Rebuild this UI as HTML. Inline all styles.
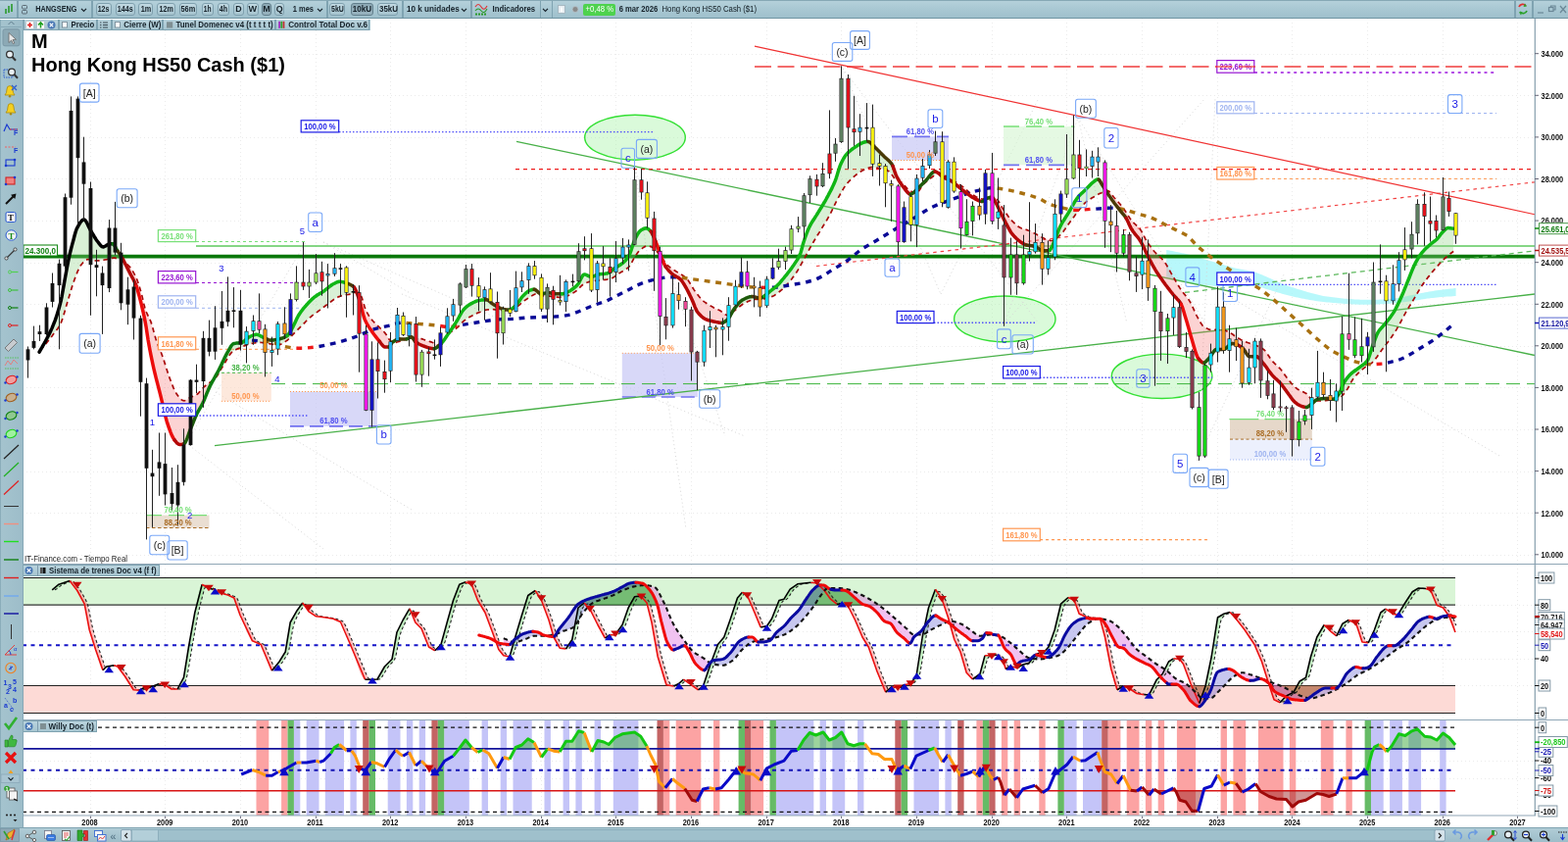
<!DOCTYPE html>
<html lang="es"><head><meta charset="utf-8"><title>HANGSENG - Hong Kong HS50 Cash ($1)</title>
<style>
html,body{margin:0;padding:0;background:#fff;}
body{width:1600px;height:859px;position:relative;overflow:hidden;font-family:"Liberation Sans",Arial,sans-serif;}

.tb{position:absolute;left:0;top:0;width:1600px;height:18px;background:linear-gradient(#6f94a2 0,#b4d0da 1.5px,#a9c8d3 9px,#9fc0cc 18px);border-bottom:1px solid #6f94a2;box-sizing:content-box;font-size:9.6px;font-weight:bold;color:#16222a;white-space:nowrap;}
.tb span,.tb2 span,.pt span{position:absolute;display:block;box-sizing:border-box;}
.btn{top:2.5px;height:13px;line-height:12.5px;border:1px solid #7fa0ae;border-radius:3px;background:linear-gradient(#c0d8e1,#a6c4cf);text-align:center;}
.btn.on{background:linear-gradient(#8ba7b3,#98b3bf);border-color:#627f8c;}
.lbl{top:3px;height:14px;line-height:14px;}
.sep{top:1px;width:1.5px;height:16.5px;background:#7fa3b1;}
.tb2{position:absolute;left:24px;top:20px;width:354px;height:11px;background:#a6c5d0;font-size:9.3px;font-weight:bold;color:#16222a;white-space:nowrap;}
.tab{top:0;height:11px;line-height:10.5px;border:1px solid #7fa3b1;border-top:none;background:linear-gradient(#b9d3dd,#a6c5d0);}
.left{position:absolute;left:0;top:20px;width:22.5px;height:825px;background:linear-gradient(90deg,#7fa3b1 0,#a4c3ce 1.5px,#9dbdc9 100%);border-right:1px solid #86a8b6;}
.bot{position:absolute;left:0;top:844px;width:1600px;height:15px;background:linear-gradient(#b0ccd6,#9dbdc9);border-top:1px solid #7fa3b1;box-sizing:border-box;}
.pt{position:absolute;left:23.5px;height:12px;background:linear-gradient(#b9d3dd,#a6c5d0);border:1px solid #7fa3b1;border-left:none;font-size:9.3px;font-weight:bold;color:#16222a;white-space:nowrap;box-sizing:border-box;}
.ov{position:absolute;left:0;top:0;pointer-events:none;}

</style></head><body>
<svg id="chart" width="1600" height="859" viewBox="0 0 1600 859" style="position:absolute;left:0;top:0" font-family="Liberation Sans, Arial, sans-serif">
<rect x="0" y="0" width="1600" height="859" fill="#ffffff"/>
<defs>
<clipPath id="cpMain"><rect x="23.5" y="19.5" width="1543" height="555.5"/></clipPath>
<clipPath id="cpI1"><rect x="23.5" y="576" width="1545" height="158"/></clipPath>
<clipPath id="cpI2"><rect x="23.5" y="735" width="1545" height="97"/></clipPath>
</defs>
<path d="M92.5 19V832 M168.5 19V832 M245.5 19V832 M322.5 19V832 M398.5 19V832 M475.5 19V832 M552.5 19V832 M628.5 19V832 M705.5 19V832 M782.5 19V832 M858.5 19V832 M935.5 19V832 M1012.5 19V832 M1088.5 19V832 M1165.5 19V832 M1242.5 19V832 M1318.5 19V832 M1395.5 19V832 M1472.5 19V832 M1548.5 19V832 M23 566.5H1566 M23 523.5H1566 M23 481.5H1566 M23 438.5H1566 M23 395.5H1566 M23 353.5H1566 M23 310.5H1566 M23 268.5H1566 M23 225.5H1566 M23 182.5H1566 M23 140.5H1566 M23 97.5H1566 M23 55.5H1566" stroke="#ebebeb" stroke-width="1" stroke-dasharray="1 3" fill="none" clip-path="url(#cpMain)"/>
<path d="M92.5 576V832 M168.5 576V832 M245.5 576V832 M322.5 576V832 M398.5 576V832 M475.5 576V832 M552.5 576V832 M628.5 576V832 M705.5 576V832 M782.5 576V832 M858.5 576V832 M935.5 576V832 M1012.5 576V832 M1088.5 576V832 M1165.5 576V832 M1242.5 576V832 M1318.5 576V832 M1395.5 576V832 M1472.5 576V832 M1548.5 576V832 M23 644.5H1566 M23 672.5H1566 M23 776.5H1566 M23 794.5H1566 M1486 617.5H1566 M1486 699.5H1566" stroke="#ebebeb" stroke-width="1" stroke-dasharray="1 3" fill="none"/>
<g clip-path="url(#cpMain)">
<path d="M1190.2 254.9 L1192.2 255.3 L1194.2 255.7 L1196.2 256.1 L1198.2 256.5 L1200.2 256.9 L1202.2 257.3 L1204.2 257.8 L1206.2 258.2 L1208.2 258.6 L1210.2 259.1 L1212.2 259.6 L1214.2 260.1 L1216.2 260.7 L1218.2 261.2 L1220.2 261.8 L1222.2 262.4 L1224.2 263.0 L1226.2 263.6 L1228.2 264.2 L1230.2 264.8 L1232.2 265.4 L1234.2 266.0 L1236.2 266.6 L1238.2 267.1 L1240.2 267.7 L1242.2 268.3 L1244.2 268.9 L1246.2 269.5 L1248.2 270.1 L1250.2 270.7 L1252.2 271.3 L1254.2 271.8 L1256.2 272.4 L1258.2 272.9 L1260.2 273.4 L1262.2 273.9 L1264.2 274.3 L1266.2 274.7 L1268.2 275.1 L1270.2 275.4 L1272.2 275.8 L1274.2 276.2 L1276.2 276.6 L1278.2 277.0 L1280.2 277.6 L1282.2 278.2 L1284.2 278.9 L1286.2 279.7 L1288.2 280.5 L1290.2 281.4 L1292.2 282.3 L1294.2 283.2 L1296.2 284.1 L1298.2 285.0 L1300.2 285.9 L1302.2 286.9 L1304.2 287.8 L1306.2 288.7 L1308.2 289.5 L1310.2 290.2 L1312.2 291.0 L1314.2 291.7 L1316.2 292.3 L1318.2 293.0 L1320.2 293.6 L1322.2 294.3 L1324.2 294.9 L1326.2 295.5 L1328.2 296.1 L1330.2 296.7 L1332.2 297.3 L1334.2 297.9 L1336.2 298.4 L1338.2 299.0 L1340.2 299.5 L1342.2 300.1 L1344.2 300.6 L1346.2 301.1 L1348.2 301.5 L1350.2 301.9 L1352.2 302.2 L1354.2 302.5 L1356.2 302.8 L1358.2 303.1 L1360.2 303.3 L1362.2 303.6 L1364.2 303.8 L1366.2 304.0 L1368.2 304.3 L1370.2 304.5 L1372.2 304.7 L1374.2 304.8 L1376.2 305.0 L1378.2 305.1 L1380.2 305.3 L1382.2 305.4 L1384.2 305.5 L1386.2 305.6 L1388.2 305.7 L1390.2 305.7 L1392.2 305.7 L1394.2 305.7 L1396.2 305.7 L1398.2 305.7 L1400.2 305.7 L1402.2 305.7 L1404.2 305.7 L1406.2 305.7 L1408.2 305.6 L1410.2 305.5 L1412.2 305.4 L1414.2 305.2 L1416.2 305.1 L1418.2 304.9 L1420.2 304.7 L1422.2 304.5 L1424.2 304.2 L1426.2 303.9 L1428.2 303.5 L1430.2 303.2 L1432.2 302.8 L1434.2 302.5 L1436.2 302.1 L1438.2 301.6 L1440.2 301.2 L1442.2 300.8 L1444.2 300.4 L1446.2 300.0 L1448.2 299.6 L1450.2 299.1 L1452.2 298.7 L1454.2 298.3 L1456.2 298.0 L1458.2 297.6 L1460.2 297.3 L1462.2 296.9 L1464.2 296.6 L1466.2 296.3 L1468.2 296.0 L1470.2 295.7 L1472.2 295.4 L1474.2 295.2 L1476.2 295.0 L1478.2 294.8 L1480.2 294.6 L1482.2 294.4 L1484.2 294.1 L1485.6 294.0 L1485.6 302.0 L1484.2 302.1 L1482.2 302.2 L1480.2 302.4 L1478.2 302.5 L1476.2 302.6 L1474.2 302.8 L1472.2 302.9 L1470.2 303.1 L1468.2 303.3 L1466.2 303.5 L1464.2 303.7 L1462.2 303.9 L1460.2 304.1 L1458.2 304.4 L1456.2 304.6 L1454.2 304.9 L1452.2 305.3 L1450.2 305.6 L1448.2 305.9 L1446.2 306.2 L1444.2 306.5 L1442.2 306.8 L1440.2 307.1 L1438.2 307.4 L1436.2 307.7 L1434.2 308.0 L1432.2 308.3 L1430.2 308.5 L1428.2 308.8 L1426.2 309.0 L1424.2 309.2 L1422.2 309.4 L1420.2 309.6 L1418.2 309.8 L1416.2 309.9 L1414.2 310.0 L1412.2 310.1 L1410.2 310.2 L1408.2 310.3 L1406.2 310.4 L1404.2 310.5 L1402.2 310.5 L1400.2 310.6 L1398.2 310.7 L1396.2 310.7 L1394.2 310.8 L1392.2 310.8 L1390.2 310.8 L1388.2 310.8 L1386.2 310.7 L1384.2 310.6 L1382.2 310.5 L1380.2 310.4 L1378.2 310.3 L1376.2 310.2 L1374.2 310.1 L1372.2 309.9 L1370.2 309.8 L1368.2 309.6 L1366.2 309.4 L1364.2 309.2 L1362.2 309.1 L1360.2 308.9 L1358.2 308.7 L1356.2 308.6 L1354.2 308.4 L1352.2 308.2 L1350.2 308.0 L1348.2 307.7 L1346.2 307.5 L1344.2 307.2 L1342.2 306.9 L1340.2 306.6 L1338.2 306.2 L1336.2 305.9 L1334.2 305.6 L1332.2 305.2 L1330.2 304.8 L1328.2 304.4 L1326.2 304.0 L1324.2 303.6 L1322.2 303.2 L1320.2 302.8 L1318.2 302.3 L1316.2 301.8 L1314.2 301.3 L1312.2 300.8 L1310.2 300.2 L1308.2 299.7 L1306.2 299.1 L1304.2 298.5 L1302.2 297.9 L1300.2 297.3 L1298.2 296.7 L1296.2 296.1 L1294.2 295.5 L1292.2 294.9 L1290.2 294.3 L1288.2 293.6 L1286.2 293.0 L1284.2 292.5 L1282.2 292.2 L1280.2 292.0 L1278.2 292.0 L1276.2 292.0 L1274.2 292.0 L1272.2 292.0 L1270.2 292.0 L1268.2 292.0 L1266.2 292.0 L1264.2 292.0 L1262.2 292.0 L1260.2 292.0 L1258.2 292.0 L1256.2 292.0 L1254.2 292.0 L1252.2 292.0 L1250.2 292.0 L1248.2 292.0 L1246.2 292.0 L1244.2 292.0 L1242.2 292.0 L1240.2 291.9 L1238.2 291.8 L1236.2 291.6 L1234.2 291.5 L1232.2 291.3 L1230.2 291.1 L1228.2 290.8 L1226.2 290.6 L1224.2 290.3 L1222.2 290.0 L1220.2 289.7 L1218.2 289.5 L1216.2 289.2 L1214.2 288.9 L1212.2 288.5 L1210.2 288.2 L1208.2 287.7 L1206.2 287.2 L1204.2 286.7 L1202.2 286.2 L1200.2 285.7 L1198.2 285.1 L1196.2 284.6 L1194.2 284.0 L1192.2 283.5 L1190.2 283.0Z" fill="#a6f6fa" fill-opacity="0.8"/>
<ellipse cx="648" cy="140.2" rx="51.3" ry="23" fill="#a8f2a8" fill-opacity="0.42" stroke="#34e034" stroke-width="1.4"/>
<ellipse cx="1025.3" cy="325.4" rx="51.7" ry="23.4" fill="#a8f2a8" fill-opacity="0.42" stroke="#34e034" stroke-width="1.4"/>
<ellipse cx="1185.6" cy="383.8" rx="51.3" ry="22.7" fill="#a8f2a8" fill-opacity="0.42" stroke="#34e034" stroke-width="1.4"/>
<path d="M190.0 452.0L330.0 560.0" stroke="#d6d6d6" stroke-width="1" fill="none" stroke-dasharray="1 3"/>
<path d="M190.0 452.0L312.0 247.0" stroke="#d6d6d6" stroke-width="1" fill="none" stroke-dasharray="1 3"/>
<path d="M220.0 400.0L420.0 520.0" stroke="#d6d6d6" stroke-width="1" fill="none" stroke-dasharray="1 3"/>
<path d="M330.0 247.0L520.0 330.0" stroke="#d6d6d6" stroke-width="1" fill="none" stroke-dasharray="1 3"/>
<path d="M330.0 247.0L420.0 300.0" stroke="#d6d6d6" stroke-width="1" fill="none" stroke-dasharray="1 3"/>
<path d="M410.0 300.0L760.0 445.0" stroke="#d6d6d6" stroke-width="1" fill="none" stroke-dasharray="1 3"/>
<path d="M648.0 172.0L700.0 540.0" stroke="#d6d6d6" stroke-width="1" fill="none" stroke-dasharray="1 3"/>
<path d="M648.0 172.0L740.0 445.0" stroke="#d6d6d6" stroke-width="1" fill="none" stroke-dasharray="1 3"/>
<path d="M860.0 70.0L1060.0 330.0" stroke="#d6d6d6" stroke-width="1" fill="none" stroke-dasharray="1 3"/>
<path d="M860.0 70.0L960.0 300.0" stroke="#d6d6d6" stroke-width="1" fill="none" stroke-dasharray="1 3"/>
<path d="M1025.0 330.0L1100.0 120.0" stroke="#d6d6d6" stroke-width="1" fill="none" stroke-dasharray="1 3"/>
<path d="M1025.0 330.0L1230.0 100.0" stroke="#d6d6d6" stroke-width="1" fill="none" stroke-dasharray="1 3"/>
<path d="M1100.0 120.0L1230.0 330.0" stroke="#d6d6d6" stroke-width="1" fill="none" stroke-dasharray="1 3"/>
<path d="M1222.0 470.0L1310.0 280.0" stroke="#d6d6d6" stroke-width="1" fill="none" stroke-dasharray="1 3"/>
<path d="M1222.0 470.0L1240.0 100.0" stroke="#d6d6d6" stroke-width="1" fill="none" stroke-dasharray="1 3"/>
<path d="M1250.0 300.0L1530.0 465.0" stroke="#d6d6d6" stroke-width="1" fill="none" stroke-dasharray="1 3"/>
<path d="M1100.0 120.0L1150.0 330.0" stroke="#d6d6d6" stroke-width="1" fill="none" stroke-dasharray="1 3"/>
<path d="M960.0 300.0L1060.0 100.0" stroke="#d6d6d6" stroke-width="1" fill="none" stroke-dasharray="1 3"/>
<rect x="226" y="380.3" width="50.8" height="29" fill="#fbd9c4" fill-opacity="0.6"/>
<rect x="296" y="399.5" width="89" height="35.3" fill="#c8c8f5" fill-opacity="0.7"/>
<rect x="149" y="525.6" width="64.500" height="12.9" fill="#dcc8b4" fill-opacity="0.6"/>
<rect x="634.8" y="360.3" width="77.2" height="44.7" fill="#c8c8f5" fill-opacity="0.7"/>
<rect x="910" y="139.3" width="58" height="24.2" fill="#c8c8f5" fill-opacity="0.7"/>
<rect x="1024" y="129" width="72.3" height="39.3" fill="#d4f5d0" fill-opacity="0.6"/>
<rect x="1255" y="427.7" width="83.8" height="20.4" fill="#dcc8b4" fill-opacity="0.7"/>
<rect x="1255" y="448.1" width="83.8" height="20.9" fill="#e4eafc" fill-opacity="0.7"/>
<path d="M226.0 380.3L276.8 380.3" stroke="#46b446" stroke-width="1" fill="none" stroke-dasharray="3 2.5"/>
<path d="M226.0 409.3L276.8 409.3" stroke="#ff9650" stroke-width="1" fill="none" stroke-dasharray="1 2"/>
<path d="M296.0 399.5L385.0 399.5" stroke="#ff9650" stroke-width="1" fill="none" stroke-dasharray="1 2"/>
<path d="M296.0 434.8L385.0 434.8" stroke="#7272f0" stroke-width="1.7" fill="none" stroke-dasharray="14 6"/>
<path d="M149.0 525.6L213.0 525.6" stroke="#78e078" stroke-width="1.3" fill="none" stroke-dasharray="16 7"/>
<path d="M149.0 538.5L213.5 538.5" stroke="#aa6e28" stroke-width="1.1" fill="none" stroke-dasharray="3.500 2.500"/>
<path d="M634.8 360.3L712.0 360.3" stroke="#ff9650" stroke-width="1" fill="none" stroke-dasharray="1 2"/>
<path d="M634.8 405.0L712.0 405.0" stroke="#7272f0" stroke-width="1.7" fill="none" stroke-dasharray="14 6"/>
<path d="M910.0 139.3L968.0 139.3" stroke="#7272f0" stroke-width="1.7" fill="none" stroke-dasharray="16 7"/>
<path d="M910.0 163.5L968.0 163.5" stroke="#ff9650" stroke-width="1" fill="none" stroke-dasharray="1 2"/>
<path d="M1024.0 129.0L1096.3 129.0" stroke="#78e078" stroke-width="1.5" fill="none" stroke-dasharray="16 7"/>
<path d="M1024.0 168.3L1096.3 168.3" stroke="#7272f0" stroke-width="1.7" fill="none" stroke-dasharray="16 7"/>
<path d="M1254.4 427.7L1338.0 427.7" stroke="#78e078" stroke-width="1.3" fill="none" stroke-dasharray="30 6"/>
<path d="M1255.0 448.1L1338.8 448.1" stroke="#aa6e28" stroke-width="1" fill="none" stroke-dasharray="3 2.5"/>
<path d="M1255.0 469.0L1338.8 469.0" stroke="#9fb4f0" stroke-width="1" fill="none" stroke-dasharray="1 2"/>
<path d="M23.0 261.6L1566.0 261.6" stroke="#0a780a" stroke-width="3.6" fill="none"/>
<path d="M200.0 251.0L1566.0 251.0" stroke="#5cc85c" stroke-width="1.3" fill="none"/>
<path d="M200.0 246.5L312.0 246.5" stroke="#78e078" stroke-width="1" fill="none" stroke-dasharray="3 3"/>
<path d="M200.0 288.5L309.4 288.5" stroke="#9614d2" stroke-width="1" fill="none" stroke-dasharray="3 3"/>
<path d="M200.0 314.3L312.0 314.3" stroke="#9fb4f0" stroke-width="1" fill="none" stroke-dasharray="3 3"/>
<path d="M200.0 356.3L302.0 356.3" stroke="#ff9650" stroke-width="1" fill="none" stroke-dasharray="3 3"/>
<path d="M200.0 424.0L313.4 424.0" stroke="#5050f8" stroke-width="1.4" fill="none" stroke-dasharray="1.500 2"/>
<path d="M346.0 134.6L667.6 134.6" stroke="#5050f8" stroke-width="1.4" fill="none" stroke-dasharray="1.500 2"/>
<path d="M953.0 329.3L1057.5 329.3" stroke="#5050f8" stroke-width="1.4" fill="none" stroke-dasharray="1.500 2"/>
<path d="M1061.0 385.2L1237.0 385.2" stroke="#5050f8" stroke-width="1.4" fill="none" stroke-dasharray="1.500 2"/>
<path d="M1280.0 290.4L1528.0 290.4" stroke="#5050f8" stroke-width="1.4" fill="none" stroke-dasharray="1.500 2"/>
<path d="M1061.0 550.7L1235.0 550.7" stroke="#ff9650" stroke-width="1.2" fill="none" stroke-dasharray="3 3"/>
<path d="M1280.0 74.0L1527.0 74.0" stroke="#b44ee6" stroke-width="2" fill="none" stroke-dasharray="3 3.700"/>
<path d="M1280.0 115.5L1527.0 115.5" stroke="#9fb4f0" stroke-width="1" fill="none" stroke-dasharray="3 3"/>
<path d="M1280.0 182.4L1527.0 182.4" stroke="#ff9650" stroke-width="1" fill="none" stroke-dasharray="3 3"/>
<path d="M277.0 391.6L1566.0 391.6" stroke="#3cb43c" stroke-width="1" fill="none" stroke-dasharray="14 7"/>
<path d="M527.0 144.4L1566.0 362.5" stroke="#48b048" stroke-width="1.3" fill="none"/>
<path d="M219.0 454.7L1566.0 300.0" stroke="#48b048" stroke-width="1.3" fill="none"/>
<path d="M1209.0 298.4L1566.0 255.9" stroke="#5cb85c" stroke-width="1.3" fill="none" stroke-dasharray="5 4"/>
<path d="M526.0 172.6L1566.0 172.6" stroke="#ee1c1c" stroke-width="1.25" fill="none" stroke-dasharray="4 4"/>
<path d="M833.0 271.5L1566.0 185.8" stroke="#f24444" stroke-width="1.2" fill="none" stroke-dasharray="3.5 4"/>
<path d="M770.0 68.0L1566.0 68.0" stroke="#f03c3c" stroke-width="1.5" fill="none" stroke-dasharray="17 6.5"/>
<path d="M770.0 47.1L1566.0 218.7" stroke="#f03232" stroke-width="1.1" fill="none"/>
<path d="M41.0 357.5 L42.0 355.8 L43.0 354.0 L44.0 352.3 L45.0 350.5 L46.0 348.7 L47.0 346.9 L48.0 345.0 L49.0 343.1 L50.0 341.1 L51.0 339.1 L52.0 337.0 L53.0 334.8 L54.0 332.5 L55.0 330.0 L56.0 327.4 L57.0 324.6 L58.0 321.6 L59.0 318.4 L60.0 315.0 L61.0 311.4 L62.0 307.5 L63.0 302.8 L64.0 297.4 L65.0 291.6 L66.0 286.1 L67.0 280.6 L68.0 275.1 L69.0 269.7 L70.0 264.6 L71.0 260.1 L72.0 255.9 L73.0 252.0 L74.0 248.2 L75.0 244.5 L76.0 240.7 L77.0 237.1 L78.0 234.1 L79.0 232.0 L80.0 230.2 L81.0 228.5 L82.0 226.9 L83.0 225.6 L84.0 224.7 L85.0 224.1 L86.0 224.1 L87.0 224.8 L88.0 226.2 L89.0 228.1 L90.0 230.1 L91.0 232.3 L92.0 234.2 L93.0 235.9 L94.0 237.6 L95.0 239.3 L96.0 241.0 L97.0 242.7 L98.0 244.2 L99.0 245.6 L100.0 246.9 L101.0 248.2 L102.0 249.6 L103.0 250.7 L104.0 251.6 L105.0 252.0 L106.0 251.8 L107.0 251.4 L108.0 250.7 L109.0 250.0 L110.0 249.5 L111.0 249.2 L112.0 249.0 L113.0 248.8 L114.0 248.7 L115.0 248.7 L116.0 249.3 L117.0 250.8 L118.0 252.7 L119.0 254.5 L120.0 256.0 L121.0 257.4 L122.0 258.9 L123.0 260.4 L124.0 262.0 L125.0 263.7 L126.0 265.5 L127.0 267.5 L127.0 267.4 L126.0 266.7 L125.0 266.1 L124.0 265.7 L123.0 265.2 L122.0 264.7 L121.0 264.3 L120.0 263.9 L119.0 263.6 L118.0 263.4 L117.0 263.2 L116.0 263.2 L115.0 263.3 L114.0 263.5 L113.0 263.7 L112.0 264.0 L111.0 264.3 L110.0 264.5 L109.0 264.7 L108.0 264.8 L107.0 265.0 L106.0 265.2 L105.0 265.3 L104.0 265.5 L103.0 265.6 L102.0 265.8 L101.0 265.9 L100.0 265.9 L99.0 266.0 L98.0 266.0 L97.0 265.9 L96.0 265.8 L95.0 265.5 L94.0 265.3 L93.0 265.1 L92.0 264.8 L91.0 264.7 L90.0 264.6 L89.0 264.7 L88.0 265.1 L87.0 265.8 L86.0 266.7 L85.0 267.7 L84.0 268.8 L83.0 270.0 L82.0 271.3 L81.0 273.0 L80.0 275.1 L79.0 277.4 L78.0 280.0 L77.0 282.6 L76.0 285.2 L75.0 288.0 L74.0 291.0 L73.0 294.2 L72.0 297.6 L71.0 300.9 L70.0 304.3 L69.0 307.6 L68.0 310.9 L67.0 314.4 L66.0 317.9 L65.0 321.3 L64.0 324.6 L63.0 327.4 L62.0 329.8 L61.0 331.7 L60.0 333.4 L59.0 335.0 L58.0 336.4 L57.0 337.8 L56.0 339.1 L55.0 340.3 L54.0 341.6 L53.0 343.0 L52.0 344.3 L51.0 345.5 L50.0 346.8 L49.0 348.0 L48.0 349.3 L47.0 350.5 L46.0 351.7 L45.0 352.9 L44.0 354.1 L43.0 355.3 L42.0 356.5 L41.0 357.7Z" fill="rgba(140,210,130,0.33)" stroke="none"/>
<path d="M127.0 267.5 L128.0 269.5 L129.0 271.5 L130.0 273.6 L131.0 275.6 L132.0 277.6 L133.0 279.5 L134.0 281.3 L135.0 283.1 L136.0 285.0 L137.0 287.1 L138.0 289.3 L139.0 291.8 L140.0 294.7 L141.0 298.1 L142.0 301.7 L143.0 305.6 L144.0 309.5 L145.0 313.6 L146.0 317.8 L147.0 322.4 L148.0 327.4 L149.0 333.0 L150.0 339.6 L151.0 346.2 L152.0 351.9 L153.0 357.2 L154.0 362.3 L155.0 367.2 L156.0 371.8 L157.0 376.3 L158.0 380.6 L159.0 384.7 L160.0 388.7 L161.0 392.5 L162.0 396.4 L163.0 400.2 L164.0 404.2 L165.0 408.4 L166.0 412.7 L167.0 417.1 L168.0 421.4 L169.0 425.4 L170.0 429.1 L171.0 432.3 L172.0 435.3 L173.0 438.1 L174.0 440.8 L175.0 443.3 L176.0 445.5 L177.0 447.3 L178.0 448.8 L179.0 450.1 L180.0 451.3 L181.0 452.3 L182.0 453.0 L183.0 453.4 L184.0 453.5 L185.0 453.4 L186.0 453.2 L187.0 452.9 L188.0 452.4 L189.0 451.3 L190.0 449.4 L191.0 447.0 L192.0 444.3 L193.0 441.5 L194.0 438.8 L195.0 436.4 L196.0 433.9 L197.0 431.3 L198.0 428.7 L199.0 426.3 L200.0 424.0 L201.0 422.0 L202.0 420.1 L203.0 418.3 L204.0 416.6 L205.0 414.8 L206.0 413.0 L207.0 411.0 L208.0 408.8 L209.0 406.4 L210.0 404.0 L211.0 401.5 L212.0 399.0 L213.0 396.7 L214.0 394.5 L215.0 392.5 L216.0 390.6 L217.0 388.7 L218.0 386.9 L218.0 387.4 L217.0 388.2 L216.0 388.9 L215.0 389.6 L214.0 390.3 L213.0 390.9 L212.0 391.6 L211.0 392.3 L210.0 393.1 L209.0 394.0 L208.0 394.9 L207.0 396.0 L206.0 397.1 L205.0 398.3 L204.0 399.4 L203.0 400.5 L202.0 401.5 L201.0 402.3 L200.0 403.0 L199.0 403.5 L198.0 403.9 L197.0 404.3 L196.0 404.6 L195.0 405.0 L194.0 405.5 L193.0 406.1 L192.0 406.8 L191.0 407.5 L190.0 408.1 L189.0 408.5 L188.0 408.8 L187.0 408.7 L186.0 408.3 L185.0 407.6 L184.0 406.6 L183.0 405.5 L182.0 404.2 L181.0 402.9 L180.0 401.6 L179.0 399.8 L178.0 397.8 L177.0 395.6 L176.0 393.1 L175.0 390.6 L174.0 388.0 L173.0 385.4 L172.0 382.6 L171.0 379.6 L170.0 376.5 L169.0 373.3 L168.0 370.1 L167.0 366.9 L166.0 364.0 L165.0 361.2 L164.0 358.7 L163.0 356.3 L162.0 353.9 L161.0 351.5 L160.0 348.9 L159.0 345.8 L158.0 342.3 L157.0 338.6 L156.0 334.9 L155.0 331.4 L154.0 328.4 L153.0 326.0 L152.0 323.9 L151.0 322.0 L150.0 320.0 L149.0 317.6 L148.0 314.7 L147.0 310.8 L146.0 306.4 L145.0 302.1 L144.0 298.5 L143.0 295.1 L142.0 291.7 L141.0 288.6 L140.0 285.8 L139.0 283.3 L138.0 281.3 L137.0 279.4 L136.0 277.6 L135.0 275.9 L134.0 274.5 L133.0 273.1 L132.0 271.9 L131.0 270.9 L130.0 269.9 L129.0 269.0 L128.0 268.1 L127.0 267.4Z" fill="rgba(245,120,120,0.33)" stroke="none"/>
<path d="M218.0 386.9 L219.0 385.2 L220.0 383.4 L221.0 381.6 L222.0 379.8 L223.0 378.0 L224.0 376.0 L225.0 374.0 L226.0 371.9 L227.0 369.8 L228.0 367.6 L229.0 365.5 L230.0 363.5 L231.0 361.5 L232.0 359.7 L233.0 358.0 L234.0 356.3 L235.0 354.5 L236.0 352.9 L237.0 351.6 L238.0 350.8 L239.0 350.5 L240.0 350.3 L241.0 350.1 L242.0 350.0 L243.0 349.9 L244.0 349.8 L245.0 349.7 L246.0 349.5 L247.0 349.3 L248.0 348.8 L249.0 348.1 L250.0 347.3 L251.0 346.4 L252.0 345.5 L253.0 344.7 L254.0 344.0 L255.0 343.5 L256.0 343.0 L257.0 342.6 L258.0 342.1 L259.0 341.8 L260.0 341.5 L261.0 341.3 L262.0 341.3 L263.0 341.5 L264.0 341.8 L265.0 342.3 L266.0 342.8 L267.0 343.4 L268.0 343.9 L269.0 344.5 L270.0 344.9 L271.0 345.3 L272.0 345.7 L273.0 346.2 L274.0 346.5 L275.0 346.8 L276.0 347.0 L277.0 347.1 L278.0 347.1 L279.0 347.0 L280.0 346.9 L281.0 346.7 L282.0 346.5 L283.0 346.3 L284.0 346.1 L285.0 345.9 L286.0 345.7 L287.0 345.4 L288.0 345.0 L289.0 344.6 L290.0 344.2 L291.0 343.7 L292.0 343.1 L293.0 342.5 L294.0 341.6 L295.0 340.2 L296.0 338.6 L297.0 336.9 L298.0 335.2 L299.0 333.3 L300.0 331.2 L301.0 329.1 L302.0 326.9 L303.0 324.8 L304.0 322.9 L305.0 321.2 L306.0 319.7 L307.0 318.2 L308.0 316.9 L309.0 315.6 L310.0 314.3 L311.0 313.1 L312.0 312.0 L313.0 310.8 L314.0 309.7 L315.0 308.6 L316.0 307.6 L317.0 306.6 L318.0 305.6 L319.0 304.7 L320.0 303.8 L321.0 303.0 L322.0 302.2 L323.0 301.5 L324.0 300.9 L325.0 300.3 L326.0 299.7 L327.0 299.1 L328.0 298.5 L329.0 297.9 L330.0 297.3 L331.0 296.6 L332.0 295.8 L333.0 295.0 L334.0 294.2 L335.0 293.3 L336.0 292.5 L337.0 291.7 L338.0 291.0 L339.0 290.4 L340.0 289.8 L341.0 289.3 L342.0 288.8 L343.0 288.3 L344.0 287.9 L345.0 287.5 L346.0 287.4 L347.0 287.3 L348.0 287.4 L349.0 287.5 L350.0 287.8 L351.0 288.1 L352.0 288.4 L353.0 288.7 L354.0 289.0 L355.0 289.3 L356.0 289.7 L357.0 290.1 L358.0 290.6 L359.0 291.2 L360.0 291.9 L361.0 292.7 L362.0 294.1 L363.0 296.0 L364.0 298.4 L364.0 298.3 L363.0 298.2 L362.0 298.4 L361.0 298.8 L360.0 299.3 L359.0 299.8 L358.0 300.1 L357.0 300.2 L356.0 300.4 L355.0 300.5 L354.0 300.6 L353.0 300.7 L352.0 300.9 L351.0 301.1 L350.0 301.3 L349.0 301.6 L348.0 301.9 L347.0 302.2 L346.0 302.6 L345.0 303.0 L344.0 303.5 L343.0 304.0 L342.0 304.6 L341.0 305.3 L340.0 306.0 L339.0 306.8 L338.0 307.5 L337.0 308.3 L336.0 309.1 L335.0 309.8 L334.0 310.5 L333.0 311.3 L332.0 312.0 L331.0 312.8 L330.0 313.5 L329.0 314.3 L328.0 315.1 L327.0 315.8 L326.0 316.6 L325.0 317.3 L324.0 318.1 L323.0 318.8 L322.0 319.5 L321.0 320.2 L320.0 320.9 L319.0 321.7 L318.0 322.5 L317.0 323.3 L316.0 324.1 L315.0 325.1 L314.0 326.0 L313.0 327.0 L312.0 328.0 L311.0 329.1 L310.0 330.1 L309.0 331.2 L308.0 332.2 L307.0 333.2 L306.0 334.2 L305.0 335.2 L304.0 336.2 L303.0 337.2 L302.0 338.2 L301.0 339.2 L300.0 340.2 L299.0 341.2 L298.0 342.3 L297.0 343.5 L296.0 344.5 L295.0 345.5 L294.0 346.4 L293.0 347.2 L292.0 347.9 L291.0 348.6 L290.0 349.2 L289.0 349.9 L288.0 350.5 L287.0 351.0 L286.0 351.4 L285.0 351.7 L284.0 351.8 L283.0 351.8 L282.0 351.7 L281.0 351.6 L280.0 351.5 L279.0 351.3 L278.0 351.2 L277.0 351.0 L276.0 350.8 L275.0 350.7 L274.0 350.5 L273.0 350.4 L272.0 350.2 L271.0 350.0 L270.0 349.9 L269.0 349.7 L268.0 349.6 L267.0 349.5 L266.0 349.4 L265.0 349.4 L264.0 349.4 L263.0 349.5 L262.0 349.6 L261.0 349.7 L260.0 349.9 L259.0 350.0 L258.0 350.2 L257.0 350.4 L256.0 350.6 L255.0 350.8 L254.0 351.1 L253.0 351.4 L252.0 351.8 L251.0 352.2 L250.0 352.6 L249.0 353.0 L248.0 353.5 L247.0 353.9 L246.0 354.4 L245.0 354.8 L244.0 355.2 L243.0 355.6 L242.0 356.0 L241.0 356.5 L240.0 357.0 L239.0 357.6 L238.0 358.2 L237.0 358.9 L236.0 359.9 L235.0 361.1 L234.0 362.5 L233.0 364.1 L232.0 365.8 L231.0 367.5 L230.0 369.2 L229.0 370.9 L228.0 372.5 L227.0 374.2 L226.0 375.9 L225.0 377.7 L224.0 379.5 L223.0 381.3 L222.0 382.9 L221.0 384.3 L220.0 385.5 L219.0 386.5 L218.0 387.4Z" fill="rgba(140,210,130,0.33)" stroke="none"/>
<path d="M364.0 298.4 L365.0 301.1 L366.0 303.8 L367.0 306.7 L368.0 310.3 L369.0 314.3 L370.0 318.4 L371.0 322.2 L372.0 325.3 L373.0 327.6 L374.0 329.6 L375.0 331.4 L376.0 333.0 L377.0 334.5 L378.0 335.9 L379.0 337.4 L380.0 338.8 L381.0 340.3 L382.0 341.7 L383.0 343.0 L384.0 344.3 L385.0 345.6 L386.0 346.7 L387.0 348.0 L388.0 349.3 L389.0 350.6 L390.0 351.9 L391.0 353.0 L392.0 353.7 L393.0 354.1 L394.0 354.1 L395.0 354.1 L396.0 354.1 L397.0 354.0 L398.0 352.8 L399.0 351.1 L400.0 349.6 L401.0 348.8 L401.0 349.0 L400.0 348.5 L399.0 347.9 L398.0 347.2 L397.0 346.2 L396.0 344.6 L395.0 342.9 L394.0 341.2 L393.0 339.9 L392.0 338.7 L391.0 337.7 L390.0 336.7 L389.0 335.7 L388.0 334.8 L387.0 333.8 L386.0 332.8 L385.0 331.8 L384.0 330.9 L383.0 330.0 L382.0 329.0 L381.0 328.0 L380.0 326.9 L379.0 325.7 L378.0 324.4 L377.0 323.0 L376.0 321.4 L375.0 319.7 L374.0 317.8 L373.0 315.7 L372.0 312.7 L371.0 309.3 L370.0 305.9 L369.0 303.0 L368.0 301.0 L367.0 300.0 L366.0 299.3 L365.0 298.7 L364.0 298.3Z" fill="rgba(245,120,120,0.33)" stroke="none"/>
<path d="M401.0 348.8 L402.0 348.1 L403.0 347.4 L404.0 346.9 L405.0 346.4 L406.0 346.1 L407.0 345.9 L408.0 345.9 L409.0 345.9 L410.0 345.9 L411.0 345.9 L412.0 345.9 L413.0 345.9 L414.0 345.9 L415.0 345.8 L415.0 345.6 L414.0 346.0 L413.0 346.4 L412.0 346.8 L411.0 347.1 L410.0 347.5 L409.0 347.7 L408.0 348.1 L407.0 348.4 L406.0 348.8 L405.0 349.0 L404.0 349.3 L403.0 349.4 L402.0 349.3 L401.0 349.0Z" fill="rgba(140,210,130,0.33)" stroke="none"/>
<path d="M415.0 345.8 L416.0 345.5 L417.0 345.0 L418.0 344.5 L418.0 344.7 L417.0 344.9 L416.0 345.2 L415.0 345.6Z" fill="rgba(245,120,120,0.33)" stroke="none"/>
<path d="M418.0 344.5 L419.0 344.2 L420.0 344.0 L421.0 344.6 L421.0 344.5 L420.0 344.5 L419.0 344.6 L418.0 344.7Z" fill="rgba(140,210,130,0.33)" stroke="none"/>
<path d="M421.0 344.6 L422.0 346.0 L423.0 347.6 L424.0 348.7 L425.0 349.4 L426.0 350.0 L427.0 350.6 L428.0 351.2 L429.0 351.7 L430.0 352.1 L431.0 352.5 L432.0 352.9 L433.0 353.3 L434.0 353.6 L435.0 354.0 L436.0 354.3 L437.0 354.6 L438.0 354.9 L439.0 355.2 L440.0 355.4 L441.0 355.6 L442.0 355.7 L443.0 355.7 L444.0 355.4 L445.0 354.9 L446.0 354.2 L447.0 353.4 L448.0 352.5 L449.0 351.6 L450.0 350.7 L451.0 349.7 L452.0 348.4 L452.0 348.6 L451.0 349.5 L450.0 350.3 L449.0 351.1 L448.0 351.7 L447.0 352.1 L446.0 352.2 L445.0 351.8 L444.0 350.9 L443.0 350.1 L442.0 349.6 L441.0 349.3 L440.0 348.9 L439.0 348.6 L438.0 348.3 L437.0 348.0 L436.0 347.7 L435.0 347.4 L434.0 347.0 L433.0 346.6 L432.0 346.3 L431.0 345.9 L430.0 345.6 L429.0 345.4 L428.0 345.2 L427.0 345.1 L426.0 344.9 L425.0 344.8 L424.0 344.7 L423.0 344.6 L422.0 344.6 L421.0 344.5Z" fill="rgba(245,120,120,0.33)" stroke="none"/>
<path d="M452.0 348.4 L453.0 347.1 L454.0 345.6 L455.0 344.1 L456.0 342.7 L457.0 341.2 L458.0 339.8 L459.0 338.3 L460.0 336.9 L461.0 335.4 L462.0 333.9 L463.0 332.3 L464.0 330.8 L465.0 329.2 L466.0 327.6 L467.0 325.9 L468.0 324.1 L469.0 322.3 L470.0 320.5 L471.0 318.8 L472.0 317.2 L473.0 316.0 L474.0 314.9 L475.0 313.9 L476.0 313.0 L477.0 312.2 L478.0 311.4 L479.0 310.8 L480.0 310.2 L481.0 309.6 L482.0 309.1 L483.0 308.6 L484.0 308.1 L485.0 307.7 L486.0 307.3 L487.0 306.9 L488.0 306.7 L489.0 306.4 L490.0 306.3 L491.0 306.1 L492.0 306.0 L493.0 305.9 L494.0 305.8 L495.0 305.7 L496.0 305.7 L497.0 305.9 L498.0 306.3 L499.0 307.0 L500.0 307.8 L501.0 308.7 L502.0 309.5 L503.0 310.2 L504.0 310.8 L505.0 311.4 L506.0 312.0 L507.0 312.6 L508.0 313.2 L509.0 313.7 L510.0 314.2 L511.0 314.6 L512.0 314.9 L513.0 315.1 L514.0 315.4 L515.0 315.6 L516.0 315.8 L517.0 315.9 L518.0 316.0 L519.0 316.1 L520.0 316.0 L521.0 315.7 L522.0 315.2 L523.0 314.5 L524.0 313.7 L525.0 312.8 L526.0 311.9 L527.0 310.9 L528.0 309.7 L529.0 308.3 L530.0 306.8 L531.0 305.3 L532.0 303.9 L533.0 302.6 L534.0 301.6 L535.0 300.6 L536.0 299.6 L537.0 298.7 L538.0 297.8 L539.0 297.1 L540.0 296.6 L541.0 296.2 L542.0 295.8 L543.0 295.5 L544.0 295.3 L545.0 295.2 L546.0 295.5 L547.0 296.1 L548.0 297.0 L549.0 298.0 L550.0 298.9 L551.0 299.5 L552.0 299.8 L553.0 299.7 L554.0 299.6 L555.0 299.4 L556.0 299.1 L557.0 298.9 L558.0 298.8 L559.0 298.7 L560.0 298.7 L561.0 298.8 L562.0 299.0 L563.0 299.1 L564.0 299.3 L565.0 299.5 L566.0 299.6 L567.0 299.7 L568.0 299.8 L569.0 299.8 L570.0 299.8 L571.0 299.8 L572.0 299.8 L573.0 299.8 L574.0 299.7 L575.0 299.5 L576.0 299.2 L577.0 298.9 L578.0 298.4 L579.0 298.0 L580.0 297.5 L581.0 297.0 L582.0 296.4 L583.0 295.8 L584.0 295.1 L585.0 294.4 L586.0 293.5 L587.0 292.7 L588.0 291.8 L589.0 290.8 L590.0 289.6 L591.0 287.9 L592.0 286.0 L593.0 284.0 L594.0 282.2 L595.0 280.8 L596.0 280.1 L597.0 280.1 L598.0 280.4 L599.0 280.8 L600.0 281.3 L601.0 281.8 L602.0 282.2 L603.0 282.4 L604.0 282.3 L605.0 282.1 L606.0 281.7 L607.0 281.2 L608.0 280.8 L609.0 280.3 L610.0 280.0 L611.0 279.9 L612.0 279.7 L613.0 279.6 L614.0 279.5 L615.0 279.5 L616.0 279.4 L617.0 279.3 L618.0 279.2 L619.0 279.0 L620.0 278.8 L621.0 278.3 L622.0 277.8 L623.0 277.1 L624.0 276.3 L625.0 275.4 L626.0 274.6 L627.0 273.9 L628.0 273.2 L629.0 272.5 L630.0 271.9 L631.0 271.3 L632.0 270.7 L633.0 270.1 L634.0 269.4 L635.0 268.7 L636.0 267.9 L637.0 267.0 L638.0 265.9 L639.0 264.8 L640.0 263.5 L641.0 262.0 L642.0 260.4 L643.0 258.2 L644.0 255.4 L645.0 252.3 L646.0 249.1 L647.0 246.3 L648.0 244.0 L649.0 242.0 L650.0 240.1 L651.0 238.3 L652.0 236.8 L653.0 235.7 L654.0 234.9 L655.0 234.3 L656.0 233.8 L657.0 233.3 L658.0 233.0 L659.0 232.8 L660.0 232.9 L661.0 233.3 L662.0 234.0 L663.0 234.9 L664.0 235.9 L665.0 237.4 L666.0 239.4 L667.0 241.6 L668.0 243.9 L669.0 246.3 L670.0 248.9 L671.0 251.7 L672.0 254.4 L673.0 257.1 L674.0 259.8 L675.0 262.6 L676.0 265.3 L676.0 263.9 L675.0 262.7 L674.0 261.4 L673.0 260.1 L672.0 258.7 L671.0 257.4 L670.0 256.1 L669.0 255.0 L668.0 254.0 L667.0 253.2 L666.0 252.6 L665.0 252.1 L664.0 251.6 L663.0 251.2 L662.0 250.9 L661.0 250.8 L660.0 250.9 L659.0 251.2 L658.0 251.6 L657.0 252.2 L656.0 252.9 L655.0 253.6 L654.0 254.4 L653.0 255.2 L652.0 256.2 L651.0 257.4 L650.0 258.7 L649.0 260.2 L648.0 261.6 L647.0 263.2 L646.0 265.1 L645.0 267.1 L644.0 269.0 L643.0 270.7 L642.0 272.0 L641.0 272.9 L640.0 273.7 L639.0 274.4 L638.0 275.1 L637.0 275.7 L636.0 276.3 L635.0 276.9 L634.0 277.5 L633.0 278.1 L632.0 278.8 L631.0 279.5 L630.0 280.2 L629.0 280.9 L628.0 281.6 L627.0 282.3 L626.0 282.9 L625.0 283.5 L624.0 284.0 L623.0 284.4 L622.0 284.7 L621.0 284.9 L620.0 285.0 L619.0 285.2 L618.0 285.3 L617.0 285.4 L616.0 285.5 L615.0 285.6 L614.0 285.7 L613.0 285.9 L612.0 286.0 L611.0 286.1 L610.0 286.2 L609.0 286.3 L608.0 286.4 L607.0 286.5 L606.0 286.6 L605.0 286.7 L604.0 286.9 L603.0 287.1 L602.0 287.3 L601.0 287.5 L600.0 287.9 L599.0 288.2 L598.0 288.6 L597.0 289.1 L596.0 289.6 L595.0 290.2 L594.0 291.0 L593.0 291.9 L592.0 292.9 L591.0 294.0 L590.0 295.0 L589.0 295.9 L588.0 296.8 L587.0 297.5 L586.0 298.1 L585.0 298.8 L584.0 299.4 L583.0 299.9 L582.0 300.5 L581.0 301.0 L580.0 301.4 L579.0 301.8 L578.0 302.1 L577.0 302.3 L576.0 302.6 L575.0 302.8 L574.0 303.0 L573.0 303.1 L572.0 303.2 L571.0 303.3 L570.0 303.3 L569.0 303.2 L568.0 303.1 L567.0 303.0 L566.0 302.9 L565.0 302.7 L564.0 302.5 L563.0 302.4 L562.0 302.3 L561.0 302.2 L560.0 302.1 L559.0 302.0 L558.0 302.0 L557.0 301.9 L556.0 301.9 L555.0 301.8 L554.0 301.6 L553.0 301.4 L552.0 301.1 L551.0 300.7 L550.0 300.3 L549.0 300.0 L548.0 299.8 L547.0 299.8 L546.0 300.0 L545.0 300.4 L544.0 301.0 L543.0 301.6 L542.0 302.3 L541.0 302.9 L540.0 303.5 L539.0 304.1 L538.0 304.8 L537.0 305.4 L536.0 306.1 L535.0 306.8 L534.0 307.6 L533.0 308.3 L532.0 309.1 L531.0 310.1 L530.0 311.0 L529.0 311.9 L528.0 312.7 L527.0 313.4 L526.0 314.0 L525.0 314.6 L524.0 315.1 L523.0 315.6 L522.0 316.1 L521.0 316.4 L520.0 316.6 L519.0 316.6 L518.0 316.6 L517.0 316.6 L516.0 316.6 L515.0 316.6 L514.0 316.6 L513.0 316.6 L512.0 316.6 L511.0 316.6 L510.0 316.6 L509.0 316.5 L508.0 316.4 L507.0 316.2 L506.0 316.0 L505.0 315.9 L504.0 315.7 L503.0 315.7 L502.0 315.7 L501.0 315.7 L500.0 315.8 L499.0 315.9 L498.0 315.9 L497.0 316.0 L496.0 316.1 L495.0 316.3 L494.0 316.6 L493.0 316.9 L492.0 317.3 L491.0 317.7 L490.0 318.2 L489.0 318.6 L488.0 319.0 L487.0 319.4 L486.0 319.9 L485.0 320.4 L484.0 320.9 L483.0 321.4 L482.0 321.9 L481.0 322.4 L480.0 323.0 L479.0 323.6 L478.0 324.2 L477.0 324.8 L476.0 325.5 L475.0 326.2 L474.0 326.9 L473.0 327.7 L472.0 328.6 L471.0 329.6 L470.0 330.7 L469.0 331.8 L468.0 332.8 L467.0 333.8 L466.0 334.7 L465.0 335.5 L464.0 336.1 L463.0 336.7 L462.0 337.3 L461.0 337.9 L460.0 338.5 L459.0 339.3 L458.0 340.3 L457.0 341.7 L456.0 343.2 L455.0 344.7 L454.0 346.2 L453.0 347.6 L452.0 348.6Z" fill="rgba(140,210,130,0.33)" stroke="none"/>
<path d="M676.0 265.3 L677.0 267.8 L678.0 269.9 L679.0 271.5 L680.0 273.0 L681.0 274.4 L682.0 275.6 L683.0 276.7 L684.0 277.7 L685.0 278.7 L686.0 279.5 L687.0 280.3 L688.0 280.9 L689.0 281.5 L690.0 282.1 L691.0 282.7 L692.0 283.3 L693.0 284.0 L694.0 284.7 L695.0 285.7 L696.0 287.0 L697.0 288.5 L698.0 290.1 L699.0 291.8 L700.0 293.6 L701.0 295.3 L702.0 297.2 L703.0 299.2 L704.0 301.3 L705.0 303.4 L706.0 305.5 L707.0 307.8 L708.0 310.3 L709.0 312.8 L710.0 315.2 L711.0 317.2 L712.0 318.7 L713.0 319.9 L714.0 321.0 L715.0 322.0 L716.0 322.9 L717.0 323.7 L718.0 324.5 L719.0 325.1 L720.0 325.6 L721.0 326.1 L722.0 326.4 L723.0 326.7 L724.0 327.0 L725.0 327.3 L726.0 327.5 L727.0 327.7 L728.0 327.9 L729.0 328.1 L730.0 328.3 L731.0 328.6 L732.0 328.8 L733.0 329.0 L734.0 329.2 L735.0 329.3 L736.0 329.4 L737.0 329.4 L738.0 329.1 L739.0 328.6 L740.0 327.9 L741.0 327.1 L742.0 326.3 L743.0 325.3 L744.0 323.9 L745.0 322.3 L746.0 320.5 L747.0 318.7 L747.0 319.2 L746.0 320.0 L745.0 320.7 L744.0 321.2 L743.0 321.5 L742.0 321.5 L741.0 321.2 L740.0 320.7 L739.0 320.0 L738.0 319.3 L737.0 318.5 L736.0 317.8 L735.0 317.1 L734.0 316.6 L733.0 316.1 L732.0 315.6 L731.0 315.2 L730.0 314.7 L729.0 314.2 L728.0 313.7 L727.0 313.1 L726.0 312.6 L725.0 312.0 L724.0 311.4 L723.0 310.8 L722.0 310.2 L721.0 309.5 L720.0 308.8 L719.0 308.1 L718.0 307.3 L717.0 306.4 L716.0 305.4 L715.0 304.3 L714.0 303.2 L713.0 302.0 L712.0 300.7 L711.0 299.4 L710.0 298.1 L709.0 296.8 L708.0 295.4 L707.0 293.8 L706.0 292.2 L705.0 290.5 L704.0 288.8 L703.0 287.2 L702.0 285.8 L701.0 284.5 L700.0 283.5 L699.0 282.7 L698.0 281.9 L697.0 281.2 L696.0 280.6 L695.0 280.0 L694.0 279.4 L693.0 278.9 L692.0 278.2 L691.0 277.6 L690.0 276.9 L689.0 276.3 L688.0 275.7 L687.0 275.1 L686.0 274.4 L685.0 273.7 L684.0 273.0 L683.0 272.2 L682.0 271.3 L681.0 270.2 L680.0 269.0 L679.0 267.7 L678.0 266.5 L677.0 265.2 L676.0 263.9Z" fill="rgba(245,120,120,0.33)" stroke="none"/>
<path d="M747.0 318.7 L748.0 316.9 L749.0 315.3 L750.0 313.9 L751.0 312.7 L752.0 311.5 L753.0 310.3 L754.0 309.2 L755.0 308.1 L756.0 307.2 L757.0 306.4 L758.0 305.7 L759.0 305.2 L760.0 304.7 L761.0 304.2 L762.0 303.8 L763.0 303.4 L764.0 303.1 L765.0 302.9 L766.0 302.7 L767.0 302.6 L768.0 302.6 L769.0 302.8 L770.0 303.0 L771.0 303.2 L772.0 303.5 L773.0 303.7 L774.0 303.9 L775.0 304.1 L776.0 304.1 L777.0 303.8 L778.0 303.3 L779.0 302.7 L780.0 302.0 L781.0 301.3 L782.0 300.5 L783.0 299.6 L784.0 298.7 L785.0 297.9 L786.0 297.1 L787.0 296.3 L788.0 295.5 L789.0 294.7 L790.0 293.9 L791.0 293.1 L792.0 292.2 L793.0 291.3 L794.0 290.3 L795.0 289.3 L796.0 288.2 L797.0 287.0 L798.0 285.8 L799.0 284.6 L800.0 283.4 L801.0 282.2 L802.0 280.9 L803.0 279.7 L804.0 278.4 L805.0 277.1 L806.0 275.8 L807.0 274.5 L808.0 273.1 L809.0 271.7 L810.0 270.3 L811.0 268.8 L812.0 267.3 L813.0 265.8 L814.0 264.1 L815.0 262.3 L816.0 260.3 L817.0 257.9 L818.0 254.4 L819.0 250.5 L820.0 247.0 L821.0 244.0 L822.0 241.1 L823.0 238.4 L824.0 235.8 L825.0 233.4 L826.0 231.3 L827.0 229.4 L828.0 227.6 L829.0 225.9 L830.0 224.4 L831.0 222.8 L832.0 221.3 L833.0 219.8 L834.0 218.2 L835.0 216.5 L836.0 214.9 L837.0 213.3 L838.0 211.6 L839.0 210.0 L840.0 208.3 L841.0 206.7 L842.0 204.9 L843.0 203.1 L844.0 201.3 L845.0 199.5 L846.0 197.6 L847.0 195.7 L848.0 193.8 L849.0 191.8 L850.0 189.7 L851.0 187.4 L852.0 185.1 L853.0 182.4 L854.0 179.2 L855.0 175.9 L856.0 172.6 L857.0 169.7 L858.0 167.3 L859.0 165.2 L860.0 163.2 L861.0 161.4 L862.0 159.8 L863.0 158.4 L864.0 157.2 L865.0 156.1 L866.0 155.1 L867.0 154.2 L868.0 153.4 L869.0 152.6 L870.0 151.9 L871.0 151.2 L872.0 150.5 L873.0 149.8 L874.0 149.1 L875.0 148.5 L876.0 147.8 L877.0 147.2 L878.0 146.6 L879.0 146.1 L880.0 145.7 L881.0 145.3 L882.0 145.0 L883.0 144.8 L884.0 144.5 L885.0 144.4 L886.0 144.5 L887.0 144.8 L888.0 145.5 L889.0 146.4 L890.0 147.4 L891.0 148.4 L892.0 149.4 L893.0 150.4 L894.0 151.3 L895.0 152.3 L896.0 153.3 L897.0 154.3 L898.0 155.4 L899.0 156.4 L900.0 157.5 L901.0 158.5 L902.0 159.5 L903.0 160.4 L904.0 161.3 L905.0 162.1 L906.0 163.0 L907.0 163.9 L908.0 165.0 L909.0 166.1 L910.0 167.4 L911.0 169.3 L912.0 172.0 L913.0 175.1 L914.0 177.9 L915.0 180.1 L916.0 182.0 L917.0 183.8 L918.0 185.4 L918.0 185.1 L917.0 184.6 L916.0 184.1 L915.0 183.5 L914.0 182.9 L913.0 182.1 L912.0 181.0 L911.0 179.6 L910.0 178.1 L909.0 176.7 L908.0 175.5 L907.0 174.8 L906.0 174.3 L905.0 173.9 L904.0 173.5 L903.0 173.2 L902.0 172.9 L901.0 172.6 L900.0 172.3 L899.0 172.1 L898.0 171.9 L897.0 171.6 L896.0 171.4 L895.0 171.2 L894.0 171.0 L893.0 170.9 L892.0 170.7 L891.0 170.6 L890.0 170.6 L889.0 170.6 L888.0 170.8 L887.0 171.0 L886.0 171.4 L885.0 171.7 L884.0 172.2 L883.0 172.6 L882.0 173.1 L881.0 173.5 L880.0 174.0 L879.0 174.6 L878.0 175.2 L877.0 175.8 L876.0 176.5 L875.0 177.3 L874.0 178.0 L873.0 178.8 L872.0 179.6 L871.0 180.5 L870.0 181.3 L869.0 182.3 L868.0 183.3 L867.0 184.3 L866.0 185.4 L865.0 186.5 L864.0 187.7 L863.0 189.0 L862.0 190.4 L861.0 191.9 L860.0 193.6 L859.0 195.3 L858.0 197.0 L857.0 198.8 L856.0 200.6 L855.0 202.4 L854.0 204.3 L853.0 206.3 L852.0 208.3 L851.0 210.4 L850.0 212.5 L849.0 214.6 L848.0 216.6 L847.0 218.6 L846.0 220.5 L845.0 222.2 L844.0 224.0 L843.0 225.6 L842.0 227.3 L841.0 228.9 L840.0 230.5 L839.0 232.1 L838.0 233.8 L837.0 235.4 L836.0 237.1 L835.0 238.7 L834.0 240.3 L833.0 242.0 L832.0 243.6 L831.0 245.3 L830.0 247.0 L829.0 248.7 L828.0 250.4 L827.0 252.2 L826.0 254.0 L825.0 255.8 L824.0 257.7 L823.0 259.5 L822.0 261.3 L821.0 263.2 L820.0 265.0 L819.0 266.8 L818.0 268.7 L817.0 270.6 L816.0 272.5 L815.0 274.3 L814.0 275.9 L813.0 277.5 L812.0 279.0 L811.0 280.4 L810.0 281.8 L809.0 283.1 L808.0 284.5 L807.0 285.7 L806.0 286.9 L805.0 288.1 L804.0 289.2 L803.0 290.3 L802.0 291.4 L801.0 292.5 L800.0 293.5 L799.0 294.4 L798.0 295.4 L797.0 296.2 L796.0 297.0 L795.0 297.8 L794.0 298.6 L793.0 299.4 L792.0 300.1 L791.0 300.8 L790.0 301.4 L789.0 301.9 L788.0 302.4 L787.0 302.8 L786.0 303.1 L785.0 303.5 L784.0 303.8 L783.0 304.1 L782.0 304.3 L781.0 304.6 L780.0 304.7 L779.0 304.9 L778.0 305.0 L777.0 305.1 L776.0 305.1 L775.0 305.2 L774.0 305.2 L773.0 305.3 L772.0 305.3 L771.0 305.4 L770.0 305.5 L769.0 305.6 L768.0 305.9 L767.0 306.1 L766.0 306.5 L765.0 306.8 L764.0 307.2 L763.0 307.6 L762.0 308.1 L761.0 308.5 L760.0 309.1 L759.0 309.7 L758.0 310.3 L757.0 311.0 L756.0 311.8 L755.0 312.5 L754.0 313.3 L753.0 314.0 L752.0 314.7 L751.0 315.6 L750.0 316.5 L749.0 317.4 L748.0 318.3 L747.0 319.2Z" fill="rgba(140,210,130,0.33)" stroke="none"/>
<path d="M918.0 185.4 L919.0 187.0 L920.0 188.5 L921.0 189.8 L922.0 191.1 L923.0 192.4 L924.0 193.8 L925.0 195.1 L926.0 196.3 L927.0 197.2 L928.0 197.9 L929.0 198.2 L930.0 198.0 L931.0 197.5 L932.0 196.8 L933.0 195.9 L933.0 196.5 L932.0 196.1 L931.0 195.7 L930.0 195.2 L929.0 194.6 L928.0 194.1 L927.0 193.4 L926.0 192.6 L925.0 191.5 L924.0 190.4 L923.0 189.2 L922.0 188.1 L921.0 187.1 L920.0 186.3 L919.0 185.7 L918.0 185.1Z" fill="rgba(245,120,120,0.33)" stroke="none"/>
<path d="M933.0 195.9 L934.0 194.8 L935.0 193.8 L936.0 192.8 L937.0 191.9 L938.0 190.9 L939.0 189.9 L940.0 188.9 L941.0 187.9 L942.0 186.9 L943.0 185.8 L944.0 184.8 L945.0 183.8 L946.0 182.7 L947.0 181.5 L948.0 180.2 L949.0 178.9 L950.0 177.7 L951.0 176.6 L952.0 175.7 L953.0 175.2 L954.0 175.0 L955.0 175.2 L956.0 175.6 L957.0 176.3 L958.0 177.1 L958.0 176.4 L957.0 176.6 L956.0 177.1 L955.0 177.7 L954.0 178.4 L953.0 179.2 L952.0 180.0 L951.0 180.8 L950.0 181.5 L949.0 182.3 L948.0 183.0 L947.0 183.8 L946.0 184.6 L945.0 185.5 L944.0 186.4 L943.0 187.3 L942.0 188.3 L941.0 189.6 L940.0 191.1 L939.0 192.7 L938.0 194.2 L937.0 195.6 L936.0 196.5 L935.0 196.8 L934.0 196.7 L933.0 196.5Z" fill="rgba(140,210,130,0.33)" stroke="none"/>
<path d="M958.0 177.1 L959.0 177.9 L960.0 178.8 L961.0 179.7 L962.0 180.4 L963.0 181.0 L964.0 181.5 L965.0 182.0 L966.0 182.5 L967.0 182.9 L968.0 183.4 L969.0 183.8 L970.0 184.4 L971.0 184.9 L972.0 185.6 L973.0 186.3 L974.0 187.1 L975.0 187.9 L976.0 188.8 L977.0 189.7 L978.0 190.5 L979.0 191.3 L980.0 192.1 L981.0 193.0 L982.0 193.8 L983.0 194.6 L984.0 195.4 L985.0 196.1 L986.0 196.9 L987.0 197.6 L988.0 198.3 L989.0 199.1 L990.0 199.8 L991.0 200.5 L992.0 201.1 L993.0 201.7 L994.0 202.3 L995.0 202.8 L996.0 203.3 L997.0 203.9 L998.0 204.4 L999.0 204.8 L1000.0 205.2 L1001.0 205.4 L1002.0 205.5 L1003.0 205.1 L1004.0 204.3 L1005.0 203.4 L1005.0 203.7 L1004.0 203.5 L1003.0 203.2 L1002.0 203.0 L1001.0 202.8 L1000.0 202.5 L999.0 202.2 L998.0 201.8 L997.0 201.3 L996.0 200.8 L995.0 200.2 L994.0 199.6 L993.0 199.0 L992.0 198.4 L991.0 197.7 L990.0 197.0 L989.0 196.2 L988.0 195.3 L987.0 194.4 L986.0 193.5 L985.0 192.6 L984.0 191.8 L983.0 191.0 L982.0 190.3 L981.0 189.6 L980.0 188.9 L979.0 188.2 L978.0 187.5 L977.0 186.8 L976.0 186.2 L975.0 185.6 L974.0 184.9 L973.0 184.3 L972.0 183.6 L971.0 183.0 L970.0 182.3 L969.0 181.7 L968.0 181.1 L967.0 180.5 L966.0 180.0 L965.0 179.4 L964.0 178.8 L963.0 178.2 L962.0 177.6 L961.0 177.1 L960.0 176.7 L959.0 176.5 L958.0 176.4Z" fill="rgba(245,120,120,0.33)" stroke="none"/>
<path d="M1005.0 203.4 L1006.0 202.7 L1007.0 202.4 L1008.0 202.0 L1009.0 201.7 L1010.0 201.4 L1011.0 201.3 L1012.0 201.2 L1013.0 201.8 L1014.0 203.2 L1014.0 201.7 L1013.0 202.2 L1012.0 202.9 L1011.0 203.5 L1010.0 204.0 L1009.0 204.1 L1008.0 204.1 L1007.0 204.0 L1006.0 203.8 L1005.0 203.7Z" fill="rgba(140,210,130,0.33)" stroke="none"/>
<path d="M1014.0 203.2 L1015.0 204.8 L1016.0 206.5 L1017.0 208.4 L1018.0 210.5 L1019.0 212.6 L1020.0 214.8 L1021.0 216.8 L1022.0 218.8 L1023.0 220.9 L1024.0 222.9 L1025.0 224.9 L1026.0 226.9 L1027.0 228.7 L1028.0 230.6 L1029.0 232.5 L1030.0 234.3 L1031.0 236.0 L1032.0 237.5 L1033.0 238.8 L1034.0 240.0 L1035.0 241.2 L1036.0 242.2 L1037.0 243.2 L1038.0 244.1 L1039.0 245.0 L1040.0 245.7 L1041.0 246.5 L1042.0 247.2 L1043.0 247.9 L1044.0 248.6 L1045.0 249.1 L1046.0 249.6 L1047.0 249.9 L1048.0 250.1 L1049.0 250.3 L1050.0 250.4 L1051.0 250.6 L1052.0 250.7 L1053.0 250.8 L1054.0 251.0 L1055.0 251.1 L1056.0 251.4 L1057.0 251.8 L1058.0 252.4 L1059.0 253.0 L1060.0 253.7 L1061.0 254.4 L1062.0 255.0 L1063.0 255.4 L1064.0 255.7 L1065.0 255.7 L1066.0 255.7 L1067.0 255.7 L1068.0 255.7 L1069.0 255.7 L1070.0 255.7 L1071.0 255.4 L1072.0 254.3 L1073.0 252.5 L1074.0 250.3 L1075.0 248.0 L1076.0 245.7 L1077.0 243.5 L1077.0 244.0 L1076.0 244.6 L1075.0 245.1 L1074.0 245.4 L1073.0 245.5 L1072.0 245.4 L1071.0 245.2 L1070.0 245.0 L1069.0 244.6 L1068.0 244.3 L1067.0 244.0 L1066.0 243.6 L1065.0 243.1 L1064.0 242.6 L1063.0 242.1 L1062.0 241.5 L1061.0 240.9 L1060.0 240.4 L1059.0 239.9 L1058.0 239.3 L1057.0 238.8 L1056.0 238.3 L1055.0 237.8 L1054.0 237.2 L1053.0 236.7 L1052.0 236.2 L1051.0 235.8 L1050.0 235.3 L1049.0 235.0 L1048.0 234.6 L1047.0 234.3 L1046.0 234.1 L1045.0 233.8 L1044.0 233.5 L1043.0 233.1 L1042.0 232.8 L1041.0 232.3 L1040.0 231.7 L1039.0 231.1 L1038.0 230.3 L1037.0 229.5 L1036.0 228.6 L1035.0 227.6 L1034.0 226.6 L1033.0 225.6 L1032.0 224.6 L1031.0 223.4 L1030.0 222.2 L1029.0 220.9 L1028.0 219.5 L1027.0 218.1 L1026.0 216.7 L1025.0 215.3 L1024.0 213.9 L1023.0 212.5 L1022.0 210.8 L1021.0 209.0 L1020.0 207.2 L1019.0 205.4 L1018.0 203.9 L1017.0 202.6 L1016.0 201.8 L1015.0 201.5 L1014.0 201.7Z" fill="rgba(245,120,120,0.33)" stroke="none"/>
<path d="M1077.0 243.5 L1078.0 240.9 L1079.0 238.2 L1080.0 235.5 L1081.0 233.0 L1082.0 230.8 L1083.0 228.9 L1084.0 227.1 L1085.0 225.4 L1086.0 223.8 L1087.0 222.2 L1088.0 220.7 L1089.0 219.1 L1090.0 217.5 L1091.0 215.9 L1092.0 214.2 L1093.0 212.4 L1094.0 210.6 L1095.0 208.8 L1096.0 207.1 L1097.0 205.4 L1098.0 203.8 L1099.0 202.4 L1100.0 201.2 L1101.0 200.0 L1102.0 198.9 L1103.0 197.9 L1104.0 197.0 L1105.0 196.0 L1106.0 195.1 L1107.0 194.2 L1108.0 193.2 L1109.0 192.2 L1110.0 191.1 L1111.0 190.1 L1112.0 189.0 L1113.0 188.0 L1114.0 187.1 L1115.0 186.2 L1116.0 185.4 L1117.0 184.6 L1118.0 183.9 L1119.0 183.3 L1120.0 182.9 L1121.0 183.1 L1122.0 184.1 L1123.0 185.6 L1124.0 187.4 L1125.0 189.2 L1126.0 190.8 L1127.0 192.3 L1128.0 193.8 L1129.0 195.3 L1129.0 194.7 L1128.0 195.0 L1127.0 195.4 L1126.0 195.8 L1125.0 196.2 L1124.0 196.7 L1123.0 197.1 L1122.0 197.6 L1121.0 198.1 L1120.0 198.7 L1119.0 199.2 L1118.0 199.8 L1117.0 200.3 L1116.0 200.9 L1115.0 201.5 L1114.0 202.1 L1113.0 202.7 L1112.0 203.3 L1111.0 204.0 L1110.0 204.7 L1109.0 205.5 L1108.0 206.3 L1107.0 207.2 L1106.0 208.2 L1105.0 209.4 L1104.0 210.5 L1103.0 211.8 L1102.0 213.1 L1101.0 214.4 L1100.0 215.6 L1099.0 216.9 L1098.0 218.2 L1097.0 219.5 L1096.0 220.9 L1095.0 222.2 L1094.0 223.6 L1093.0 225.0 L1092.0 226.3 L1091.0 227.7 L1090.0 229.1 L1089.0 230.5 L1088.0 231.9 L1087.0 233.4 L1086.0 234.8 L1085.0 236.2 L1084.0 237.5 L1083.0 238.6 L1082.0 239.6 L1081.0 240.5 L1080.0 241.4 L1079.0 242.3 L1078.0 243.2 L1077.0 244.0Z" fill="rgba(140,210,130,0.33)" stroke="none"/>
<path d="M1129.0 195.3 L1130.0 196.9 L1131.0 198.4 L1132.0 199.9 L1133.0 201.4 L1134.0 202.9 L1135.0 204.3 L1136.0 205.7 L1137.0 207.0 L1138.0 208.4 L1139.0 209.7 L1140.0 211.0 L1141.0 212.3 L1142.0 213.6 L1143.0 214.9 L1144.0 216.1 L1145.0 217.3 L1146.0 218.4 L1147.0 219.6 L1148.0 220.9 L1149.0 222.4 L1150.0 224.2 L1151.0 226.2 L1152.0 228.4 L1153.0 230.6 L1154.0 232.7 L1155.0 234.4 L1156.0 235.8 L1157.0 237.2 L1158.0 238.4 L1159.0 239.6 L1160.0 240.9 L1161.0 242.1 L1162.0 243.4 L1163.0 244.9 L1164.0 246.5 L1165.0 248.3 L1166.0 250.2 L1167.0 252.2 L1168.0 254.3 L1169.0 256.5 L1170.0 258.6 L1171.0 260.6 L1172.0 262.6 L1173.0 264.5 L1174.0 266.4 L1175.0 268.3 L1176.0 270.2 L1177.0 272.0 L1178.0 273.7 L1179.0 275.4 L1180.0 277.0 L1181.0 278.6 L1182.0 280.1 L1183.0 281.6 L1184.0 283.0 L1185.0 284.5 L1186.0 285.9 L1187.0 287.3 L1188.0 288.7 L1189.0 290.1 L1190.0 291.4 L1191.0 292.7 L1192.0 294.0 L1193.0 295.3 L1194.0 296.6 L1195.0 297.9 L1196.0 299.1 L1197.0 300.4 L1198.0 301.6 L1199.0 302.7 L1200.0 303.7 L1201.0 304.8 L1202.0 305.8 L1203.0 307.0 L1204.0 308.4 L1205.0 310.0 L1206.0 312.2 L1207.0 314.9 L1208.0 318.1 L1209.0 321.5 L1210.0 325.0 L1211.0 328.3 L1212.0 331.7 L1213.0 335.2 L1214.0 338.8 L1215.0 342.3 L1216.0 345.7 L1217.0 349.0 L1218.0 352.5 L1219.0 356.0 L1220.0 359.4 L1221.0 362.3 L1222.0 364.4 L1223.0 365.9 L1224.0 367.1 L1225.0 368.3 L1226.0 369.2 L1227.0 369.8 L1228.0 370.1 L1229.0 369.9 L1230.0 369.3 L1231.0 368.4 L1232.0 367.3 L1233.0 366.2 L1234.0 365.1 L1235.0 363.9 L1236.0 362.4 L1237.0 360.9 L1238.0 359.3 L1239.0 358.0 L1240.0 357.0 L1241.0 356.5 L1242.0 356.4 L1243.0 356.4 L1244.0 356.4 L1245.0 356.4 L1246.0 356.4 L1247.0 356.4 L1248.0 356.4 L1249.0 356.4 L1250.0 356.0 L1251.0 355.3 L1252.0 354.4 L1253.0 353.4 L1254.0 352.5 L1255.0 351.6 L1256.0 351.0 L1257.0 350.6 L1258.0 350.6 L1259.0 350.8 L1260.0 351.0 L1261.0 351.3 L1262.0 351.6 L1263.0 352.0 L1264.0 352.4 L1265.0 353.0 L1266.0 353.7 L1267.0 354.6 L1268.0 355.5 L1269.0 356.4 L1270.0 357.6 L1271.0 359.2 L1272.0 360.9 L1273.0 362.4 L1274.0 363.4 L1275.0 363.7 L1276.0 363.7 L1277.0 363.7 L1278.0 363.7 L1279.0 363.7 L1280.0 363.7 L1281.0 363.7 L1282.0 363.7 L1283.0 364.0 L1284.0 364.6 L1285.0 365.6 L1286.0 366.8 L1287.0 368.1 L1288.0 369.4 L1289.0 370.6 L1290.0 371.8 L1291.0 373.1 L1292.0 374.4 L1293.0 375.8 L1294.0 377.2 L1295.0 378.6 L1296.0 380.0 L1297.0 381.3 L1298.0 382.5 L1299.0 383.6 L1300.0 384.6 L1301.0 385.6 L1302.0 386.5 L1303.0 387.5 L1304.0 388.4 L1305.0 389.4 L1306.0 390.4 L1307.0 391.5 L1308.0 392.7 L1309.0 394.0 L1310.0 395.4 L1311.0 396.8 L1312.0 398.2 L1313.0 399.6 L1314.0 401.0 L1315.0 402.3 L1316.0 403.7 L1317.0 405.1 L1318.0 406.5 L1319.0 407.8 L1320.0 409.0 L1321.0 410.0 L1322.0 410.8 L1323.0 411.6 L1324.0 412.3 L1325.0 412.9 L1326.0 413.5 L1327.0 414.0 L1328.0 414.4 L1329.0 414.7 L1330.0 415.0 L1331.0 415.3 L1332.0 415.4 L1333.0 415.5 L1334.0 415.3 L1335.0 414.8 L1336.0 414.0 L1337.0 413.2 L1338.0 412.3 L1339.0 411.6 L1340.0 410.7 L1341.0 409.8 L1342.0 408.8 L1342.0 408.9 L1341.0 408.8 L1340.0 408.8 L1339.0 408.3 L1338.0 407.4 L1337.0 406.2 L1336.0 404.8 L1335.0 403.5 L1334.0 402.4 L1333.0 401.5 L1332.0 400.9 L1331.0 400.4 L1330.0 399.9 L1329.0 399.5 L1328.0 399.1 L1327.0 398.7 L1326.0 398.2 L1325.0 397.6 L1324.0 397.0 L1323.0 396.2 L1322.0 395.4 L1321.0 394.4 L1320.0 393.4 L1319.0 392.4 L1318.0 391.3 L1317.0 390.1 L1316.0 389.0 L1315.0 387.8 L1314.0 386.6 L1313.0 385.2 L1312.0 383.8 L1311.0 382.4 L1310.0 381.0 L1309.0 379.6 L1308.0 378.3 L1307.0 377.0 L1306.0 375.9 L1305.0 374.9 L1304.0 373.9 L1303.0 373.0 L1302.0 372.0 L1301.0 371.1 L1300.0 370.1 L1299.0 369.1 L1298.0 368.0 L1297.0 366.7 L1296.0 365.3 L1295.0 363.8 L1294.0 362.3 L1293.0 360.7 L1292.0 359.3 L1291.0 358.0 L1290.0 357.0 L1289.0 356.2 L1288.0 355.5 L1287.0 354.9 L1286.0 354.4 L1285.0 353.9 L1284.0 353.4 L1283.0 353.0 L1282.0 352.6 L1281.0 352.2 L1280.0 351.8 L1279.0 351.4 L1278.0 351.1 L1277.0 350.8 L1276.0 350.5 L1275.0 350.2 L1274.0 349.8 L1273.0 349.5 L1272.0 349.1 L1271.0 348.7 L1270.0 348.3 L1269.0 347.9 L1268.0 347.4 L1267.0 346.9 L1266.0 346.4 L1265.0 345.8 L1264.0 345.3 L1263.0 344.7 L1262.0 344.1 L1261.0 343.4 L1260.0 342.7 L1259.0 342.0 L1258.0 341.2 L1257.0 340.5 L1256.0 339.9 L1255.0 339.3 L1254.0 338.8 L1253.0 338.3 L1252.0 337.9 L1251.0 337.4 L1250.0 337.0 L1249.0 336.6 L1248.0 336.3 L1247.0 336.1 L1246.0 336.0 L1245.0 336.0 L1244.0 336.1 L1243.0 336.1 L1242.0 336.2 L1241.0 336.3 L1240.0 336.4 L1239.0 336.5 L1238.0 336.6 L1237.0 336.6 L1236.0 336.5 L1235.0 336.4 L1234.0 336.1 L1233.0 335.7 L1232.0 335.3 L1231.0 334.8 L1230.0 334.2 L1229.0 333.6 L1228.0 333.0 L1227.0 332.0 L1226.0 330.6 L1225.0 329.0 L1224.0 327.3 L1223.0 325.5 L1222.0 323.7 L1221.0 321.8 L1220.0 319.7 L1219.0 317.6 L1218.0 315.4 L1217.0 313.2 L1216.0 311.1 L1215.0 309.2 L1214.0 307.4 L1213.0 305.8 L1212.0 304.4 L1211.0 303.1 L1210.0 301.8 L1209.0 300.6 L1208.0 299.4 L1207.0 298.2 L1206.0 296.9 L1205.0 295.4 L1204.0 293.9 L1203.0 292.3 L1202.0 290.7 L1201.0 289.0 L1200.0 287.3 L1199.0 285.5 L1198.0 283.8 L1197.0 282.1 L1196.0 280.4 L1195.0 278.6 L1194.0 276.8 L1193.0 275.0 L1192.0 273.2 L1191.0 271.5 L1190.0 269.8 L1189.0 268.3 L1188.0 266.8 L1187.0 265.6 L1186.0 264.5 L1185.0 263.5 L1184.0 262.5 L1183.0 261.6 L1182.0 260.8 L1181.0 259.9 L1180.0 258.9 L1179.0 257.8 L1178.0 256.7 L1177.0 255.5 L1176.0 254.2 L1175.0 253.0 L1174.0 251.6 L1173.0 250.2 L1172.0 248.8 L1171.0 247.3 L1170.0 245.8 L1169.0 244.1 L1168.0 242.2 L1167.0 240.2 L1166.0 238.3 L1165.0 236.4 L1164.0 234.7 L1163.0 233.4 L1162.0 232.2 L1161.0 231.2 L1160.0 230.3 L1159.0 229.4 L1158.0 228.5 L1157.0 227.5 L1156.0 226.6 L1155.0 225.5 L1154.0 224.2 L1153.0 222.8 L1152.0 221.3 L1151.0 219.8 L1150.0 218.1 L1149.0 216.5 L1148.0 215.0 L1147.0 213.5 L1146.0 212.1 L1145.0 210.8 L1144.0 209.6 L1143.0 208.4 L1142.0 207.2 L1141.0 206.1 L1140.0 205.0 L1139.0 203.9 L1138.0 202.8 L1137.0 201.7 L1136.0 200.5 L1135.0 199.1 L1134.0 197.8 L1133.0 196.6 L1132.0 195.5 L1131.0 194.9 L1130.0 194.6 L1129.0 194.7Z" fill="rgba(245,120,120,0.33)" stroke="none"/>
<path d="M1342.0 408.8 L1343.0 408.0 L1344.0 407.5 L1345.0 407.2 L1346.0 407.1 L1347.0 406.9 L1348.0 406.8 L1349.0 406.7 L1350.0 406.6 L1351.0 406.6 L1352.0 406.5 L1353.0 406.5 L1354.0 406.5 L1355.0 406.6 L1356.0 406.7 L1357.0 406.9 L1358.0 407.1 L1359.0 407.2 L1360.0 407.3 L1361.0 407.2 L1362.0 406.8 L1363.0 406.0 L1364.0 404.9 L1365.0 403.6 L1366.0 402.2 L1367.0 400.6 L1368.0 398.3 L1369.0 395.6 L1370.0 393.0 L1371.0 391.0 L1372.0 389.4 L1373.0 387.9 L1374.0 386.5 L1375.0 385.2 L1376.0 384.0 L1377.0 382.9 L1378.0 381.9 L1379.0 380.9 L1380.0 380.1 L1381.0 379.3 L1382.0 378.6 L1383.0 377.9 L1384.0 377.2 L1385.0 376.5 L1386.0 375.7 L1387.0 374.9 L1388.0 374.2 L1389.0 373.5 L1390.0 372.8 L1391.0 372.1 L1392.0 371.3 L1393.0 370.4 L1394.0 369.4 L1395.0 368.2 L1396.0 366.5 L1397.0 364.0 L1398.0 361.0 L1399.0 357.8 L1400.0 354.7 L1401.0 351.9 L1402.0 349.2 L1403.0 346.4 L1404.0 343.8 L1405.0 341.4 L1406.0 339.3 L1407.0 337.7 L1408.0 336.4 L1409.0 335.2 L1410.0 334.1 L1411.0 333.0 L1412.0 331.9 L1413.0 330.8 L1414.0 329.5 L1415.0 328.3 L1416.0 327.0 L1417.0 325.8 L1418.0 324.5 L1419.0 323.2 L1420.0 321.8 L1421.0 320.3 L1422.0 318.7 L1423.0 317.0 L1424.0 315.2 L1425.0 313.3 L1426.0 311.3 L1427.0 309.2 L1428.0 307.1 L1429.0 304.9 L1430.0 302.7 L1431.0 300.5 L1432.0 298.1 L1433.0 295.7 L1434.0 293.2 L1435.0 290.7 L1436.0 288.2 L1437.0 285.7 L1438.0 283.2 L1439.0 280.7 L1440.0 278.1 L1441.0 275.6 L1442.0 273.2 L1443.0 270.9 L1444.0 268.9 L1445.0 267.0 L1446.0 265.3 L1447.0 263.6 L1448.0 262.0 L1449.0 260.5 L1450.0 259.1 L1451.0 257.8 L1452.0 256.6 L1453.0 255.5 L1454.0 254.4 L1455.0 253.4 L1456.0 252.5 L1457.0 251.6 L1458.0 250.6 L1459.0 249.8 L1460.0 248.9 L1461.0 248.1 L1462.0 247.3 L1463.0 246.6 L1464.0 245.9 L1465.0 245.1 L1466.0 244.2 L1467.0 243.2 L1468.0 241.9 L1469.0 240.6 L1470.0 239.2 L1471.0 237.9 L1472.0 236.8 L1473.0 235.8 L1474.0 234.8 L1475.0 233.8 L1476.0 233.1 L1477.0 232.7 L1478.0 232.6 L1479.0 232.7 L1480.0 232.8 L1481.0 232.9 L1482.0 233.1 L1483.0 233.2 L1483.0 256.5 L1482.0 257.3 L1481.0 258.0 L1480.0 258.8 L1479.0 259.6 L1478.0 260.4 L1477.0 261.2 L1476.0 262.1 L1475.0 263.0 L1474.0 263.9 L1473.0 264.9 L1472.0 265.9 L1471.0 266.9 L1470.0 268.0 L1469.0 269.0 L1468.0 270.1 L1467.0 271.2 L1466.0 272.3 L1465.0 273.4 L1464.0 274.6 L1463.0 275.7 L1462.0 276.9 L1461.0 278.1 L1460.0 279.4 L1459.0 280.6 L1458.0 281.9 L1457.0 283.1 L1456.0 284.4 L1455.0 285.7 L1454.0 287.1 L1453.0 288.4 L1452.0 289.8 L1451.0 291.3 L1450.0 292.8 L1449.0 294.4 L1448.0 296.1 L1447.0 297.8 L1446.0 299.5 L1445.0 301.2 L1444.0 302.9 L1443.0 304.6 L1442.0 306.3 L1441.0 307.9 L1440.0 309.6 L1439.0 311.2 L1438.0 312.8 L1437.0 314.5 L1436.0 316.1 L1435.0 317.8 L1434.0 319.6 L1433.0 321.4 L1432.0 323.2 L1431.0 325.2 L1430.0 327.1 L1429.0 329.0 L1428.0 330.9 L1427.0 332.7 L1426.0 334.4 L1425.0 336.1 L1424.0 337.7 L1423.0 339.2 L1422.0 340.7 L1421.0 342.2 L1420.0 343.7 L1419.0 345.1 L1418.0 346.5 L1417.0 347.9 L1416.0 349.3 L1415.0 350.6 L1414.0 351.9 L1413.0 353.2 L1412.0 354.5 L1411.0 355.8 L1410.0 357.1 L1409.0 358.4 L1408.0 359.8 L1407.0 361.3 L1406.0 362.7 L1405.0 364.2 L1404.0 365.6 L1403.0 367.0 L1402.0 368.2 L1401.0 369.2 L1400.0 370.1 L1399.0 370.8 L1398.0 371.5 L1397.0 372.1 L1396.0 372.7 L1395.0 373.3 L1394.0 373.9 L1393.0 374.6 L1392.0 375.3 L1391.0 376.2 L1390.0 377.0 L1389.0 377.9 L1388.0 378.8 L1387.0 379.7 L1386.0 380.7 L1385.0 381.7 L1384.0 382.7 L1383.0 383.9 L1382.0 385.0 L1381.0 386.3 L1380.0 387.7 L1379.0 389.4 L1378.0 391.2 L1377.0 393.1 L1376.0 395.0 L1375.0 396.7 L1374.0 398.2 L1373.0 399.5 L1372.0 400.8 L1371.0 402.1 L1370.0 403.3 L1369.0 404.5 L1368.0 405.5 L1367.0 406.4 L1366.0 407.0 L1365.0 407.3 L1364.0 407.5 L1363.0 407.6 L1362.0 407.7 L1361.0 407.8 L1360.0 407.9 L1359.0 408.0 L1358.0 408.1 L1357.0 408.1 L1356.0 408.2 L1355.0 408.3 L1354.0 408.5 L1353.0 408.6 L1352.0 408.7 L1351.0 408.8 L1350.0 408.9 L1349.0 409.0 L1348.0 409.0 L1347.0 409.0 L1346.0 409.0 L1345.0 409.0 L1344.0 408.9 L1343.0 408.9 L1342.0 408.9Z" fill="rgba(140,210,130,0.33)" stroke="none"/>
<path d="M41.0 357.7 L42.0 356.5 L43.0 355.3 L44.0 354.1 L45.0 352.9 L46.0 351.7 L47.0 350.5 L48.0 349.3 L49.0 348.0 L50.0 346.8 L51.0 345.5 L52.0 344.3 L53.0 343.0 L54.0 341.6 L55.0 340.3 L56.0 339.1 L57.0 337.8 L58.0 336.4 L59.0 335.0 L60.0 333.4 L61.0 331.7 L62.0 329.8 L63.0 327.4 L64.0 324.6 L65.0 321.3 L66.0 317.9 L67.0 314.4 L68.0 310.9 L69.0 307.6 L70.0 304.3 L71.0 300.9 L72.0 297.6 L73.0 294.2 L74.0 291.0 L75.0 288.0 L76.0 285.2 L77.0 282.6 L78.0 280.0 L79.0 277.4 L80.0 275.1 L81.0 273.0 L82.0 271.3 L83.0 270.0 L84.0 268.8 L85.0 267.7 L86.0 266.7 L87.0 265.8 L88.0 265.1 L89.0 264.7 L90.0 264.6 L91.0 264.7 L92.0 264.8 L93.0 265.1 L94.0 265.3 L95.0 265.5 L96.0 265.8 L97.0 265.9 L98.0 266.0 L99.0 266.0 L100.0 265.9 L101.0 265.9 L102.0 265.8 L103.0 265.6 L104.0 265.5 L105.0 265.3 L106.0 265.2 L107.0 265.0 L108.0 264.8 L109.0 264.7 L110.0 264.5 L111.0 264.3 L112.0 264.0 L113.0 263.7 L114.0 263.5 L115.0 263.3 L116.0 263.2 L117.0 263.2 L118.0 263.4 L119.0 263.6 L120.0 263.9 L121.0 264.3 L122.0 264.7 L123.0 265.2 L124.0 265.7 L125.0 266.1 L126.0 266.7 L127.0 267.4 L128.0 268.1 L129.0 269.0 L130.0 269.9 L131.0 270.9 L132.0 271.9 L133.0 273.1 L134.0 274.5 L135.0 275.9 L136.0 277.6 L137.0 279.4 L138.0 281.3 L139.0 283.3 L140.0 285.8 L141.0 288.6 L142.0 291.7 L143.0 295.1 L144.0 298.5 L145.0 302.1 L146.0 306.4 L147.0 310.8 L148.0 314.7 L149.0 317.6 L150.0 320.0 L151.0 322.0 L152.0 323.9 L153.0 326.0 L154.0 328.4 L155.0 331.4 L156.0 334.9 L157.0 338.6 L158.0 342.3 L159.0 345.8 L160.0 348.9 L161.0 351.5 L162.0 353.9 L163.0 356.3 L164.0 358.7 L165.0 361.2 L166.0 364.0 L167.0 366.9 L168.0 370.1 L169.0 373.3 L170.0 376.5 L171.0 379.6 L172.0 382.6 L173.0 385.4 L174.0 388.0 L175.0 390.6 L176.0 393.1 L177.0 395.6 L178.0 397.8 L179.0 399.8 L180.0 401.6 L181.0 402.9 L182.0 404.2 L183.0 405.5 L184.0 406.6 L185.0 407.6 L186.0 408.3 L187.0 408.7 L188.0 408.8 L189.0 408.5 L190.0 408.1 L191.0 407.5 L192.0 406.8 L193.0 406.1 L194.0 405.5 L195.0 405.0 L196.0 404.6 L197.0 404.3 L198.0 403.9 L199.0 403.5 L200.0 403.0 L201.0 402.3 L202.0 401.5 L203.0 400.5 L204.0 399.4 L205.0 398.3 L206.0 397.1 L207.0 396.0 L208.0 394.9 L209.0 394.0 L210.0 393.1 L211.0 392.3 L212.0 391.6 L213.0 390.9 L214.0 390.3 L215.0 389.6 L216.0 388.9 L217.0 388.2 L218.0 387.4 L219.0 386.5 L220.0 385.5 L221.0 384.3 L222.0 382.9 L223.0 381.3 L224.0 379.5 L225.0 377.7 L226.0 375.9 L227.0 374.2 L228.0 372.5 L229.0 370.9 L230.0 369.2 L231.0 367.5 L232.0 365.8 L233.0 364.1 L234.0 362.5 L235.0 361.1 L236.0 359.9 L237.0 358.9 L238.0 358.2 L239.0 357.6 L240.0 357.0 L241.0 356.5 L242.0 356.0 L243.0 355.6 L244.0 355.2 L245.0 354.8 L246.0 354.4 L247.0 353.9 L248.0 353.5 L249.0 353.0 L250.0 352.6 L251.0 352.2 L252.0 351.8 L253.0 351.4 L254.0 351.1 L255.0 350.8 L256.0 350.6 L257.0 350.4 L258.0 350.2 L259.0 350.0 L260.0 349.9 L261.0 349.7 L262.0 349.6 L263.0 349.5 L264.0 349.4 L265.0 349.4 L266.0 349.4 L267.0 349.5 L268.0 349.6 L269.0 349.7 L270.0 349.9 L271.0 350.0 L272.0 350.2 L273.0 350.4 L274.0 350.5 L275.0 350.7 L276.0 350.8 L277.0 351.0 L278.0 351.2 L279.0 351.3 L280.0 351.5 L281.0 351.6 L282.0 351.7 L283.0 351.8 L284.0 351.8 L285.0 351.7 L286.0 351.4 L287.0 351.0 L288.0 350.5 L289.0 349.9 L290.0 349.2 L291.0 348.6 L292.0 347.9 L293.0 347.2 L294.0 346.4 L295.0 345.5 L296.0 344.5 L297.0 343.5 L298.0 342.3 L299.0 341.2 L300.0 340.2 L301.0 339.2 L302.0 338.2 L303.0 337.2 L304.0 336.2 L305.0 335.2 L306.0 334.2 L307.0 333.2 L308.0 332.2 L309.0 331.2 L310.0 330.1 L311.0 329.1 L312.0 328.0 L313.0 327.0 L314.0 326.0 L315.0 325.1 L316.0 324.1 L317.0 323.3 L318.0 322.5 L319.0 321.7 L320.0 320.9 L321.0 320.2 L322.0 319.5 L323.0 318.8 L324.0 318.1 L325.0 317.3 L326.0 316.6 L327.0 315.8 L328.0 315.1 L329.0 314.3 L330.0 313.5 L331.0 312.8 L332.0 312.0 L333.0 311.3 L334.0 310.5 L335.0 309.8 L336.0 309.1 L337.0 308.3 L338.0 307.5 L339.0 306.8 L340.0 306.0 L341.0 305.3 L342.0 304.6 L343.0 304.0 L344.0 303.5 L345.0 303.0 L346.0 302.6 L347.0 302.2 L348.0 301.9 L349.0 301.6 L350.0 301.3 L351.0 301.1 L352.0 300.9 L353.0 300.7 L354.0 300.6 L355.0 300.5 L356.0 300.4 L357.0 300.2 L358.0 300.1 L359.0 299.8 L360.0 299.3 L361.0 298.8 L362.0 298.4 L363.0 298.2 L364.0 298.3 L365.0 298.7 L366.0 299.3 L367.0 300.0 L368.0 301.0 L369.0 303.0 L370.0 305.9 L371.0 309.3 L372.0 312.7 L373.0 315.7 L374.0 317.8 L375.0 319.7 L376.0 321.4 L377.0 323.0 L378.0 324.4 L379.0 325.7 L380.0 326.9 L381.0 328.0 L382.0 329.0 L383.0 330.0 L384.0 330.9 L385.0 331.8 L386.0 332.8 L387.0 333.8 L388.0 334.8 L389.0 335.7 L390.0 336.7 L391.0 337.7 L392.0 338.7 L393.0 339.9 L394.0 341.2 L395.0 342.9 L396.0 344.6 L397.0 346.2 L398.0 347.2 L399.0 347.9 L400.0 348.5 L401.0 349.0 L402.0 349.3 L403.0 349.4 L404.0 349.3 L405.0 349.0 L406.0 348.8 L407.0 348.4 L408.0 348.1 L409.0 347.7 L410.0 347.5 L411.0 347.1 L412.0 346.8 L413.0 346.4 L414.0 346.0 L415.0 345.6 L416.0 345.2 L417.0 344.9 L418.0 344.7 L419.0 344.6 L420.0 344.5 L421.0 344.5 L422.0 344.6 L423.0 344.6 L424.0 344.7 L425.0 344.8 L426.0 344.9 L427.0 345.1 L428.0 345.2 L429.0 345.4 L430.0 345.6 L431.0 345.9 L432.0 346.3 L433.0 346.6 L434.0 347.0 L435.0 347.4 L436.0 347.7 L437.0 348.0 L438.0 348.3 L439.0 348.6 L440.0 348.9 L441.0 349.3 L442.0 349.6 L443.0 350.1 L444.0 350.9 L445.0 351.8 L446.0 352.2 L447.0 352.1 L448.0 351.7 L449.0 351.1 L450.0 350.3 L451.0 349.5 L452.0 348.6 L453.0 347.6 L454.0 346.2 L455.0 344.7 L456.0 343.2 L457.0 341.7 L458.0 340.3 L459.0 339.3 L460.0 338.5 L461.0 337.9 L462.0 337.3 L463.0 336.7 L464.0 336.1 L465.0 335.5 L466.0 334.7 L467.0 333.8 L468.0 332.8 L469.0 331.8 L470.0 330.7 L471.0 329.6 L472.0 328.6 L473.0 327.7 L474.0 326.9 L475.0 326.2 L476.0 325.5 L477.0 324.8 L478.0 324.2 L479.0 323.6 L480.0 323.0 L481.0 322.4 L482.0 321.9 L483.0 321.4 L484.0 320.9 L485.0 320.4 L486.0 319.9 L487.0 319.4 L488.0 319.0 L489.0 318.6 L490.0 318.2 L491.0 317.7 L492.0 317.3 L493.0 316.9 L494.0 316.6 L495.0 316.3 L496.0 316.1 L497.0 316.0 L498.0 315.9 L499.0 315.9 L500.0 315.8 L501.0 315.7 L502.0 315.7 L503.0 315.7 L504.0 315.7 L505.0 315.9 L506.0 316.0 L507.0 316.2 L508.0 316.4 L509.0 316.5 L510.0 316.6 L511.0 316.6 L512.0 316.6 L513.0 316.6 L514.0 316.6 L515.0 316.6 L516.0 316.6 L517.0 316.6 L518.0 316.6 L519.0 316.6 L520.0 316.6 L521.0 316.4 L522.0 316.1 L523.0 315.6 L524.0 315.1 L525.0 314.6 L526.0 314.0 L527.0 313.4 L528.0 312.7 L529.0 311.9 L530.0 311.0 L531.0 310.1 L532.0 309.1 L533.0 308.3 L534.0 307.6 L535.0 306.8 L536.0 306.1 L537.0 305.4 L538.0 304.8 L539.0 304.1 L540.0 303.5 L541.0 302.9 L542.0 302.3 L543.0 301.6 L544.0 301.0 L545.0 300.4 L546.0 300.0 L547.0 299.8 L548.0 299.8 L549.0 300.0 L550.0 300.3 L551.0 300.7 L552.0 301.1 L553.0 301.4 L554.0 301.6 L555.0 301.8 L556.0 301.9 L557.0 301.9 L558.0 302.0 L559.0 302.0 L560.0 302.1 L561.0 302.2 L562.0 302.3 L563.0 302.4 L564.0 302.5 L565.0 302.7 L566.0 302.9 L567.0 303.0 L568.0 303.1 L569.0 303.2 L570.0 303.3 L571.0 303.3 L572.0 303.2 L573.0 303.1 L574.0 303.0 L575.0 302.8 L576.0 302.6 L577.0 302.3 L578.0 302.1 L579.0 301.8 L580.0 301.4 L581.0 301.0 L582.0 300.5 L583.0 299.9 L584.0 299.4 L585.0 298.8 L586.0 298.1 L587.0 297.5 L588.0 296.8 L589.0 295.9 L590.0 295.0 L591.0 294.0 L592.0 292.9 L593.0 291.9 L594.0 291.0 L595.0 290.2 L596.0 289.6 L597.0 289.1 L598.0 288.6 L599.0 288.2 L600.0 287.9 L601.0 287.5 L602.0 287.3 L603.0 287.1 L604.0 286.9 L605.0 286.7 L606.0 286.6 L607.0 286.5 L608.0 286.4 L609.0 286.3 L610.0 286.2 L611.0 286.1 L612.0 286.0 L613.0 285.9 L614.0 285.7 L615.0 285.6 L616.0 285.5 L617.0 285.4 L618.0 285.3 L619.0 285.2 L620.0 285.0 L621.0 284.9 L622.0 284.7 L623.0 284.4 L624.0 284.0 L625.0 283.5 L626.0 282.9 L627.0 282.3 L628.0 281.6 L629.0 280.9 L630.0 280.2 L631.0 279.5 L632.0 278.8 L633.0 278.1 L634.0 277.5 L635.0 276.9 L636.0 276.3 L637.0 275.7 L638.0 275.1 L639.0 274.4 L640.0 273.7 L641.0 272.9 L642.0 272.0 L643.0 270.7 L644.0 269.0 L645.0 267.1 L646.0 265.1 L647.0 263.2 L648.0 261.6 L649.0 260.2 L650.0 258.7 L651.0 257.4 L652.0 256.2 L653.0 255.2 L654.0 254.4 L655.0 253.6 L656.0 252.9 L657.0 252.2 L658.0 251.6 L659.0 251.2 L660.0 250.9 L661.0 250.8 L662.0 250.9 L663.0 251.2 L664.0 251.6 L665.0 252.1 L666.0 252.6 L667.0 253.2 L668.0 254.0 L669.0 255.0 L670.0 256.1 L671.0 257.4 L672.0 258.7 L673.0 260.1 L674.0 261.4 L675.0 262.7 L676.0 263.9 L677.0 265.2 L678.0 266.5 L679.0 267.7 L680.0 269.0 L681.0 270.2 L682.0 271.3 L683.0 272.2 L684.0 273.0 L685.0 273.7 L686.0 274.4 L687.0 275.1 L688.0 275.7 L689.0 276.3 L690.0 276.9 L691.0 277.6 L692.0 278.2 L693.0 278.9 L694.0 279.4 L695.0 280.0 L696.0 280.6 L697.0 281.2 L698.0 281.9 L699.0 282.7 L700.0 283.5 L701.0 284.5 L702.0 285.8 L703.0 287.2 L704.0 288.8 L705.0 290.5 L706.0 292.2 L707.0 293.8 L708.0 295.4 L709.0 296.8 L710.0 298.1 L711.0 299.4 L712.0 300.7 L713.0 302.0 L714.0 303.2 L715.0 304.3 L716.0 305.4 L717.0 306.4 L718.0 307.3 L719.0 308.1 L720.0 308.8 L721.0 309.5 L722.0 310.2 L723.0 310.8 L724.0 311.4 L725.0 312.0 L726.0 312.6 L727.0 313.1 L728.0 313.7 L729.0 314.2 L730.0 314.7 L731.0 315.2 L732.0 315.6 L733.0 316.1 L734.0 316.6 L735.0 317.1 L736.0 317.8 L737.0 318.5 L738.0 319.3 L739.0 320.0 L740.0 320.7 L741.0 321.2 L742.0 321.5 L743.0 321.5 L744.0 321.2 L745.0 320.7 L746.0 320.0 L747.0 319.2 L748.0 318.3 L749.0 317.4 L750.0 316.5 L751.0 315.6 L752.0 314.7 L753.0 314.0 L754.0 313.3 L755.0 312.5 L756.0 311.8 L757.0 311.0 L758.0 310.3 L759.0 309.7 L760.0 309.1 L761.0 308.5 L762.0 308.1 L763.0 307.6 L764.0 307.2 L765.0 306.8 L766.0 306.5 L767.0 306.1 L768.0 305.9 L769.0 305.6 L770.0 305.5 L771.0 305.4 L772.0 305.3 L773.0 305.3 L774.0 305.2 L775.0 305.2 L776.0 305.1 L777.0 305.1 L778.0 305.0 L779.0 304.9 L780.0 304.7 L781.0 304.6 L782.0 304.3 L783.0 304.1 L784.0 303.8 L785.0 303.5 L786.0 303.1 L787.0 302.8 L788.0 302.4 L789.0 301.9 L790.0 301.4 L791.0 300.8 L792.0 300.1 L793.0 299.4 L794.0 298.6 L795.0 297.8 L796.0 297.0 L797.0 296.2 L798.0 295.4 L799.0 294.4 L800.0 293.5 L801.0 292.5 L802.0 291.4 L803.0 290.3 L804.0 289.2 L805.0 288.1 L806.0 286.9 L807.0 285.7 L808.0 284.5 L809.0 283.1 L810.0 281.8 L811.0 280.4 L812.0 279.0 L813.0 277.5 L814.0 275.9 L815.0 274.3 L816.0 272.5 L817.0 270.6 L818.0 268.7 L819.0 266.8 L820.0 265.0 L821.0 263.2 L822.0 261.3 L823.0 259.5 L824.0 257.7 L825.0 255.8 L826.0 254.0 L827.0 252.2 L828.0 250.4 L829.0 248.7 L830.0 247.0 L831.0 245.3 L832.0 243.6 L833.0 242.0 L834.0 240.3 L835.0 238.7 L836.0 237.1 L837.0 235.4 L838.0 233.8 L839.0 232.1 L840.0 230.5 L841.0 228.9 L842.0 227.3 L843.0 225.6 L844.0 224.0 L845.0 222.2 L846.0 220.5 L847.0 218.6 L848.0 216.6 L849.0 214.6 L850.0 212.5 L851.0 210.4 L852.0 208.3 L853.0 206.3 L854.0 204.3 L855.0 202.4 L856.0 200.6 L857.0 198.8 L858.0 197.0 L859.0 195.3 L860.0 193.6 L861.0 191.9 L862.0 190.4 L863.0 189.0 L864.0 187.7 L865.0 186.5 L866.0 185.4 L867.0 184.3 L868.0 183.3 L869.0 182.3 L870.0 181.3 L871.0 180.5 L872.0 179.6 L873.0 178.8 L874.0 178.0 L875.0 177.3 L876.0 176.5 L877.0 175.8 L878.0 175.2 L879.0 174.6 L880.0 174.0 L881.0 173.5 L882.0 173.1 L883.0 172.6 L884.0 172.2 L885.0 171.7 L886.0 171.4 L887.0 171.0 L888.0 170.8 L889.0 170.6 L890.0 170.6 L891.0 170.6 L892.0 170.7 L893.0 170.9 L894.0 171.0 L895.0 171.2 L896.0 171.4 L897.0 171.6 L898.0 171.9 L899.0 172.1 L900.0 172.3 L901.0 172.6 L902.0 172.9 L903.0 173.2 L904.0 173.5 L905.0 173.9 L906.0 174.3 L907.0 174.8 L908.0 175.5 L909.0 176.7 L910.0 178.1 L911.0 179.6 L912.0 181.0 L913.0 182.1 L914.0 182.9 L915.0 183.5 L916.0 184.1 L917.0 184.6 L918.0 185.1 L919.0 185.7 L920.0 186.3 L921.0 187.1 L922.0 188.1 L923.0 189.2 L924.0 190.4 L925.0 191.5 L926.0 192.6 L927.0 193.4 L928.0 194.1 L929.0 194.6 L930.0 195.2 L931.0 195.7 L932.0 196.1 L933.0 196.5 L934.0 196.7 L935.0 196.8 L936.0 196.5 L937.0 195.6 L938.0 194.2 L939.0 192.7 L940.0 191.1 L941.0 189.6 L942.0 188.3 L943.0 187.3 L944.0 186.4 L945.0 185.5 L946.0 184.6 L947.0 183.8 L948.0 183.0 L949.0 182.3 L950.0 181.5 L951.0 180.8 L952.0 180.0 L953.0 179.2 L954.0 178.4 L955.0 177.7 L956.0 177.1 L957.0 176.6 L958.0 176.4 L959.0 176.5 L960.0 176.7 L961.0 177.1 L962.0 177.6 L963.0 178.2 L964.0 178.8 L965.0 179.4 L966.0 180.0 L967.0 180.5 L968.0 181.1 L969.0 181.7 L970.0 182.3 L971.0 183.0 L972.0 183.6 L973.0 184.3 L974.0 184.9 L975.0 185.6 L976.0 186.2 L977.0 186.8 L978.0 187.5 L979.0 188.2 L980.0 188.9 L981.0 189.6 L982.0 190.3 L983.0 191.0 L984.0 191.8 L985.0 192.6 L986.0 193.5 L987.0 194.4 L988.0 195.3 L989.0 196.2 L990.0 197.0 L991.0 197.7 L992.0 198.4 L993.0 199.0 L994.0 199.6 L995.0 200.2 L996.0 200.8 L997.0 201.3 L998.0 201.8 L999.0 202.2 L1000.0 202.5 L1001.0 202.8 L1002.0 203.0 L1003.0 203.2 L1004.0 203.5 L1005.0 203.7 L1006.0 203.8 L1007.0 204.0 L1008.0 204.1 L1009.0 204.1 L1010.0 204.0 L1011.0 203.5 L1012.0 202.9 L1013.0 202.2 L1014.0 201.7 L1015.0 201.5 L1016.0 201.8 L1017.0 202.6 L1018.0 203.9 L1019.0 205.4 L1020.0 207.2 L1021.0 209.0 L1022.0 210.8 L1023.0 212.5 L1024.0 213.9 L1025.0 215.3 L1026.0 216.7 L1027.0 218.1 L1028.0 219.5 L1029.0 220.9 L1030.0 222.2 L1031.0 223.4 L1032.0 224.6 L1033.0 225.6 L1034.0 226.6 L1035.0 227.6 L1036.0 228.6 L1037.0 229.5 L1038.0 230.3 L1039.0 231.1 L1040.0 231.7 L1041.0 232.3 L1042.0 232.8 L1043.0 233.1 L1044.0 233.5 L1045.0 233.8 L1046.0 234.1 L1047.0 234.3 L1048.0 234.6 L1049.0 235.0 L1050.0 235.3 L1051.0 235.8 L1052.0 236.2 L1053.0 236.7 L1054.0 237.2 L1055.0 237.8 L1056.0 238.3 L1057.0 238.8 L1058.0 239.3 L1059.0 239.9 L1060.0 240.4 L1061.0 240.9 L1062.0 241.5 L1063.0 242.1 L1064.0 242.6 L1065.0 243.1 L1066.0 243.6 L1067.0 244.0 L1068.0 244.3 L1069.0 244.6 L1070.0 245.0 L1071.0 245.2 L1072.0 245.4 L1073.0 245.5 L1074.0 245.4 L1075.0 245.1 L1076.0 244.6 L1077.0 244.0 L1078.0 243.2 L1079.0 242.3 L1080.0 241.4 L1081.0 240.5 L1082.0 239.6 L1083.0 238.6 L1084.0 237.5 L1085.0 236.2 L1086.0 234.8 L1087.0 233.4 L1088.0 231.9 L1089.0 230.5 L1090.0 229.1 L1091.0 227.7 L1092.0 226.3 L1093.0 225.0 L1094.0 223.6 L1095.0 222.2 L1096.0 220.9 L1097.0 219.5 L1098.0 218.2 L1099.0 216.9 L1100.0 215.6 L1101.0 214.4 L1102.0 213.1 L1103.0 211.8 L1104.0 210.5 L1105.0 209.4 L1106.0 208.2 L1107.0 207.2 L1108.0 206.3 L1109.0 205.5 L1110.0 204.7 L1111.0 204.0 L1112.0 203.3 L1113.0 202.7 L1114.0 202.1 L1115.0 201.5 L1116.0 200.9 L1117.0 200.3 L1118.0 199.8 L1119.0 199.2 L1120.0 198.7 L1121.0 198.1 L1122.0 197.6 L1123.0 197.1 L1124.0 196.7 L1125.0 196.2 L1126.0 195.8 L1127.0 195.4 L1128.0 195.0 L1129.0 194.7 L1130.0 194.6 L1131.0 194.9 L1132.0 195.5 L1133.0 196.6 L1134.0 197.8 L1135.0 199.1 L1136.0 200.5 L1137.0 201.7 L1138.0 202.8 L1139.0 203.9 L1140.0 205.0 L1141.0 206.1 L1142.0 207.2 L1143.0 208.4 L1144.0 209.6 L1145.0 210.8 L1146.0 212.1 L1147.0 213.5 L1148.0 215.0 L1149.0 216.5 L1150.0 218.1 L1151.0 219.8 L1152.0 221.3 L1153.0 222.8 L1154.0 224.2 L1155.0 225.5 L1156.0 226.6 L1157.0 227.5 L1158.0 228.5 L1159.0 229.4 L1160.0 230.3 L1161.0 231.2 L1162.0 232.2 L1163.0 233.4 L1164.0 234.7 L1165.0 236.4 L1166.0 238.3 L1167.0 240.2 L1168.0 242.2 L1169.0 244.1 L1170.0 245.8 L1171.0 247.3 L1172.0 248.8 L1173.0 250.2 L1174.0 251.6 L1175.0 253.0 L1176.0 254.2 L1177.0 255.5 L1178.0 256.7 L1179.0 257.8 L1180.0 258.9 L1181.0 259.9 L1182.0 260.8 L1183.0 261.6 L1184.0 262.5 L1185.0 263.5 L1186.0 264.5 L1187.0 265.6 L1188.0 266.8 L1189.0 268.3 L1190.0 269.8 L1191.0 271.5 L1192.0 273.2 L1193.0 275.0 L1194.0 276.8 L1195.0 278.6 L1196.0 280.4 L1197.0 282.1 L1198.0 283.8 L1199.0 285.5 L1200.0 287.3 L1201.0 289.0 L1202.0 290.7 L1203.0 292.3 L1204.0 293.9 L1205.0 295.4 L1206.0 296.9 L1207.0 298.2 L1208.0 299.4 L1209.0 300.6 L1210.0 301.8 L1211.0 303.1 L1212.0 304.4 L1213.0 305.8 L1214.0 307.4 L1215.0 309.2 L1216.0 311.1 L1217.0 313.2 L1218.0 315.4 L1219.0 317.6 L1220.0 319.7 L1221.0 321.8 L1222.0 323.7 L1223.0 325.5 L1224.0 327.3 L1225.0 329.0 L1226.0 330.6 L1227.0 332.0 L1228.0 333.0 L1229.0 333.6 L1230.0 334.2 L1231.0 334.8 L1232.0 335.3 L1233.0 335.7 L1234.0 336.1 L1235.0 336.4 L1236.0 336.5 L1237.0 336.6 L1238.0 336.6 L1239.0 336.5 L1240.0 336.4 L1241.0 336.3 L1242.0 336.2 L1243.0 336.1 L1244.0 336.1 L1245.0 336.0 L1246.0 336.0 L1247.0 336.1 L1248.0 336.3 L1249.0 336.6 L1250.0 337.0 L1251.0 337.4 L1252.0 337.9 L1253.0 338.3 L1254.0 338.8 L1255.0 339.3 L1256.0 339.9 L1257.0 340.5 L1258.0 341.2 L1259.0 342.0 L1260.0 342.7 L1261.0 343.4 L1262.0 344.1 L1263.0 344.7 L1264.0 345.3 L1265.0 345.8 L1266.0 346.4 L1267.0 346.9 L1268.0 347.4 L1269.0 347.9 L1270.0 348.3 L1271.0 348.7 L1272.0 349.1 L1273.0 349.5 L1274.0 349.8 L1275.0 350.2 L1276.0 350.5 L1277.0 350.8 L1278.0 351.1 L1279.0 351.4 L1280.0 351.8 L1281.0 352.2 L1282.0 352.6 L1283.0 353.0 L1284.0 353.4 L1285.0 353.9 L1286.0 354.4 L1287.0 354.9 L1288.0 355.5 L1289.0 356.2 L1290.0 357.0 L1291.0 358.0 L1292.0 359.3 L1293.0 360.7 L1294.0 362.3 L1295.0 363.8 L1296.0 365.3 L1297.0 366.7 L1298.0 368.0 L1299.0 369.1 L1300.0 370.1 L1301.0 371.1 L1302.0 372.0 L1303.0 373.0 L1304.0 373.9 L1305.0 374.9 L1306.0 375.9 L1307.0 377.0 L1308.0 378.3 L1309.0 379.6 L1310.0 381.0 L1311.0 382.4 L1312.0 383.8 L1313.0 385.2 L1314.0 386.6 L1315.0 387.8 L1316.0 389.0 L1317.0 390.1 L1318.0 391.3 L1319.0 392.4 L1320.0 393.4 L1321.0 394.4 L1322.0 395.4 L1323.0 396.2 L1324.0 397.0 L1325.0 397.6 L1326.0 398.2 L1327.0 398.7 L1328.0 399.1 L1329.0 399.5 L1330.0 399.9 L1331.0 400.4 L1332.0 400.9 L1333.0 401.5 L1334.0 402.4 L1335.0 403.5 L1336.0 404.8 L1337.0 406.2 L1338.0 407.4 L1339.0 408.3 L1340.0 408.8 L1341.0 408.8 L1342.0 408.9 L1343.0 408.9 L1344.0 408.9 L1345.0 409.0 L1346.0 409.0 L1347.0 409.0 L1348.0 409.0 L1349.0 409.0 L1350.0 408.9 L1351.0 408.8 L1352.0 408.7 L1353.0 408.6 L1354.0 408.5 L1355.0 408.3 L1356.0 408.2 L1357.0 408.1 L1358.0 408.1 L1359.0 408.0 L1360.0 407.9 L1361.0 407.8 L1362.0 407.7 L1363.0 407.6 L1364.0 407.5 L1365.0 407.3 L1366.0 407.0 L1367.0 406.4 L1368.0 405.5 L1369.0 404.5 L1370.0 403.3 L1371.0 402.1 L1372.0 400.8 L1373.0 399.5 L1374.0 398.2 L1375.0 396.7 L1376.0 395.0 L1377.0 393.1 L1378.0 391.2 L1379.0 389.4 L1380.0 387.7 L1381.0 386.3 L1382.0 385.0 L1383.0 383.9 L1384.0 382.7 L1385.0 381.7 L1386.0 380.7 L1387.0 379.7 L1388.0 378.8 L1389.0 377.9 L1390.0 377.0 L1391.0 376.2 L1392.0 375.3 L1393.0 374.6 L1394.0 373.9 L1395.0 373.3 L1396.0 372.7 L1397.0 372.1 L1398.0 371.5 L1399.0 370.8 L1400.0 370.1 L1401.0 369.2 L1402.0 368.2 L1403.0 367.0 L1404.0 365.6 L1405.0 364.2 L1406.0 362.7 L1407.0 361.3 L1408.0 359.8 L1409.0 358.4 L1410.0 357.1 L1411.0 355.8 L1412.0 354.5 L1413.0 353.2 L1414.0 351.9 L1415.0 350.6 L1416.0 349.3 L1417.0 347.9 L1418.0 346.5 L1419.0 345.1 L1420.0 343.7 L1421.0 342.2 L1422.0 340.7 L1423.0 339.2 L1424.0 337.7 L1425.0 336.1 L1426.0 334.4 L1427.0 332.7 L1428.0 330.9 L1429.0 329.0 L1430.0 327.1 L1431.0 325.2 L1432.0 323.2 L1433.0 321.4 L1434.0 319.6 L1435.0 317.8 L1436.0 316.1 L1437.0 314.5 L1438.0 312.8 L1439.0 311.2 L1440.0 309.6 L1441.0 307.9 L1442.0 306.3 L1443.0 304.6 L1444.0 302.9 L1445.0 301.2 L1446.0 299.5 L1447.0 297.8 L1448.0 296.1 L1449.0 294.4 L1450.0 292.8 L1451.0 291.3 L1452.0 289.8 L1453.0 288.4 L1454.0 287.1 L1455.0 285.7 L1456.0 284.4 L1457.0 283.1 L1458.0 281.9 L1459.0 280.6 L1460.0 279.4 L1461.0 278.1 L1462.0 276.9 L1463.0 275.7 L1464.0 274.6 L1465.0 273.4 L1466.0 272.3 L1467.0 271.2 L1468.0 270.1 L1469.0 269.0 L1470.0 268.0 L1471.0 266.9 L1472.0 265.9 L1473.0 264.9 L1474.0 263.9 L1475.0 263.0 L1476.0 262.1 L1477.0 261.2 L1478.0 260.4 L1479.0 259.6 L1480.0 258.8 L1481.0 258.0 L1482.0 257.3 L1483.0 256.5 L1483.1 256.4" stroke="#a80808" stroke-width="1.7" fill="none" stroke-dasharray="5 3.8"/>
<path d="M257.0 347.1L262.8 347.6" stroke="#0a0a96" stroke-width="3.4"/>
<path d="M268.6 347.6L274.3 348.6" stroke="#a87010" stroke-width="3.4"/>
<path d="M279.9 350.0L285.4 351.7" stroke="#a87010" stroke-width="3.4"/>
<path d="M290.9 353.6L296.6 354.7" stroke="#a87010" stroke-width="3.4"/>
<path d="M302.4 355.3L308.2 355.2" stroke="#f01818" stroke-width="3.4"/>
<path d="M314.0 354.9L319.7 354.3" stroke="#f01818" stroke-width="3.4"/>
<path d="M325.5 353.5L331.2 352.4" stroke="#0a0a96" stroke-width="3.4"/>
<path d="M336.9 351.2L342.5 349.9" stroke="#0a0a96" stroke-width="3.4"/>
<path d="M348.1 348.4L353.7 346.7" stroke="#0a0a96" stroke-width="3.4"/>
<path d="M359.2 344.9L364.6 343.0" stroke="#0a0a96" stroke-width="3.4"/>
<path d="M369.9 340.6L375.2 338.2" stroke="#0a0a96" stroke-width="3.4"/>
<path d="M380.6 336.2L386.2 334.7" stroke="#0a0a96" stroke-width="3.4"/>
<path d="M391.9 333.4L397.6 332.1" stroke="#0a0a96" stroke-width="3.4"/>
<path d="M403.1 330.4L408.7 329.1" stroke="#0a0a96" stroke-width="3.4"/>
<path d="M414.5 329.4L420.3 330.0" stroke="#a87010" stroke-width="3.4"/>
<path d="M426.1 330.4L431.8 330.8" stroke="#a87010" stroke-width="3.4"/>
<path d="M437.6 331.3L443.4 331.8" stroke="#a87010" stroke-width="3.4"/>
<path d="M449.2 332.5L454.9 333.5" stroke="#f01818" stroke-width="3.4"/>
<path d="M460.7 333.3L466.4 332.3" stroke="#f01818" stroke-width="3.4"/>
<path d="M472.1 331.4L477.8 330.4" stroke="#0a0a96" stroke-width="3.4"/>
<path d="M483.5 329.5L489.3 328.5" stroke="#0a0a96" stroke-width="3.4"/>
<path d="M495.0 327.6L500.7 326.7" stroke="#0a0a96" stroke-width="3.4"/>
<path d="M506.5 326.0L512.3 325.7" stroke="#0a0a96" stroke-width="3.4"/>
<path d="M518.1 325.6L523.9 325.4" stroke="#0a0a96" stroke-width="3.4"/>
<path d="M529.6 324.8L535.4 324.3" stroke="#0a0a96" stroke-width="3.4"/>
<path d="M541.2 324.0L547.0 323.7" stroke="#0a0a96" stroke-width="3.4"/>
<path d="M552.8 323.5L558.6 323.3" stroke="#0a0a96" stroke-width="3.4"/>
<path d="M564.4 323.1L570.2 322.7" stroke="#0a0a96" stroke-width="3.4"/>
<path d="M576.0 322.2L581.6 321.1" stroke="#0a0a96" stroke-width="3.4"/>
<path d="M587.1 319.1L592.5 317.0" stroke="#0a0a96" stroke-width="3.4"/>
<path d="M597.8 314.7L603.2 312.5" stroke="#0a0a96" stroke-width="3.4"/>
<path d="M608.6 310.5L614.1 308.7" stroke="#0a0a96" stroke-width="3.4"/>
<path d="M619.6 306.8L624.7 304.0" stroke="#0a0a96" stroke-width="3.4"/>
<path d="M629.9 301.4L635.1 298.8" stroke="#0a0a96" stroke-width="3.4"/>
<path d="M640.3 296.2L645.4 293.5" stroke="#0a0a96" stroke-width="3.4"/>
<path d="M650.5 290.8L655.9 288.7" stroke="#0a0a96" stroke-width="3.4"/>
<path d="M661.4 286.8L667.0 285.4" stroke="#0a0a96" stroke-width="3.4"/>
<path d="M672.7 284.1L678.4 283.1" stroke="#0a0a96" stroke-width="3.4"/>
<path d="M684.2 282.8L690.0 282.8" stroke="#0a0a96" stroke-width="3.4"/>
<path d="M695.8 283.3L701.5 284.0" stroke="#a87010" stroke-width="3.4"/>
<path d="M707.2 284.9L713.0 285.6" stroke="#a87010" stroke-width="3.4"/>
<path d="M718.7 286.4L724.5 287.2" stroke="#a87010" stroke-width="3.4"/>
<path d="M730.2 288.0L736.0 288.8" stroke="#a87010" stroke-width="3.4"/>
<path d="M741.7 289.6L747.5 290.4" stroke="#a87010" stroke-width="3.4"/>
<path d="M753.2 291.2L759.0 292.0" stroke="#a87010" stroke-width="3.4"/>
<path d="M764.7 292.8L770.5 293.1" stroke="#a87010" stroke-width="3.4"/>
<path d="M776.3 293.3L782.1 293.3" stroke="#f01818" stroke-width="3.4"/>
<path d="M787.9 293.3L793.7 293.1" stroke="#0a0a96" stroke-width="3.4"/>
<path d="M799.4 292.0L805.1 291.0" stroke="#0a0a96" stroke-width="3.4"/>
<path d="M810.8 290.0L816.5 289.1" stroke="#0a0a96" stroke-width="3.4"/>
<path d="M822.2 288.0L827.8 286.5" stroke="#0a0a96" stroke-width="3.4"/>
<path d="M833.3 284.6L838.5 282.1" stroke="#0a0a96" stroke-width="3.4"/>
<path d="M843.5 279.1L848.3 275.9" stroke="#0a0a96" stroke-width="3.4"/>
<path d="M853.3 272.9L858.3 270.0" stroke="#0a0a96" stroke-width="3.4"/>
<path d="M863.2 266.9L867.8 263.4" stroke="#0a0a96" stroke-width="3.4"/>
<path d="M872.3 259.7L876.8 256.0" stroke="#0a0a96" stroke-width="3.4"/>
<path d="M881.6 252.8L886.6 249.9" stroke="#0a0a96" stroke-width="3.4"/>
<path d="M891.6 247.0L896.6 244.0" stroke="#0a0a96" stroke-width="3.4"/>
<path d="M901.6 241.0L906.5 238.0" stroke="#0a0a96" stroke-width="3.4"/>
<path d="M911.5 235.0L916.5 232.0" stroke="#0a0a96" stroke-width="3.4"/>
<path d="M921.5 229.1L926.4 226.1" stroke="#0a0a96" stroke-width="3.4"/>
<path d="M931.4 223.1L936.4 220.1" stroke="#0a0a96" stroke-width="3.4"/>
<path d="M941.3 217.0L946.2 213.9" stroke="#0a0a96" stroke-width="3.4"/>
<path d="M951.3 211.2L956.6 208.9" stroke="#0a0a96" stroke-width="3.4"/>
<path d="M962.0 206.8L967.5 204.8" stroke="#0a0a96" stroke-width="3.4"/>
<path d="M972.9 202.8L978.3 200.8" stroke="#0a0a96" stroke-width="3.4"/>
<path d="M983.7 198.6L989.2 196.7" stroke="#0a0a96" stroke-width="3.4"/>
<path d="M994.8 195.2L1000.5 193.9" stroke="#0a0a96" stroke-width="3.4"/>
<path d="M1006.1 192.4L1011.8 191.5" stroke="#0a0a96" stroke-width="3.4"/>
<path d="M1017.6 192.0L1023.3 192.9" stroke="#a87010" stroke-width="3.4"/>
<path d="M1029.0 193.9L1034.7 195.1" stroke="#a87010" stroke-width="3.4"/>
<path d="M1040.3 196.5L1045.9 198.0" stroke="#a87010" stroke-width="3.4"/>
<path d="M1051.5 199.5L1057.0 201.3" stroke="#a87010" stroke-width="3.4"/>
<path d="M1062.4 203.6L1067.4 206.4" stroke="#a87010" stroke-width="3.4"/>
<path d="M1072.6 208.9L1078.2 210.6" stroke="#a87010" stroke-width="3.4"/>
<path d="M1083.8 211.9L1089.5 213.3" stroke="#a87010" stroke-width="3.4"/>
<path d="M1095.2 214.3L1101.0 214.4" stroke="#f01818" stroke-width="3.4"/>
<path d="M1106.7 213.9L1112.5 213.4" stroke="#f01818" stroke-width="3.4"/>
<path d="M1118.3 213.1L1124.1 212.7" stroke="#0a0a96" stroke-width="3.4"/>
<path d="M1129.9 212.2L1135.7 212.1" stroke="#0a0a96" stroke-width="3.4"/>
<path d="M1141.4 212.7L1147.2 213.7" stroke="#a87010" stroke-width="3.4"/>
<path d="M1152.7 215.3L1158.2 217.2" stroke="#a87010" stroke-width="3.4"/>
<path d="M1163.8 218.8L1169.4 220.4" stroke="#a87010" stroke-width="3.4"/>
<path d="M1174.9 222.1L1180.2 224.5" stroke="#a87010" stroke-width="3.4"/>
<path d="M1185.3 227.2L1190.4 229.9" stroke="#a87010" stroke-width="3.4"/>
<path d="M1195.6 232.5L1200.8 235.1" stroke="#a87010" stroke-width="3.4"/>
<path d="M1206.0 237.6L1211.2 240.3" stroke="#a87010" stroke-width="3.4"/>
<path d="M1215.4 244.2L1219.3 248.5" stroke="#a87010" stroke-width="3.4"/>
<path d="M1223.5 252.6L1227.9 256.3" stroke="#a87010" stroke-width="3.4"/>
<path d="M1232.4 259.9L1237.1 263.4" stroke="#a87010" stroke-width="3.4"/>
<path d="M1241.8 266.7L1246.7 269.9" stroke="#a87010" stroke-width="3.4"/>
<path d="M1251.6 273.0L1256.4 276.2" stroke="#a87010" stroke-width="3.4"/>
<path d="M1261.2 279.5L1266.0 282.8" stroke="#a87010" stroke-width="3.4"/>
<path d="M1270.9 285.9L1275.8 288.9" stroke="#a87010" stroke-width="3.4"/>
<path d="M1280.8 291.8L1285.8 294.9" stroke="#a87010" stroke-width="3.4"/>
<path d="M1290.5 298.3L1295.0 301.9" stroke="#a87010" stroke-width="3.4"/>
<path d="M1299.5 305.6L1303.9 309.4" stroke="#a87010" stroke-width="3.4"/>
<path d="M1308.2 313.3L1312.4 317.2" stroke="#a87010" stroke-width="3.4"/>
<path d="M1316.7 321.1L1321.0 325.0" stroke="#a87010" stroke-width="3.4"/>
<path d="M1325.4 328.8L1329.7 332.7" stroke="#a87010" stroke-width="3.4"/>
<path d="M1334.0 336.6L1338.2 340.6" stroke="#a87010" stroke-width="3.4"/>
<path d="M1342.6 344.4L1346.9 348.2" stroke="#a87010" stroke-width="3.4"/>
<path d="M1351.3 352.0L1355.9 355.6" stroke="#a87010" stroke-width="3.4"/>
<path d="M1360.7 358.8L1365.9 361.5" stroke="#a87010" stroke-width="3.4"/>
<path d="M1371.1 363.9L1376.4 366.4" stroke="#a87010" stroke-width="3.4"/>
<path d="M1381.7 368.6L1387.3 370.2" stroke="#a87010" stroke-width="3.4"/>
<path d="M1393.0 371.3L1398.8 371.7" stroke="#a87010" stroke-width="3.4"/>
<path d="M1404.6 371.5L1410.4 371.1" stroke="#f01818" stroke-width="3.4"/>
<path d="M1416.0 370.1L1421.7 368.7" stroke="#0a0a96" stroke-width="3.4"/>
<path d="M1427.2 367.2L1432.6 365.0" stroke="#0a0a96" stroke-width="3.4"/>
<path d="M1437.7 362.3L1442.7 359.4" stroke="#0a0a96" stroke-width="3.4"/>
<path d="M1447.6 356.2L1452.5 353.2" stroke="#0a0a96" stroke-width="3.4"/>
<path d="M1457.5 350.2L1462.4 347.1" stroke="#0a0a96" stroke-width="3.4"/>
<path d="M1467.1 343.7L1471.7 340.1" stroke="#0a0a96" stroke-width="3.4"/>
<path d="M1476.2 336.5L1480.6 332.7" stroke="#0a0a96" stroke-width="3.4"/>
<path d="M40.1 359.1 L41.1 357.3 L42.1 355.6 L43.1 353.9 L44.1 352.1 L45.1 350.4 L46.1 348.6 L47.1 346.7 L48.1 344.8 L49.1 342.9 L50.1 340.9 L51.1 338.9 L52.1 336.8 L53.1 334.6 L54.1 332.2 L55.1 329.7 L56.1 327.1 L57.1 324.3 L58.1 321.3 L59.1 318.1 L60.1 314.7 L61.1 311.0 L62.1 307.1 L63.1 302.3 L64.1 296.8 L65.1 291.1 L66.1 285.5 L67.1 280.0 L68.1 274.5 L69.1 269.1 L70.1 264.1 L71.1 259.7 L72.1 255.5 L73.1 251.6 L74.1 247.9 L75.1 244.2 L76.1 240.3 L77.1 236.7 L78.1 233.8 L79.1 231.8 L80.1 230.0 L81.1 228.3 L82.1 226.8 L83.1 225.5 L84.1 224.6 L85.1 224.1 L86.1 224.1 L87.1 224.9 L88.1 226.4 L89.1 228.3 L90.1 230.4 L91.1 232.5 L92.1 234.4 L93.1 236.1 L94.1 237.8 L95.1 239.5 L96.1 241.2 L97.1 242.8 L98.1 244.4 L99.1 245.8 L100.1 247.0 L101.1 248.4 L102.1 249.7 L103.1 250.8 L104.1 251.6 L105.1 252.0 L106.1 251.8 L107.1 251.3 L108.1 250.7 L109.1 250.0 L110.1 249.4 L111.1 249.1 L112.1 249.0 L113.1 248.8 L114.1 248.7 L115.1 248.7" stroke="#000000" stroke-width="3.5" fill="none" stroke-linejoin="round" stroke-linecap="round"/>
<path d="M115.1 248.7 L116.1 249.4 L117.1 251.0 L118.1 252.9 L119.1 254.6 L120.1 256.1" stroke="#0c7c10" stroke-width="3.5" fill="none" stroke-linejoin="round" stroke-linecap="round"/>
<path d="M120.1 256.1 L121.1 257.6 L122.1 259.1 L123.1 260.6 L124.1 262.2 L125.1 263.9" stroke="#4a3a08" stroke-width="3.5" fill="none" stroke-linejoin="round" stroke-linecap="round"/>
<path d="M125.1 263.9 L126.1 265.7 L127.1 267.7 L128.1 269.7 L129.1 271.7 L130.1 273.8 L131.1 275.8 L132.1 277.8 L133.1 279.7 L134.1 281.5 L135.1 283.3 L136.1 285.2 L137.1 287.3 L138.1 289.5 L139.1 292.1" stroke="#b40808" stroke-width="3.5" fill="none" stroke-linejoin="round" stroke-linecap="round"/>
<path d="M139.1 292.1 L140.1 295.0 L141.1 298.4 L142.1 302.1 L143.1 305.9 L144.1 309.9 L145.1 314.0 L146.1 318.3 L147.1 322.9 L148.1 327.9 L149.1 333.5 L150.1 340.3 L151.1 346.8 L152.1 352.4 L153.1 357.7 L154.1 362.8 L155.1 367.6 L156.1 372.3 L157.1 376.8 L158.1 381.0 L159.1 385.1 L160.1 389.0 L161.1 392.9 L162.1 396.7 L163.1 400.6 L164.1 404.6 L165.1 408.8 L166.1 413.2 L167.1 417.5 L168.1 421.8 L169.1 425.8 L170.1 429.5 L171.1 432.6 L172.1 435.6 L173.1 438.4 L174.1 441.1 L175.1 443.5 L176.1 445.7 L177.1 447.5 L178.1 448.9" stroke="#ec0c0c" stroke-width="3.5" fill="none" stroke-linejoin="round" stroke-linecap="round"/>
<path d="M178.1 448.9 L179.1 450.2 L180.1 451.4 L181.1 452.4 L182.1 453.1 L183.1 453.5 L184.1 453.5 L185.1 453.4 L186.1 453.2 L187.1 452.9 L188.1 452.4" stroke="#b40808" stroke-width="3.5" fill="none" stroke-linejoin="round" stroke-linecap="round"/>
<path d="M188.1 452.4 L189.1 451.1 L190.1 449.2 L191.1 446.7 L192.1 444.0 L193.1 441.2 L194.1 438.5 L195.1 436.1 L196.1 433.6 L197.1 431.0 L198.1 428.5 L199.1 426.0 L200.1 423.8" stroke="#1e5a0a" stroke-width="3.5" fill="none" stroke-linejoin="round" stroke-linecap="round"/>
<path d="M200.1 423.8 L201.1 421.8 L202.1 419.9 L203.1 418.2 L204.1 416.4 L205.1 414.7 L206.1 412.8 L207.1 410.8 L208.1 408.6 L209.1 406.2 L210.1 403.7 L211.1 401.2 L212.1 398.8 L213.1 396.5 L214.1 394.3 L215.1 392.3 L216.1 390.4 L217.1 388.5 L218.1 386.8 L219.1 385.0 L220.1 383.2 L221.1 381.5 L222.1 379.7 L223.1 377.8 L224.1 375.8 L225.1 373.8 L226.1 371.7 L227.1 369.5 L228.1 367.4 L229.1 365.3 L230.1 363.3 L231.1 361.4 L232.1 359.5 L233.1 357.9 L234.1 356.1 L235.1 354.3 L236.1 352.7 L237.1 351.5 L238.1 350.7 L239.1 350.4 L240.1 350.3 L241.1 350.1 L242.1 350.0 L243.1 349.9 L244.1 349.8 L245.1 349.7 L246.1 349.5 L247.1 349.2" stroke="#0c7c10" stroke-width="3.5" fill="none" stroke-linejoin="round" stroke-linecap="round"/>
<path d="M247.1 349.2 L248.1 348.7 L249.1 348.0 L250.1 347.2 L251.1 346.3 L252.1 345.4 L253.1 344.6 L254.1 343.9 L255.1 343.4 L256.1 343.0 L257.1 342.5 L258.1 342.1 L259.1 341.7 L260.1 341.5 L261.1 341.3 L262.1 341.3 L263.1 341.5 L264.1 341.9 L265.1 342.3 L266.1 342.9 L267.1 343.4 L268.1 344.0 L269.1 344.5 L270.1 344.9" stroke="#10b616" stroke-width="3.5" fill="none" stroke-linejoin="round" stroke-linecap="round"/>
<path d="M270.1 344.9 L271.1 345.3 L272.1 345.8 L273.1 346.2 L274.1 346.6 L275.1 346.9 L276.1 347.1 L277.1 347.1" stroke="#4a3a08" stroke-width="3.5" fill="none" stroke-linejoin="round" stroke-linecap="round"/>
<path d="M277.1 347.1 L278.1 347.1 L279.1 347.0 L280.1 346.8 L281.1 346.7 L282.1 346.5 L283.1 346.3 L284.1 346.1 L285.1 345.9 L286.1 345.6 L287.1 345.3 L288.1 345.0 L289.1 344.6 L290.1 344.1 L291.1 343.6 L292.1 343.0 L293.1 342.4" stroke="#1e5a0a" stroke-width="3.5" fill="none" stroke-linejoin="round" stroke-linecap="round"/>
<path d="M293.1 342.4 L294.1 341.5 L295.1 340.1 L296.1 338.5 L297.1 336.7 L298.1 335.0 L299.1 333.1 L300.1 331.0 L301.1 328.9 L302.1 326.7 L303.1 324.6 L304.1 322.7 L305.1 321.0 L306.1 319.5 L307.1 318.1 L308.1 316.7 L309.1 315.4 L310.1 314.2 L311.1 313.0 L312.1 311.9 L313.1 310.7 L314.1 309.6 L315.1 308.5 L316.1 307.5 L317.1 306.5 L318.1 305.5 L319.1 304.6 L320.1 303.7 L321.1 302.9 L322.1 302.2 L323.1 301.5 L324.1 300.8 L325.1 300.2 L326.1 299.6 L327.1 299.1 L328.1 298.5 L329.1 297.9 L330.1 297.2 L331.1 296.5 L332.1 295.7 L333.1 294.9 L334.1 294.1 L335.1 293.3 L336.1 292.4 L337.1 291.7 L338.1 291.0 L339.1 290.3 L340.1 289.8 L341.1 289.3 L342.1 288.7 L343.1 288.2 L344.1 287.8 L345.1 287.5 L346.1 287.3 L347.1 287.3 L348.1 287.4 L349.1 287.6 L350.1 287.8 L351.1 288.1 L352.1 288.4 L353.1 288.7 L354.1 289.0" stroke="#10b616" stroke-width="3.5" fill="none" stroke-linejoin="round" stroke-linecap="round"/>
<path d="M354.1 289.0 L355.1 289.4 L356.1 289.7 L357.1 290.2 L358.1 290.7 L359.1 291.2 L360.1 291.9 L361.1 292.8" stroke="#4a3a08" stroke-width="3.5" fill="none" stroke-linejoin="round" stroke-linecap="round"/>
<path d="M361.1 292.8 L362.1 294.2 L363.1 296.2 L364.1 298.7 L365.1 301.3 L366.1 304.1 L367.1 307.0" stroke="#b40808" stroke-width="3.5" fill="none" stroke-linejoin="round" stroke-linecap="round"/>
<path d="M367.1 307.0 L368.1 310.7 L369.1 314.7 L370.1 318.8 L371.1 322.6 L372.1 325.6 L373.1 327.8 L374.1 329.8 L375.1 331.5 L376.1 333.1 L377.1 334.6 L378.1 336.1 L379.1 337.5 L380.1 339.0 L381.1 340.4 L382.1 341.8 L383.1 343.1 L384.1 344.4 L385.1 345.7 L386.1 346.9 L387.1 348.1" stroke="#ec0c0c" stroke-width="3.5" fill="none" stroke-linejoin="round" stroke-linecap="round"/>
<path d="M387.1 348.1 L388.1 349.4 L389.1 350.8 L390.1 352.0 L391.1 353.1 L392.1 353.8 L393.1 354.1 L394.1 354.1 L395.1 354.1 L396.1 354.1 L397.1 354.0" stroke="#b40808" stroke-width="3.5" fill="none" stroke-linejoin="round" stroke-linecap="round"/>
<path d="M397.1 354.0 L398.1 352.7 L399.1 350.9 L400.1 349.5 L401.1 348.7 L402.1 348.0 L403.1 347.4 L404.1 346.8 L405.1 346.3 L406.1 346.0 L407.1 345.9 L408.1 345.9" stroke="#1e5a0a" stroke-width="3.5" fill="none" stroke-linejoin="round" stroke-linecap="round"/>
<path d="M408.1 345.9 L409.1 345.9 L410.1 345.9 L411.1 345.9 L412.1 345.9 L413.1 345.9 L414.1 345.9 L415.1 345.8" stroke="#4a3a08" stroke-width="3.5" fill="none" stroke-linejoin="round" stroke-linecap="round"/>
<path d="M415.1 345.8 L416.1 345.4 L417.1 344.9 L418.1 344.5 L419.1 344.1 L420.1 344.0" stroke="#1e5a0a" stroke-width="3.5" fill="none" stroke-linejoin="round" stroke-linecap="round"/>
<path d="M420.1 344.0 L421.1 344.7 L422.1 346.2 L423.1 347.7 L424.1 348.8" stroke="#4a3a08" stroke-width="3.5" fill="none" stroke-linejoin="round" stroke-linecap="round"/>
<path d="M424.1 348.8 L425.1 349.4 L426.1 350.1 L427.1 350.7 L428.1 351.2 L429.1 351.7 L430.1 352.2 L431.1 352.6 L432.1 353.0 L433.1 353.3 L434.1 353.7 L435.1 354.0 L436.1 354.4 L437.1 354.7 L438.1 355.0 L439.1 355.2 L440.1 355.5 L441.1 355.6 L442.1 355.7 L443.1 355.7" stroke="#b40808" stroke-width="3.5" fill="none" stroke-linejoin="round" stroke-linecap="round"/>
<path d="M443.1 355.7 L444.1 355.4 L445.1 354.9 L446.1 354.2 L447.1 353.3 L448.1 352.5 L449.1 351.5 L450.1 350.6" stroke="#1e5a0a" stroke-width="3.5" fill="none" stroke-linejoin="round" stroke-linecap="round"/>
<path d="M450.1 350.6 L451.1 349.5 L452.1 348.3 L453.1 346.9 L454.1 345.5 L455.1 344.0 L456.1 342.5 L457.1 341.1 L458.1 339.7 L459.1 338.2 L460.1 336.7 L461.1 335.2 L462.1 333.7 L463.1 332.2 L464.1 330.6 L465.1 329.1 L466.1 327.5 L467.1 325.8 L468.1 324.0 L469.1 322.1 L470.1 320.3 L471.1 318.6 L472.1 317.1 L473.1 315.9 L474.1 314.8 L475.1 313.8 L476.1 312.9 L477.1 312.1 L478.1 311.4 L479.1 310.7 L480.1 310.1 L481.1 309.6 L482.1 309.1 L483.1 308.5 L484.1 308.1 L485.1 307.6 L486.1 307.2 L487.1 306.9 L488.1 306.6 L489.1 306.4 L490.1 306.3 L491.1 306.1 L492.1 306.0 L493.1 305.9 L494.1 305.8 L495.1 305.7 L496.1 305.7" stroke="#10b616" stroke-width="3.5" fill="none" stroke-linejoin="round" stroke-linecap="round"/>
<path d="M496.1 305.7 L497.1 305.9 L498.1 306.4 L499.1 307.1 L500.1 307.9 L501.1 308.8 L502.1 309.6 L503.1 310.3 L504.1 310.9 L505.1 311.5 L506.1 312.1 L507.1 312.7 L508.1 313.2 L509.1 313.7 L510.1 314.2 L511.1 314.6 L512.1 314.9 L513.1 315.2 L514.1 315.4 L515.1 315.6 L516.1 315.8 L517.1 315.9 L518.1 316.0 L519.1 316.1 L520.1 316.0" stroke="#4a3a08" stroke-width="3.5" fill="none" stroke-linejoin="round" stroke-linecap="round"/>
<path d="M520.1 316.0 L521.1 315.7 L522.1 315.1 L523.1 314.4 L524.1 313.6 L525.1 312.7 L526.1 311.8 L527.1 310.8 L528.1 309.6 L529.1 308.2 L530.1 306.7 L531.1 305.2 L532.1 303.8 L533.1 302.5 L534.1 301.5 L535.1 300.5 L536.1 299.5 L537.1 298.6 L538.1 297.8 L539.1 297.1 L540.1 296.5 L541.1 296.1 L542.1 295.8 L543.1 295.5 L544.1 295.3 L545.1 295.2" stroke="#10b616" stroke-width="3.5" fill="none" stroke-linejoin="round" stroke-linecap="round"/>
<path d="M545.1 295.2 L546.1 295.5 L547.1 296.2 L548.1 297.1 L549.1 298.1 L550.1 299.0 L551.1 299.6 L552.1 299.8" stroke="#4a3a08" stroke-width="3.5" fill="none" stroke-linejoin="round" stroke-linecap="round"/>
<path d="M552.1 299.8 L553.1 299.7 L554.1 299.6 L555.1 299.3 L556.1 299.1 L557.1 298.9 L558.1 298.7 L559.1 298.7" stroke="#1e5a0a" stroke-width="3.5" fill="none" stroke-linejoin="round" stroke-linecap="round"/>
<path d="M559.1 298.7 L560.1 298.7 L561.1 298.8 L562.1 299.0 L563.1 299.2 L564.1 299.3 L565.1 299.5 L566.1 299.6 L567.1 299.7 L568.1 299.8 L569.1 299.8 L570.1 299.8 L571.1 299.8 L572.1 299.8 L573.1 299.8" stroke="#4a3a08" stroke-width="3.5" fill="none" stroke-linejoin="round" stroke-linecap="round"/>
<path d="M573.1 299.8 L574.1 299.7 L575.1 299.5 L576.1 299.2 L577.1 298.8 L578.1 298.4 L579.1 297.9 L580.1 297.5 L581.1 297.0 L582.1 296.4 L583.1 295.7 L584.1 295.0 L585.1 294.3 L586.1 293.5 L587.1 292.6 L588.1 291.7 L589.1 290.7 L590.1 289.5 L591.1 287.8 L592.1 285.8 L593.1 283.8 L594.1 282.0 L595.1 280.6 L596.1 280.0 L597.1 280.1 L598.1 280.4 L599.1 280.8 L600.1 281.4 L601.1 281.8 L602.1 282.2 L603.1 282.4 L604.1 282.3 L605.1 282.1 L606.1 281.7 L607.1 281.2 L608.1 280.7 L609.1 280.3 L610.1 280.0 L611.1 279.9 L612.1 279.7 L613.1 279.6 L614.1 279.5 L615.1 279.5 L616.1 279.4 L617.1 279.3 L618.1 279.1 L619.1 279.0 L620.1 278.7 L621.1 278.3 L622.1 277.7 L623.1 277.0 L624.1 276.2 L625.1 275.4 L626.1 274.5 L627.1 273.8 L628.1 273.1 L629.1 272.5 L630.1 271.9 L631.1 271.3 L632.1 270.7 L633.1 270.0 L634.1 269.3 L635.1 268.6 L636.1 267.8 L637.1 266.9 L638.1 265.8 L639.1 264.7 L640.1 263.4 L641.1 261.9 L642.1 260.2 L643.1 258.0 L644.1 255.1 L645.1 252.0 L646.1 248.8 L647.1 246.0 L648.1 243.8 L649.1 241.8 L650.1 239.9 L651.1 238.2 L652.1 236.7 L653.1 235.6 L654.1 234.8 L655.1 234.3 L656.1 233.7 L657.1 233.3 L658.1 233.0 L659.1 232.8 L660.1 232.9 L661.1 233.3 L662.1 234.1 L663.1 235.0 L664.1 236.0" stroke="#10b616" stroke-width="3.5" fill="none" stroke-linejoin="round" stroke-linecap="round"/>
<path d="M664.1 236.0 L665.1 237.6 L666.1 239.6 L667.1 241.8 L668.1 244.2 L669.1 246.6" stroke="#b40808" stroke-width="3.5" fill="none" stroke-linejoin="round" stroke-linecap="round"/>
<path d="M669.1 246.6 L670.1 249.2 L671.1 252.0 L672.1 254.7 L673.1 257.3 L674.1 260.1 L675.1 262.9 L676.1 265.6 L677.1 268.0 L678.1 270.1 L679.1 271.7" stroke="#ec0c0c" stroke-width="3.5" fill="none" stroke-linejoin="round" stroke-linecap="round"/>
<path d="M679.1 271.7 L680.1 273.2 L681.1 274.5 L682.1 275.7 L683.1 276.8 L684.1 277.8 L685.1 278.8 L686.1 279.6 L687.1 280.4 L688.1 281.0 L689.1 281.6 L690.1 282.2 L691.1 282.7 L692.1 283.3 L693.1 284.0 L694.1 284.8 L695.1 285.8 L696.1 287.1 L697.1 288.6 L698.1 290.2 L699.1 292.0 L700.1 293.7 L701.1 295.5 L702.1 297.4 L703.1 299.4 L704.1 301.5 L705.1 303.6 L706.1 305.7 L707.1 308.0 L708.1 310.5 L709.1 313.1 L710.1 315.4 L711.1 317.4 L712.1 318.8 L713.1 320.0 L714.1 321.1 L715.1 322.1 L716.1 323.0 L717.1 323.8 L718.1 324.6 L719.1 325.2 L720.1 325.7 L721.1 326.1 L722.1 326.5 L723.1 326.8 L724.1 327.0 L725.1 327.3 L726.1 327.5 L727.1 327.8 L728.1 328.0 L729.1 328.2 L730.1 328.4 L731.1 328.6 L732.1 328.8 L733.1 329.0 L734.1 329.2 L735.1 329.3 L736.1 329.4 L737.1 329.4" stroke="#b40808" stroke-width="3.5" fill="none" stroke-linejoin="round" stroke-linecap="round"/>
<path d="M737.1 329.4 L738.1 329.1 L739.1 328.5 L740.1 327.8 L741.1 327.0 L742.1 326.2 L743.1 325.2 L744.1 323.8 L745.1 322.2 L746.1 320.3 L747.1 318.5 L748.1 316.7 L749.1 315.1 L750.1 313.8 L751.1 312.6 L752.1 311.3 L753.1 310.2 L754.1 309.0 L755.1 308.0 L756.1 307.1 L757.1 306.3 L758.1 305.7 L759.1 305.2 L760.1 304.7 L761.1 304.2 L762.1 303.8 L763.1 303.4 L764.1 303.1 L765.1 302.8 L766.1 302.7 L767.1 302.6 L768.1 302.6" stroke="#1e5a0a" stroke-width="3.5" fill="none" stroke-linejoin="round" stroke-linecap="round"/>
<path d="M768.1 302.6 L769.1 302.8 L770.1 303.0 L771.1 303.2 L772.1 303.5 L773.1 303.7 L774.1 303.9 L775.1 304.1 L776.1 304.1" stroke="#4a3a08" stroke-width="3.5" fill="none" stroke-linejoin="round" stroke-linecap="round"/>
<path d="M776.1 304.1 L777.1 303.8 L778.1 303.3 L779.1 302.6 L780.1 301.9" stroke="#1e5a0a" stroke-width="3.5" fill="none" stroke-linejoin="round" stroke-linecap="round"/>
<path d="M780.1 301.9 L781.1 301.2 L782.1 300.4 L783.1 299.5 L784.1 298.6 L785.1 297.8 L786.1 297.0 L787.1 296.2 L788.1 295.4 L789.1 294.6 L790.1 293.8 L791.1 293.0 L792.1 292.1 L793.1 291.2 L794.1 290.2 L795.1 289.2 L796.1 288.1 L797.1 286.9 L798.1 285.7 L799.1 284.5 L800.1 283.3 L801.1 282.0 L802.1 280.8 L803.1 279.6 L804.1 278.3 L805.1 277.0 L806.1 275.7 L807.1 274.4 L808.1 273.0 L809.1 271.6 L810.1 270.1 L811.1 268.6 L812.1 267.1 L813.1 265.6 L814.1 264.0 L815.1 262.2 L816.1 260.1 L817.1 257.6 L818.1 254.1 L819.1 250.1 L820.1 246.7 L821.1 243.7 L822.1 240.8 L823.1 238.1 L824.1 235.5 L825.1 233.2 L826.1 231.1 L827.1 229.2 L828.1 227.4 L829.1 225.8 L830.1 224.2 L831.1 222.7 L832.1 221.1 L833.1 219.6 L834.1 218.0 L835.1 216.4 L836.1 214.7 L837.1 213.1 L838.1 211.5 L839.1 209.8 L840.1 208.2 L841.1 206.5 L842.1 204.8 L843.1 203.0 L844.1 201.1 L845.1 199.3 L846.1 197.4 L847.1 195.5 L848.1 193.6 L849.1 191.6 L850.1 189.4 L851.1 187.2 L852.1 184.9 L853.1 182.1 L854.1 178.9 L855.1 175.6 L856.1 172.3 L857.1 169.4 L858.1 167.0 L859.1 165.0 L860.1 163.0 L861.1 161.2 L862.1 159.6 L863.1 158.2 L864.1 157.1 L865.1 156.0 L866.1 155.0 L867.1 154.1 L868.1 153.3 L869.1 152.5 L870.1 151.8 L871.1 151.1 L872.1 150.4 L873.1 149.7 L874.1 149.1 L875.1 148.4 L876.1 147.7 L877.1 147.1 L878.1 146.6 L879.1 146.1 L880.1 145.6 L881.1 145.3 L882.1 145.0 L883.1 144.7 L884.1 144.5 L885.1 144.4 L886.1 144.5" stroke="#10b616" stroke-width="3.5" fill="none" stroke-linejoin="round" stroke-linecap="round"/>
<path d="M886.1 144.5 L887.1 144.9 L888.1 145.6 L889.1 146.4 L890.1 147.5 L891.1 148.5 L892.1 149.5 L893.1 150.5 L894.1 151.4 L895.1 152.4 L896.1 153.4 L897.1 154.4 L898.1 155.5 L899.1 156.5 L900.1 157.6 L901.1 158.6 L902.1 159.6 L903.1 160.5 L904.1 161.4 L905.1 162.2 L906.1 163.1 L907.1 164.0 L908.1 165.1 L909.1 166.2 L910.1 167.6 L911.1 169.5" stroke="#4a3a08" stroke-width="3.5" fill="none" stroke-linejoin="round" stroke-linecap="round"/>
<path d="M911.1 169.5 L912.1 172.3 L913.1 175.4 L914.1 178.2 L915.1 180.3 L916.1 182.2 L917.1 183.9 L918.1 185.6 L919.1 187.2 L920.1 188.6 L921.1 190.0 L922.1 191.2 L923.1 192.6 L924.1 193.9 L925.1 195.2 L926.1 196.4 L927.1 197.3 L928.1 198.0 L929.1 198.2" stroke="#b40808" stroke-width="3.5" fill="none" stroke-linejoin="round" stroke-linecap="round"/>
<path d="M929.1 198.2 L930.1 198.0 L931.1 197.5 L932.1 196.7 L933.1 195.8 L934.1 194.7 L935.1 193.7 L936.1 192.7 L937.1 191.8 L938.1 190.8 L939.1 189.8 L940.1 188.8 L941.1 187.8 L942.1 186.8 L943.1 185.7 L944.1 184.7 L945.1 183.7 L946.1 182.6 L947.1 181.4 L948.1 180.1 L949.1 178.8 L950.1 177.5 L951.1 176.5 L952.1 175.7 L953.1 175.1 L954.1 175.0" stroke="#1e5a0a" stroke-width="3.5" fill="none" stroke-linejoin="round" stroke-linecap="round"/>
<path d="M954.1 175.0 L955.1 175.2 L956.1 175.7 L957.1 176.4 L958.1 177.2 L959.1 178.0 L960.1 178.9 L961.1 179.8 L962.1 180.5 L963.1 181.1 L964.1 181.6 L965.1 182.1 L966.1 182.5 L967.1 183.0 L968.1 183.4 L969.1 183.9 L970.1 184.4 L971.1 185.0 L972.1 185.6 L973.1 186.4 L974.1 187.2 L975.1 188.0 L976.1 188.9 L977.1 189.7 L978.1 190.6 L979.1 191.4 L980.1 192.2 L981.1 193.0 L982.1 193.8 L983.1 194.7 L984.1 195.4 L985.1 196.2 L986.1 196.9 L987.1 197.7 L988.1 198.4 L989.1 199.1 L990.1 199.8 L991.1 200.5 L992.1 201.2 L993.1 201.8 L994.1 202.3 L995.1 202.9 L996.1 203.4 L997.1 203.9 L998.1 204.4 L999.1 204.9 L1000.1 205.2 L1001.1 205.4 L1002.1 205.5" stroke="#b40808" stroke-width="3.5" fill="none" stroke-linejoin="round" stroke-linecap="round"/>
<path d="M1002.1 205.5 L1003.1 205.1 L1004.1 204.2 L1005.1 203.4 L1006.1 202.7 L1007.1 202.3 L1008.1 202.0 L1009.1 201.7 L1010.1 201.4 L1011.1 201.3 L1012.1 201.2" stroke="#1e5a0a" stroke-width="3.5" fill="none" stroke-linejoin="round" stroke-linecap="round"/>
<path d="M1012.1 201.2 L1013.1 201.8 L1014.1 203.3 L1015.1 205.0 L1016.1 206.7 L1017.1 208.6 L1018.1 210.7 L1019.1 212.8 L1020.1 215.0 L1021.1 217.0 L1022.1 219.0 L1023.1 221.1 L1024.1 223.1 L1025.1 225.1 L1026.1 227.1 L1027.1 228.9 L1028.1 230.8 L1029.1 232.7 L1030.1 234.5 L1031.1 236.2 L1032.1 237.7 L1033.1 239.0 L1034.1 240.1 L1035.1 241.3 L1036.1 242.3 L1037.1 243.3 L1038.1 244.2 L1039.1 245.0 L1040.1 245.8 L1041.1 246.6 L1042.1 247.3 L1043.1 248.0 L1044.1 248.6 L1045.1 249.2 L1046.1 249.6 L1047.1 249.9" stroke="#b40808" stroke-width="3.5" fill="none" stroke-linejoin="round" stroke-linecap="round"/>
<path d="M1047.1 249.9 L1048.1 250.1 L1049.1 250.3 L1050.1 250.5 L1051.1 250.6 L1052.1 250.7 L1053.1 250.8 L1054.1 251.0 L1055.1 251.2 L1056.1 251.4 L1057.1 251.8 L1058.1 252.4 L1059.1 253.1 L1060.1 253.8 L1061.1 254.4 L1062.1 255.0 L1063.1 255.4 L1064.1 255.7 L1065.1 255.7 L1066.1 255.7 L1067.1 255.7 L1068.1 255.7 L1069.1 255.7 L1070.1 255.7 L1071.1 255.4" stroke="#4a3a08" stroke-width="3.5" fill="none" stroke-linejoin="round" stroke-linecap="round"/>
<path d="M1071.1 255.4 L1072.1 254.2 L1073.1 252.3 L1074.1 250.1 L1075.1 247.7 L1076.1 245.5 L1077.1 243.2 L1078.1 240.6 L1079.1 237.9 L1080.1 235.2 L1081.1 232.7 L1082.1 230.6 L1083.1 228.7 L1084.1 226.9 L1085.1 225.3 L1086.1 223.7 L1087.1 222.1 L1088.1 220.5 L1089.1 219.0 L1090.1 217.4 L1091.1 215.7 L1092.1 214.0 L1093.1 212.2 L1094.1 210.4 L1095.1 208.6 L1096.1 206.9 L1097.1 205.2 L1098.1 203.7 L1099.1 202.3 L1100.1 201.0 L1101.1 199.9 L1102.1 198.8 L1103.1 197.8 L1104.1 196.9 L1105.1 196.0 L1106.1 195.0 L1107.1 194.1 L1108.1 193.1 L1109.1 192.1 L1110.1 191.0 L1111.1 190.0 L1112.1 188.9 L1113.1 187.9 L1114.1 187.0 L1115.1 186.1 L1116.1 185.4 L1117.1 184.5 L1118.1 183.8 L1119.1 183.2 L1120.1 182.9 L1121.1 183.1" stroke="#10b616" stroke-width="3.5" fill="none" stroke-linejoin="round" stroke-linecap="round"/>
<path d="M1121.1 183.1 L1122.1 184.2 L1123.1 185.8 L1124.1 187.6 L1125.1 189.4 L1126.1 190.9 L1127.1 192.4 L1128.1 193.9 L1129.1 195.5 L1130.1 197.0 L1131.1 198.6 L1132.1 200.1 L1133.1 201.6 L1134.1 203.0 L1135.1 204.4 L1136.1 205.8 L1137.1 207.2 L1138.1 208.5 L1139.1 209.8 L1140.1 211.1 L1141.1 212.4 L1142.1 213.7 L1143.1 215.0 L1144.1 216.2 L1145.1 217.4 L1146.1 218.5 L1147.1 219.7 L1148.1 221.0 L1149.1 222.5" stroke="#4a3a08" stroke-width="3.5" fill="none" stroke-linejoin="round" stroke-linecap="round"/>
<path d="M1149.1 222.5 L1150.1 224.3 L1151.1 226.4 L1152.1 228.7 L1153.1 230.9 L1154.1 232.9 L1155.1 234.5 L1156.1 236.0 L1157.1 237.3 L1158.1 238.6 L1159.1 239.8 L1160.1 241.0 L1161.1 242.2 L1162.1 243.6 L1163.1 245.0 L1164.1 246.7 L1165.1 248.5 L1166.1 250.4 L1167.1 252.4 L1168.1 254.5 L1169.1 256.7 L1170.1 258.8 L1171.1 260.8 L1172.1 262.8 L1173.1 264.7 L1174.1 266.6 L1175.1 268.5 L1176.1 270.4 L1177.1 272.2 L1178.1 273.9 L1179.1 275.6 L1180.1 277.2 L1181.1 278.7 L1182.1 280.2 L1183.1 281.7 L1184.1 283.2 L1185.1 284.6 L1186.1 286.0 L1187.1 287.4 L1188.1 288.8 L1189.1 290.2 L1190.1 291.5 L1191.1 292.8 L1192.1 294.2 L1193.1 295.4 L1194.1 296.7 L1195.1 298.0 L1196.1 299.2 L1197.1 300.5 L1198.1 301.7 L1199.1 302.8 L1200.1 303.8 L1201.1 304.9 L1202.1 305.9 L1203.1 307.1 L1204.1 308.5 L1205.1 310.2" stroke="#b40808" stroke-width="3.5" fill="none" stroke-linejoin="round" stroke-linecap="round"/>
<path d="M1205.1 310.2 L1206.1 312.4 L1207.1 315.2 L1208.1 318.5 L1209.1 321.9 L1210.1 325.3 L1211.1 328.6 L1212.1 332.0 L1213.1 335.5 L1214.1 339.1 L1215.1 342.7 L1216.1 346.1 L1217.1 349.4 L1218.1 352.9 L1219.1 356.4 L1220.1 359.7 L1221.1 362.5 L1222.1 364.7 L1223.1 366.0" stroke="#ec0c0c" stroke-width="3.5" fill="none" stroke-linejoin="round" stroke-linecap="round"/>
<path d="M1223.1 366.0 L1224.1 367.3 L1225.1 368.4 L1226.1 369.3 L1227.1 369.9 L1228.1 370.1 L1229.1 369.9" stroke="#b40808" stroke-width="3.5" fill="none" stroke-linejoin="round" stroke-linecap="round"/>
<path d="M1229.1 369.9 L1230.1 369.3 L1231.1 368.3 L1232.1 367.2 L1233.1 366.1 L1234.1 365.0 L1235.1 363.8 L1236.1 362.3 L1237.1 360.7 L1238.1 359.2 L1239.1 357.8 L1240.1 356.9 L1241.1 356.4 L1242.1 356.4" stroke="#1e5a0a" stroke-width="3.5" fill="none" stroke-linejoin="round" stroke-linecap="round"/>
<path d="M1242.1 356.4 L1243.1 356.4 L1244.1 356.4 L1245.1 356.4 L1246.1 356.4 L1247.1 356.4 L1248.1 356.4 L1249.1 356.3" stroke="#4a3a08" stroke-width="3.5" fill="none" stroke-linejoin="round" stroke-linecap="round"/>
<path d="M1249.1 356.3 L1250.1 355.9 L1251.1 355.2 L1252.1 354.3 L1253.1 353.4 L1254.1 352.4 L1255.1 351.5 L1256.1 350.9 L1257.1 350.6 L1258.1 350.6" stroke="#1e5a0a" stroke-width="3.5" fill="none" stroke-linejoin="round" stroke-linecap="round"/>
<path d="M1258.1 350.6 L1259.1 350.8 L1260.1 351.0 L1261.1 351.3 L1262.1 351.6 L1263.1 352.0" stroke="#4a3a08" stroke-width="3.5" fill="none" stroke-linejoin="round" stroke-linecap="round"/>
<path d="M1263.1 352.0 L1264.1 352.5 L1265.1 353.1 L1266.1 353.8 L1267.1 354.7 L1268.1 355.6 L1269.1 356.5" stroke="#b40808" stroke-width="3.5" fill="none" stroke-linejoin="round" stroke-linecap="round"/>
<path d="M1269.1 356.5 L1270.1 357.8 L1271.1 359.4 L1272.1 361.1 L1273.1 362.5 L1274.1 363.5 L1275.1 363.7 L1276.1 363.7 L1277.1 363.7 L1278.1 363.7 L1279.1 363.7 L1280.1 363.7 L1281.1 363.7 L1282.1 363.7" stroke="#4a3a08" stroke-width="3.5" fill="none" stroke-linejoin="round" stroke-linecap="round"/>
<path d="M1282.1 363.7 L1283.1 364.0 L1284.1 364.7 L1285.1 365.7 L1286.1 366.9 L1287.1 368.2 L1288.1 369.5 L1289.1 370.8 L1290.1 371.9 L1291.1 373.2 L1292.1 374.6 L1293.1 376.0 L1294.1 377.4 L1295.1 378.8 L1296.1 380.1 L1297.1 381.4 L1298.1 382.6 L1299.1 383.7 L1300.1 384.7 L1301.1 385.7 L1302.1 386.6 L1303.1 387.5 L1304.1 388.5 L1305.1 389.5 L1306.1 390.5 L1307.1 391.6 L1308.1 392.9 L1309.1 394.2 L1310.1 395.5 L1311.1 396.9 L1312.1 398.3 L1313.1 399.7 L1314.1 401.1 L1315.1 402.5 L1316.1 403.8 L1317.1 405.2 L1318.1 406.6 L1319.1 407.9 L1320.1 409.1 L1321.1 410.1 L1322.1 410.9 L1323.1 411.7 L1324.1 412.4 L1325.1 413.0 L1326.1 413.6 L1327.1 414.0 L1328.1 414.4 L1329.1 414.8 L1330.1 415.0 L1331.1 415.3 L1332.1 415.4 L1333.1 415.5" stroke="#b40808" stroke-width="3.5" fill="none" stroke-linejoin="round" stroke-linecap="round"/>
<path d="M1333.1 415.5 L1334.1 415.3 L1335.1 414.7 L1336.1 413.9 L1337.1 413.1 L1338.1 412.2 L1339.1 411.5 L1340.1 410.6 L1341.1 409.7 L1342.1 408.7 L1343.1 408.0 L1344.1 407.4 L1345.1 407.2 L1346.1 407.1 L1347.1 406.9 L1348.1 406.8 L1349.1 406.7 L1350.1 406.6 L1351.1 406.6 L1352.1 406.5 L1353.1 406.5 L1354.1 406.5" stroke="#1e5a0a" stroke-width="3.5" fill="none" stroke-linejoin="round" stroke-linecap="round"/>
<path d="M1354.1 406.5 L1355.1 406.6 L1356.1 406.8 L1357.1 406.9 L1358.1 407.1 L1359.1 407.2 L1360.1 407.3 L1361.1 407.2" stroke="#4a3a08" stroke-width="3.5" fill="none" stroke-linejoin="round" stroke-linecap="round"/>
<path d="M1361.1 407.2 L1362.1 406.8 L1363.1 405.9 L1364.1 404.8 L1365.1 403.5 L1366.1 402.1 L1367.1 400.5" stroke="#0c7c10" stroke-width="3.5" fill="none" stroke-linejoin="round" stroke-linecap="round"/>
<path d="M1367.1 400.5 L1368.1 398.1 L1369.1 395.3 L1370.1 392.7 L1371.1 390.8 L1372.1 389.2 L1373.1 387.7 L1374.1 386.4 L1375.1 385.1 L1376.1 383.9 L1377.1 382.8 L1378.1 381.8 L1379.1 380.9 L1380.1 380.0 L1381.1 379.2 L1382.1 378.5 L1383.1 377.8 L1384.1 377.1 L1385.1 376.4 L1386.1 375.6 L1387.1 374.9 L1388.1 374.1 L1389.1 373.4 L1390.1 372.7 L1391.1 372.0 L1392.1 371.2 L1393.1 370.3 L1394.1 369.3 L1395.1 368.1 L1396.1 366.3 L1397.1 363.7 L1398.1 360.7 L1399.1 357.5 L1400.1 354.4 L1401.1 351.6 L1402.1 348.9 L1403.1 346.1 L1404.1 343.5 L1405.1 341.1 L1406.1 339.1 L1407.1 337.6 L1408.1 336.2 L1409.1 335.1 L1410.1 334.0 L1411.1 332.9 L1412.1 331.8 L1413.1 330.6 L1414.1 329.4 L1415.1 328.2 L1416.1 326.9 L1417.1 325.7 L1418.1 324.4 L1419.1 323.0 L1420.1 321.6 L1421.1 320.1 L1422.1 318.6 L1423.1 316.8 L1424.1 315.0 L1425.1 313.1 L1426.1 311.1 L1427.1 309.0 L1428.1 306.9 L1429.1 304.7 L1430.1 302.5 L1431.1 300.2 L1432.1 297.9 L1433.1 295.4 L1434.1 292.9 L1435.1 290.4 L1436.1 287.9 L1437.1 285.5 L1438.1 283.0 L1439.1 280.4 L1440.1 277.9 L1441.1 275.4 L1442.1 273.0 L1443.1 270.7 L1444.1 268.7 L1445.1 266.9 L1446.1 265.1 L1447.1 263.4 L1448.1 261.8 L1449.1 260.3 L1450.1 258.9 L1451.1 257.7 L1452.1 256.5 L1453.1 255.4 L1454.1 254.3 L1455.1 253.3 L1456.1 252.4 L1457.1 251.5 L1458.1 250.6 L1459.1 249.7 L1460.1 248.8 L1461.1 248.0 L1462.1 247.3 L1463.1 246.5 L1464.1 245.8 L1465.1 245.0 L1466.1 244.1 L1467.1 243.0 L1468.1 241.8 L1469.1 240.4 L1470.1 239.0 L1471.1 237.8 L1472.1 236.7 L1473.1 235.7 L1474.1 234.7 L1475.1 233.7 L1476.1 233.0 L1477.1 232.6 L1478.1 232.6 L1479.1 232.7 L1480.1 232.8 L1481.1 232.9 L1482.1 233.1 L1483.1 233.2" stroke="#10b616" stroke-width="3.5" fill="none" stroke-linejoin="round" stroke-linecap="round"/>
<g shape-rendering="auto"><path d="M28.5 353.5V385.6" stroke="#222" stroke-width="1"/><rect x="26.6" y="356.3" width="3.8" height="11.2" fill="#111"/><path d="M34.5 332.6V356.3" stroke="#222" stroke-width="1"/><rect x="32.6" y="347.9" width="3.8" height="7.0" fill="#111"/><path d="M40.5 331.7V347.9" stroke="#222" stroke-width="1"/><rect x="38.6" y="338.2" width="3.8" height="2.8" fill="#111"/><path d="M47.5 309.3V342.3" stroke="#222" stroke-width="1"/><rect x="45.6" y="313.5" width="3.8" height="27.5" fill="#111"/><path d="M53.5 278.5V313.5" stroke="#222" stroke-width="1"/><rect x="51.6" y="288.9" width="3.8" height="19.0" fill="#111"/><path d="M60.5 264.6V356.3" stroke="#222" stroke-width="1"/><rect x="58.6" y="268.8" width="3.8" height="22.3" fill="#111"/><path d="M66.5 197.5V274.4" stroke="#222" stroke-width="1"/><rect x="64.6" y="201.2" width="3.8" height="70.4" fill="#111"/><path d="M72.5 98.4V208.7" stroke="#222" stroke-width="1"/><rect x="70.6" y="112.9" width="3.8" height="88.8" fill="#111"/><path d="M79.5 98.4V228.3" stroke="#222" stroke-width="1"/><rect x="77.6" y="100.6" width="3.8" height="60.6" fill="#111"/><path d="M85.5 139.7V224.1" stroke="#222" stroke-width="1"/><rect x="83.6" y="165.4" width="3.8" height="22.3" fill="#111"/><path d="M92.5 185.5V321.8" stroke="#222" stroke-width="1"/><rect x="90.6" y="192.0" width="3.8" height="78.2" fill="#111"/><path d="M98.5 254.8V302.3" stroke="#222" stroke-width="1"/><rect x="96.6" y="270.2" width="3.8" height="2.8" fill="#111"/><path d="M104.5 271.6V340.9" stroke="#222" stroke-width="1"/><rect x="102.6" y="278.5" width="3.8" height="12.6" fill="#111"/><path d="M111.5 224.1V298.1" stroke="#222" stroke-width="1"/><rect x="109.6" y="232.5" width="3.8" height="61.5" fill="#111"/><path d="M117.5 205.9V260.4" stroke="#222" stroke-width="1"/><rect x="115.6" y="232.5" width="3.8" height="25.1" fill="#111"/><path d="M123.5 247.8V316.3" stroke="#222" stroke-width="1"/><rect x="121.6" y="257.6" width="3.8" height="51.7" fill="#111"/><path d="M130.5 282.7V331.2" stroke="#222" stroke-width="1"/><rect x="128.6" y="295.3" width="3.8" height="15.4" fill="#111"/><path d="M136.5 285.5V346.5" stroke="#222" stroke-width="1"/><rect x="134.6" y="292.5" width="3.8" height="32.1" fill="#111"/><path d="M143.5 321.8V424.7" stroke="#222" stroke-width="1"/><rect x="141.6" y="324.6" width="3.8" height="65.2" fill="#111"/><path d="M149.5 385.6V550.4" stroke="#222" stroke-width="1"/><rect x="147.6" y="391.2" width="3.8" height="86.6" fill="#111"/><path d="M155.5 458.8V537.9" stroke="#222" stroke-width="1"/><rect x="153.6" y="482.6" width="3.8" height="3.6" fill="#111"/><path d="M162.5 441.5V505.8" stroke="#222" stroke-width="1"/><rect x="160.6" y="471.4" width="3.8" height="6.4" fill="#111"/><path d="M168.5 441.5V515.5" stroke="#222" stroke-width="1"/><rect x="166.6" y="473.1" width="3.8" height="31.3" fill="#111"/><path d="M175.5 477.0V521.1" stroke="#222" stroke-width="1"/><rect x="173.6" y="503.0" width="3.8" height="11.2" fill="#111"/><path d="M181.5 474.2V536.5" stroke="#222" stroke-width="1"/><rect x="179.6" y="491.8" width="3.8" height="23.7" fill="#111"/><path d="M187.5 437.3V495.4" stroke="#222" stroke-width="1"/><rect x="185.6" y="453.5" width="3.8" height="38.3" fill="#111"/><path d="M194.5 387.0V454.6" stroke="#222" stroke-width="1"/><rect x="192.6" y="387.6" width="3.8" height="66.5" fill="#111"/><path d="M200.5 371.7V401.0" stroke="#222" stroke-width="1"/><rect x="198.6" y="387.6" width="3.8" height="2.2" fill="#111"/><path d="M207.5 337.8V415.8" stroke="#222" stroke-width="1"/><rect x="205.6" y="344.8" width="3.8" height="44.2" fill="#111"/><path d="M213.5 326.6V363.4" stroke="#222" stroke-width="1"/><rect x="211.6" y="344.8" width="3.8" height="14.0" fill="#111"/><path d="M219.5 312.2V366.9" stroke="#222" stroke-width="1"/><rect x="217.6" y="334.3" width="3.8" height="24.4" fill="#111"/><path d="M226.5 297.0V351.8" stroke="#222" stroke-width="1"/><rect x="224.6" y="327.8" width="3.8" height="7.0" fill="#111"/><path d="M232.5 282.4V333.1" stroke="#222" stroke-width="1"/><rect x="230.6" y="316.8" width="3.8" height="11.6" fill="#111"/><path d="M238.5 293.1V334.3" stroke="#222" stroke-width="1"/><rect x="236.6" y="316.4" width="3.8" height="1.6" fill="#111"/><path d="M245.5 295.9V357.6" stroke="#222" stroke-width="1"/><rect x="243.6" y="316.8" width="3.8" height="34.9" fill="#111"/><path d="M251.5 333.1V370.4" stroke="#222" stroke-width="1"/><rect x="249.5" y="337.8" width="4" height="14.0" fill="#242424"/><rect x="250.1" y="338.5" width="2.8" height="12.6" fill="#12e2fc"/><path d="M258.5 321.5V351.8" stroke="#222" stroke-width="1"/><rect x="256.5" y="327.3" width="4" height="10.5" fill="#242424"/><rect x="257.1" y="328.0" width="2.8" height="9.1" fill="#12e2fc"/><path d="M264.5 299.4V340.1" stroke="#222" stroke-width="1"/><rect x="262.5" y="327.3" width="4" height="9.3" fill="#242424"/><rect x="263.1" y="328.0" width="2.8" height="7.9" fill="#f04a9a"/><path d="M270.5 330.8V384.4" stroke="#222" stroke-width="1"/><rect x="268.5" y="335.5" width="4" height="24.4" fill="#242424"/><rect x="269.1" y="336.2" width="2.8" height="23.0" fill="#f59a1b"/><path d="M277.5 343.6V373.9" stroke="#222" stroke-width="1"/><rect x="275.5" y="357.1" width="4" height="2.8" fill="#242424"/><rect x="276.1" y="357.8" width="2.8" height="1.4" fill="#12e2fc"/><path d="M283.5 328.0V362.2" stroke="#222" stroke-width="1"/><rect x="281.5" y="330.3" width="4" height="26.1" fill="#242424"/><rect x="282.1" y="331.0" width="2.8" height="24.7" fill="#12e2fc"/><path d="M290.5 313.3V345.9" stroke="#222" stroke-width="1"/><rect x="288.5" y="329.6" width="4" height="11.6" fill="#242424"/><rect x="289.1" y="330.3" width="2.8" height="10.2" fill="#f59a1b"/><path d="M296.5 299.4V342.4" stroke="#222" stroke-width="1"/><rect x="294.5" y="305.2" width="4" height="36.6" fill="#242424"/><rect x="295.1" y="305.9" width="2.8" height="35.2" fill="#1414c8"/><path d="M302.5 271.4V307.5" stroke="#222" stroke-width="1"/><rect x="300.5" y="287.7" width="4" height="18.2" fill="#242424"/><rect x="301.1" y="288.4" width="2.8" height="16.8" fill="#98dc58"/><path d="M309.5 247.0V295.9" stroke="#222" stroke-width="1"/><rect x="307.5" y="287.7" width="4" height="4.7" fill="#242424"/><rect x="308.1" y="288.4" width="2.8" height="3.3" fill="#e8121c"/><path d="M315.5 274.9V304.0" stroke="#222" stroke-width="1"/><rect x="313.5" y="287.7" width="4" height="4.7" fill="#242424"/><rect x="314.1" y="288.4" width="2.8" height="3.3" fill="#98dc58"/><path d="M322.5 259.1V290.1" stroke="#222" stroke-width="1"/><rect x="320.5" y="278.4" width="4" height="10.0" fill="#242424"/><rect x="321.1" y="279.1" width="2.8" height="8.6" fill="#98dc58"/><path d="M328.5 266.8V301.7" stroke="#222" stroke-width="1"/><rect x="326.5" y="277.3" width="4" height="10.0" fill="#242424"/><rect x="327.1" y="278.0" width="2.8" height="8.6" fill="#e8121c"/><path d="M334.5 269.1V314.5" stroke="#222" stroke-width="1"/><rect x="332.5" y="279.1" width="4" height="2.3" fill="#242424"/><rect x="333.1" y="279.8" width="2.8" height="0.9" fill="#24b6f6"/><path d="M341.5 258.2V281.9" stroke="#222" stroke-width="1"/><rect x="339.5" y="273.3" width="4" height="6.3" fill="#242424"/><rect x="340.1" y="274.0" width="2.8" height="4.9" fill="#24b6f6"/><path d="M347.5 269.1V302.9" stroke="#222" stroke-width="1"/><rect x="345.6" y="273.3" width="3.8" height="1.6" fill="#111"/><path d="M353.5 271.4V323.8" stroke="#222" stroke-width="1"/><rect x="351.5" y="272.6" width="4" height="26.1" fill="#242424"/><rect x="352.1" y="273.3" width="2.8" height="24.7" fill="#fbf410"/><path d="M360.5 290.1V321.5" stroke="#222" stroke-width="1"/><rect x="358.6" y="297.0" width="3.8" height="1.6" fill="#111"/><path d="M366.5 291.2V379.7" stroke="#222" stroke-width="1"/><rect x="364.5" y="298.2" width="4" height="42.4" fill="#242424"/><rect x="365.1" y="298.9" width="2.8" height="41.0" fill="#e8121c"/><path d="M373.5 332.0V419.3" stroke="#222" stroke-width="1"/><rect x="371.5" y="340.6" width="4" height="78.2" fill="#242424"/><rect x="372.1" y="341.3" width="2.8" height="76.8" fill="#f618ee"/><path d="M379.5 348.3V435.6" stroke="#222" stroke-width="1"/><rect x="377.5" y="366.4" width="4" height="52.4" fill="#242424"/><rect x="378.1" y="367.1" width="2.8" height="51.0" fill="#1414c8"/><path d="M385.5 349.4V406.5" stroke="#222" stroke-width="1"/><rect x="383.5" y="366.4" width="4" height="12.6" fill="#242424"/><rect x="384.1" y="367.1" width="2.8" height="11.2" fill="#e8121c"/><path d="M392.5 367.6V400.7" stroke="#222" stroke-width="1"/><rect x="390.5" y="379.0" width="4" height="8.1" fill="#242424"/><rect x="391.1" y="379.7" width="2.8" height="6.7" fill="#e8121c"/><path d="M398.5 339.0V390.2" stroke="#222" stroke-width="1"/><rect x="396.5" y="348.3" width="4" height="30.3" fill="#242424"/><rect x="397.1" y="349.0" width="2.8" height="28.9" fill="#24b6f6"/><path d="M405.5 314.0V348.3" stroke="#222" stroke-width="1"/><rect x="403.5" y="321.0" width="4" height="26.8" fill="#242424"/><rect x="404.1" y="321.7" width="2.8" height="25.4" fill="#24b6f6"/><path d="M411.5 318.5V342.9" stroke="#222" stroke-width="1"/><rect x="409.5" y="322.0" width="4" height="19.8" fill="#242424"/><rect x="410.1" y="322.7" width="2.8" height="18.4" fill="#fbf410"/><path d="M417.5 329.0V353.4" stroke="#222" stroke-width="1"/><rect x="415.5" y="330.1" width="4" height="12.8" fill="#242424"/><rect x="416.1" y="330.8" width="2.8" height="11.4" fill="#24b6f6"/><path d="M424.5 323.1V389.5" stroke="#222" stroke-width="1"/><rect x="422.5" y="330.1" width="4" height="52.4" fill="#242424"/><rect x="423.1" y="330.8" width="2.8" height="51.0" fill="#e8121c"/><path d="M430.5 356.9V394.8" stroke="#222" stroke-width="1"/><rect x="428.5" y="358.8" width="4" height="23.7" fill="#242424"/><rect x="429.1" y="359.5" width="2.8" height="22.3" fill="#98dc58"/><path d="M437.5 354.6V383.7" stroke="#222" stroke-width="1"/><rect x="435.5" y="358.5" width="4" height="2.6" fill="#242424"/><rect x="436.1" y="359.2" width="2.8" height="1.2" fill="#e8121c"/><path d="M443.5 346.4V366.7" stroke="#222" stroke-width="1"/><rect x="441.6" y="361.5" width="3.8" height="1.6" fill="#111"/><path d="M449.5 333.6V373.9" stroke="#222" stroke-width="1"/><rect x="447.5" y="339.4" width="4" height="22.8" fill="#242424"/><rect x="448.1" y="340.1" width="2.8" height="21.4" fill="#1414c8"/><path d="M456.5 314.3V340.6" stroke="#222" stroke-width="1"/><rect x="454.5" y="322.4" width="4" height="17.0" fill="#242424"/><rect x="455.1" y="323.1" width="2.8" height="15.6" fill="#24b6f6"/><path d="M462.5 305.0V327.8" stroke="#222" stroke-width="1"/><rect x="460.5" y="310.3" width="4" height="12.1" fill="#242424"/><rect x="461.1" y="311.0" width="2.8" height="10.7" fill="#24b6f6"/><path d="M469.5 288.2V319.6" stroke="#222" stroke-width="1"/><rect x="467.5" y="289.4" width="4" height="22.1" fill="#242424"/><rect x="468.1" y="290.1" width="2.8" height="20.7" fill="#5f8262"/><path d="M475.5 270.0V294.0" stroke="#222" stroke-width="1"/><rect x="473.5" y="274.2" width="4" height="19.1" fill="#242424"/><rect x="474.1" y="274.9" width="2.8" height="17.7" fill="#5f8262"/><path d="M481.5 269.1V302.6" stroke="#222" stroke-width="1"/><rect x="479.5" y="274.2" width="4" height="17.5" fill="#242424"/><rect x="480.1" y="274.9" width="2.8" height="16.1" fill="#e8121c"/><path d="M488.5 283.1V317.3" stroke="#222" stroke-width="1"/><rect x="486.5" y="291.2" width="4" height="12.1" fill="#242424"/><rect x="487.1" y="291.9" width="2.8" height="10.7" fill="#fbf410"/><path d="M494.5 292.4V326.6" stroke="#222" stroke-width="1"/><rect x="492.5" y="295.2" width="4" height="8.8" fill="#242424"/><rect x="493.1" y="295.9" width="2.8" height="7.4" fill="#24b6f6"/><path d="M500.5 278.2V309.2" stroke="#222" stroke-width="1"/><rect x="498.5" y="294.5" width="4" height="13.5" fill="#242424"/><rect x="499.1" y="295.2" width="2.8" height="12.1" fill="#fbf410"/><path d="M507.5 297.5V365.7" stroke="#222" stroke-width="1"/><rect x="505.5" y="308.0" width="4" height="32.1" fill="#242424"/><rect x="506.1" y="308.7" width="2.8" height="30.7" fill="#e8121c"/><path d="M513.5 312.7V351.5" stroke="#222" stroke-width="1"/><rect x="511.5" y="315.0" width="4" height="25.1" fill="#242424"/><rect x="512.1" y="315.7" width="2.8" height="23.7" fill="#98dc58"/><path d="M520.5 295.9V323.1" stroke="#222" stroke-width="1"/><rect x="518.5" y="315.0" width="4" height="4.7" fill="#242424"/><rect x="519.1" y="315.7" width="2.8" height="3.3" fill="#fbf410"/><path d="M526.5 276.6V318.5" stroke="#222" stroke-width="1"/><rect x="524.5" y="293.3" width="4" height="24.7" fill="#242424"/><rect x="525.1" y="294.0" width="2.8" height="23.3" fill="#24b6f6"/><path d="M532.5 277.3V298.0" stroke="#222" stroke-width="1"/><rect x="530.5" y="286.3" width="4" height="7.0" fill="#242424"/><rect x="531.1" y="287.0" width="2.8" height="5.6" fill="#24b6f6"/><path d="M539.5 268.4V299.8" stroke="#222" stroke-width="1"/><rect x="537.5" y="271.2" width="4" height="14.7" fill="#242424"/><rect x="538.1" y="271.9" width="2.8" height="13.3" fill="#24b6f6"/><path d="M545.5 266.1V284.7" stroke="#222" stroke-width="1"/><rect x="543.5" y="271.2" width="4" height="10.0" fill="#242424"/><rect x="544.1" y="271.9" width="2.8" height="8.6" fill="#fbf410"/><path d="M552.5 279.4V318.0" stroke="#222" stroke-width="1"/><rect x="550.5" y="282.9" width="4" height="32.6" fill="#242424"/><rect x="551.1" y="283.6" width="2.8" height="31.2" fill="#fbf410"/><path d="M558.5 289.4V329.0" stroke="#222" stroke-width="1"/><rect x="556.5" y="292.9" width="4" height="22.6" fill="#242424"/><rect x="557.1" y="293.6" width="2.8" height="21.2" fill="#5f8262"/><path d="M564.5 291.7V331.3" stroke="#222" stroke-width="1"/><rect x="562.5" y="295.9" width="4" height="9.8" fill="#242424"/><rect x="563.1" y="296.6" width="2.8" height="8.4" fill="#e8121c"/><path d="M571.5 280.8V311.5" stroke="#222" stroke-width="1"/><rect x="569.5" y="306.1" width="4" height="2.3" fill="#242424"/><rect x="570.1" y="306.8" width="2.8" height="0.9" fill="#fbf410"/><path d="M577.5 285.4V318.0" stroke="#222" stroke-width="1"/><rect x="575.5" y="287.0" width="4" height="21.0" fill="#242424"/><rect x="576.1" y="287.7" width="2.8" height="19.6" fill="#24b6f6"/><path d="M584.5 279.6V292.4" stroke="#222" stroke-width="1"/><rect x="582.6" y="286.6" width="3.8" height="1.6" fill="#111"/><path d="M590.5 248.2V288.2" stroke="#222" stroke-width="1"/><rect x="588.5" y="256.3" width="4" height="30.7" fill="#242424"/><rect x="589.1" y="257.0" width="2.8" height="29.3" fill="#5f8262"/><path d="M596.5 241.2V265.4" stroke="#222" stroke-width="1"/><rect x="594.5" y="253.3" width="4" height="2.8" fill="#242424"/><rect x="595.1" y="254.0" width="2.8" height="1.4" fill="#e8121c"/><path d="M603.5 238.1V298.0" stroke="#222" stroke-width="1"/><rect x="601.5" y="253.3" width="4" height="43.1" fill="#242424"/><rect x="602.1" y="254.0" width="2.8" height="41.7" fill="#fbf410"/><path d="M609.5 266.1V308.5" stroke="#222" stroke-width="1"/><rect x="607.5" y="268.4" width="4" height="27.5" fill="#242424"/><rect x="608.1" y="269.1" width="2.8" height="26.1" fill="#24b6f6"/><path d="M615.5 251.1V285.4" stroke="#222" stroke-width="1"/><rect x="613.5" y="268.6" width="4" height="3.5" fill="#242424"/><rect x="614.1" y="269.3" width="2.8" height="2.1" fill="#fbf410"/><path d="M622.5 263.3V302.6" stroke="#222" stroke-width="1"/><rect x="620.5" y="272.0" width="4" height="6.7" fill="#242424"/><rect x="621.1" y="272.7" width="2.8" height="5.3" fill="#e8121c"/><path d="M628.5 245.9V288.1" stroke="#222" stroke-width="1"/><rect x="626.5" y="263.3" width="4" height="14.6" fill="#242424"/><rect x="627.1" y="264.0" width="2.8" height="13.2" fill="#24b6f6"/><path d="M635.5 242.9V269.1" stroke="#222" stroke-width="1"/><rect x="633.5" y="251.7" width="4" height="11.6" fill="#242424"/><rect x="634.1" y="252.4" width="2.8" height="10.2" fill="#24b6f6"/><path d="M641.5 244.4V276.4" stroke="#222" stroke-width="1"/><rect x="639.5" y="249.6" width="4" height="2.9" fill="#242424"/><rect x="640.1" y="250.3" width="2.8" height="1.5" fill="#24b6f6"/><path d="M647.5 170.2V250.2" stroke="#222" stroke-width="1"/><rect x="645.5" y="183.3" width="4" height="66.4" fill="#242424"/><rect x="646.1" y="184.0" width="2.8" height="65.0" fill="#5f8262"/><path d="M654.5 172.2V203.7" stroke="#222" stroke-width="1"/><rect x="652.5" y="183.3" width="4" height="13.1" fill="#242424"/><rect x="653.1" y="184.0" width="2.8" height="11.7" fill="#e8121c"/><path d="M660.5 185.3V232.8" stroke="#222" stroke-width="1"/><rect x="658.5" y="196.4" width="4" height="26.2" fill="#242424"/><rect x="659.1" y="197.1" width="2.8" height="24.8" fill="#fbf410"/><path d="M667.5 215.9V296.8" stroke="#222" stroke-width="1"/><rect x="665.5" y="222.6" width="4" height="33.5" fill="#242424"/><rect x="666.1" y="223.3" width="2.8" height="32.1" fill="#e8121c"/><path d="M673.5 251.7V352.1" stroke="#222" stroke-width="1"/><rect x="671.5" y="256.0" width="4" height="66.9" fill="#242424"/><rect x="672.1" y="256.7" width="2.8" height="65.5" fill="#f618ee"/><path d="M679.5 304.1V346.3" stroke="#222" stroke-width="1"/><rect x="677.5" y="323.0" width="4" height="9.3" fill="#242424"/><rect x="678.1" y="323.7" width="2.8" height="7.9" fill="#8a3c4e"/><path d="M686.5 280.8V334.6" stroke="#222" stroke-width="1"/><rect x="684.5" y="299.1" width="4" height="33.2" fill="#242424"/><rect x="685.1" y="299.8" width="2.8" height="31.8" fill="#12e2fc"/><path d="M692.5 288.1V315.7" stroke="#222" stroke-width="1"/><rect x="690.5" y="300.3" width="4" height="6.7" fill="#242424"/><rect x="691.1" y="301.0" width="2.8" height="5.3" fill="#f59a1b"/><path d="M699.5 303.2V333.2" stroke="#222" stroke-width="1"/><rect x="697.5" y="307.0" width="4" height="8.7" fill="#242424"/><rect x="698.1" y="307.7" width="2.8" height="7.3" fill="#f04a9a"/><path d="M705.5 312.8V388.5" stroke="#222" stroke-width="1"/><rect x="703.5" y="315.7" width="4" height="43.7" fill="#242424"/><rect x="704.1" y="316.4" width="2.8" height="42.3" fill="#8a3c4e"/><path d="M711.5 357.9V398.1" stroke="#222" stroke-width="1"/><rect x="709.5" y="358.8" width="4" height="10.8" fill="#242424"/><rect x="710.1" y="359.5" width="2.8" height="9.4" fill="#8a3c4e"/><path d="M718.5 331.7V373.9" stroke="#222" stroke-width="1"/><rect x="716.5" y="336.9" width="4" height="32.6" fill="#242424"/><rect x="717.1" y="337.6" width="2.8" height="31.2" fill="#12e2fc"/><path d="M724.5 317.2V355.0" stroke="#222" stroke-width="1"/><rect x="722.5" y="333.2" width="4" height="3.8" fill="#242424"/><rect x="723.1" y="333.9" width="2.8" height="2.4" fill="#12e2fc"/><path d="M730.5 331.7V364.3" stroke="#222" stroke-width="1"/><rect x="728.5" y="333.7" width="4" height="2.6" fill="#242424"/><rect x="729.1" y="334.4" width="2.8" height="1.2" fill="#f59a1b"/><path d="M737.5 324.4V362.3" stroke="#222" stroke-width="1"/><rect x="735.5" y="333.2" width="4" height="3.2" fill="#242424"/><rect x="736.1" y="333.9" width="2.8" height="1.8" fill="#12e2fc"/><path d="M743.5 303.2V347.7" stroke="#222" stroke-width="1"/><rect x="741.5" y="311.3" width="4" height="22.4" fill="#242424"/><rect x="742.1" y="312.0" width="2.8" height="21.0" fill="#12e2fc"/><path d="M750.5 285.7V312.8" stroke="#222" stroke-width="1"/><rect x="748.5" y="291.8" width="4" height="19.5" fill="#242424"/><rect x="749.1" y="292.5" width="2.8" height="18.1" fill="#12e2fc"/><path d="M756.5 262.4V293.9" stroke="#222" stroke-width="1"/><rect x="754.5" y="277.3" width="4" height="15.1" fill="#242424"/><rect x="755.1" y="278.0" width="2.8" height="13.7" fill="#1414c8"/><path d="M762.5 266.2V295.3" stroke="#222" stroke-width="1"/><rect x="760.5" y="277.3" width="4" height="15.1" fill="#242424"/><rect x="761.1" y="278.0" width="2.8" height="13.7" fill="#f618ee"/><path d="M769.5 282.8V313.4" stroke="#222" stroke-width="1"/><rect x="767.5" y="291.8" width="4" height="2.0" fill="#242424"/><rect x="768.1" y="292.2" width="2.8" height="1.3" fill="#f59a1b"/><path d="M775.5 286.6V323.0" stroke="#222" stroke-width="1"/><rect x="773.5" y="293.3" width="4" height="20.1" fill="#242424"/><rect x="774.1" y="294.0" width="2.8" height="18.7" fill="#f59a1b"/><path d="M782.5 281.7V314.2" stroke="#222" stroke-width="1"/><rect x="780.5" y="284.6" width="4" height="27.6" fill="#242424"/><rect x="781.1" y="285.3" width="2.8" height="26.2" fill="#12e2fc"/><path d="M788.5 263.3V285.1" stroke="#222" stroke-width="1"/><rect x="786.5" y="272.9" width="4" height="11.6" fill="#242424"/><rect x="787.1" y="273.6" width="2.8" height="10.2" fill="#1414c8"/><path d="M794.5 253.7V275.0" stroke="#222" stroke-width="1"/><rect x="792.5" y="266.2" width="4" height="6.7" fill="#242424"/><rect x="793.1" y="266.9" width="2.8" height="5.3" fill="#98dc58"/><path d="M801.5 251.7V275.0" stroke="#222" stroke-width="1"/><rect x="799.5" y="255.2" width="4" height="11.6" fill="#242424"/><rect x="800.1" y="255.9" width="2.8" height="10.2" fill="#98dc58"/><path d="M807.5 229.8V259.0" stroke="#222" stroke-width="1"/><rect x="805.5" y="233.3" width="4" height="22.1" fill="#242424"/><rect x="806.1" y="234.0" width="2.8" height="20.7" fill="#98dc58"/><path d="M814.5 221.1V237.1" stroke="#222" stroke-width="1"/><rect x="812.5" y="230.7" width="4" height="2.9" fill="#242424"/><rect x="813.1" y="231.4" width="2.8" height="1.5" fill="#98dc58"/><path d="M820.5 197.0V244.4" stroke="#222" stroke-width="1"/><rect x="818.5" y="199.3" width="4" height="32.0" fill="#242424"/><rect x="819.1" y="200.0" width="2.8" height="30.6" fill="#5f8262"/><path d="M826.5 179.3V207.0" stroke="#222" stroke-width="1"/><rect x="824.5" y="182.2" width="4" height="16.9" fill="#242424"/><rect x="825.1" y="182.9" width="2.8" height="15.5" fill="#5f8262"/><path d="M833.5 177.9V199.7" stroke="#222" stroke-width="1"/><rect x="831.5" y="182.8" width="4" height="7.6" fill="#242424"/><rect x="832.1" y="183.5" width="2.8" height="6.2" fill="#e8121c"/><path d="M839.5 166.2V191.0" stroke="#222" stroke-width="1"/><rect x="837.5" y="177.0" width="4" height="13.1" fill="#242424"/><rect x="838.1" y="177.7" width="2.8" height="11.7" fill="#5f8262"/><path d="M846.5 112.4V182.2" stroke="#222" stroke-width="1"/><rect x="844.5" y="156.6" width="4" height="20.7" fill="#242424"/><rect x="845.1" y="157.3" width="2.8" height="19.3" fill="#e8121c"/><path d="M852.5 140.9V164.8" stroke="#222" stroke-width="1"/><rect x="850.5" y="146.7" width="4" height="9.9" fill="#242424"/><rect x="851.1" y="147.4" width="2.8" height="8.5" fill="#5f8262"/><path d="M858.5 67.3V145.9" stroke="#222" stroke-width="1"/><rect x="856.5" y="79.8" width="4" height="65.2" fill="#242424"/><rect x="857.1" y="80.5" width="2.8" height="63.8" fill="#5f8262"/><path d="M865.5 76.0V172.0" stroke="#222" stroke-width="1"/><rect x="863.5" y="79.8" width="4" height="50.6" fill="#242424"/><rect x="864.1" y="80.5" width="2.8" height="49.2" fill="#e8121c"/><path d="M871.5 97.8V148.8" stroke="#222" stroke-width="1"/><rect x="869.5" y="131.3" width="4" height="3.8" fill="#242424"/><rect x="870.1" y="132.0" width="2.8" height="2.4" fill="#e8121c"/><path d="M877.5 116.2V159.0" stroke="#222" stroke-width="1"/><rect x="875.5" y="129.8" width="4" height="4.9" fill="#242424"/><rect x="876.1" y="130.5" width="2.8" height="3.5" fill="#24b6f6"/><path d="M884.5 105.1V144.4" stroke="#222" stroke-width="1"/><rect x="882.6" y="129.8" width="3.8" height="1.6" fill="#111"/><path d="M890.5 106.6V179.9" stroke="#222" stroke-width="1"/><rect x="888.5" y="129.8" width="4" height="37.8" fill="#242424"/><rect x="889.1" y="130.5" width="2.8" height="36.4" fill="#fbf410"/><path d="M897.5 157.5V189.5" stroke="#222" stroke-width="1"/><rect x="895.5" y="166.2" width="4" height="3.5" fill="#242424"/><rect x="896.1" y="166.9" width="2.8" height="2.1" fill="#fbf410"/><path d="M903.5 167.1V211.3" stroke="#222" stroke-width="1"/><rect x="901.5" y="169.1" width="4" height="18.0" fill="#242424"/><rect x="902.1" y="169.8" width="2.8" height="16.6" fill="#fbf410"/><path d="M909.5 183.7V225.9" stroke="#222" stroke-width="1"/><rect x="907.5" y="187.2" width="4" height="2.3" fill="#242424"/><rect x="908.1" y="187.9" width="2.8" height="0.9" fill="#fbf410"/><path d="M916.5 188.1V260.8" stroke="#222" stroke-width="1"/><rect x="914.5" y="189.5" width="4" height="57.6" fill="#242424"/><rect x="915.1" y="190.2" width="2.8" height="56.2" fill="#f618ee"/><path d="M922.5 205.5V247.7" stroke="#222" stroke-width="1"/><rect x="920.5" y="211.3" width="4" height="35.8" fill="#242424"/><rect x="921.1" y="212.0" width="2.8" height="34.4" fill="#1414c8"/><path d="M929.5 198.2V246.3" stroke="#222" stroke-width="1"/><rect x="927.5" y="200.3" width="4" height="29.4" fill="#242424"/><rect x="928.1" y="201.0" width="2.8" height="28.0" fill="#fbf410"/><path d="M935.5 177.9V252.1" stroke="#222" stroke-width="1"/><rect x="933.5" y="181.7" width="4" height="48.0" fill="#242424"/><rect x="934.1" y="182.4" width="2.8" height="46.6" fill="#24b6f6"/><path d="M941.5 161.9V185.1" stroke="#222" stroke-width="1"/><rect x="939.5" y="169.1" width="4" height="12.5" fill="#242424"/><rect x="940.1" y="169.8" width="2.8" height="11.1" fill="#24b6f6"/><path d="M948.5 153.1V172.0" stroke="#222" stroke-width="1"/><rect x="946.5" y="157.5" width="4" height="11.6" fill="#242424"/><rect x="947.1" y="158.2" width="2.8" height="10.2" fill="#24b6f6"/><path d="M954.5 133.6V159.0" stroke="#222" stroke-width="1"/><rect x="952.5" y="144.4" width="4" height="12.2" fill="#242424"/><rect x="953.1" y="145.1" width="2.8" height="10.8" fill="#5f8262"/><path d="M961.5 134.2V211.3" stroke="#222" stroke-width="1"/><rect x="959.5" y="144.4" width="4" height="62.6" fill="#242424"/><rect x="960.1" y="145.1" width="2.8" height="61.2" fill="#fbf410"/><path d="M967.5 163.3V212.8" stroke="#222" stroke-width="1"/><rect x="965.5" y="164.8" width="4" height="47.1" fill="#242424"/><rect x="966.1" y="165.5" width="2.8" height="45.7" fill="#24b6f6"/><path d="M973.5 160.4V196.8" stroke="#222" stroke-width="1"/><rect x="971.5" y="164.8" width="4" height="30.6" fill="#242424"/><rect x="972.1" y="165.5" width="2.8" height="29.2" fill="#fbf410"/><path d="M980.5 188.1V253.5" stroke="#222" stroke-width="1"/><rect x="978.5" y="195.3" width="4" height="37.8" fill="#242424"/><rect x="979.1" y="196.0" width="2.8" height="36.4" fill="#f618ee"/><path d="M986.5 203.2V240.4" stroke="#222" stroke-width="1"/><rect x="984.5" y="225.9" width="4" height="14.0" fill="#242424"/><rect x="985.1" y="226.6" width="2.8" height="12.6" fill="#18dc18"/><path d="M992.5 205.5V240.4" stroke="#222" stroke-width="1"/><rect x="990.5" y="209.9" width="4" height="16.0" fill="#242424"/><rect x="991.1" y="210.6" width="2.8" height="14.6" fill="#18dc18"/><path d="M999.5 191.5V224.4" stroke="#222" stroke-width="1"/><rect x="997.5" y="209.9" width="4" height="9.6" fill="#242424"/><rect x="998.1" y="210.6" width="2.8" height="8.2" fill="#f59a1b"/><path d="M1005.5 172.9V228.8" stroke="#222" stroke-width="1"/><rect x="1003.5" y="176.4" width="4" height="42.2" fill="#242424"/><rect x="1004.1" y="177.1" width="2.8" height="40.8" fill="#1414c8"/><path d="M1012.5 156.0V228.8" stroke="#222" stroke-width="1"/><rect x="1010.5" y="176.4" width="4" height="49.5" fill="#242424"/><rect x="1011.1" y="177.1" width="2.8" height="48.1" fill="#f618ee"/><path d="M1018.5 181.5V233.9" stroke="#222" stroke-width="1"/><rect x="1016.5" y="215.8" width="4" height="7.0" fill="#242424"/><rect x="1017.1" y="216.5" width="2.8" height="5.6" fill="#12e2fc"/><path d="M1024.5 209.1V332.8" stroke="#222" stroke-width="1"/><rect x="1022.5" y="229.5" width="4" height="53.8" fill="#242424"/><rect x="1023.1" y="230.2" width="2.8" height="52.4" fill="#8a3c4e"/><path d="M1031.5 242.6V300.8" stroke="#222" stroke-width="1"/><rect x="1029.5" y="259.5" width="4" height="23.9" fill="#242424"/><rect x="1030.1" y="260.2" width="2.8" height="22.5" fill="#18dc18"/><path d="M1037.5 245.5V300.8" stroke="#222" stroke-width="1"/><rect x="1035.5" y="259.5" width="4" height="29.7" fill="#242424"/><rect x="1036.1" y="260.2" width="2.8" height="28.3" fill="#8a3c4e"/><path d="M1044.5 239.7V290.6" stroke="#222" stroke-width="1"/><rect x="1042.5" y="259.5" width="4" height="29.7" fill="#242424"/><rect x="1043.1" y="260.2" width="2.8" height="28.3" fill="#18dc18"/><path d="M1050.5 206.2V266.5" stroke="#222" stroke-width="1"/><rect x="1048.5" y="256.3" width="4" height="3.8" fill="#242424"/><rect x="1049.1" y="257.0" width="2.8" height="2.4" fill="#12e2fc"/><path d="M1056.5 228.1V258.6" stroke="#222" stroke-width="1"/><rect x="1054.5" y="247.0" width="4" height="10.2" fill="#242424"/><rect x="1055.1" y="247.7" width="2.8" height="8.8" fill="#12e2fc"/><path d="M1063.5 238.2V290.6" stroke="#222" stroke-width="1"/><rect x="1061.5" y="247.0" width="4" height="27.6" fill="#242424"/><rect x="1062.1" y="247.7" width="2.8" height="26.2" fill="#f59a1b"/><path d="M1069.5 245.5V280.4" stroke="#222" stroke-width="1"/><rect x="1067.5" y="262.4" width="4" height="12.2" fill="#242424"/><rect x="1068.1" y="263.1" width="2.8" height="10.8" fill="#12e2fc"/><path d="M1076.5 203.3V265.3" stroke="#222" stroke-width="1"/><rect x="1074.5" y="217.9" width="4" height="44.5" fill="#242424"/><rect x="1075.1" y="218.6" width="2.8" height="43.1" fill="#12e2fc"/><path d="M1082.5 194.6V226.6" stroke="#222" stroke-width="1"/><rect x="1080.5" y="197.5" width="4" height="21.0" fill="#242424"/><rect x="1081.1" y="198.2" width="2.8" height="19.6" fill="#1414c8"/><path d="M1088.5 137.0V201.9" stroke="#222" stroke-width="1"/><rect x="1086.5" y="182.4" width="4" height="16.0" fill="#242424"/><rect x="1087.1" y="183.1" width="2.8" height="14.6" fill="#98dc58"/><path d="M1095.5 117.5V182.9" stroke="#222" stroke-width="1"/><rect x="1093.5" y="157.6" width="4" height="24.7" fill="#242424"/><rect x="1094.1" y="158.3" width="2.8" height="23.3" fill="#98dc58"/><path d="M1101.5 142.8V191.7" stroke="#222" stroke-width="1"/><rect x="1099.5" y="157.6" width="4" height="14.3" fill="#242424"/><rect x="1100.1" y="158.3" width="2.8" height="12.9" fill="#e8121c"/><path d="M1108.5 152.4V180.0" stroke="#222" stroke-width="1"/><rect x="1106.5" y="169.8" width="4" height="2.0" fill="#242424"/><rect x="1107.1" y="170.2" width="2.8" height="1.3" fill="#98dc58"/><path d="M1114.5 153.8V181.5" stroke="#222" stroke-width="1"/><rect x="1112.5" y="159.7" width="4" height="10.2" fill="#242424"/><rect x="1113.1" y="160.4" width="2.8" height="8.8" fill="#24b6f6"/><path d="M1120.5 150.3V180.0" stroke="#222" stroke-width="1"/><rect x="1118.5" y="159.7" width="4" height="5.8" fill="#242424"/><rect x="1119.1" y="160.4" width="2.8" height="4.4" fill="#24b6f6"/><path d="M1127.5 163.4V252.8" stroke="#222" stroke-width="1"/><rect x="1125.5" y="165.5" width="4" height="60.2" fill="#242424"/><rect x="1126.1" y="166.2" width="2.8" height="58.8" fill="#f618ee"/><path d="M1133.5 209.1V257.2" stroke="#222" stroke-width="1"/><rect x="1131.5" y="225.7" width="4" height="4.4" fill="#242424"/><rect x="1132.1" y="226.4" width="2.8" height="3.0" fill="#f59a1b"/><path d="M1139.5 215.0V277.5" stroke="#222" stroke-width="1"/><rect x="1137.5" y="230.1" width="4" height="28.5" fill="#242424"/><rect x="1138.1" y="230.8" width="2.8" height="27.1" fill="#f04a9a"/><path d="M1146.5 233.9V261.5" stroke="#222" stroke-width="1"/><rect x="1144.5" y="239.1" width="4" height="19.5" fill="#242424"/><rect x="1145.1" y="239.8" width="2.8" height="18.1" fill="#18dc18"/><path d="M1152.5 236.8V286.3" stroke="#222" stroke-width="1"/><rect x="1150.5" y="239.1" width="4" height="38.4" fill="#242424"/><rect x="1151.1" y="239.8" width="2.8" height="37.0" fill="#8a3c4e"/><path d="M1159.5 261.5V297.9" stroke="#222" stroke-width="1"/><rect x="1157.5" y="278.4" width="4" height="3.5" fill="#242424"/><rect x="1158.1" y="279.1" width="2.8" height="2.1" fill="#8a3c4e"/><path d="M1165.5 241.7V295.0" stroke="#222" stroke-width="1"/><rect x="1163.5" y="265.9" width="4" height="14.6" fill="#242424"/><rect x="1164.1" y="266.6" width="2.8" height="13.2" fill="#12e2fc"/><path d="M1171.5 244.4V306.9" stroke="#222" stroke-width="1"/><rect x="1169.5" y="265.6" width="4" height="28.2" fill="#242424"/><rect x="1170.1" y="266.3" width="2.8" height="26.8" fill="#f59a1b"/><path d="M1178.5 290.9V393.7" stroke="#222" stroke-width="1"/><rect x="1176.5" y="293.8" width="4" height="24.2" fill="#242424"/><rect x="1177.1" y="294.5" width="2.8" height="22.8" fill="#18dc18"/><path d="M1184.5 296.8V368.1" stroke="#222" stroke-width="1"/><rect x="1182.5" y="318.0" width="4" height="20.1" fill="#242424"/><rect x="1183.1" y="318.7" width="2.8" height="18.7" fill="#8a3c4e"/><path d="M1191.5 320.0V371.0" stroke="#222" stroke-width="1"/><rect x="1189.5" y="324.4" width="4" height="13.7" fill="#242424"/><rect x="1190.1" y="325.1" width="2.8" height="12.3" fill="#18dc18"/><path d="M1197.5 301.1V341.9" stroke="#222" stroke-width="1"/><rect x="1195.5" y="313.3" width="4" height="11.1" fill="#242424"/><rect x="1196.1" y="314.0" width="2.8" height="9.7" fill="#12e2fc"/><path d="M1203.5 307.5V355.0" stroke="#222" stroke-width="1"/><rect x="1201.5" y="313.3" width="4" height="40.7" fill="#242424"/><rect x="1202.1" y="314.0" width="2.8" height="39.3" fill="#8a3c4e"/><path d="M1210.5 339.0V365.1" stroke="#222" stroke-width="1"/><rect x="1208.5" y="354.1" width="4" height="4.7" fill="#242424"/><rect x="1209.1" y="354.8" width="2.8" height="3.3" fill="#8a3c4e"/><path d="M1216.5 356.4V417.5" stroke="#222" stroke-width="1"/><rect x="1214.5" y="357.9" width="4" height="58.2" fill="#242424"/><rect x="1215.1" y="358.6" width="2.8" height="56.8" fill="#8a3c4e"/><path d="M1223.5 400.1V469.9" stroke="#222" stroke-width="1"/><rect x="1221.5" y="415.2" width="4" height="50.3" fill="#242424"/><rect x="1222.1" y="415.9" width="2.8" height="48.9" fill="#18dc18"/><path d="M1229.5 371.0V467.0" stroke="#222" stroke-width="1"/><rect x="1227.5" y="372.4" width="4" height="93.1" fill="#242424"/><rect x="1228.1" y="373.1" width="2.8" height="91.7" fill="#18dc18"/><path d="M1235.5 350.6V379.7" stroke="#222" stroke-width="1"/><rect x="1233.5" y="359.9" width="4" height="12.5" fill="#242424"/><rect x="1234.1" y="360.6" width="2.8" height="11.1" fill="#12e2fc"/><path d="M1242.5 292.4V369.5" stroke="#222" stroke-width="1"/><rect x="1240.5" y="312.8" width="4" height="46.6" fill="#242424"/><rect x="1241.1" y="313.5" width="2.8" height="45.2" fill="#12e2fc"/><path d="M1248.5 298.2V360.8" stroke="#222" stroke-width="1"/><rect x="1246.5" y="312.8" width="4" height="45.1" fill="#242424"/><rect x="1247.1" y="313.5" width="2.8" height="43.7" fill="#f59a1b"/><path d="M1254.5 331.7V379.7" stroke="#222" stroke-width="1"/><rect x="1252.5" y="345.4" width="4" height="12.5" fill="#242424"/><rect x="1253.1" y="346.1" width="2.8" height="11.1" fill="#12e2fc"/><path d="M1261.5 334.6V368.1" stroke="#222" stroke-width="1"/><rect x="1259.5" y="346.2" width="4" height="7.9" fill="#242424"/><rect x="1260.1" y="346.9" width="2.8" height="6.5" fill="#f59a1b"/><path d="M1267.5 347.7V395.7" stroke="#222" stroke-width="1"/><rect x="1265.5" y="353.5" width="4" height="37.8" fill="#242424"/><rect x="1266.1" y="354.2" width="2.8" height="36.4" fill="#f59a1b"/><path d="M1274.5 355.8V392.8" stroke="#222" stroke-width="1"/><rect x="1272.5" y="374.7" width="4" height="16.0" fill="#242424"/><rect x="1273.1" y="375.4" width="2.8" height="14.6" fill="#12e2fc"/><path d="M1280.5 344.8V391.3" stroke="#222" stroke-width="1"/><rect x="1278.5" y="347.7" width="4" height="27.6" fill="#242424"/><rect x="1279.1" y="348.4" width="2.8" height="26.2" fill="#12e2fc"/><path d="M1286.5 345.4V405.9" stroke="#222" stroke-width="1"/><rect x="1284.5" y="347.7" width="4" height="40.7" fill="#242424"/><rect x="1285.1" y="348.4" width="2.8" height="39.3" fill="#8a3c4e"/><path d="M1293.5 378.2V407.3" stroke="#222" stroke-width="1"/><rect x="1291.5" y="388.4" width="4" height="15.4" fill="#242424"/><rect x="1292.1" y="389.1" width="2.8" height="14.0" fill="#8a3c4e"/><path d="M1299.5 387.8V418.1" stroke="#222" stroke-width="1"/><rect x="1297.5" y="401.5" width="4" height="14.6" fill="#242424"/><rect x="1298.1" y="402.2" width="2.8" height="13.2" fill="#8a3c4e"/><path d="M1306.5 388.4V420.4" stroke="#222" stroke-width="1"/><rect x="1304.5" y="414.6" width="4" height="1.7" fill="#242424"/><rect x="1305.1" y="415.0" width="2.8" height="1.0" fill="#8a3c4e"/><path d="M1312.5 414.0V440.8" stroke="#222" stroke-width="1"/><rect x="1310.5" y="415.5" width="4" height="1.6" fill="#242424"/><rect x="1311.1" y="415.8" width="2.8" height="0.9" fill="#8a3c4e"/><path d="M1318.5 413.2V465.6" stroke="#222" stroke-width="1"/><rect x="1316.5" y="415.5" width="4" height="33.5" fill="#242424"/><rect x="1317.1" y="416.2" width="2.8" height="32.1" fill="#8a3c4e"/><path d="M1325.5 419.0V455.4" stroke="#222" stroke-width="1"/><rect x="1323.5" y="429.8" width="4" height="19.2" fill="#242424"/><rect x="1324.1" y="430.5" width="2.8" height="17.8" fill="#18dc18"/><path d="M1331.5 418.1V433.5" stroke="#222" stroke-width="1"/><rect x="1329.5" y="423.4" width="4" height="6.4" fill="#242424"/><rect x="1330.1" y="424.1" width="2.8" height="5.0" fill="#18dc18"/><path d="M1338.5 395.7V437.9" stroke="#222" stroke-width="1"/><rect x="1336.5" y="405.3" width="4" height="18.6" fill="#242424"/><rect x="1337.1" y="406.0" width="2.8" height="17.2" fill="#12e2fc"/><path d="M1344.5 357.9V407.3" stroke="#222" stroke-width="1"/><rect x="1342.5" y="389.9" width="4" height="15.4" fill="#242424"/><rect x="1343.1" y="390.6" width="2.8" height="14.0" fill="#12e2fc"/><path d="M1350.5 379.7V407.3" stroke="#222" stroke-width="1"/><rect x="1348.5" y="389.9" width="4" height="13.1" fill="#242424"/><rect x="1349.1" y="390.6" width="2.8" height="11.7" fill="#f59a1b"/><path d="M1357.5 387.0V419.0" stroke="#222" stroke-width="1"/><rect x="1355.5" y="403.0" width="4" height="5.8" fill="#242424"/><rect x="1356.1" y="403.7" width="2.8" height="4.4" fill="#f59a1b"/><path d="M1363.5 391.3V430.6" stroke="#222" stroke-width="1"/><rect x="1361.5" y="398.6" width="4" height="10.8" fill="#242424"/><rect x="1362.1" y="399.3" width="2.8" height="9.4" fill="#12e2fc"/><path d="M1369.5 322.9V419.0" stroke="#222" stroke-width="1"/><rect x="1367.5" y="340.4" width="4" height="59.1" fill="#242424"/><rect x="1368.1" y="341.1" width="2.8" height="57.7" fill="#18dc18"/><path d="M1376.5 278.7V356.9" stroke="#222" stroke-width="1"/><rect x="1374.5" y="340.2" width="4" height="6.4" fill="#242424"/><rect x="1375.1" y="340.9" width="2.8" height="5.0" fill="#f04a9a"/><path d="M1382.5 323.4V365.3" stroke="#222" stroke-width="1"/><rect x="1380.5" y="346.3" width="4" height="16.8" fill="#242424"/><rect x="1381.1" y="347.0" width="2.8" height="15.4" fill="#18dc18"/><path d="M1389.5 324.8V369.5" stroke="#222" stroke-width="1"/><rect x="1387.5" y="353.3" width="4" height="9.8" fill="#242424"/><rect x="1388.1" y="354.0" width="2.8" height="8.4" fill="#18dc18"/><path d="M1395.5 338.8V382.1" stroke="#222" stroke-width="1"/><rect x="1393.5" y="343.5" width="4" height="9.8" fill="#242424"/><rect x="1394.1" y="344.2" width="2.8" height="8.4" fill="#1414c8"/><path d="M1401.5 267.5V358.9" stroke="#222" stroke-width="1"/><rect x="1399.5" y="287.7" width="4" height="66.5" fill="#242424"/><rect x="1400.1" y="288.4" width="2.8" height="65.1" fill="#5f8262"/><path d="M1408.5 249.4V299.7" stroke="#222" stroke-width="1"/><rect x="1406.6" y="286.5" width="3.8" height="1.6" fill="#111"/><path d="M1414.5 280.7V379.3" stroke="#222" stroke-width="1"/><rect x="1412.5" y="286.5" width="4" height="20.7" fill="#242424"/><rect x="1413.1" y="287.2" width="2.8" height="19.3" fill="#fbf410"/><path d="M1421.5 270.3V310.8" stroke="#222" stroke-width="1"/><rect x="1419.5" y="289.3" width="4" height="17.9" fill="#242424"/><rect x="1420.1" y="290.0" width="2.8" height="16.5" fill="#24b6f6"/><path d="M1427.5 257.2V297.4" stroke="#222" stroke-width="1"/><rect x="1425.5" y="265.3" width="4" height="24.6" fill="#242424"/><rect x="1426.1" y="266.0" width="2.8" height="23.2" fill="#24b6f6"/><path d="M1433.5 232.1V275.9" stroke="#222" stroke-width="1"/><rect x="1431.5" y="254.4" width="4" height="10.9" fill="#242424"/><rect x="1432.1" y="255.1" width="2.8" height="9.5" fill="#fbf410"/><path d="M1440.5 226.2V263.4" stroke="#222" stroke-width="1"/><rect x="1438.5" y="238.8" width="4" height="15.6" fill="#242424"/><rect x="1439.1" y="239.5" width="2.8" height="14.2" fill="#5f8262"/><path d="M1446.5 203.3V249.4" stroke="#222" stroke-width="1"/><rect x="1444.5" y="208.0" width="4" height="30.2" fill="#242424"/><rect x="1445.1" y="208.7" width="2.8" height="28.8" fill="#5f8262"/><path d="M1453.5 196.3V250.8" stroke="#222" stroke-width="1"/><rect x="1451.5" y="208.0" width="4" height="12.8" fill="#242424"/><rect x="1452.1" y="208.7" width="2.8" height="11.4" fill="#e8121c"/><path d="M1459.5 200.5V246.6" stroke="#222" stroke-width="1"/><rect x="1457.5" y="225.1" width="4" height="3.4" fill="#242424"/><rect x="1458.1" y="225.8" width="2.8" height="2.0" fill="#e8121c"/><path d="M1465.5 219.5V242.4" stroke="#222" stroke-width="1"/><rect x="1463.5" y="225.1" width="4" height="10.3" fill="#242424"/><rect x="1464.1" y="225.8" width="2.8" height="8.9" fill="#e8121c"/><path d="M1472.5 180.9V235.4" stroke="#222" stroke-width="1"/><rect x="1470.5" y="200.5" width="4" height="34.4" fill="#242424"/><rect x="1471.1" y="201.2" width="2.8" height="33.0" fill="#5f8262"/><path d="M1478.5 195.5V220.9" stroke="#222" stroke-width="1"/><rect x="1476.5" y="201.9" width="4" height="14.0" fill="#242424"/><rect x="1477.1" y="202.6" width="2.8" height="12.6" fill="#e8121c"/><path d="M1485.5 217.3V248.8" stroke="#222" stroke-width="1"/><rect x="1483.5" y="217.3" width="4" height="23.2" fill="#242424"/><rect x="1484.1" y="218.0" width="2.8" height="21.8" fill="#fbf410"/></g>
<rect x="81.5" y="85.1" width="19.5" height="19.0" rx="2.2" fill="#fff" fill-opacity="0" stroke="#7aa8f8" stroke-width="1.1"/><text x="91.2" y="98.6" font-size="10.5" fill="#222" text-anchor="middle">[A]</text>
<rect x="119.2" y="192.7" width="20.9" height="19.0" rx="2.2" fill="#fff" fill-opacity="0" stroke="#7aa8f8" stroke-width="1.1"/><text x="129.7" y="206.2" font-size="10.5" fill="#222" text-anchor="middle">(b)</text>
<rect x="81.1" y="340.4" width="21.0" height="19.9" rx="2.2" fill="#fff" fill-opacity="0" stroke="#7aa8f8" stroke-width="1.1"/><text x="91.6" y="354.4" font-size="10.5" fill="#222" text-anchor="middle">(a)</text>
<rect x="152.8" y="546.2" width="19.9" height="19.6" rx="2.2" fill="#fff" fill-opacity="0" stroke="#7aa8f8" stroke-width="1.1"/><text x="162.8" y="560.0" font-size="10.5" fill="#222" text-anchor="middle">(c)</text>
<rect x="170.9" y="551.8" width="20.3" height="19.2" rx="2.2" fill="#fff" fill-opacity="0" stroke="#7aa8f8" stroke-width="1.1"/><text x="181.1" y="565.4" font-size="10.5" fill="#222" text-anchor="middle">[B]</text>
<rect x="314.7" y="217.0" width="14.0" height="19.5" rx="2.2" fill="#fff" fill-opacity="0" stroke="#7aa8f8" stroke-width="1.1"/><text x="321.7" y="230.8" font-size="11.5" fill="#1a1ae6" text-anchor="middle">a</text>
<rect x="384.4" y="433.7" width="14.6" height="19.3" rx="2.2" fill="#fff" fill-opacity="0" stroke="#7aa8f8" stroke-width="1.1"/><text x="391.7" y="447.4" font-size="11.5" fill="#1a1ae6" text-anchor="middle">b</text>
<rect x="634.0" y="151.3" width="13.5" height="19.9" rx="2.2" fill="#fff" fill-opacity="0" stroke="#7aa8f8" stroke-width="1.1"/><text x="640.8" y="165.2" font-size="11.5" fill="#1a1ae6" text-anchor="middle">c</text>
<rect x="649.4" y="142.4" width="21.0" height="19.0" rx="2.2" fill="#fff" fill-opacity="0" stroke="#7aa8f8" stroke-width="1.1"/><text x="659.9" y="155.9" font-size="10.5" fill="#222" text-anchor="middle">(a)</text>
<rect x="713.7" y="397.7" width="21.0" height="18.5" rx="2.2" fill="#fff" fill-opacity="0" stroke="#7aa8f8" stroke-width="1.1"/><text x="724.2" y="410.9" font-size="10.5" fill="#222" text-anchor="middle">(b)</text>
<rect x="849.3" y="43.5" width="20.5" height="18.9" rx="2.2" fill="#fff" fill-opacity="0" stroke="#7aa8f8" stroke-width="1.1"/><text x="859.5" y="57.0" font-size="10.5" fill="#222" text-anchor="middle">(c)</text>
<rect x="867.6" y="31.6" width="19.8" height="18.8" rx="2.2" fill="#fff" fill-opacity="0" stroke="#7aa8f8" stroke-width="1.1"/><text x="877.5" y="45.0" font-size="10.5" fill="#222" text-anchor="middle">[A]</text>
<rect x="947.0" y="111.7" width="14.8" height="18.8" rx="2.2" fill="#fff" fill-opacity="0" stroke="#7aa8f8" stroke-width="1.1"/><text x="954.4" y="125.1" font-size="11.5" fill="#1a1ae6" text-anchor="middle">b</text>
<rect x="903.0" y="264.0" width="14.8" height="18.3" rx="2.2" fill="#fff" fill-opacity="0" stroke="#7aa8f8" stroke-width="1.1"/><text x="910.4" y="277.1" font-size="11.5" fill="#1a1ae6" text-anchor="middle">a</text>
<rect x="1097.6" y="101.3" width="20.7" height="18.9" rx="2.2" fill="#fff" fill-opacity="0" stroke="#7aa8f8" stroke-width="1.1"/><text x="1107.9" y="114.8" font-size="10.5" fill="#222" text-anchor="middle">(b)</text>
<rect x="1126.8" y="130.5" width="14.2" height="20.5" rx="2.2" fill="#fff" fill-opacity="0" stroke="#7aa8f8" stroke-width="1.1"/><text x="1133.9" y="144.8" font-size="11.5" fill="#1a1ae6" text-anchor="middle">2</text>
<rect x="1093.8" y="191.8" width="15.1" height="19.8" rx="2.2" fill="#fff" fill-opacity="0" stroke="#7aa8f8" stroke-width="1.1"/><text x="1101.3" y="205.7" font-size="11.5" fill="#1a1ae6" text-anchor="middle">1</text>
<rect x="1017.6" y="335.9" width="13.7" height="19.9" rx="2.2" fill="#fff" fill-opacity="0" stroke="#7aa8f8" stroke-width="1.1"/><text x="1024.5" y="349.9" font-size="11.5" fill="#1a1ae6" text-anchor="middle">c</text>
<rect x="1033.0" y="341.8" width="21.3" height="19.2" rx="2.2" fill="#fff" fill-opacity="0" stroke="#7aa8f8" stroke-width="1.1"/><text x="1043.7" y="355.4" font-size="10.5" fill="#222" text-anchor="middle">(a)</text>
<rect x="1159.8" y="376.8" width="13.3" height="18.5" rx="2.2" fill="#fff" fill-opacity="0" stroke="#7aa8f8" stroke-width="1.1"/><text x="1166.4" y="390.1" font-size="11.5" fill="#1a1ae6" text-anchor="middle">3</text>
<rect x="1197.0" y="463.2" width="14.6" height="19.2" rx="2.2" fill="#fff" fill-opacity="0" stroke="#7aa8f8" stroke-width="1.1"/><text x="1204.3" y="476.8" font-size="11.5" fill="#1a1ae6" text-anchor="middle">5</text>
<rect x="1214.0" y="477.4" width="19.2" height="19.2" rx="2.2" fill="#fff" fill-opacity="0" stroke="#7aa8f8" stroke-width="1.1"/><text x="1223.6" y="491.0" font-size="10.5" fill="#222" text-anchor="middle">(c)</text>
<rect x="1233.2" y="479.1" width="19.9" height="19.2" rx="2.2" fill="#fff" fill-opacity="0" stroke="#7aa8f8" stroke-width="1.1"/><text x="1243.2" y="492.7" font-size="10.5" fill="#222" text-anchor="middle">[B]</text>
<rect x="1209.9" y="272.9" width="13.9" height="19.5" rx="2.2" fill="#fff" fill-opacity="0" stroke="#7aa8f8" stroke-width="1.1"/><text x="1216.8" y="286.6" font-size="11.5" fill="#1a1ae6" text-anchor="middle">4</text>
<rect x="1248.0" y="290.0" width="14.5" height="17.5" rx="2.2" fill="#fff" fill-opacity="0" stroke="#7aa8f8" stroke-width="1.1"/><text x="1255.2" y="302.8" font-size="11.5" fill="#1a1ae6" text-anchor="middle">1</text>
<rect x="1337.3" y="456.2" width="14.6" height="19.0" rx="2.2" fill="#fff" fill-opacity="0" stroke="#7aa8f8" stroke-width="1.1"/><text x="1344.6" y="469.7" font-size="11.5" fill="#1a1ae6" text-anchor="middle">2</text>
<rect x="1477.5" y="96.6" width="14.4" height="18.9" rx="2.2" fill="#fff" fill-opacity="0" stroke="#7aa8f8" stroke-width="1.1"/><text x="1484.7" y="110.0" font-size="11.5" fill="#1a1ae6" text-anchor="middle">3</text>
<text x="236.3" y="377.5" font-size="9" font-weight="bold" fill="#46b446" textLength="28.3" lengthAdjust="spacingAndGlyphs">38,20 %</text>
<text x="236.3" y="407.2" font-size="9" font-weight="bold" fill="#ff9650" textLength="28.3" lengthAdjust="spacingAndGlyphs">50,00 %</text>
<text x="326.3" y="396.0" font-size="9" font-weight="bold" fill="#ff9650" textLength="28.3" lengthAdjust="spacingAndGlyphs">50,00 %</text>
<text x="326.3" y="432.2" font-size="9" font-weight="bold" fill="#5252f0" textLength="28.3" lengthAdjust="spacingAndGlyphs">61,80 %</text>
<text x="167.4" y="522.5" font-size="9" font-weight="bold" fill="#78e078" textLength="28.3" lengthAdjust="spacingAndGlyphs">76,40 %</text>
<text x="167.4" y="535.8" font-size="9" font-weight="bold" fill="#aa6e28" textLength="28.3" lengthAdjust="spacingAndGlyphs">88,20 %</text>
<text x="659.5" y="358.0" font-size="9" font-weight="bold" fill="#ff9650" textLength="28.3" lengthAdjust="spacingAndGlyphs">50,00 %</text>
<text x="659.5" y="403.4" font-size="9" font-weight="bold" fill="#5252f0" textLength="28.3" lengthAdjust="spacingAndGlyphs">61,80 %</text>
<text x="924.8" y="136.9" font-size="9" font-weight="bold" fill="#5252f0" textLength="28.3" lengthAdjust="spacingAndGlyphs">61,80 %</text>
<text x="924.8" y="160.5" font-size="9" font-weight="bold" fill="#ff9650" textLength="28.3" lengthAdjust="spacingAndGlyphs">50,00 %</text>
<text x="1045.8" y="126.5" font-size="9" font-weight="bold" fill="#78e078" textLength="28.3" lengthAdjust="spacingAndGlyphs">76,40 %</text>
<text x="1045.8" y="166.2" font-size="9" font-weight="bold" fill="#5252f0" textLength="28.3" lengthAdjust="spacingAndGlyphs">61,80 %</text>
<text x="1281.8" y="425.1" font-size="9" font-weight="bold" fill="#78e078" textLength="28.3" lengthAdjust="spacingAndGlyphs">76,40 %</text>
<text x="1281.8" y="444.9" font-size="9" font-weight="bold" fill="#aa6e28" textLength="28.3" lengthAdjust="spacingAndGlyphs">88,20 %</text>
<text x="1279.8" y="466.4" font-size="9" font-weight="bold" fill="#9fb4f0" textLength="32.4" lengthAdjust="spacingAndGlyphs">100,00 %</text>
<rect x="307.2" y="122.8" width="38.5" height="12.1" fill="#fff" stroke="#1a1ae6" stroke-width="1.2"/><text x="310.2" y="132.0" font-size="9" font-weight="bold" fill="#1a1ae6" textLength="32.4" lengthAdjust="spacingAndGlyphs">100,00 %</text>
<rect x="161.4" y="234.6" width="38.3" height="12.0" fill="#fff" stroke="#78e078" stroke-width="1.2"/><text x="164.4" y="243.8" font-size="9" font-weight="bold" fill="#78e078" textLength="32.4" lengthAdjust="spacingAndGlyphs">261,80 %</text>
<rect x="161.4" y="276.6" width="38.3" height="12.3" fill="#fff" stroke="#9614d2" stroke-width="1.2"/><text x="164.4" y="285.9" font-size="9" font-weight="bold" fill="#9614d2" textLength="32.4" lengthAdjust="spacingAndGlyphs">223,60 %</text>
<rect x="161.4" y="301.8" width="38.3" height="12.4" fill="#fff" stroke="#9fb4f0" stroke-width="1.2"/><text x="164.4" y="311.2" font-size="9" font-weight="bold" fill="#9fb4f0" textLength="32.4" lengthAdjust="spacingAndGlyphs">200,00 %</text>
<rect x="161.4" y="343.8" width="38.3" height="13.0" fill="#fff" stroke="#ff9650" stroke-width="1.2"/><text x="164.4" y="353.5" font-size="9" font-weight="bold" fill="#ff9650" textLength="32.4" lengthAdjust="spacingAndGlyphs">161,80 %</text>
<rect x="161.4" y="411.8" width="38.3" height="12.5" fill="#fff" stroke="#1a1ae6" stroke-width="1.2"/><text x="164.4" y="421.2" font-size="9" font-weight="bold" fill="#1a1ae6" textLength="32.4" lengthAdjust="spacingAndGlyphs">100,00 %</text>
<rect x="915.3" y="317.4" width="37.7" height="12.2" fill="#fff" stroke="#1a1ae6" stroke-width="1.2"/><text x="917.9" y="326.7" font-size="9" font-weight="bold" fill="#1a1ae6" textLength="32.4" lengthAdjust="spacingAndGlyphs">100,00 %</text>
<rect x="1023.6" y="373.6" width="37.7" height="12.3" fill="#fff" stroke="#1a1ae6" stroke-width="1.2"/><text x="1026.2" y="382.9" font-size="9" font-weight="bold" fill="#1a1ae6" textLength="32.4" lengthAdjust="spacingAndGlyphs">100,00 %</text>
<rect x="1023.6" y="539.2" width="37.7" height="12.6" fill="#fff" stroke="#ff9650" stroke-width="1.2"/><text x="1026.2" y="548.7" font-size="9" font-weight="bold" fill="#ff9650" textLength="32.4" lengthAdjust="spacingAndGlyphs">161,80 %</text>
<rect x="1241.8" y="278.0" width="37.6" height="12.6" fill="#fff" stroke="#1a1ae6" stroke-width="1.2"/><text x="1244.4" y="287.5" font-size="9" font-weight="bold" fill="#1a1ae6" textLength="32.4" lengthAdjust="spacingAndGlyphs">100,00 %</text>
<rect x="1241.8" y="61.6" width="38.0" height="12.6" fill="#fff" stroke="#9614d2" stroke-width="1.2"/><text x="1244.6" y="71.1" font-size="9" font-weight="bold" fill="#9614d2" textLength="32.4" lengthAdjust="spacingAndGlyphs">223,60 %</text>
<rect x="1241.8" y="103.8" width="38.0" height="12.0" fill="#fff" stroke="#9fb4f0" stroke-width="1.2"/><text x="1244.6" y="113.0" font-size="9" font-weight="bold" fill="#9fb4f0" textLength="32.4" lengthAdjust="spacingAndGlyphs">200,00 %</text>
<rect x="1241.8" y="170.5" width="38.0" height="12.5" fill="#fff" stroke="#ff9650" stroke-width="1.2"/><text x="1244.6" y="179.9" font-size="9" font-weight="bold" fill="#ff9650" textLength="32.4" lengthAdjust="spacingAndGlyphs">161,80 %</text>
<path d="M1240.5 68.0L1257.5 68.0" stroke="#f03c3c" stroke-width="1.5" fill="none" stroke-opacity="0.85"/>
<path d="M1264.0 68.0L1281.0 68.0" stroke="#f03c3c" stroke-width="1.5" fill="none" stroke-opacity="0.85"/>
<path d="M1238.0 172.6L1285.0 172.6" stroke="#ee1c1c" stroke-width="1.25" fill="none" stroke-dasharray="4 4"/>
<text x="155.5" y="434.0" font-size="9.5" fill="#1a1ae6" text-anchor="middle">1</text>
<text x="193.6" y="529.0" font-size="9.5" fill="#1a1ae6" text-anchor="middle">2</text>
<text x="225.9" y="276.5" font-size="9.5" fill="#1a1ae6" text-anchor="middle">3</text>
<text x="283.0" y="389.5" font-size="9.5" fill="#1a1ae6" text-anchor="middle">4</text>
<text x="308.5" y="239.0" font-size="9.5" fill="#1a1ae6" text-anchor="middle">5</text>
<rect x="24" y="250" width="34.5" height="11" fill="#fff" stroke="#1a8a1a" stroke-width="1.1"/>
<text x="25.5" y="259.2" font-size="9" font-weight="bold" fill="#128212" textLength="31.5" lengthAdjust="spacingAndGlyphs">24.300,0</text>
<text x="32" y="48.5" font-size="20" font-weight="bold" fill="#000">M</text>
<text x="32" y="72.5" font-size="20" font-weight="bold" fill="#000">Hong Kong HS50 Cash ($1)</text>
<text x="25" y="573" font-size="9" fill="#222" textLength="105" lengthAdjust="spacingAndGlyphs">IT-Finance.com - Tiempo Real</text>
</g>
<g clip-path="url(#cpI1)">
<rect x="21" y="589.5" width="1464" height="27.7" fill="#d9f5d6"/>
<rect x="21" y="699.5" width="1464" height="28.0" fill="#fddad6"/>
<path d="M21 589.5H1485" stroke="#111" stroke-width="1"/>
<path d="M21 617.2H1485" stroke="#333" stroke-width="1.2"/>
<path d="M21 699.5H1485" stroke="#222" stroke-width="1"/>
<path d="M21 727.5H1485" stroke="#222" stroke-width="1"/>
<path d="M23 658.2H1485" stroke="#1414c8" stroke-width="2.1" stroke-dasharray="4 4.5"/>
<path d="M55.9 599.4 L56.9 598.5 L57.9 597.7 L58.9 596.9 L59.9 596.3 L60.9 595.8 L61.9 595.4 L62.9 594.9 L63.9 594.4 L64.8 594.0 L65.8 593.6 L66.8 593.3 L67.8 593.0 L68.8 592.8 L69.8 592.6 L70.8 592.5 L71.8 592.7 L72.8 593.3 L72.8 593.1 L71.8 593.5 L70.8 593.8 L69.8 594.1 L68.8 594.5 L67.8 594.8 L66.8 595.2 L65.8 595.5 L64.8 595.9 L63.9 596.3 L62.9 596.9 L61.9 597.6 L60.9 598.4 L59.9 599.2 L58.9 600.0 L57.9 600.7 L56.9 601.2 L55.9 601.8Z" fill="rgba(120,220,120,0.45)" stroke="none"/>
<path d="M72.8 593.3 L73.8 594.4 L74.8 595.8 L75.8 597.5 L76.8 599.3 L77.8 601.0 L78.8 602.6 L79.8 604.2 L80.8 605.7 L81.8 607.2 L82.8 608.9 L83.8 610.7 L84.8 612.8 L85.8 615.2 L86.8 618.5 L87.8 623.4 L88.8 629.2 L89.8 635.3 L90.8 640.6 L91.8 644.8 L92.8 648.3 L93.8 651.6 L94.8 654.7 L95.8 657.6 L96.8 660.6 L97.8 663.7 L98.8 667.1 L99.8 670.8 L100.8 674.5 L101.8 677.9 L102.8 680.7 L103.8 682.7 L104.8 683.6 L105.8 683.2 L106.8 682.0 L107.8 680.8 L107.8 681.4 L106.8 679.4 L105.8 676.2 L104.8 673.4 L103.8 670.5 L102.8 667.6 L101.8 664.7 L100.8 661.8 L99.8 658.7 L98.8 655.5 L97.8 652.3 L96.8 649.0 L95.8 645.5 L94.8 641.8 L93.8 637.7 L92.8 632.7 L91.8 627.5 L90.8 622.5 L89.8 618.2 L88.8 615.1 L87.8 612.7 L86.8 610.8 L85.8 609.1 L84.8 607.3 L83.8 605.5 L82.8 603.7 L81.8 602.1 L80.8 600.6 L79.8 599.3 L78.8 598.0 L77.8 596.7 L76.8 595.4 L75.8 594.3 L74.8 593.3 L73.8 592.8 L72.8 593.1Z" fill="rgba(250,130,130,0.5)" stroke="none"/>
<path d="M107.8 680.8 L108.8 680.0 L109.8 679.7 L110.8 679.5 L111.8 679.2 L112.8 679.1 L113.8 678.9 L114.8 678.8 L115.8 678.8 L116.8 678.8 L117.8 679.0 L118.8 679.4 L118.8 679.0 L117.8 679.1 L116.8 679.2 L115.8 679.4 L114.8 679.6 L113.8 679.8 L112.8 680.1 L111.8 680.5 L110.8 681.2 L109.8 681.7 L108.8 681.6 L107.8 681.4Z" fill="rgba(120,220,120,0.45)" stroke="none"/>
<path d="M118.8 679.4 L119.8 679.9 L120.8 680.6 L121.8 681.6 L122.8 682.9 L123.8 684.3 L124.8 685.9 L125.8 687.5 L126.8 689.0 L127.8 690.6 L128.8 692.3 L129.8 694.2 L130.8 696.2 L131.8 698.2 L132.8 700.1 L133.8 701.7 L134.8 702.9 L135.8 703.6 L136.8 703.8 L137.8 704.0 L138.8 704.1 L139.8 704.2 L140.8 704.2 L141.8 704.2 L142.8 704.1 L143.8 703.7 L143.8 704.0 L142.8 704.0 L141.8 703.8 L140.8 703.5 L139.8 703.1 L138.8 702.1 L137.8 700.7 L136.8 699.2 L135.8 697.6 L134.8 696.0 L133.8 694.5 L132.8 692.9 L131.8 691.4 L130.8 689.9 L129.8 688.4 L128.8 687.1 L127.8 685.8 L126.8 684.5 L125.8 683.2 L124.8 681.9 L123.8 680.8 L122.8 680.0 L121.8 679.5 L120.8 679.2 L119.8 679.0 L118.8 679.0Z" fill="rgba(250,130,130,0.5)" stroke="none"/>
<path d="M143.8 703.7 L144.8 702.9 L145.8 702.0 L146.8 701.5 L147.8 701.4 L148.8 701.7 L149.8 701.9 L149.8 701.9 L148.8 702.4 L147.8 703.1 L146.8 703.6 L145.8 704.0 L144.8 704.0 L143.8 704.0Z" fill="rgba(120,220,120,0.45)" stroke="none"/>
<path d="M149.8 701.9 L150.8 701.9 L151.8 701.7 L151.8 701.7 L150.8 701.8 L149.8 701.9Z" fill="rgba(250,130,130,0.5)" stroke="none"/>
<path d="M151.8 701.7 L152.8 701.4 L153.8 701.0 L154.8 700.6 L155.8 700.2 L156.8 699.7 L157.8 699.3 L158.8 698.7 L159.8 698.2 L160.8 697.8 L161.8 697.6 L162.8 697.5 L163.8 697.6 L164.8 697.7 L165.8 697.9 L165.8 697.8 L164.8 698.0 L163.8 698.4 L162.8 698.7 L161.8 699.2 L160.8 699.6 L159.8 699.9 L158.8 700.3 L157.8 700.6 L156.8 700.9 L155.8 701.2 L154.8 701.5 L153.8 701.7 L152.8 701.7 L151.8 701.7Z" fill="rgba(120,220,120,0.45)" stroke="none"/>
<path d="M165.8 697.9 L166.8 698.2 L167.8 698.5 L168.8 698.8 L169.8 699.4 L170.8 700.2 L171.8 701.1 L172.8 702.0 L173.8 702.6 L174.8 702.9 L175.8 703.0 L176.8 703.0 L177.8 703.0 L178.8 703.0 L179.8 703.0 L180.8 703.0 L181.8 702.7 L181.8 703.0 L180.8 702.9 L179.8 702.9 L178.8 702.7 L177.8 702.5 L176.8 701.9 L175.8 701.2 L174.8 700.5 L173.8 699.9 L172.8 699.3 L171.8 698.8 L170.8 698.5 L169.8 698.3 L168.8 698.1 L167.8 697.9 L166.8 697.8 L165.8 697.8Z" fill="rgba(250,130,130,0.5)" stroke="none"/>
<path d="M181.8 702.7 L182.8 701.9 L183.8 700.4 L184.8 698.3 L185.8 695.8 L186.8 693.1 L187.8 689.8 L188.8 684.9 L189.8 678.5 L190.8 671.3 L191.8 664.3 L192.8 657.9 L193.8 651.9 L194.8 646.0 L195.8 640.2 L196.8 634.6 L197.8 629.4 L198.8 624.5 L199.8 619.6 L200.8 614.5 L201.8 609.5 L202.8 604.9 L203.8 600.9 L204.8 598.1 L205.8 596.6 L206.8 596.4 L207.8 596.8 L208.8 597.5 L209.8 598.2 L210.8 599.0 L210.8 598.0 L209.8 598.3 L208.8 600.2 L207.8 603.6 L206.8 607.3 L205.8 611.3 L204.8 615.2 L203.8 619.2 L202.8 623.4 L201.8 627.8 L200.8 633.0 L199.8 638.6 L198.8 644.2 L197.8 649.8 L196.8 655.5 L195.8 661.3 L194.8 667.3 L193.8 673.3 L192.8 679.3 L191.8 684.9 L190.8 689.7 L189.8 693.4 L188.8 695.5 L187.8 697.1 L186.8 698.9 L185.8 700.6 L184.8 702.1 L183.8 703.0 L182.8 703.0 L181.8 703.0Z" fill="rgba(120,220,120,0.45)" stroke="none"/>
<path d="M210.8 599.0 L211.8 599.7 L212.8 600.1 L213.8 600.4 L214.8 600.6 L215.8 600.8 L216.8 601.1 L217.8 601.4 L218.8 601.8 L219.8 602.3 L220.8 602.9 L221.8 603.5 L222.8 604.0 L223.8 604.5 L224.8 604.9 L225.8 605.3 L226.8 605.5 L227.8 605.8 L228.8 606.0 L229.8 606.3 L230.8 606.5 L231.8 606.8 L232.8 607.1 L233.8 607.5 L234.8 607.8 L235.8 608.2 L236.8 608.7 L237.8 609.3 L238.8 610.2 L239.8 611.8 L240.8 614.3 L241.8 617.5 L242.8 620.9 L243.8 624.2 L244.8 627.1 L245.8 629.6 L246.8 632.1 L247.8 634.7 L248.8 637.3 L249.8 639.8 L250.8 642.3 L251.8 644.6 L252.8 646.8 L253.8 648.8 L254.8 650.6 L255.8 652.0 L256.9 653.2 L257.9 654.0 L258.9 654.5 L259.9 655.0 L260.9 655.3 L261.9 655.6 L262.9 655.9 L263.9 656.2 L264.9 656.7 L265.9 657.2 L266.9 658.2 L267.9 659.9 L268.9 662.3 L269.9 665.2 L270.9 668.4 L271.9 671.8 L272.9 675.1 L273.9 678.2 L274.9 680.8 L275.9 682.7 L276.9 683.9 L277.9 684.1 L278.9 683.7 L279.9 682.8 L280.9 681.5 L280.9 682.0 L279.9 681.5 L278.9 679.5 L277.9 676.7 L276.9 674.3 L275.9 672.0 L274.9 669.6 L273.9 667.2 L272.9 664.9 L271.9 662.6 L270.9 660.4 L269.9 658.5 L268.9 657.4 L267.9 656.7 L266.9 656.2 L265.9 655.8 L264.9 655.3 L263.9 654.9 L262.9 654.3 L261.9 653.7 L260.9 652.7 L259.9 651.3 L258.9 649.3 L257.9 647.1 L256.9 645.0 L255.8 642.9 L254.8 640.8 L253.8 638.7 L252.8 636.6 L251.8 634.5 L250.8 632.3 L249.8 630.2 L248.8 627.9 L247.8 625.6 L246.8 622.9 L245.8 620.1 L244.8 617.4 L243.8 614.8 L242.8 612.3 L241.8 610.4 L240.8 609.5 L239.8 608.8 L238.8 608.3 L237.8 607.9 L236.8 607.4 L235.8 607.0 L234.8 606.7 L233.8 606.4 L232.8 606.1 L231.8 605.9 L230.8 605.6 L229.8 605.3 L228.8 605.0 L227.8 604.6 L226.8 604.2 L225.8 603.7 L224.8 603.2 L223.8 602.7 L222.8 602.2 L221.8 601.7 L220.8 601.3 L219.8 600.9 L218.8 600.7 L217.8 600.4 L216.8 600.1 L215.8 599.8 L214.8 599.3 L213.8 598.8 L212.8 598.3 L211.8 597.9 L210.8 598.0Z" fill="rgba(250,130,130,0.5)" stroke="none"/>
<path d="M280.9 681.5 L281.9 680.0 L282.9 678.4 L283.9 676.7 L284.9 675.2 L285.9 673.9 L286.9 672.6 L287.9 671.3 L288.9 669.8 L289.9 668.0 L290.9 665.9 L291.9 662.4 L292.9 656.7 L293.9 649.4 L294.9 642.2 L295.9 636.8 L296.9 633.5 L297.9 631.2 L298.9 629.3 L299.9 627.7 L300.9 626.2 L301.9 624.7 L302.9 623.1 L303.9 621.4 L304.9 619.5 L305.9 617.8 L306.9 616.4 L307.9 615.4 L308.9 615.1 L309.9 615.7 L310.9 616.9 L311.9 618.6 L311.9 616.3 L310.9 617.1 L309.9 618.4 L308.9 619.8 L307.9 621.2 L306.9 622.7 L305.9 624.2 L304.9 625.9 L303.9 627.8 L302.9 629.6 L301.9 631.7 L300.9 633.9 L299.9 636.7 L298.9 641.0 L297.9 646.3 L296.9 652.0 L295.9 657.6 L294.9 662.7 L293.9 666.5 L292.9 668.3 L291.9 669.7 L290.9 671.2 L289.9 672.8 L288.9 674.3 L287.9 675.8 L286.9 677.0 L285.9 678.2 L284.9 679.4 L283.9 680.5 L282.9 681.6 L281.9 682.3 L280.9 682.0Z" fill="rgba(120,220,120,0.45)" stroke="none"/>
<path d="M311.9 618.6 L312.9 620.5 L313.9 622.2 L314.9 623.5 L315.9 624.5 L316.9 625.4 L317.9 626.2 L318.9 627.0 L319.9 627.6 L320.9 628.2 L321.9 628.6 L322.9 628.8 L323.9 629.0 L324.9 629.2 L325.9 629.3 L326.9 629.4 L327.9 629.5 L328.9 629.6 L329.9 629.7 L330.9 629.8 L331.9 629.9 L332.9 630.0 L333.9 630.2 L334.9 630.3 L335.9 630.5 L336.9 630.6 L337.9 630.8 L338.9 631.0 L339.9 631.2 L340.9 631.5 L341.9 631.8 L342.9 632.1 L343.9 632.5 L344.9 632.9 L345.9 633.4 L346.9 634.1 L347.9 634.9 L348.9 636.1 L349.9 637.8 L350.9 639.9 L351.9 642.3 L352.9 644.9 L353.9 647.7 L354.9 650.5 L355.9 653.3 L356.9 655.9 L357.9 658.4 L358.9 661.0 L359.9 663.8 L360.9 666.8 L361.9 669.9 L362.9 673.1 L363.9 676.2 L364.9 679.3 L365.9 682.2 L366.9 684.9 L367.9 687.4 L368.9 689.5 L369.9 691.1 L370.9 692.4 L371.9 693.0 L372.9 693.2 L373.9 693.2 L374.9 693.2 L375.9 693.2 L376.9 693.2 L377.9 693.2 L378.9 693.2 L379.9 693.2 L380.9 693.2 L381.9 693.2 L381.9 693.2 L380.9 693.2 L379.9 693.2 L378.9 693.1 L377.9 692.9 L376.9 692.6 L375.9 691.9 L374.9 690.3 L373.9 688.1 L372.9 685.8 L371.9 683.3 L370.9 680.9 L369.9 678.5 L368.9 676.2 L367.9 673.8 L366.9 671.4 L365.9 669.0 L364.9 666.6 L363.9 664.3 L362.9 661.9 L361.9 659.5 L360.9 657.1 L359.9 654.8 L358.9 652.5 L357.9 650.2 L356.9 647.9 L355.9 645.6 L354.9 643.4 L353.9 641.1 L352.9 638.9 L351.9 636.9 L350.9 635.2 L349.9 634.0 L348.9 633.5 L347.9 633.1 L346.9 632.7 L345.9 632.3 L344.9 631.9 L343.9 631.5 L342.9 631.2 L341.9 631.0 L340.9 630.8 L339.9 630.6 L338.9 630.5 L337.9 630.3 L336.9 630.1 L335.9 630.0 L334.9 629.9 L333.9 629.7 L332.9 629.6 L331.9 629.5 L330.9 629.3 L329.9 629.2 L328.9 629.1 L327.9 628.9 L326.9 628.7 L325.9 628.4 L324.9 627.9 L323.9 627.3 L322.9 626.6 L321.9 625.9 L320.9 625.2 L319.9 624.5 L318.9 623.7 L317.9 622.7 L316.9 621.5 L315.9 620.1 L314.9 618.8 L313.9 617.7 L312.9 616.8 L311.9 616.3Z" fill="rgba(250,130,130,0.5)" stroke="none"/>
<path d="M381.9 693.2 L382.9 693.2 L383.9 693.1 L384.9 693.0 L385.9 692.5 L386.9 691.3 L387.9 689.5 L388.9 687.4 L389.9 685.1 L390.9 682.9 L391.9 681.0 L392.9 679.6 L393.9 678.6 L394.9 677.7 L395.9 676.9 L396.9 676.2 L397.9 675.3 L398.9 674.1 L399.9 672.6 L400.9 669.4 L401.9 663.9 L402.9 657.1 L403.9 650.6 L404.9 645.8 L405.9 642.7 L406.9 640.4 L407.9 638.4 L408.9 636.7 L409.9 635.0 L410.9 633.2 L411.9 631.3 L412.9 629.1 L413.9 626.8 L414.9 624.6 L415.9 622.8 L416.9 621.4 L417.9 620.9 L418.9 621.6 L419.9 623.8 L419.9 623.7 L418.9 625.1 L417.9 627.2 L416.9 628.9 L415.9 630.7 L414.9 632.5 L413.9 634.4 L412.9 636.4 L411.9 638.5 L410.9 640.6 L409.9 643.0 L408.9 645.7 L407.9 649.0 L406.9 653.9 L405.9 659.3 L404.9 664.5 L403.9 669.0 L402.9 672.1 L401.9 674.2 L400.9 675.3 L399.9 676.2 L398.9 677.2 L397.9 678.3 L396.9 679.4 L395.9 680.6 L394.9 682.1 L393.9 683.7 L392.9 685.4 L391.9 687.2 L390.9 688.8 L389.9 690.4 L388.9 691.9 L387.9 692.8 L386.9 693.0 L385.9 693.1 L384.9 693.2 L383.9 693.2 L382.9 693.2 L381.9 693.2Z" fill="rgba(120,220,120,0.45)" stroke="none"/>
<path d="M419.9 623.8 L420.9 626.8 L421.9 630.1 L422.9 633.0 L423.9 635.0 L424.9 636.3 L425.9 637.3 L426.9 638.1 L427.9 638.9 L428.9 639.9 L429.9 641.1 L430.9 642.9 L431.9 645.3 L432.9 648.3 L433.9 651.4 L434.9 654.4 L435.9 657.0 L436.9 659.0 L437.9 660.3 L438.9 661.2 L439.9 662.1 L440.9 662.8 L441.9 663.3 L442.9 663.6 L443.9 663.7 L444.9 663.4 L445.9 662.8 L445.9 662.9 L444.9 662.4 L443.9 661.6 L442.9 660.9 L441.9 660.0 L440.9 658.7 L439.9 657.1 L438.9 654.8 L437.9 652.1 L436.9 649.6 L435.9 647.2 L434.9 644.8 L433.9 642.6 L432.9 641.0 L431.9 639.6 L430.9 638.5 L429.9 637.5 L428.9 636.4 L427.9 635.1 L426.9 633.5 L425.9 631.6 L424.9 629.2 L423.9 626.9 L422.9 624.5 L421.9 623.2 L420.9 623.3 L419.9 623.7Z" fill="rgba(250,130,130,0.5)" stroke="none"/>
<path d="M445.9 662.8 L446.9 661.8 L447.9 660.6 L448.9 659.2 L449.9 657.7 L450.9 655.6 L451.9 652.6 L452.9 648.9 L453.9 644.8 L454.9 640.6 L455.9 636.5 L456.9 632.8 L457.9 629.1 L458.9 625.3 L459.9 621.5 L460.9 617.9 L461.9 614.6 L462.9 611.4 L463.9 608.2 L464.9 605.0 L465.9 601.9 L466.9 599.3 L467.9 597.4 L468.9 596.2 L469.9 595.5 L470.9 595.0 L471.9 594.5 L472.9 594.1 L473.9 593.9 L474.9 593.8 L475.9 593.8 L476.9 594.0 L477.9 594.4 L477.9 594.1 L476.9 594.4 L475.9 594.9 L474.9 595.4 L473.9 596.0 L472.9 596.8 L471.9 597.9 L470.9 600.0 L469.9 602.6 L468.9 605.2 L467.9 607.9 L466.9 610.6 L465.9 613.5 L464.9 616.8 L463.9 620.3 L462.9 623.9 L461.9 627.5 L460.9 631.1 L459.9 634.7 L458.9 638.3 L457.9 641.9 L456.9 645.4 L455.9 648.9 L454.9 652.3 L453.9 655.3 L452.9 657.5 L451.9 659.1 L450.9 660.2 L449.9 661.0 L448.9 662.0 L447.9 662.6 L446.9 662.8 L445.9 662.9Z" fill="rgba(120,220,120,0.45)" stroke="none"/>
<path d="M477.9 594.4 L478.9 594.8 L479.9 595.4 L480.9 596.0 L481.9 597.0 L482.9 599.0 L483.9 601.7 L484.9 604.9 L485.9 608.1 L486.9 610.9 L487.9 613.2 L488.9 615.0 L489.9 616.6 L490.9 618.1 L491.9 619.6 L492.9 621.2 L493.9 622.8 L494.9 624.7 L495.9 626.9 L496.9 629.3 L497.9 631.9 L498.9 634.7 L499.9 637.5 L500.9 640.4 L501.9 643.2 L502.9 646.0 L503.9 649.0 L504.9 652.1 L505.9 655.2 L506.9 658.1 L507.9 660.6 L508.9 662.6 L509.9 664.4 L510.9 665.9 L511.9 667.2 L512.9 668.2 L513.9 668.8 L514.9 669.1 L515.9 669.4 L516.9 669.6 L517.9 669.8 L518.9 669.9 L519.9 669.9 L520.9 668.8 L520.9 669.5 L519.9 669.2 L518.9 668.9 L517.9 668.5 L516.9 667.8 L515.9 666.9 L514.9 665.7 L513.9 664.2 L512.9 662.7 L511.9 660.9 L510.9 658.5 L509.9 655.7 L508.9 653.0 L507.9 650.1 L506.9 647.4 L505.9 644.6 L504.9 641.9 L503.9 639.2 L502.9 636.6 L501.9 633.9 L500.9 631.3 L499.9 628.7 L498.9 626.3 L497.9 624.0 L496.9 622.2 L495.9 620.5 L494.9 618.9 L493.9 617.2 L492.9 615.4 L491.9 613.6 L490.9 611.7 L489.9 609.5 L488.9 607.0 L487.9 604.4 L486.9 601.8 L485.9 599.5 L484.9 597.3 L483.9 595.9 L482.9 595.4 L481.9 595.1 L480.9 594.7 L479.9 594.4 L478.9 594.2 L477.9 594.1Z" fill="rgba(250,130,130,0.5)" stroke="none"/>
<path d="M520.9 668.8 L521.9 665.9 L522.9 661.8 L523.9 657.2 L524.9 653.2 L525.9 649.6 L526.9 646.2 L527.9 642.9 L528.9 639.5 L529.9 636.2 L530.9 632.9 L531.9 629.6 L532.9 626.3 L533.9 622.6 L534.9 618.8 L535.9 615.0 L536.9 611.7 L537.9 609.1 L538.9 607.5 L539.9 606.3 L540.9 605.4 L541.9 604.5 L542.9 603.7 L543.9 603.2 L544.9 602.7 L545.9 602.5 L546.9 602.8 L547.9 603.6 L548.9 605.0 L548.9 603.7 L547.9 603.8 L546.9 604.4 L545.9 605.2 L544.9 606.0 L543.9 606.8 L542.9 608.0 L541.9 609.5 L540.9 612.1 L539.9 615.2 L538.9 618.4 L537.9 621.7 L536.9 624.9 L535.9 628.1 L534.9 631.4 L533.9 634.7 L532.9 638.1 L531.9 641.4 L530.9 644.7 L529.9 648.1 L528.9 651.4 L527.9 654.8 L526.9 658.2 L525.9 661.5 L524.9 664.9 L523.9 667.4 L522.9 668.9 L521.9 669.6 L520.9 669.5Z" fill="rgba(120,220,120,0.45)" stroke="none"/>
<path d="M548.9 605.0 L549.9 606.9 L550.9 609.0 L551.9 611.1 L552.9 613.2 L553.9 615.4 L554.9 617.9 L555.9 620.5 L556.9 623.2 L557.9 626.1 L558.9 629.0 L559.9 632.1 L560.9 635.4 L561.9 639.1 L562.9 643.0 L563.9 646.6 L564.9 649.5 L565.9 652.1 L566.9 654.4 L567.9 656.7 L568.9 658.6 L569.9 660.1 L570.9 661.0 L571.9 661.4 L572.9 661.6 L573.9 661.7 L574.9 661.9 L575.9 661.9 L576.9 662.0 L577.9 661.9 L578.9 661.3 L578.9 661.7 L577.9 661.5 L576.9 661.3 L575.9 661.0 L574.9 660.5 L573.9 659.6 L572.9 658.0 L571.9 655.9 L570.9 654.1 L569.9 652.1 L568.9 649.9 L567.9 647.5 L566.9 644.2 L565.9 640.7 L564.9 637.3 L563.9 634.0 L562.9 630.9 L561.9 628.1 L560.9 625.4 L559.9 622.7 L558.9 620.1 L557.9 617.5 L556.9 615.0 L555.9 612.7 L554.9 610.8 L553.9 609.1 L552.9 607.5 L551.9 606.1 L550.9 604.5 L549.9 603.6 L548.9 603.7Z" fill="rgba(250,130,130,0.5)" stroke="none"/>
<path d="M578.9 661.3 L579.9 660.2 L580.9 658.7 L581.9 656.7 L582.9 654.6 L583.9 652.0 L584.9 648.1 L585.9 642.3 L586.9 635.7 L587.9 629.2 L588.9 623.8 L589.9 620.6 L590.9 618.9 L591.9 617.7 L592.9 616.7 L593.9 615.9 L594.9 615.3 L595.9 615.1 L596.9 615.2 L597.9 615.8 L598.9 616.9 L598.9 616.2 L597.9 616.6 L596.9 617.4 L595.9 618.5 L594.9 619.7 L593.9 621.4 L592.9 624.5 L591.9 628.6 L590.9 633.5 L589.9 638.8 L588.9 643.8 L587.9 648.3 L586.9 651.9 L585.9 654.6 L584.9 656.3 L583.9 657.6 L582.9 659.1 L581.9 660.3 L580.9 661.3 L579.9 661.8 L578.9 661.7Z" fill="rgba(120,220,120,0.45)" stroke="none"/>
<path d="M598.9 616.9 L599.9 618.3 L600.9 619.9 L601.9 621.5 L602.9 623.1 L603.9 624.8 L604.9 626.7 L605.9 628.8 L606.9 630.9 L607.9 633.1 L608.9 635.2 L609.9 637.2 L610.9 639.3 L611.9 641.6 L612.9 644.0 L613.9 646.4 L614.9 648.4 L615.9 650.0 L616.9 651.0 L617.9 651.1 L618.9 650.5 L619.9 649.5 L620.9 648.5 L620.9 649.7 L619.9 649.1 L618.9 647.6 L617.9 645.4 L616.9 643.6 L615.9 641.8 L614.9 639.9 L613.9 638.0 L612.9 636.1 L611.9 634.2 L610.9 632.2 L609.9 630.2 L608.9 628.2 L607.9 626.3 L606.9 624.4 L605.9 622.6 L604.9 621.2 L603.9 619.9 L602.9 618.8 L601.9 617.7 L600.9 616.6 L599.9 616.0 L598.9 616.2Z" fill="rgba(250,130,130,0.5)" stroke="none"/>
<path d="M620.9 648.5 L621.9 647.8 L622.9 647.5 L623.9 647.6 L624.9 647.7 L625.9 647.9 L626.9 648.0 L626.9 647.8 L625.9 647.9 L624.9 648.4 L623.9 649.0 L622.9 649.6 L621.9 649.9 L620.9 649.7Z" fill="rgba(120,220,120,0.45)" stroke="none"/>
<path d="M626.9 648.0 L627.9 647.9 L628.9 647.4 L628.9 647.8 L627.9 647.8 L626.9 647.8Z" fill="rgba(250,130,130,0.5)" stroke="none"/>
<path d="M628.9 647.4 L629.9 646.4 L630.9 645.1 L631.9 643.5 L632.9 641.6 L633.9 639.7 L634.9 637.8 L635.9 635.6 L636.9 632.9 L637.9 629.9 L638.9 626.7 L639.9 623.7 L640.9 621.0 L641.9 618.6 L642.9 616.3 L643.9 614.0 L644.9 611.9 L645.9 610.3 L646.9 609.2 L647.9 608.7 L648.9 608.5 L649.9 608.3 L650.9 608.2 L651.9 608.1 L652.9 608.0 L653.9 608.0 L654.9 608.3 L654.9 608.3 L653.9 608.5 L652.9 608.8 L651.9 609.1 L650.9 609.8 L649.9 610.9 L648.9 612.5 L647.9 614.5 L646.9 616.3 L645.9 618.3 L644.9 620.3 L643.9 622.6 L642.9 625.3 L641.9 628.1 L640.9 630.9 L639.9 633.5 L638.9 636.1 L637.9 638.3 L636.9 639.8 L635.9 641.2 L634.9 642.6 L633.9 643.9 L632.9 645.3 L631.9 646.4 L630.9 647.4 L629.9 647.9 L628.9 647.8Z" fill="rgba(120,220,120,0.45)" stroke="none"/>
<path d="M654.9 608.3 L655.9 609.1 L656.9 610.1 L657.9 611.5 L658.9 613.1 L659.9 614.8 L660.9 617.2 L661.9 620.6 L662.9 624.8 L663.9 629.5 L664.9 634.3 L665.9 639.4 L666.9 645.1 L667.9 651.2 L668.9 657.3 L669.9 663.1 L670.9 668.1 L671.9 672.6 L672.9 676.9 L673.9 681.2 L674.9 685.4 L675.9 689.3 L676.9 692.8 L677.9 695.6 L678.9 697.5 L679.9 698.6 L680.9 699.0 L681.9 699.3 L682.9 699.5 L683.9 699.7 L684.9 699.8 L685.9 699.9 L686.9 700.0 L687.9 699.9 L688.9 699.7 L689.9 699.2 L689.9 699.8 L688.9 699.7 L687.9 699.4 L686.9 699.2 L685.9 698.9 L684.9 698.4 L683.9 697.6 L682.9 695.8 L681.9 693.3 L680.9 690.1 L679.9 686.7 L678.9 683.4 L677.9 680.0 L676.9 676.6 L675.9 673.1 L674.9 669.2 L673.9 664.9 L672.9 659.5 L671.9 653.7 L670.9 648.2 L669.9 642.8 L668.9 637.5 L667.9 632.6 L666.9 628.4 L665.9 624.6 L664.9 620.7 L663.9 617.4 L662.9 615.0 L661.9 613.2 L660.9 612.0 L659.9 611.0 L658.9 609.9 L657.9 609.1 L656.9 608.5 L655.9 608.2 L654.9 608.3Z" fill="rgba(250,130,130,0.5)" stroke="none"/>
<path d="M689.9 699.2 L690.9 698.6 L691.9 697.9 L692.9 697.2 L693.9 696.3 L694.9 695.2 L695.9 694.1 L696.9 693.5 L697.9 693.3 L698.9 693.6 L699.9 694.2 L699.9 694.2 L698.9 694.9 L697.9 695.9 L696.9 696.7 L695.9 697.4 L694.9 698.0 L693.9 698.5 L692.9 699.0 L691.9 699.4 L690.9 699.7 L689.9 699.8Z" fill="rgba(120,220,120,0.45)" stroke="none"/>
<path d="M699.9 694.2 L700.9 695.0 L701.9 695.9 L702.9 696.8 L703.9 697.6 L704.9 698.4 L705.9 699.3 L706.9 700.2 L707.9 701.1 L708.9 702.0 L709.9 702.7 L710.9 703.3 L711.9 703.6 L712.9 703.7 L713.9 703.4 L714.9 702.7 L714.9 702.8 L713.9 702.2 L712.9 701.5 L711.9 700.8 L710.9 700.1 L709.9 699.3 L708.9 698.6 L707.9 697.9 L706.9 697.2 L705.9 696.6 L704.9 695.9 L703.9 695.3 L702.9 694.6 L701.9 694.2 L700.9 694.2 L699.9 694.2Z" fill="rgba(250,130,130,0.5)" stroke="none"/>
<path d="M714.9 702.7 L715.9 701.8 L716.9 700.8 L717.9 699.4 L718.9 697.5 L719.9 694.8 L720.9 691.6 L721.9 688.1 L722.9 684.6 L723.9 681.1 L724.9 678.0 L725.9 675.0 L726.9 672.1 L727.9 669.1 L728.9 666.1 L729.9 663.4 L730.9 660.9 L731.9 658.7 L732.9 657.0 L733.9 655.6 L734.9 654.5 L735.9 653.5 L736.9 652.5 L737.9 651.3 L738.9 649.8 L739.9 647.7 L740.9 645.2 L741.9 642.3 L742.9 639.1 L743.9 636.0 L744.9 633.0 L745.9 629.9 L746.9 626.6 L747.9 623.2 L748.9 619.8 L749.9 616.6 L750.9 613.7 L751.9 611.3 L752.9 609.4 L753.9 607.8 L754.9 606.3 L755.9 605.2 L756.9 604.5 L757.9 604.3 L758.9 604.6 L759.9 605.2 L760.9 605.9 L760.9 605.4 L759.9 605.7 L758.9 606.6 L757.9 608.1 L756.9 609.5 L755.9 611.2 L754.9 613.7 L753.9 616.5 L752.9 619.5 L751.9 622.5 L750.9 625.5 L749.9 628.5 L748.9 631.4 L747.9 634.3 L746.9 637.2 L745.9 639.9 L744.9 642.7 L743.9 645.3 L742.9 647.9 L741.9 650.1 L740.9 651.6 L739.9 652.9 L738.9 654.2 L737.9 655.5 L736.9 656.9 L735.9 658.5 L734.9 660.7 L733.9 663.3 L732.9 665.9 L731.9 668.6 L730.9 671.3 L729.9 674.0 L728.9 676.7 L727.9 679.5 L726.9 682.5 L725.9 685.5 L724.9 688.4 L723.9 691.4 L722.9 694.3 L721.9 696.9 L720.9 699.2 L719.9 700.8 L718.9 701.6 L717.9 702.2 L716.9 702.8 L715.9 703.1 L714.9 702.8Z" fill="rgba(120,220,120,0.45)" stroke="none"/>
<path d="M760.9 605.9 L761.9 606.9 L762.9 608.0 L763.9 609.5 L764.9 611.6 L765.9 614.0 L766.9 616.6 L767.9 619.4 L768.9 622.1 L769.9 624.6 L770.9 627.3 L771.9 630.3 L772.9 633.5 L773.9 636.3 L774.9 638.5 L775.9 639.7 L776.9 640.0 L777.9 639.9 L778.9 639.7 L779.9 639.5 L780.9 639.3 L781.9 639.0 L781.9 639.3 L780.9 639.2 L779.9 638.8 L778.9 637.5 L777.9 635.4 L776.9 633.1 L775.9 630.6 L774.9 628.2 L773.9 625.8 L772.9 623.5 L771.9 621.1 L770.9 618.8 L769.9 616.5 L768.9 614.2 L767.9 612.0 L766.9 609.8 L765.9 608.1 L764.9 607.0 L763.9 606.2 L762.9 605.6 L761.9 605.3 L760.9 605.4Z" fill="rgba(250,130,130,0.5)" stroke="none"/>
<path d="M781.9 639.0 L782.9 638.5 L783.9 637.6 L784.9 636.2 L785.9 634.4 L786.9 632.5 L787.9 630.5 L788.9 628.0 L789.9 625.0 L790.9 621.8 L791.9 618.7 L792.9 616.0 L793.9 613.9 L794.9 612.7 L795.9 612.2 L796.9 612.0 L797.9 611.8 L798.9 611.6 L799.9 611.3 L800.9 610.5 L801.9 609.1 L802.9 607.2 L803.9 605.2 L804.9 603.3 L805.9 601.8 L806.9 600.6 L807.9 599.7 L808.9 598.7 L809.9 597.9 L810.9 597.1 L811.9 596.5 L812.9 596.0 L813.9 595.7 L814.9 595.5 L815.9 595.4 L816.9 595.2 L817.9 595.0 L818.9 594.9 L819.9 594.8 L820.9 594.6 L821.9 594.5 L822.9 594.5 L823.9 594.4 L824.9 594.3 L825.9 594.3 L826.9 594.3 L827.9 594.3 L828.9 594.3 L829.9 594.4 L830.9 594.5 L830.9 594.4 L829.9 594.4 L828.9 594.5 L827.9 594.6 L826.9 594.7 L825.9 594.8 L824.9 594.9 L823.9 595.0 L822.9 595.1 L821.9 595.3 L820.9 595.4 L819.9 595.5 L818.9 595.7 L817.9 595.9 L816.9 596.3 L815.9 596.8 L814.9 597.5 L813.9 598.3 L812.9 599.0 L811.9 599.8 L810.9 600.6 L809.9 601.6 L808.9 602.8 L807.9 604.3 L806.9 605.8 L805.9 607.4 L804.9 608.9 L803.9 610.2 L802.9 611.1 L801.9 611.8 L800.9 612.2 L799.9 612.6 L798.9 613.3 L797.9 614.5 L796.9 616.5 L795.9 619.2 L794.9 621.6 L793.9 624.1 L792.9 626.6 L791.9 628.9 L790.9 631.1 L789.9 633.0 L788.9 634.5 L787.9 635.8 L786.9 637.2 L785.9 638.3 L784.9 638.8 L783.9 639.1 L782.9 639.3 L781.9 639.3Z" fill="rgba(120,220,120,0.45)" stroke="none"/>
<path d="M830.9 594.5 L831.9 594.6 L832.9 594.8 L833.9 595.0 L834.9 595.5 L835.9 596.2 L836.9 597.2 L837.9 598.3 L838.9 599.5 L839.9 600.8 L840.9 602.0 L841.9 603.3 L842.9 604.7 L843.9 606.2 L844.9 607.7 L845.9 609.2 L846.9 610.5 L847.9 611.6 L848.9 612.7 L849.9 613.8 L850.9 614.7 L851.9 615.5 L852.9 616.0 L853.9 616.2 L854.9 616.2 L855.9 616.2 L856.9 616.2 L857.9 616.2 L858.9 616.2 L859.9 616.3 L860.9 616.3 L861.9 616.5 L862.9 616.7 L863.9 617.0 L864.9 617.5 L865.9 618.2 L866.9 619.6 L867.9 621.4 L868.9 623.7 L869.9 626.1 L870.9 628.6 L871.9 631.0 L872.9 633.3 L873.9 635.6 L874.9 638.0 L875.9 640.5 L876.9 643.0 L877.9 645.4 L878.9 647.6 L879.9 649.7 L880.9 651.5 L881.9 653.0 L882.9 654.5 L883.9 655.9 L884.9 657.5 L885.9 659.2 L886.9 661.3 L887.9 663.8 L888.9 666.5 L889.9 669.5 L890.9 672.6 L891.9 675.7 L892.9 678.8 L893.9 681.8 L894.9 684.6 L895.9 687.4 L896.9 690.5 L897.9 693.7 L898.9 696.9 L899.9 699.8 L900.9 702.4 L901.9 704.4 L902.9 705.7 L903.9 706.1 L904.9 705.7 L905.9 704.7 L906.9 703.4 L906.9 704.0 L905.9 702.8 L904.9 700.6 L903.9 697.9 L902.9 695.5 L901.9 693.1 L900.9 690.6 L899.9 688.2 L898.9 685.6 L897.9 683.0 L896.9 680.2 L895.9 677.4 L894.9 674.5 L893.9 671.7 L892.9 668.9 L891.9 666.1 L890.9 663.3 L889.9 660.8 L888.9 658.7 L887.9 656.9 L886.9 655.3 L885.9 653.7 L884.9 652.0 L883.9 650.2 L882.9 648.3 L881.9 646.1 L880.9 643.8 L879.9 641.4 L878.9 639.1 L877.9 636.8 L876.9 634.5 L875.9 632.3 L874.9 630.2 L873.9 628.2 L872.9 626.2 L871.9 624.2 L870.9 622.3 L869.9 620.5 L868.9 618.8 L867.9 617.6 L866.9 617.1 L865.9 616.9 L864.9 616.6 L863.9 616.4 L862.9 616.3 L861.9 616.2 L860.9 616.2 L859.9 616.2 L858.9 616.1 L857.9 616.0 L856.9 615.6 L855.9 615.1 L854.9 614.4 L853.9 613.5 L852.9 612.6 L851.9 611.8 L850.9 610.7 L849.9 609.6 L848.9 608.3 L847.9 606.8 L846.9 605.4 L845.9 604.1 L844.9 602.8 L843.9 601.6 L842.9 600.6 L841.9 599.6 L840.9 598.6 L839.9 597.6 L838.9 596.7 L837.9 595.9 L836.9 595.2 L835.9 594.8 L834.9 594.7 L833.9 594.6 L832.9 594.5 L831.9 594.4 L830.9 594.4Z" fill="rgba(250,130,130,0.5)" stroke="none"/>
<path d="M906.9 703.4 L907.9 702.1 L908.9 701.1 L909.9 700.6 L910.9 700.6 L911.9 700.8 L912.9 701.0 L913.9 701.3 L913.9 701.0 L912.9 701.3 L911.9 702.0 L910.9 702.8 L909.9 703.6 L908.9 704.3 L907.9 704.6 L906.9 704.0Z" fill="rgba(120,220,120,0.45)" stroke="none"/>
<path d="M913.9 701.3 L914.9 701.6 L915.9 701.7 L916.9 701.6 L917.9 701.3 L917.9 701.4 L916.9 701.2 L915.9 701.1 L914.9 701.0 L913.9 701.0Z" fill="rgba(250,130,130,0.5)" stroke="none"/>
<path d="M917.9 701.3 L918.9 700.8 L919.9 700.2 L920.9 699.5 L921.9 699.0 L922.9 698.7 L923.9 698.5 L924.9 698.3 L925.9 698.1 L926.9 698.0 L927.9 697.8 L928.9 697.4 L929.9 696.9 L930.9 696.1 L931.9 695.1 L932.9 693.7 L933.9 692.1 L934.9 690.2 L935.9 687.0 L936.9 681.6 L937.9 674.7 L938.9 667.0 L939.9 659.4 L940.9 652.5 L941.9 646.7 L942.9 641.3 L943.9 636.1 L944.9 631.1 L945.9 626.5 L946.9 622.4 L947.9 618.8 L948.9 615.1 L949.9 611.5 L950.9 608.1 L951.9 605.2 L952.9 603.0 L953.9 601.7 L954.9 601.4 L955.9 601.9 L956.9 603.0 L957.9 604.6 L957.9 603.3 L956.9 604.7 L955.9 607.1 L954.9 609.7 L953.9 612.6 L952.9 615.3 L951.9 618.4 L950.9 621.8 L949.9 625.6 L948.9 630.3 L947.9 635.3 L946.9 640.2 L945.9 645.1 L944.9 650.3 L943.9 655.8 L942.9 662.1 L941.9 668.5 L940.9 674.7 L939.9 680.5 L938.9 686.1 L937.9 690.1 L936.9 691.9 L935.9 693.2 L934.9 694.4 L933.9 695.4 L932.9 696.5 L931.9 697.3 L930.9 697.7 L929.9 698.0 L928.9 698.2 L927.9 698.4 L926.9 698.7 L925.9 698.9 L924.9 699.3 L923.9 699.8 L922.9 700.2 L921.9 700.7 L920.9 701.2 L919.9 701.4 L918.9 701.4 L917.9 701.4Z" fill="rgba(120,220,120,0.45)" stroke="none"/>
<path d="M957.9 604.6 L958.9 606.4 L959.9 608.4 L960.9 610.4 L961.9 612.6 L962.9 615.1 L963.9 618.0 L964.9 621.2 L965.9 624.5 L966.9 627.8 L967.9 631.2 L968.9 634.9 L969.9 638.7 L970.9 642.7 L971.9 646.4 L972.9 649.8 L973.9 652.7 L974.9 655.0 L975.9 657.0 L976.9 658.7 L977.9 660.5 L978.9 662.4 L979.9 664.7 L980.9 667.6 L981.9 671.2 L982.9 675.2 L983.9 679.1 L984.9 682.7 L985.9 685.3 L986.9 687.2 L987.9 688.8 L988.9 690.2 L989.9 691.4 L990.9 692.3 L991.9 692.8 L992.9 693.0 L993.9 692.7 L994.9 692.3 L995.9 691.7 L995.9 692.1 L994.9 691.6 L993.9 690.6 L992.9 689.5 L991.9 688.3 L990.9 686.9 L989.9 685.3 L988.9 682.8 L987.9 679.7 L986.9 676.5 L985.9 673.0 L984.9 669.7 L983.9 666.7 L982.9 664.0 L981.9 661.6 L980.9 659.6 L979.9 657.5 L978.9 655.4 L977.9 653.1 L976.9 650.4 L975.9 647.4 L974.9 643.9 L973.9 640.2 L972.9 636.7 L971.9 633.2 L970.9 629.8 L969.9 626.5 L968.9 623.5 L967.9 620.6 L966.9 617.6 L965.9 614.8 L964.9 612.2 L963.9 609.9 L962.9 608.4 L961.9 607.0 L960.9 605.6 L959.9 604.5 L958.9 603.7 L957.9 603.3Z" fill="rgba(250,130,130,0.5)" stroke="none"/>
<path d="M995.9 691.7 L996.9 690.9 L997.9 689.9 L998.9 688.8 L999.9 687.6 L1000.9 685.1 L1001.9 680.7 L1002.9 675.6 L1003.9 671.3 L1004.9 669.2 L1005.9 668.8 L1006.9 668.8 L1007.9 668.8 L1008.9 668.8 L1009.9 668.8 L1010.9 668.8 L1011.9 668.8 L1012.9 668.7 L1013.9 668.6 L1014.9 668.4 L1015.9 668.2 L1016.9 668.1 L1017.9 668.1 L1018.9 668.5 L1018.9 668.3 L1017.9 668.5 L1016.9 668.6 L1015.9 668.7 L1014.9 668.7 L1013.9 668.8 L1012.9 668.8 L1011.9 668.9 L1010.9 669.1 L1009.9 669.4 L1008.9 670.2 L1007.9 671.7 L1006.9 674.7 L1005.9 678.5 L1004.9 682.1 L1003.9 685.1 L1002.9 687.2 L1001.9 688.7 L1000.9 689.5 L999.9 690.1 L998.9 690.8 L997.9 691.4 L996.9 691.9 L995.9 692.1Z" fill="rgba(120,220,120,0.45)" stroke="none"/>
<path d="M1018.9 668.5 L1019.9 669.4 L1020.9 670.5 L1021.9 672.0 L1022.9 673.5 L1023.9 675.5 L1024.8 678.7 L1025.8 681.6 L1026.8 682.3 L1027.8 681.9 L1028.8 681.2 L1029.8 680.5 L1029.8 681.1 L1028.8 679.7 L1027.8 677.4 L1026.8 675.3 L1025.8 673.4 L1024.8 672.2 L1023.9 671.2 L1022.9 670.2 L1021.9 669.3 L1020.9 668.5 L1019.9 668.2 L1018.9 668.3Z" fill="rgba(250,130,130,0.5)" stroke="none"/>
<path d="M1029.8 680.5 L1030.8 680.1 L1031.8 680.1 L1032.8 680.2 L1033.8 680.5 L1033.8 680.4 L1032.8 680.8 L1031.8 681.1 L1030.8 681.1 L1029.8 681.1Z" fill="rgba(120,220,120,0.45)" stroke="none"/>
<path d="M1033.8 680.5 L1034.8 680.8 L1035.8 681.0 L1036.8 681.2 L1037.8 681.2 L1038.8 680.9 L1039.8 680.4 L1039.8 681.0 L1038.8 680.9 L1037.8 680.6 L1036.8 680.5 L1035.8 680.3 L1034.8 680.4 L1033.8 680.4Z" fill="rgba(250,130,130,0.5)" stroke="none"/>
<path d="M1039.8 680.4 L1040.8 679.7 L1041.8 679.1 L1042.8 678.4 L1043.8 678.0 L1044.8 677.7 L1045.8 677.4 L1046.8 677.2 L1047.8 677.0 L1048.8 676.7 L1049.8 676.3 L1050.8 675.5 L1051.8 674.4 L1052.8 672.9 L1053.8 671.4 L1054.8 670.2 L1055.8 669.2 L1056.8 668.2 L1057.8 667.3 L1058.8 666.6 L1059.8 666.3 L1060.8 666.3 L1061.8 666.5 L1062.8 666.7 L1063.8 666.7 L1063.8 666.6 L1062.8 666.9 L1061.8 667.5 L1060.8 668.2 L1059.8 669.1 L1058.8 669.9 L1057.8 670.9 L1056.8 672.0 L1055.8 673.3 L1054.8 674.4 L1053.8 675.5 L1052.8 676.2 L1051.8 676.7 L1050.8 677.0 L1049.8 677.3 L1048.8 677.6 L1047.8 677.9 L1046.8 678.3 L1045.8 678.7 L1044.8 679.2 L1043.8 679.7 L1042.8 680.2 L1041.8 680.6 L1040.8 680.9 L1039.8 681.0Z" fill="rgba(120,220,120,0.45)" stroke="none"/>
<path d="M1063.8 666.7 L1064.8 666.4 L1064.8 666.6 L1063.8 666.6Z" fill="rgba(250,130,130,0.5)" stroke="none"/>
<path d="M1064.8 666.4 L1065.8 665.7 L1066.8 664.6 L1067.8 663.3 L1068.8 661.8 L1069.8 660.2 L1070.8 658.4 L1071.8 656.1 L1072.8 653.4 L1073.8 650.4 L1074.8 647.2 L1075.8 643.8 L1076.8 640.1 L1077.8 635.6 L1078.8 630.6 L1079.8 625.6 L1080.8 621.1 L1081.8 617.8 L1082.8 615.8 L1083.8 614.3 L1084.8 613.1 L1085.8 611.9 L1086.8 611.0 L1087.8 610.2 L1088.8 609.7 L1089.8 609.5 L1090.8 609.6 L1091.8 609.8 L1092.8 610.2 L1093.8 610.8 L1093.8 610.2 L1092.8 610.5 L1091.8 611.0 L1090.8 611.9 L1089.8 612.9 L1088.8 613.9 L1087.8 615.0 L1086.8 616.4 L1085.8 618.2 L1084.8 621.4 L1083.8 625.3 L1082.8 629.4 L1081.8 633.6 L1080.8 637.7 L1079.8 641.5 L1078.8 644.8 L1077.8 647.8 L1076.8 650.7 L1075.8 653.3 L1074.8 656.0 L1073.8 658.4 L1072.8 660.3 L1071.8 661.8 L1070.8 662.9 L1069.8 663.9 L1068.8 664.9 L1067.8 665.7 L1066.8 666.3 L1065.8 666.6 L1064.8 666.6Z" fill="rgba(120,220,120,0.45)" stroke="none"/>
<path d="M1093.8 610.8 L1094.8 611.4 L1095.8 612.2 L1096.8 613.6 L1097.8 616.3 L1098.8 619.8 L1099.8 623.2 L1100.8 625.5 L1101.8 626.7 L1102.8 627.3 L1103.8 627.9 L1104.8 628.4 L1105.8 628.8 L1106.8 629.2 L1107.8 629.5 L1108.8 629.8 L1109.8 630.0 L1110.8 630.1 L1111.8 630.2 L1112.8 630.3 L1113.8 630.4 L1114.8 630.5 L1115.8 630.5 L1116.8 630.6 L1117.8 630.7 L1118.8 630.8 L1119.8 630.9 L1120.8 631.0 L1121.8 631.1 L1122.8 631.7 L1123.8 633.8 L1124.8 637.5 L1125.8 642.1 L1126.8 647.0 L1127.8 651.7 L1128.8 656.6 L1129.8 662.1 L1130.8 667.7 L1131.8 673.2 L1132.8 678.4 L1133.8 682.9 L1134.8 687.3 L1135.8 691.9 L1136.8 696.2 L1137.8 699.8 L1138.8 702.4 L1139.8 703.5 L1140.8 703.5 L1141.8 702.9 L1142.8 702.1 L1143.8 701.2 L1143.8 702.0 L1142.8 700.7 L1141.8 698.0 L1140.8 694.8 L1139.8 691.1 L1138.8 687.6 L1137.8 683.9 L1136.8 679.7 L1135.8 675.1 L1134.8 670.1 L1133.8 664.8 L1132.8 659.7 L1131.8 654.7 L1130.8 650.0 L1129.8 645.7 L1128.8 642.0 L1127.8 638.6 L1126.8 635.1 L1125.8 632.7 L1124.8 631.6 L1123.8 631.0 L1122.8 630.9 L1121.8 630.8 L1120.8 630.7 L1119.8 630.6 L1118.8 630.5 L1117.8 630.4 L1116.8 630.3 L1115.8 630.2 L1114.8 630.1 L1113.8 629.9 L1112.8 629.6 L1111.8 629.3 L1110.8 628.9 L1109.8 628.4 L1108.8 628.0 L1107.8 627.5 L1106.8 626.9 L1105.8 626.2 L1104.8 625.2 L1103.8 623.8 L1102.8 621.3 L1101.8 618.5 L1100.8 615.8 L1099.8 613.7 L1098.8 612.5 L1097.8 611.6 L1096.8 611.1 L1095.8 610.7 L1094.8 610.4 L1093.8 610.2Z" fill="rgba(250,130,130,0.5)" stroke="none"/>
<path d="M1143.8 701.2 L1144.8 700.5 L1145.8 700.1 L1146.8 700.1 L1147.8 700.3 L1148.8 700.6 L1149.8 701.1 L1149.8 700.5 L1148.8 700.7 L1147.8 701.1 L1146.8 701.6 L1145.8 702.0 L1144.8 702.0 L1143.8 702.0Z" fill="rgba(120,220,120,0.45)" stroke="none"/>
<path d="M1149.8 701.1 L1150.8 701.6 L1151.8 702.2 L1152.8 702.7 L1153.8 703.3 L1154.8 704.1 L1155.8 704.9 L1156.8 705.7 L1157.8 706.4 L1158.8 707.0 L1159.8 707.4 L1160.8 707.7 L1161.8 708.0 L1162.8 708.2 L1163.8 708.4 L1164.8 708.5 L1165.8 708.7 L1166.8 708.7 L1167.8 708.7 L1168.8 708.8 L1169.8 708.8 L1170.8 708.8 L1171.8 708.8 L1172.8 708.6 L1172.8 708.7 L1171.8 708.7 L1170.8 708.6 L1169.8 708.6 L1168.8 708.4 L1167.8 708.2 L1166.8 708.0 L1165.8 707.8 L1164.8 707.6 L1163.8 707.4 L1162.8 706.9 L1161.8 706.4 L1160.8 705.7 L1159.8 705.1 L1158.8 704.4 L1157.8 703.8 L1156.8 703.1 L1155.8 702.5 L1154.8 702.1 L1153.8 701.7 L1152.8 701.3 L1151.8 700.9 L1150.8 700.6 L1149.8 700.5Z" fill="rgba(250,130,130,0.5)" stroke="none"/>
<path d="M1172.8 708.6 L1173.8 707.6 L1174.8 705.9 L1175.8 703.5 L1176.8 700.9 L1177.8 698.2 L1178.8 695.9 L1179.8 694.0 L1180.8 692.8 L1181.8 691.7 L1182.8 690.9 L1183.8 690.0 L1184.8 689.1 L1185.8 688.0 L1186.8 686.5 L1187.8 684.5 L1188.8 682.2 L1189.8 679.9 L1190.8 677.7 L1191.8 675.9 L1192.8 674.7 L1193.8 673.7 L1194.8 672.9 L1195.8 672.3 L1196.8 671.9 L1197.8 671.8 L1198.8 671.8 L1199.8 671.9 L1200.8 672.0 L1201.8 672.1 L1201.8 672.1 L1200.8 672.2 L1199.8 672.6 L1198.8 673.2 L1197.8 674.0 L1196.8 674.8 L1195.8 675.9 L1194.8 677.4 L1193.8 679.3 L1192.8 681.3 L1191.8 683.2 L1190.8 685.2 L1189.8 686.9 L1188.8 688.3 L1187.8 689.4 L1186.8 690.5 L1185.8 691.5 L1184.8 692.6 L1183.8 693.8 L1182.8 695.3 L1181.8 697.1 L1180.8 699.0 L1179.8 701.0 L1178.8 703.0 L1177.8 704.8 L1176.8 706.7 L1175.8 708.0 L1174.8 708.5 L1173.8 708.7 L1172.8 708.7Z" fill="rgba(120,220,120,0.45)" stroke="none"/>
<path d="M1201.8 672.1 L1202.8 672.3 L1203.8 672.6 L1204.8 673.3 L1205.8 674.7 L1206.8 676.3 L1207.8 678.2 L1208.8 680.4 L1209.8 682.9 L1210.8 685.7 L1211.8 688.6 L1212.8 691.6 L1213.8 694.4 L1214.8 697.1 L1215.8 699.8 L1216.8 702.7 L1217.8 705.7 L1218.8 708.7 L1219.8 711.5 L1220.8 713.9 L1221.8 715.8 L1222.8 717.0 L1223.8 717.3 L1224.8 716.5 L1225.8 714.4 L1226.8 711.5 L1226.8 714.2 L1225.8 714.3 L1224.8 712.5 L1223.8 709.7 L1222.8 707.4 L1221.8 705.1 L1220.8 702.8 L1219.8 700.5 L1218.8 698.1 L1217.8 695.7 L1216.8 693.1 L1215.8 690.4 L1214.8 687.8 L1213.8 685.1 L1212.8 682.5 L1211.8 680.1 L1210.8 677.9 L1209.8 676.0 L1208.8 674.7 L1207.8 673.7 L1206.8 672.8 L1205.8 672.3 L1204.8 672.2 L1203.8 672.1 L1202.8 672.1 L1201.8 672.1Z" fill="rgba(250,130,130,0.5)" stroke="none"/>
<path d="M1226.8 711.5 L1227.8 708.0 L1228.8 704.3 L1229.8 700.6 L1230.8 696.7 L1231.8 692.5 L1232.8 687.8 L1233.8 682.8 L1234.8 677.6 L1235.8 672.2 L1236.8 666.1 L1237.8 658.9 L1238.8 650.8 L1239.8 643.0 L1240.8 636.4 L1241.8 631.8 L1242.8 629.7 L1243.8 628.8 L1244.8 628.0 L1245.8 627.5 L1246.8 627.0 L1247.8 626.6 L1248.8 626.2 L1249.8 625.8 L1250.8 625.4 L1251.8 625.1 L1252.8 624.8 L1253.8 624.6 L1254.8 624.5 L1255.8 624.8 L1256.8 625.5 L1256.8 625.0 L1255.8 625.3 L1254.8 625.5 L1253.8 625.9 L1252.8 626.2 L1251.8 626.6 L1250.8 627.2 L1249.8 627.9 L1248.8 628.6 L1247.8 629.6 L1246.8 631.1 L1245.8 633.3 L1244.8 637.8 L1243.8 643.9 L1242.8 650.1 L1241.8 656.5 L1240.8 662.8 L1239.8 668.8 L1238.8 674.1 L1237.8 679.2 L1236.8 684.0 L1235.8 688.6 L1234.8 693.3 L1233.8 697.6 L1232.8 701.3 L1231.8 704.6 L1230.8 707.4 L1229.8 709.9 L1228.8 712.6 L1227.8 714.2 L1226.8 714.2Z" fill="rgba(120,220,120,0.45)" stroke="none"/>
<path d="M1256.8 625.5 L1257.8 626.6 L1258.8 628.0 L1259.8 629.4 L1260.8 630.7 L1261.8 632.0 L1262.8 633.2 L1263.8 634.4 L1264.8 635.7 L1265.8 636.9 L1266.8 638.2 L1267.8 639.6 L1268.8 640.9 L1269.8 642.3 L1270.8 643.7 L1271.8 645.0 L1272.8 646.4 L1273.8 647.8 L1274.8 649.2 L1275.8 650.7 L1276.8 652.2 L1277.8 653.8 L1278.8 655.5 L1279.8 657.2 L1280.8 659.1 L1281.8 661.2 L1282.8 663.4 L1283.8 665.7 L1284.8 668.1 L1285.8 670.6 L1286.8 673.3 L1287.8 676.0 L1288.8 679.0 L1289.8 682.1 L1290.8 685.5 L1291.8 688.8 L1292.8 692.1 L1293.8 695.3 L1294.8 698.8 L1295.8 702.4 L1296.8 706.0 L1297.8 709.3 L1298.8 711.9 L1299.8 713.5 L1300.8 714.4 L1301.8 715.1 L1302.8 715.7 L1303.8 716.2 L1304.8 716.5 L1305.8 716.7 L1306.8 716.5 L1307.8 715.8 L1308.8 714.6 L1308.8 715.9 L1307.8 715.8 L1306.8 715.3 L1305.8 714.6 L1304.8 713.9 L1303.8 712.9 L1302.8 711.2 L1301.8 708.7 L1300.8 705.9 L1299.8 702.7 L1298.8 699.7 L1297.8 696.7 L1296.8 693.6 L1295.8 690.5 L1294.8 687.3 L1293.8 684.1 L1292.8 681.0 L1291.8 677.9 L1290.8 675.0 L1289.8 672.3 L1288.8 669.9 L1287.8 667.6 L1286.8 665.3 L1285.8 663.0 L1284.8 660.7 L1283.8 658.6 L1282.8 656.7 L1281.8 655.0 L1280.8 653.5 L1279.8 652.0 L1278.8 650.5 L1277.8 649.0 L1276.8 647.5 L1275.8 646.0 L1274.8 644.5 L1273.8 643.1 L1272.8 641.7 L1271.8 640.4 L1270.8 639.1 L1269.8 637.8 L1268.8 636.5 L1267.8 635.2 L1266.8 633.9 L1265.8 632.7 L1264.8 631.5 L1263.8 630.3 L1262.8 629.2 L1261.8 628.2 L1260.8 627.1 L1259.8 626.2 L1258.8 625.3 L1257.8 624.9 L1256.8 625.0Z" fill="rgba(250,130,130,0.5)" stroke="none"/>
<path d="M1308.8 714.6 L1309.8 713.2 L1310.8 711.8 L1311.8 710.6 L1312.8 709.8 L1313.8 709.2 L1314.8 708.8 L1315.8 708.4 L1316.8 708.0 L1317.8 707.5 L1318.8 707.0 L1319.8 706.3 L1320.8 705.2 L1321.8 703.5 L1322.8 701.3 L1323.8 699.1 L1324.8 697.1 L1325.8 695.5 L1326.8 694.5 L1327.8 693.9 L1328.8 693.5 L1329.8 693.0 L1330.8 692.5 L1331.8 691.8 L1332.8 690.4 L1333.8 687.5 L1334.8 682.9 L1335.8 677.8 L1336.8 672.8 L1337.8 668.7 L1338.8 665.1 L1339.8 661.5 L1340.8 658.1 L1341.8 655.0 L1342.8 652.2 L1343.8 649.8 L1344.8 647.5 L1345.8 645.2 L1346.8 643.0 L1347.8 641.1 L1348.8 639.4 L1349.8 638.2 L1350.8 637.6 L1351.8 637.7 L1352.8 638.3 L1353.8 639.3 L1353.8 639.0 L1352.8 640.3 L1351.8 642.4 L1350.8 644.1 L1349.8 645.8 L1348.8 647.6 L1347.8 649.5 L1346.8 651.9 L1345.8 654.6 L1344.8 657.7 L1343.8 661.0 L1342.8 664.3 L1341.8 667.6 L1340.8 671.1 L1339.8 674.9 L1338.8 679.0 L1337.8 683.0 L1336.8 686.9 L1335.8 689.9 L1334.8 691.5 L1333.8 692.6 L1332.8 693.3 L1331.8 693.9 L1330.8 694.6 L1329.8 695.5 L1328.8 696.8 L1327.8 698.4 L1326.8 700.2 L1325.8 701.9 L1324.8 703.7 L1323.8 705.2 L1322.8 706.3 L1321.8 707.1 L1320.8 707.6 L1319.8 708.1 L1318.8 708.6 L1317.8 709.2 L1316.8 709.7 L1315.8 710.4 L1314.8 711.3 L1313.8 712.3 L1312.8 713.3 L1311.8 714.3 L1310.8 715.4 L1309.8 716.0 L1308.8 715.9Z" fill="rgba(120,220,120,0.45)" stroke="none"/>
<path d="M1353.8 639.3 L1354.8 640.6 L1355.8 641.9 L1356.8 643.1 L1357.8 644.1 L1358.8 645.1 L1359.8 646.1 L1360.8 647.1 L1361.8 648.0 L1362.8 648.5 L1363.8 648.6 L1364.8 647.7 L1365.8 645.8 L1365.8 647.6 L1364.8 647.0 L1363.8 646.0 L1362.8 645.2 L1361.8 644.4 L1360.8 643.5 L1359.8 642.6 L1358.8 641.6 L1357.8 640.7 L1356.8 639.7 L1355.8 639.1 L1354.8 639.1 L1353.8 639.0Z" fill="rgba(250,130,130,0.5)" stroke="none"/>
<path d="M1365.8 645.8 L1366.8 643.3 L1367.8 640.6 L1368.8 638.2 L1369.8 636.5 L1370.8 635.5 L1371.8 634.6 L1372.8 633.9 L1373.8 633.2 L1374.8 632.8 L1375.8 632.6 L1376.8 632.5 L1377.8 632.7 L1378.8 633.1 L1379.8 633.5 L1379.8 633.0 L1378.8 633.2 L1377.8 633.7 L1376.8 634.3 L1375.8 635.0 L1374.8 635.7 L1373.8 636.6 L1372.8 637.9 L1371.8 639.5 L1370.8 641.4 L1369.8 643.4 L1368.8 645.3 L1367.8 646.7 L1366.8 647.3 L1365.8 647.6Z" fill="rgba(120,220,120,0.45)" stroke="none"/>
<path d="M1379.8 633.5 L1380.8 634.1 L1381.8 634.8 L1382.8 635.5 L1383.8 636.5 L1384.8 638.6 L1385.8 642.0 L1386.8 646.0 L1387.8 650.0 L1388.8 653.1 L1389.8 654.7 L1390.8 655.2 L1391.8 655.4 L1392.8 655.5 L1393.8 655.6 L1394.8 655.7 L1395.8 655.7 L1396.8 655.4 L1397.8 654.2 L1397.8 655.5 L1396.8 655.3 L1395.8 655.0 L1394.8 654.6 L1393.8 653.9 L1392.8 652.4 L1391.8 650.0 L1390.8 647.2 L1389.8 644.2 L1388.8 641.3 L1387.8 638.8 L1386.8 636.9 L1385.8 635.5 L1384.8 635.0 L1383.8 634.6 L1382.8 634.1 L1381.8 633.7 L1380.8 633.2 L1379.8 633.0Z" fill="rgba(250,130,130,0.5)" stroke="none"/>
<path d="M1397.8 654.2 L1398.8 652.2 L1399.8 649.7 L1400.8 646.9 L1401.8 644.2 L1402.8 641.5 L1403.8 638.6 L1404.8 635.4 L1405.8 632.1 L1406.8 629.1 L1407.8 626.6 L1408.8 624.9 L1409.8 623.8 L1410.8 622.8 L1411.8 622.0 L1412.8 621.5 L1413.8 621.3 L1414.8 621.5 L1415.8 622.1 L1416.8 622.8 L1416.8 622.2 L1415.8 622.4 L1414.8 623.1 L1413.8 624.1 L1412.8 625.3 L1411.8 626.7 L1410.8 629.0 L1409.8 631.8 L1408.8 634.5 L1407.8 637.3 L1406.8 640.0 L1405.8 642.6 L1404.8 644.9 L1403.8 647.0 L1402.8 649.1 L1401.8 651.1 L1400.8 653.1 L1399.8 654.6 L1398.8 655.2 L1397.8 655.5Z" fill="rgba(120,220,120,0.45)" stroke="none"/>
<path d="M1416.8 622.8 L1417.8 623.7 L1418.8 624.6 L1419.8 625.4 L1420.8 626.0 L1421.8 626.5 L1422.8 626.8 L1423.8 627.1 L1424.8 627.4 L1425.8 627.5 L1426.8 627.2 L1427.8 626.4 L1427.8 627.0 L1426.8 626.8 L1425.8 626.4 L1424.8 626.1 L1423.8 625.6 L1422.8 625.0 L1421.8 624.3 L1420.8 623.7 L1419.8 623.1 L1418.8 622.5 L1417.8 622.1 L1416.8 622.2Z" fill="rgba(250,130,130,0.5)" stroke="none"/>
<path d="M1427.8 626.4 L1428.8 624.9 L1429.8 623.0 L1430.8 620.9 L1431.8 618.7 L1432.8 616.6 L1433.8 614.9 L1434.8 613.2 L1435.8 611.5 L1436.8 609.8 L1437.8 608.1 L1438.8 606.6 L1439.8 605.3 L1440.8 604.2 L1441.8 603.2 L1442.8 602.4 L1443.8 601.6 L1444.8 600.9 L1445.8 600.4 L1446.8 600.1 L1447.8 600.0 L1448.8 600.0 L1449.8 600.1 L1450.8 600.1 L1451.8 600.2 L1452.8 600.3 L1452.8 600.2 L1451.8 600.2 L1450.8 600.4 L1449.8 600.7 L1448.8 601.3 L1447.8 601.9 L1446.8 602.6 L1445.8 603.3 L1444.8 604.1 L1443.8 605.1 L1442.8 606.5 L1441.8 608.1 L1440.8 609.6 L1439.8 611.1 L1438.8 612.7 L1437.8 614.2 L1436.8 615.8 L1435.8 617.4 L1434.8 619.0 L1433.8 620.7 L1432.8 622.3 L1431.8 623.8 L1430.8 625.4 L1429.8 626.5 L1428.8 626.9 L1427.8 627.0Z" fill="rgba(120,220,120,0.45)" stroke="none"/>
<path d="M1452.8 600.3 L1453.8 600.4 L1454.8 600.5 L1455.8 600.7 L1456.8 600.9 L1457.8 601.3 L1458.8 601.8 L1459.8 602.4 L1460.8 603.8 L1461.8 606.1 L1462.8 609.1 L1463.8 612.3 L1464.8 615.1 L1465.8 616.9 L1466.8 617.8 L1467.8 618.3 L1468.8 618.6 L1469.8 618.9 L1470.8 619.2 L1471.8 619.7 L1472.8 620.3 L1473.8 621.2 L1474.8 622.4 L1475.8 623.8 L1476.8 625.4 L1477.8 627.1 L1478.8 629.0 L1479.8 631.1 L1480.8 633.5 L1481.8 636.2 L1482.8 639.0 L1483.8 641.9 L1484.8 644.6 L1484.8 635.5 L1483.8 633.0 L1482.8 630.6 L1481.8 628.5 L1480.8 626.8 L1479.8 625.4 L1478.8 624.0 L1477.8 622.7 L1476.8 621.4 L1475.8 620.3 L1474.8 619.6 L1473.8 619.1 L1472.8 618.6 L1471.8 618.1 L1470.8 617.5 L1469.8 616.7 L1468.8 615.1 L1467.8 612.9 L1466.8 610.6 L1465.8 608.3 L1464.8 606.0 L1463.8 604.1 L1462.8 602.7 L1461.8 601.8 L1460.8 601.4 L1459.8 601.1 L1458.8 600.7 L1457.8 600.5 L1456.8 600.4 L1455.8 600.3 L1454.8 600.3 L1453.8 600.2 L1452.8 600.2Z" fill="rgba(250,130,130,0.5)" stroke="none"/>
<path d="M589.8 617.2 L589.8 616.4 L590.8 615.7 L591.8 615.1 L592.8 614.5 L593.8 613.9 L594.8 613.4 L595.8 613.0 L596.8 612.5 L597.8 612.1 L598.8 611.7 L599.8 611.3 L600.8 611.0 L601.8 610.6 L602.8 610.3 L603.8 610.0 L604.8 609.7 L605.8 609.4 L606.8 609.1 L607.8 608.8 L608.8 608.6 L609.8 608.3 L610.8 608.0 L611.8 607.7 L612.8 607.4 L613.8 607.1 L614.8 606.8 L615.8 606.6 L616.8 606.3 L617.8 606.0 L618.8 605.7 L619.8 605.5 L620.8 605.2 L621.8 604.9 L622.8 604.5 L623.8 604.2 L624.8 603.8 L625.8 603.5 L626.8 603.0 L627.8 602.6 L628.8 602.1 L629.8 601.5 L630.8 601.0 L631.8 600.5 L632.8 599.9 L633.8 599.4 L634.8 598.9 L635.8 598.4 L636.8 597.8 L637.8 597.2 L638.8 596.6 L639.8 596.0 L640.8 595.6 L641.8 595.2 L642.8 595.0 L643.8 594.8 L644.8 594.6 L645.8 594.5 L646.8 594.3 L647.8 594.3 L648.8 594.2 L649.8 594.3 L650.8 594.3 L651.8 594.4 L652.8 594.6 L653.8 594.8 L654.8 594.9 L655.8 595.2 L656.8 595.7 L657.8 596.4 L658.8 597.2 L659.8 598.2 L660.8 599.3 L661.8 600.4 L662.8 601.5 L663.8 602.8 L664.8 604.3 L665.8 605.9 L666.8 607.8 L667.8 609.8 L668.8 612.0 L669.8 614.4 L669.8 617.2Z" fill="rgba(50,150,50,0.6)"/>
<path d="M818.8 617.2 L818.8 617.1 L819.8 615.5 L820.8 613.9 L821.8 612.3 L822.8 610.9 L823.8 609.4 L824.8 608.0 L825.8 606.5 L826.8 605.1 L827.8 603.7 L828.8 602.5 L829.8 601.5 L830.8 600.6 L831.8 599.6 L832.8 598.7 L833.8 598.0 L834.8 597.4 L835.8 597.0 L836.8 597.0 L837.8 597.0 L838.8 597.0 L839.8 597.0 L840.8 597.1 L841.8 597.5 L842.8 598.1 L843.8 598.9 L844.8 599.7 L845.8 600.4 L846.8 601.0 L847.8 601.3 L848.8 601.5 L849.8 601.7 L850.8 601.9 L851.8 602.0 L852.8 602.0 L853.8 602.0 L854.8 602.0 L855.8 602.0 L856.8 602.0 L857.8 602.0 L858.8 602.0 L859.8 602.0 L860.8 602.2 L861.8 602.3 L862.8 602.6 L863.8 602.9 L864.8 603.5 L865.8 604.1 L866.8 604.9 L867.8 605.8 L868.8 606.7 L869.8 607.6 L870.8 608.5 L871.8 609.4 L872.8 610.2 L873.8 611.1 L874.8 612.0 L875.8 612.9 L876.8 613.9 L877.8 614.7 L878.8 615.5 L879.8 616.1 L880.8 616.6 L881.8 616.9 L881.8 617.2Z" fill="rgba(50,150,50,0.6)"/>
<path d="M1203.8 699.5 L1203.8 699.9 L1204.8 700.9 L1205.8 701.9 L1206.8 703.0 L1207.8 704.0 L1208.8 705.3 L1209.8 706.9 L1210.8 708.6 L1211.8 710.3 L1212.8 712.0 L1213.8 713.5 L1214.8 714.8 L1215.8 715.7 L1216.8 716.6 L1217.8 717.5 L1218.8 718.4 L1219.8 719.2 L1220.8 719.8 L1221.8 720.3 L1222.8 720.6 L1223.8 720.8 L1224.8 720.4 L1225.8 719.5 L1226.8 718.4 L1227.8 717.2 L1228.8 715.9 L1229.8 714.5 L1230.8 712.9 L1231.8 711.2 L1232.8 709.4 L1233.8 707.5 L1234.8 705.5 L1235.8 703.3 L1236.8 700.4 L1236.8 699.5Z" fill="rgba(160,80,40,0.6)"/>
<path d="M1297.8 699.5 L1297.8 701.3 L1298.8 703.3 L1299.8 704.8 L1300.8 705.6 L1301.8 706.2 L1302.8 706.8 L1303.8 707.3 L1304.8 707.8 L1305.8 708.3 L1306.8 708.7 L1307.8 709.1 L1308.8 709.5 L1309.8 709.9 L1310.8 710.3 L1311.8 710.8 L1312.8 711.3 L1313.8 711.7 L1314.8 712.2 L1315.8 712.6 L1316.8 713.0 L1317.8 713.3 L1318.8 713.5 L1319.8 713.7 L1320.8 713.8 L1321.8 713.9 L1322.8 714.0 L1323.8 714.1 L1324.8 714.2 L1325.8 714.3 L1326.8 714.4 L1327.8 714.4 L1328.8 714.5 L1329.8 714.5 L1330.8 714.5 L1331.8 714.4 L1332.8 714.0 L1333.8 713.4 L1334.8 712.7 L1335.8 712.0 L1336.8 711.3 L1337.8 710.6 L1338.8 709.8 L1339.8 709.0 L1340.8 708.3 L1341.8 707.6 L1342.8 706.9 L1343.8 706.2 L1344.8 705.6 L1345.8 705.0 L1346.8 704.3 L1347.8 703.7 L1348.8 703.1 L1349.8 702.7 L1350.8 702.3 L1351.8 702.1 L1352.8 702.0 L1353.8 702.0 L1354.8 702.0 L1355.8 702.0 L1356.8 702.0 L1357.8 702.0 L1358.8 702.0 L1359.8 702.0 L1360.8 702.0 L1361.8 702.0 L1362.8 702.0 L1363.8 702.0 L1364.8 701.6 L1365.8 700.5 L1365.8 699.5Z" fill="rgba(160,80,40,0.6)"/>
<path d="M513.8 656.9 L514.8 657.1 L515.8 657.2 L516.8 657.3 L517.8 657.4 L518.8 657.5 L519.8 657.5 L520.8 657.3 L521.8 656.4 L522.8 655.1 L523.8 653.8 L523.8 654.9 L522.8 654.7 L521.8 654.5 L520.8 654.1 L519.8 653.7 L518.8 653.3 L517.8 652.9 L516.8 652.4 L515.8 652.0 L514.8 651.6 L513.8 651.2Z" fill="rgba(225,120,225,0.45)" stroke="none"/>
<path d="M523.8 653.8 L524.8 652.7 L525.8 651.9 L526.8 651.2 L527.8 650.4 L528.8 649.7 L529.8 649.0 L530.8 648.3 L531.8 647.7 L532.8 647.2 L533.8 646.7 L534.8 646.3 L535.8 646.0 L536.8 645.7 L537.8 645.3 L538.8 645.1 L539.8 644.8 L540.8 644.6 L541.8 644.4 L542.8 644.3 L543.8 644.2 L544.8 644.3 L545.8 644.4 L546.8 644.6 L547.8 644.8 L548.8 645.0 L549.8 645.3 L550.8 645.8 L551.8 646.4 L552.8 647.0 L553.8 647.6 L554.8 647.9 L555.8 648.2 L556.8 648.4 L557.8 648.6 L558.8 648.8 L558.8 648.5 L557.8 648.6 L556.8 648.7 L555.8 648.7 L554.8 648.8 L553.8 648.8 L552.8 648.8 L551.8 648.8 L550.8 648.8 L549.8 648.8 L548.8 648.8 L547.8 648.8 L546.8 648.8 L545.8 648.8 L544.8 648.8 L543.8 648.9 L542.8 649.1 L541.8 649.5 L540.8 649.9 L539.8 650.4 L538.8 650.9 L537.8 651.4 L536.8 651.8 L535.8 652.2 L534.8 652.6 L533.8 652.9 L532.8 653.2 L531.8 653.6 L530.8 653.9 L529.8 654.2 L528.8 654.5 L527.8 654.7 L526.8 654.9 L525.8 655.0 L524.8 655.0 L523.8 654.9Z" fill="rgba(100,100,210,0.36)" stroke="none"/>
<path d="M558.8 648.8 L559.8 649.0 L560.8 649.2 L561.8 649.3 L562.8 649.4 L563.8 649.5 L564.8 649.5 L565.8 649.2 L566.8 648.1 L567.8 646.4 L567.8 646.7 L566.8 647.1 L565.8 647.3 L564.8 647.5 L563.8 647.7 L562.8 647.9 L561.8 648.1 L560.8 648.2 L559.8 648.4 L558.8 648.5Z" fill="rgba(225,120,225,0.45)" stroke="none"/>
<path d="M567.8 646.4 L568.8 644.5 L569.8 642.8 L570.8 641.5 L571.8 640.2 L572.8 639.0 L573.8 637.8 L574.8 636.5 L575.8 635.3 L576.8 634.1 L577.8 632.9 L578.8 631.6 L579.8 630.3 L580.8 629.0 L581.8 627.5 L582.8 626.0 L583.8 624.4 L584.8 622.8 L585.8 621.3 L586.8 619.8 L587.8 618.5 L588.8 617.4 L589.8 616.4 L590.8 615.7 L591.8 615.1 L592.8 614.5 L593.8 613.9 L594.8 613.4 L595.8 613.0 L596.8 612.5 L597.8 612.1 L598.8 611.7 L599.8 611.3 L600.8 611.0 L601.8 610.6 L602.8 610.3 L603.8 610.0 L604.8 609.7 L605.8 609.4 L606.8 609.1 L607.8 608.8 L608.8 608.6 L609.8 608.3 L610.8 608.0 L611.8 607.7 L612.8 607.4 L613.8 607.1 L614.8 606.8 L615.8 606.6 L616.8 606.3 L617.8 606.0 L618.8 605.7 L619.8 605.5 L620.8 605.2 L621.8 604.9 L622.8 604.5 L623.8 604.2 L624.8 603.8 L625.8 603.5 L626.8 603.0 L627.8 602.6 L628.8 602.1 L629.8 601.5 L630.8 601.0 L631.8 600.5 L632.8 599.9 L633.8 599.4 L634.8 598.9 L635.8 598.4 L636.8 597.8 L637.8 597.2 L638.8 596.6 L639.8 596.0 L640.8 595.6 L641.8 595.2 L642.8 595.0 L643.8 594.8 L644.8 594.6 L645.8 594.5 L646.8 594.3 L647.8 594.3 L648.8 594.2 L649.8 594.3 L650.8 594.3 L651.8 594.4 L652.8 594.6 L653.8 594.8 L654.8 594.9 L655.8 595.2 L656.8 595.7 L657.8 596.4 L658.8 597.2 L658.8 597.0 L657.8 597.0 L656.8 597.0 L655.8 597.1 L654.8 597.1 L653.8 597.2 L652.8 597.4 L651.8 597.5 L650.8 597.7 L649.8 597.8 L648.8 598.0 L647.8 598.2 L646.8 598.4 L645.8 598.6 L644.8 598.9 L643.8 599.2 L642.8 599.5 L641.8 599.8 L640.8 600.2 L639.8 600.6 L638.8 601.0 L637.8 601.4 L636.8 601.8 L635.8 602.2 L634.8 602.6 L633.8 603.0 L632.8 603.5 L631.8 604.0 L630.8 604.6 L629.8 605.1 L628.8 605.6 L627.8 606.2 L626.8 606.7 L625.8 607.2 L624.8 607.6 L623.8 608.0 L622.8 608.4 L621.8 608.8 L620.8 609.2 L619.8 609.5 L618.8 609.9 L617.8 610.2 L616.8 610.6 L615.8 611.0 L614.8 611.3 L613.8 611.7 L612.8 612.0 L611.8 612.3 L610.8 612.7 L609.8 613.0 L608.8 613.3 L607.8 613.7 L606.8 614.1 L605.8 614.6 L604.8 615.1 L603.8 615.8 L602.8 616.6 L601.8 617.4 L600.8 618.4 L599.8 619.4 L598.8 620.6 L597.8 621.7 L596.8 622.9 L595.8 624.1 L594.8 625.3 L593.8 626.7 L592.8 628.3 L591.8 630.1 L590.8 631.9 L589.8 633.7 L588.8 635.4 L587.8 637.0 L586.8 638.4 L585.8 639.4 L584.8 640.1 L583.8 640.7 L582.8 641.1 L581.8 641.6 L580.8 641.9 L579.8 642.2 L578.8 642.5 L577.8 642.8 L576.8 643.2 L575.8 643.5 L574.8 643.8 L573.8 644.2 L572.8 644.7 L571.8 645.1 L570.8 645.5 L569.8 646.0 L568.8 646.4 L567.8 646.7Z" fill="rgba(100,100,210,0.36)" stroke="none"/>
<path d="M658.8 597.2 L659.8 598.2 L660.8 599.3 L661.8 600.4 L662.8 601.5 L663.8 602.8 L664.8 604.3 L665.8 605.9 L666.8 607.8 L667.8 609.8 L668.8 612.0 L669.8 614.4 L670.8 617.2 L671.8 621.0 L672.8 625.4 L673.8 629.9 L674.8 634.1 L675.8 637.8 L676.8 641.8 L677.8 645.7 L678.8 649.4 L679.8 652.7 L680.8 655.3 L681.8 657.1 L682.8 658.8 L683.8 660.4 L684.8 661.6 L685.8 662.6 L686.8 663.0 L687.8 662.9 L688.8 662.5 L689.8 662.1 L690.8 661.7 L691.8 661.3 L692.8 660.8 L693.8 660.3 L694.8 659.8 L695.8 659.4 L696.8 659.1 L697.8 658.8 L698.8 658.8 L699.8 659.3 L700.8 660.7 L701.8 662.5 L702.8 664.1 L703.8 665.9 L704.8 667.9 L705.8 670.0 L706.8 672.2 L707.8 674.1 L708.8 675.9 L709.8 677.2 L710.8 678.3 L711.8 679.3 L712.8 680.3 L713.8 681.2 L714.8 682.0 L715.8 682.7 L716.8 683.3 L717.8 683.6 L718.8 683.8 L719.8 683.1 L720.8 681.6 L721.8 679.8 L722.8 678.5 L723.8 677.2 L724.8 676.0 L724.8 676.4 L723.8 675.8 L722.8 675.1 L721.8 674.3 L720.8 673.6 L719.8 672.8 L718.8 672.1 L717.8 671.4 L716.8 670.8 L715.8 670.2 L714.8 669.6 L713.8 669.1 L712.8 668.5 L711.8 667.9 L710.8 667.3 L709.8 666.7 L708.8 666.0 L707.8 665.2 L706.8 664.3 L705.8 663.3 L704.8 662.2 L703.8 661.0 L702.8 659.7 L701.8 658.4 L700.8 657.0 L699.8 655.6 L698.8 654.2 L697.8 652.8 L696.8 651.5 L695.8 650.1 L694.8 648.7 L693.8 647.3 L692.8 645.9 L691.8 644.4 L690.8 642.9 L689.8 641.3 L688.8 639.7 L687.8 637.9 L686.8 636.1 L685.8 634.0 L684.8 631.8 L683.8 629.4 L682.8 627.0 L681.8 624.5 L680.8 622.1 L679.8 619.7 L678.8 617.5 L677.8 615.5 L676.8 613.5 L675.8 611.5 L674.8 609.4 L673.8 607.4 L672.8 605.4 L671.8 603.5 L670.8 601.9 L669.8 600.5 L668.8 599.5 L667.8 598.8 L666.8 598.5 L665.8 598.2 L664.8 598.0 L663.8 597.7 L662.8 597.5 L661.8 597.4 L660.8 597.2 L659.8 597.1 L658.8 597.0Z" fill="rgba(225,120,225,0.45)" stroke="none"/>
<path d="M724.8 676.0 L725.8 674.9 L726.8 674.1 L727.8 673.7 L728.8 673.5 L729.8 673.4 L730.8 673.3 L731.8 673.2 L732.8 673.1 L733.8 673.0 L734.8 672.9 L735.8 672.8 L736.8 672.6 L737.8 672.4 L738.8 672.0 L739.8 671.4 L740.8 670.6 L741.8 669.6 L742.8 668.6 L743.8 667.5 L744.8 666.5 L745.8 665.4 L746.8 664.2 L747.8 662.8 L748.8 661.4 L749.8 659.9 L750.8 658.5 L751.8 657.1 L752.8 655.8 L753.8 654.8 L754.8 653.9 L755.8 653.3 L756.8 652.6 L757.8 652.0 L758.8 651.5 L759.8 651.0 L760.8 650.6 L761.8 650.3 L762.8 650.1 L763.8 650.0 L764.8 650.0 L765.8 650.0 L766.8 650.0 L767.8 650.0 L768.8 650.5 L769.8 651.5 L770.8 652.6 L771.8 653.8 L771.8 653.7 L770.8 653.9 L769.8 654.2 L768.8 654.6 L767.8 654.9 L766.8 655.3 L765.8 655.8 L764.8 656.4 L763.8 657.1 L762.8 657.9 L761.8 658.7 L760.8 659.6 L759.8 660.5 L758.8 661.4 L757.8 662.3 L756.8 663.2 L755.8 664.3 L754.8 665.5 L753.8 666.8 L752.8 668.1 L751.8 669.3 L750.8 670.6 L749.8 671.7 L748.8 672.7 L747.8 673.6 L746.8 674.3 L745.8 675.0 L744.8 675.7 L743.8 676.3 L742.8 677.0 L741.8 677.5 L740.8 678.0 L739.8 678.4 L738.8 678.6 L737.8 678.7 L736.8 678.7 L735.8 678.7 L734.8 678.6 L733.8 678.5 L732.8 678.4 L731.8 678.3 L730.8 678.1 L729.8 677.9 L728.8 677.8 L727.8 677.6 L726.8 677.3 L725.8 676.9 L724.8 676.4Z" fill="rgba(100,100,210,0.36)" stroke="none"/>
<path d="M771.8 653.8 L772.8 654.7 L773.8 655.0 L774.8 655.0 L775.8 655.0 L776.8 655.0 L777.8 655.0 L778.8 655.0 L779.8 654.9 L780.8 654.7 L781.8 654.6 L782.8 654.3 L783.8 654.1 L784.8 653.8 L785.8 653.4 L786.8 652.5 L787.8 651.4 L788.8 650.0 L788.8 651.0 L787.8 651.2 L786.8 651.4 L785.8 651.5 L784.8 651.6 L783.8 651.8 L782.8 651.9 L781.8 652.0 L780.8 652.1 L779.8 652.2 L778.8 652.3 L777.8 652.5 L776.8 652.6 L775.8 652.8 L774.8 653.0 L773.8 653.2 L772.8 653.4 L771.8 653.7Z" fill="rgba(225,120,225,0.45)" stroke="none"/>
<path d="M788.8 650.0 L789.8 648.6 L790.8 647.1 L791.8 645.8 L792.8 644.8 L793.8 643.9 L794.8 643.0 L795.8 642.3 L796.8 641.5 L797.8 640.7 L798.8 639.9 L799.8 639.0 L800.8 638.0 L801.8 636.9 L802.8 635.7 L803.8 634.5 L804.8 633.2 L805.8 632.0 L806.8 630.8 L807.8 629.7 L808.8 628.7 L809.8 627.8 L810.8 626.8 L811.8 625.9 L812.8 624.9 L813.8 623.9 L814.8 622.8 L815.8 621.6 L816.8 620.2 L817.8 618.6 L818.8 617.1 L819.8 615.5 L820.8 613.9 L821.8 612.3 L822.8 610.9 L823.8 609.4 L824.8 608.0 L825.8 606.5 L826.8 605.1 L827.8 603.7 L828.8 602.5 L829.8 601.5 L830.8 600.6 L831.8 599.6 L832.8 598.7 L833.8 598.0 L834.8 597.4 L835.8 597.0 L836.8 597.0 L837.8 597.0 L838.8 597.0 L839.8 597.0 L840.8 597.1 L841.8 597.5 L842.8 598.1 L843.8 598.9 L844.8 599.7 L845.8 600.4 L845.8 600.0 L844.8 600.0 L843.8 600.3 L842.8 601.1 L841.8 602.0 L840.8 603.2 L839.8 604.6 L838.8 605.9 L837.8 607.2 L836.8 608.5 L835.8 609.9 L834.8 611.4 L833.8 613.0 L832.8 614.6 L831.8 616.2 L830.8 617.7 L829.8 619.1 L828.8 620.4 L827.8 621.8 L826.8 623.1 L825.8 624.4 L824.8 625.6 L823.8 626.9 L822.8 628.1 L821.8 629.3 L820.8 630.4 L819.8 631.5 L818.8 632.6 L817.8 633.7 L816.8 634.8 L815.8 635.9 L814.8 636.9 L813.8 637.9 L812.8 638.9 L811.8 639.8 L810.8 640.7 L809.8 641.4 L808.8 642.2 L807.8 642.9 L806.8 643.7 L805.8 644.3 L804.8 645.0 L803.8 645.6 L802.8 646.2 L801.8 646.7 L800.8 647.2 L799.8 647.6 L798.8 648.0 L797.8 648.4 L796.8 648.7 L795.8 649.1 L794.8 649.4 L793.8 649.7 L792.8 650.0 L791.8 650.3 L790.8 650.6 L789.8 650.8 L788.8 651.0Z" fill="rgba(100,100,210,0.36)" stroke="none"/>
<path d="M845.8 600.4 L846.8 601.0 L847.8 601.3 L848.8 601.5 L849.8 601.7 L850.8 601.9 L851.8 602.0 L852.8 602.0 L853.8 602.0 L854.8 602.0 L855.8 602.0 L856.8 602.0 L857.8 602.0 L858.8 602.0 L859.8 602.0 L860.8 602.2 L861.8 602.3 L862.8 602.6 L863.8 602.9 L864.8 603.5 L865.8 604.1 L866.8 604.9 L867.8 605.8 L868.8 606.7 L869.8 607.6 L870.8 608.5 L871.8 609.4 L872.8 610.2 L873.8 611.1 L874.8 612.0 L875.8 612.9 L876.8 613.9 L877.8 614.7 L878.8 615.5 L879.8 616.1 L880.8 616.6 L881.8 616.9 L882.8 617.2 L883.8 617.5 L884.8 617.8 L885.8 618.1 L886.8 618.4 L887.8 618.9 L888.8 619.5 L889.8 620.2 L890.8 621.0 L891.8 621.9 L892.8 622.8 L893.8 623.8 L894.8 624.8 L895.8 625.8 L896.8 627.0 L897.8 628.4 L898.8 629.7 L899.8 631.0 L900.8 632.2 L901.8 633.2 L902.8 633.9 L903.8 634.4 L904.8 634.7 L905.8 635.0 L906.8 635.3 L907.8 635.7 L908.8 636.2 L909.8 637.1 L910.8 638.5 L911.8 640.1 L912.8 641.8 L913.8 643.4 L914.8 644.7 L915.8 645.8 L916.8 646.7 L917.8 647.5 L918.8 648.3 L919.8 649.1 L920.8 649.9 L921.8 650.6 L922.8 651.5 L923.8 652.4 L924.8 653.5 L925.8 654.5 L926.8 655.4 L927.8 656.0 L928.8 656.2 L929.8 655.4 L930.8 653.4 L931.8 651.2 L932.8 649.7 L933.8 648.8 L934.8 647.9 L935.8 647.2 L935.8 647.5 L934.8 647.5 L933.8 647.5 L932.8 647.5 L931.8 647.4 L930.8 646.9 L929.8 646.1 L928.8 645.2 L927.8 644.1 L926.8 643.0 L925.8 641.9 L924.8 641.0 L923.8 640.2 L922.8 639.3 L921.8 638.4 L920.8 637.6 L919.8 636.7 L918.8 635.8 L917.8 634.9 L916.8 634.0 L915.8 633.2 L914.8 632.3 L913.8 631.4 L912.8 630.5 L911.8 629.6 L910.8 628.7 L909.8 627.8 L908.8 626.9 L907.8 626.1 L906.8 625.2 L905.8 624.4 L904.8 623.5 L903.8 622.7 L902.8 622.0 L901.8 621.2 L900.8 620.4 L899.8 619.7 L898.8 618.9 L897.8 618.2 L896.8 617.5 L895.8 616.8 L894.8 616.1 L893.8 615.4 L892.8 614.7 L891.8 614.1 L890.8 613.4 L889.8 612.8 L888.8 612.2 L887.8 611.6 L886.8 611.0 L885.8 610.4 L884.8 609.9 L883.8 609.3 L882.8 608.8 L881.8 608.2 L880.8 607.7 L879.8 607.2 L878.8 606.7 L877.8 606.2 L876.8 605.8 L875.8 605.3 L874.8 604.9 L873.8 604.5 L872.8 604.0 L871.8 603.6 L870.8 603.1 L869.8 602.7 L868.8 602.3 L867.8 602.0 L866.8 601.7 L865.8 601.4 L864.8 601.2 L863.8 601.0 L862.8 600.8 L861.8 600.7 L860.8 600.5 L859.8 600.4 L858.8 600.2 L857.8 600.1 L856.8 600.1 L855.8 600.0 L854.8 600.0 L853.8 600.0 L852.8 600.0 L851.8 600.0 L850.8 600.0 L849.8 600.0 L848.8 600.0 L847.8 600.0 L846.8 600.0 L845.8 600.0Z" fill="rgba(225,120,225,0.45)" stroke="none"/>
<path d="M935.8 647.2 L936.8 646.4 L937.8 645.7 L938.8 644.9 L939.8 644.0 L940.8 642.9 L941.8 641.6 L942.8 640.2 L943.8 638.8 L944.8 637.3 L945.8 635.9 L946.8 634.6 L947.8 633.5 L948.8 632.4 L949.8 631.2 L950.8 630.1 L951.8 629.2 L952.8 628.5 L953.8 628.1 L954.8 628.0 L955.8 628.4 L956.8 629.0 L957.8 629.7 L958.8 630.4 L959.8 631.1 L960.8 631.6 L961.8 632.1 L962.8 632.6 L963.8 633.0 L964.8 633.5 L965.8 634.0 L966.8 634.6 L966.8 634.4 L965.8 634.8 L964.8 635.2 L963.8 635.7 L962.8 636.2 L961.8 636.7 L960.8 637.2 L959.8 637.6 L958.8 638.1 L957.8 638.5 L956.8 639.0 L955.8 639.5 L954.8 640.0 L953.8 640.6 L952.8 641.1 L951.8 641.6 L950.8 642.1 L949.8 642.6 L948.8 643.2 L947.8 643.8 L946.8 644.5 L945.8 645.1 L944.8 645.8 L943.8 646.4 L942.8 646.8 L941.8 647.2 L940.8 647.4 L939.8 647.5 L938.8 647.5 L937.8 647.5 L936.8 647.5 L935.8 647.5Z" fill="rgba(100,100,210,0.36)" stroke="none"/>
<path d="M966.8 634.6 L967.8 635.2 L968.8 635.9 L969.8 636.7 L970.8 637.5 L971.8 638.4 L972.8 639.3 L973.8 640.2 L974.8 641.1 L975.8 641.8 L976.8 642.6 L977.8 643.4 L978.8 644.2 L979.8 644.9 L980.8 645.7 L981.8 646.4 L982.8 647.1 L983.8 647.9 L984.8 648.6 L985.8 649.3 L986.8 650.2 L987.8 651.1 L988.8 651.9 L989.8 652.7 L990.8 653.3 L991.8 653.7 L992.8 653.8 L993.8 653.8 L994.8 653.8 L995.8 653.8 L996.8 653.8 L997.8 653.7 L998.8 653.5 L999.8 653.1 L1000.8 652.5 L1001.8 651.8 L1002.8 651.0 L1003.8 649.4 L1004.8 647.4 L1004.8 648.2 L1003.8 648.4 L1002.8 648.5 L1001.8 648.6 L1000.8 648.7 L999.8 648.7 L998.8 648.6 L997.8 648.2 L996.8 647.6 L995.8 647.0 L994.8 646.2 L993.8 645.4 L992.8 644.6 L991.8 643.8 L990.8 643.0 L989.8 642.3 L988.8 641.7 L987.8 641.0 L986.8 640.3 L985.8 639.6 L984.8 638.9 L983.8 638.2 L982.8 637.6 L981.8 637.0 L980.8 636.5 L979.8 636.2 L978.8 635.8 L977.8 635.4 L976.8 635.1 L975.8 634.8 L974.8 634.5 L973.8 634.2 L972.8 634.0 L971.8 633.9 L970.8 633.8 L969.8 633.8 L968.8 633.9 L967.8 634.1 L966.8 634.4Z" fill="rgba(225,120,225,0.45)" stroke="none"/>
<path d="M1004.8 647.4 L1005.8 646.0 L1006.8 645.7 L1007.8 645.8 L1008.8 645.8 L1009.8 645.8 L1010.8 645.9 L1011.8 646.5 L1012.8 647.1 L1013.8 647.5 L1014.8 647.6 L1015.8 647.7 L1016.8 647.8 L1017.8 647.9 L1018.8 648.0 L1019.8 649.5 L1019.8 648.7 L1018.8 648.5 L1017.8 648.3 L1016.8 648.1 L1015.8 648.0 L1014.8 647.8 L1013.8 647.7 L1012.8 647.6 L1011.8 647.5 L1010.8 647.5 L1009.8 647.5 L1008.8 647.6 L1007.8 647.7 L1006.8 647.8 L1005.8 648.0 L1004.8 648.2Z" fill="rgba(100,100,210,0.36)" stroke="none"/>
<path d="M1019.8 649.5 L1020.8 651.6 L1021.8 654.0 L1022.8 656.6 L1023.8 659.0 L1024.8 660.9 L1025.8 662.2 L1026.8 663.3 L1027.8 664.2 L1028.8 665.0 L1029.8 665.9 L1030.8 666.9 L1031.8 668.2 L1032.8 670.1 L1033.8 672.3 L1034.8 674.5 L1035.8 676.4 L1036.8 677.7 L1037.8 678.0 L1038.8 677.3 L1039.8 676.2 L1040.8 675.3 L1041.8 674.8 L1042.8 674.6 L1043.8 674.3 L1044.8 674.1 L1045.8 674.0 L1046.8 673.8 L1047.8 673.6 L1048.8 673.4 L1049.8 673.1 L1050.8 672.7 L1051.8 672.0 L1052.8 671.1 L1052.8 671.8 L1051.8 671.6 L1050.8 671.4 L1049.8 671.2 L1048.8 670.8 L1047.8 670.3 L1046.8 669.6 L1045.8 668.9 L1044.8 668.0 L1043.8 667.1 L1042.8 666.2 L1041.8 665.3 L1040.8 664.4 L1039.8 663.5 L1038.8 662.7 L1037.8 661.8 L1036.8 660.9 L1035.8 660.0 L1034.8 659.0 L1033.8 658.1 L1032.8 657.2 L1031.8 656.4 L1030.8 655.6 L1029.8 654.8 L1028.8 654.1 L1027.8 653.3 L1026.8 652.5 L1025.8 651.8 L1024.8 651.0 L1023.8 650.4 L1022.8 649.8 L1021.8 649.3 L1020.8 648.9 L1019.8 648.7Z" fill="rgba(225,120,225,0.45)" stroke="none"/>
<path d="M1052.8 671.1 L1053.8 670.2 L1054.8 669.3 L1055.8 668.6 L1056.8 668.1 L1057.8 668.0 L1058.8 668.3 L1059.8 668.7 L1060.8 668.9 L1061.8 669.2 L1062.8 669.5 L1063.8 669.7 L1064.8 670.0 L1065.8 670.2 L1066.8 670.4 L1067.8 670.5 L1068.8 670.5 L1069.8 670.3 L1070.8 669.9 L1071.8 669.2 L1072.8 668.6 L1073.8 667.9 L1074.8 667.1 L1075.8 666.1 L1076.8 665.1 L1077.8 664.0 L1078.8 662.9 L1079.8 661.6 L1080.8 660.1 L1081.8 658.3 L1082.8 656.2 L1083.8 654.0 L1084.8 651.7 L1085.8 649.5 L1086.8 647.6 L1087.8 645.9 L1088.8 644.3 L1089.8 642.7 L1090.8 641.2 L1091.8 639.8 L1092.8 638.6 L1093.8 637.4 L1094.8 636.5 L1095.8 635.6 L1096.8 634.9 L1097.8 634.2 L1098.8 633.5 L1099.8 632.9 L1100.8 632.4 L1101.8 632.0 L1102.8 631.7 L1103.8 631.4 L1104.8 631.1 L1105.8 630.9 L1106.8 630.7 L1107.8 630.5 L1108.8 630.5 L1109.8 630.6 L1110.8 630.9 L1111.8 631.2 L1112.8 631.2 L1113.8 631.2 L1114.8 631.2 L1115.8 631.2 L1116.8 631.2 L1117.8 631.2 L1118.8 631.2 L1119.8 631.2 L1120.8 631.2 L1121.8 631.2 L1122.8 631.3 L1123.8 631.7 L1123.8 631.5 L1122.8 631.4 L1121.8 631.3 L1120.8 631.3 L1119.8 631.3 L1118.8 631.4 L1117.8 631.6 L1116.8 632.0 L1115.8 632.5 L1114.8 633.0 L1113.8 633.7 L1112.8 634.3 L1111.8 635.0 L1110.8 635.7 L1109.8 636.4 L1108.8 637.2 L1107.8 638.2 L1106.8 639.2 L1105.8 640.4 L1104.8 641.6 L1103.8 642.8 L1102.8 644.1 L1101.8 645.4 L1100.8 646.6 L1099.8 647.8 L1098.8 649.0 L1097.8 650.3 L1096.8 651.6 L1095.8 652.9 L1094.8 654.3 L1093.8 655.6 L1092.8 656.8 L1091.8 658.1 L1090.8 659.2 L1089.8 660.3 L1088.8 661.3 L1087.8 662.4 L1086.8 663.4 L1085.8 664.4 L1084.8 665.4 L1083.8 666.3 L1082.8 667.1 L1081.8 667.8 L1080.8 668.4 L1079.8 668.8 L1078.8 669.2 L1077.8 669.5 L1076.8 669.8 L1075.8 670.1 L1074.8 670.3 L1073.8 670.6 L1072.8 670.8 L1071.8 670.9 L1070.8 671.1 L1069.8 671.3 L1068.8 671.5 L1067.8 671.6 L1066.8 671.8 L1065.8 672.0 L1064.8 672.1 L1063.8 672.3 L1062.8 672.4 L1061.8 672.4 L1060.8 672.5 L1059.8 672.5 L1058.8 672.5 L1057.8 672.4 L1056.8 672.3 L1055.8 672.2 L1054.8 672.1 L1053.8 672.0 L1052.8 671.8Z" fill="rgba(100,100,210,0.36)" stroke="none"/>
<path d="M1123.8 631.7 L1124.8 632.7 L1125.8 633.9 L1126.8 635.2 L1127.8 636.6 L1128.8 638.1 L1129.8 639.8 L1130.8 641.7 L1131.8 643.7 L1132.8 645.8 L1133.8 647.7 L1134.8 649.6 L1135.8 651.4 L1136.8 653.3 L1137.8 655.3 L1138.8 657.1 L1139.8 658.6 L1140.8 659.7 L1141.8 660.2 L1142.8 660.5 L1143.8 660.6 L1144.8 660.8 L1145.8 661.1 L1146.8 661.5 L1147.8 662.3 L1148.8 663.3 L1149.8 664.5 L1150.8 665.7 L1151.8 666.8 L1152.8 667.7 L1153.8 668.5 L1154.8 669.2 L1155.8 669.9 L1156.8 670.5 L1157.8 671.2 L1158.8 671.8 L1159.8 672.4 L1160.8 672.9 L1161.8 673.4 L1162.8 674.0 L1163.8 674.4 L1164.8 674.9 L1165.8 675.4 L1166.8 675.9 L1167.8 676.4 L1168.8 676.8 L1169.8 677.3 L1170.8 677.7 L1171.8 678.2 L1172.8 678.7 L1173.8 679.2 L1174.8 679.8 L1175.8 680.6 L1176.8 681.6 L1177.8 682.8 L1178.8 684.0 L1179.8 685.3 L1180.8 686.7 L1181.8 687.9 L1182.8 689.0 L1183.8 690.1 L1184.8 691.2 L1185.8 692.2 L1186.8 693.2 L1187.8 694.2 L1188.8 695.2 L1189.8 696.0 L1190.8 696.9 L1191.8 697.8 L1192.8 698.0 L1193.8 698.0 L1194.8 698.0 L1195.8 698.0 L1196.8 698.0 L1197.8 698.0 L1198.8 698.0 L1199.8 698.0 L1200.8 698.1 L1201.8 698.5 L1202.8 699.1 L1203.8 699.9 L1204.8 700.9 L1205.8 701.9 L1206.8 703.0 L1207.8 704.0 L1208.8 705.3 L1209.8 706.9 L1210.8 708.6 L1211.8 710.3 L1212.8 712.0 L1213.8 713.5 L1214.8 714.8 L1215.8 715.7 L1216.8 716.6 L1217.8 717.5 L1218.8 718.4 L1219.8 719.2 L1220.8 719.8 L1221.8 720.3 L1222.8 720.6 L1223.8 720.8 L1224.8 720.4 L1225.8 719.5 L1226.8 718.4 L1227.8 717.2 L1228.8 715.9 L1229.8 714.5 L1230.8 712.9 L1231.8 711.2 L1231.8 712.5 L1230.8 712.5 L1229.8 712.5 L1228.8 712.5 L1227.8 712.5 L1226.8 712.4 L1225.8 711.9 L1224.8 711.1 L1223.8 710.2 L1222.8 709.1 L1221.8 708.0 L1220.8 706.9 L1219.8 706.0 L1218.8 705.1 L1217.8 704.2 L1216.8 703.3 L1215.8 702.3 L1214.8 701.4 L1213.8 700.5 L1212.8 699.6 L1211.8 698.8 L1210.8 698.0 L1209.8 697.3 L1208.8 696.8 L1207.8 696.2 L1206.8 695.8 L1205.8 695.3 L1204.8 694.9 L1203.8 694.5 L1202.8 694.0 L1201.8 693.5 L1200.8 693.0 L1199.8 692.3 L1198.8 691.6 L1197.8 690.8 L1196.8 689.9 L1195.8 689.0 L1194.8 688.0 L1193.8 687.0 L1192.8 686.1 L1191.8 685.2 L1190.8 684.3 L1189.8 683.6 L1188.8 682.9 L1187.8 682.2 L1186.8 681.6 L1185.8 681.0 L1184.8 680.4 L1183.8 679.8 L1182.8 679.2 L1181.8 678.6 L1180.8 678.0 L1179.8 677.3 L1178.8 676.6 L1177.8 675.9 L1176.8 675.2 L1175.8 674.4 L1174.8 673.6 L1173.8 672.9 L1172.8 672.1 L1171.8 671.3 L1170.8 670.6 L1169.8 669.8 L1168.8 669.1 L1167.8 668.4 L1166.8 667.7 L1165.8 667.0 L1164.8 666.3 L1163.8 665.6 L1162.8 664.8 L1161.8 664.0 L1160.8 663.2 L1159.8 662.3 L1158.8 661.2 L1157.8 660.1 L1156.8 658.9 L1155.8 657.6 L1154.8 656.2 L1153.8 654.9 L1152.8 653.5 L1151.8 652.2 L1150.8 650.9 L1149.8 649.7 L1148.8 648.5 L1147.8 647.3 L1146.8 646.0 L1145.8 644.8 L1144.8 643.6 L1143.8 642.4 L1142.8 641.3 L1141.8 640.3 L1140.8 639.4 L1139.8 638.5 L1138.8 637.7 L1137.8 636.9 L1136.8 636.2 L1135.8 635.4 L1134.8 634.7 L1133.8 634.1 L1132.8 633.5 L1131.8 633.1 L1130.8 632.7 L1129.8 632.4 L1128.8 632.2 L1127.8 632.1 L1126.8 631.9 L1125.8 631.7 L1124.8 631.6 L1123.8 631.5Z" fill="rgba(225,120,225,0.45)" stroke="none"/>
<path d="M1231.8 711.2 L1232.8 709.4 L1233.8 707.5 L1234.8 705.5 L1235.8 703.3 L1236.8 700.4 L1237.8 697.1 L1238.8 693.8 L1239.8 690.7 L1240.8 688.1 L1241.8 686.2 L1242.8 685.4 L1243.8 684.9 L1244.8 684.5 L1245.8 684.1 L1246.8 683.7 L1247.8 683.4 L1248.8 683.2 L1249.8 682.9 L1250.8 682.7 L1251.8 682.6 L1252.8 682.5 L1253.8 682.5 L1254.8 682.6 L1255.8 683.0 L1256.8 683.4 L1257.8 683.9 L1258.8 684.4 L1259.8 685.1 L1260.8 685.9 L1261.8 686.8 L1262.8 687.6 L1263.8 688.5 L1263.8 687.2 L1262.8 687.8 L1261.8 688.4 L1260.8 689.0 L1259.8 689.7 L1258.8 690.4 L1257.8 691.1 L1256.8 691.8 L1255.8 692.7 L1254.8 693.6 L1253.8 694.7 L1252.8 695.8 L1251.8 696.9 L1250.8 698.0 L1249.8 699.0 L1248.8 700.0 L1247.8 701.0 L1246.8 702.1 L1245.8 703.1 L1244.8 704.1 L1243.8 705.1 L1242.8 706.0 L1241.8 707.0 L1240.8 708.0 L1239.8 709.2 L1238.8 710.2 L1237.8 711.2 L1236.8 711.9 L1235.8 712.4 L1234.8 712.5 L1233.8 712.5 L1232.8 712.5 L1231.8 712.5Z" fill="rgba(100,100,210,0.36)" stroke="none"/>
<path d="M1263.8 688.5 L1264.8 689.4 L1265.8 690.1 L1266.8 690.8 L1267.8 691.4 L1268.8 691.9 L1269.8 692.5 L1270.8 693.0 L1271.8 693.5 L1272.8 693.8 L1273.8 694.1 L1274.8 694.2 L1275.8 694.2 L1276.8 694.2 L1277.8 694.2 L1278.8 694.2 L1279.8 694.0 L1280.8 693.7 L1281.8 693.4 L1282.8 693.1 L1283.8 692.8 L1284.8 692.6 L1285.8 692.5 L1286.8 692.5 L1287.8 692.8 L1288.8 693.2 L1289.8 693.6 L1290.8 694.1 L1291.8 694.8 L1292.8 695.5 L1293.8 696.3 L1294.8 697.2 L1295.8 698.2 L1296.8 699.4 L1297.8 701.3 L1298.8 703.3 L1299.8 704.8 L1300.8 705.6 L1301.8 706.2 L1302.8 706.8 L1303.8 707.3 L1304.8 707.8 L1305.8 708.3 L1306.8 708.7 L1307.8 709.1 L1308.8 709.5 L1309.8 709.9 L1310.8 710.3 L1311.8 710.8 L1312.8 711.3 L1313.8 711.7 L1314.8 712.2 L1315.8 712.6 L1316.8 713.0 L1317.8 713.3 L1318.8 713.5 L1319.8 713.7 L1320.8 713.8 L1321.8 713.9 L1322.8 714.0 L1323.8 714.1 L1324.8 714.2 L1325.8 714.3 L1326.8 714.4 L1327.8 714.4 L1328.8 714.5 L1329.8 714.5 L1330.8 714.5 L1331.8 714.4 L1332.8 714.0 L1333.8 713.4 L1334.8 712.7 L1335.8 712.0 L1335.8 712.4 L1334.8 712.2 L1333.8 712.0 L1332.8 711.7 L1331.8 711.4 L1330.8 711.1 L1329.8 710.8 L1328.8 710.4 L1327.8 710.1 L1326.8 709.7 L1325.8 709.3 L1324.8 708.9 L1323.8 708.4 L1322.8 707.8 L1321.8 707.3 L1320.8 706.7 L1319.8 706.2 L1318.8 705.6 L1317.8 705.1 L1316.8 704.6 L1315.8 704.1 L1314.8 703.6 L1313.8 703.1 L1312.8 702.5 L1311.8 702.0 L1310.8 701.5 L1309.8 701.0 L1308.8 700.6 L1307.8 700.1 L1306.8 699.7 L1305.8 699.3 L1304.8 698.9 L1303.8 698.5 L1302.8 698.1 L1301.8 697.8 L1300.8 697.4 L1299.8 697.1 L1298.8 696.7 L1297.8 696.3 L1296.8 696.0 L1295.8 695.6 L1294.8 695.2 L1293.8 694.8 L1292.8 694.5 L1291.8 694.1 L1290.8 693.7 L1289.8 693.3 L1288.8 693.0 L1287.8 692.6 L1286.8 692.2 L1285.8 691.8 L1284.8 691.4 L1283.8 691.0 L1282.8 690.6 L1281.8 690.2 L1280.8 689.9 L1279.8 689.5 L1278.8 689.1 L1277.8 688.8 L1276.8 688.5 L1275.8 688.2 L1274.8 687.9 L1273.8 687.5 L1272.8 687.2 L1271.8 686.9 L1270.8 686.7 L1269.8 686.5 L1268.8 686.3 L1267.8 686.3 L1266.8 686.3 L1265.8 686.5 L1264.8 686.8 L1263.8 687.2Z" fill="rgba(225,120,225,0.45)" stroke="none"/>
<path d="M1335.8 712.0 L1336.8 711.3 L1337.8 710.6 L1338.8 709.8 L1339.8 709.0 L1340.8 708.3 L1341.8 707.6 L1342.8 706.9 L1343.8 706.2 L1344.8 705.6 L1345.8 705.0 L1346.8 704.3 L1347.8 703.7 L1348.8 703.1 L1349.8 702.7 L1350.8 702.3 L1351.8 702.1 L1352.8 702.0 L1353.8 702.0 L1354.8 702.0 L1355.8 702.0 L1356.8 702.0 L1357.8 702.0 L1358.8 702.0 L1359.8 702.0 L1360.8 702.0 L1361.8 702.0 L1362.8 702.0 L1363.8 702.0 L1364.8 701.6 L1365.8 700.5 L1366.8 699.4 L1367.8 698.0 L1368.8 696.4 L1369.8 694.6 L1370.8 692.7 L1371.8 690.9 L1372.8 689.2 L1373.8 687.7 L1374.8 686.5 L1375.8 685.5 L1376.8 684.6 L1377.8 683.7 L1378.8 682.9 L1379.8 682.1 L1380.8 681.4 L1381.8 680.9 L1382.8 680.6 L1383.8 680.5 L1384.8 680.6 L1385.8 680.8 L1386.8 681.1 L1387.8 681.4 L1388.8 681.6 L1389.8 681.7 L1390.8 681.8 L1391.8 681.8 L1392.8 681.7 L1393.8 681.6 L1394.8 681.3 L1395.8 680.9 L1396.8 680.4 L1397.8 679.8 L1398.8 679.0 L1399.8 677.8 L1400.8 676.4 L1401.8 674.9 L1402.8 673.3 L1403.8 671.7 L1404.8 670.3 L1405.8 669.1 L1406.8 667.8 L1407.8 666.5 L1408.8 665.3 L1409.8 664.1 L1410.8 662.9 L1411.8 661.9 L1412.8 661.0 L1413.8 660.1 L1414.8 659.3 L1415.8 658.8 L1416.8 658.8 L1417.8 658.8 L1418.8 658.8 L1419.8 658.8 L1420.8 658.8 L1421.8 658.8 L1422.8 658.7 L1423.8 658.5 L1424.8 658.1 L1425.8 657.4 L1426.8 656.6 L1427.8 655.8 L1428.8 654.8 L1429.8 654.0 L1430.8 653.1 L1431.8 652.1 L1432.8 651.1 L1433.8 650.0 L1434.8 648.8 L1435.8 647.6 L1436.8 646.4 L1437.8 645.2 L1438.8 644.0 L1439.8 642.8 L1440.8 641.6 L1441.8 640.3 L1442.8 639.0 L1443.8 637.7 L1444.8 636.5 L1445.8 635.3 L1446.8 634.3 L1447.8 633.6 L1448.8 632.9 L1449.8 632.3 L1450.8 631.7 L1451.8 631.2 L1452.8 630.8 L1453.8 630.4 L1454.8 630.1 L1455.8 629.8 L1456.8 629.5 L1457.8 629.3 L1458.8 629.2 L1459.8 629.4 L1460.8 629.6 L1461.8 630.0 L1462.8 630.4 L1463.8 630.8 L1464.8 631.2 L1465.8 631.2 L1466.8 631.0 L1467.8 630.6 L1468.8 630.2 L1469.8 629.7 L1470.8 629.3 L1471.8 628.9 L1472.8 628.7 L1473.8 628.5 L1474.8 628.4 L1475.8 628.2 L1476.8 628.1 L1477.8 628.0 L1478.8 628.0 L1479.8 628.0 L1480.8 628.2 L1481.8 628.4 L1482.8 628.6 L1483.8 628.8 L1484.8 629.0 L1484.8 630.0 L1483.8 630.0 L1482.8 630.0 L1481.8 630.0 L1480.8 630.0 L1479.8 630.0 L1478.8 630.0 L1477.8 630.0 L1476.8 630.0 L1475.8 630.0 L1474.8 630.0 L1473.8 630.1 L1472.8 630.2 L1471.8 630.4 L1470.8 630.6 L1469.8 630.9 L1468.8 631.2 L1467.8 631.5 L1466.8 631.9 L1465.8 632.2 L1464.8 632.6 L1463.8 633.0 L1462.8 633.5 L1461.8 634.1 L1460.8 634.7 L1459.8 635.3 L1458.8 636.0 L1457.8 636.7 L1456.8 637.5 L1455.8 638.2 L1454.8 638.9 L1453.8 639.7 L1452.8 640.5 L1451.8 641.4 L1450.8 642.3 L1449.8 643.2 L1448.8 644.1 L1447.8 645.0 L1446.8 645.9 L1445.8 646.8 L1444.8 647.7 L1443.8 648.6 L1442.8 649.5 L1441.8 650.4 L1440.8 651.4 L1439.8 652.3 L1438.8 653.2 L1437.8 654.1 L1436.8 654.9 L1435.8 655.7 L1434.8 656.4 L1433.8 657.1 L1432.8 657.8 L1431.8 658.4 L1430.8 659.0 L1429.8 659.6 L1428.8 660.2 L1427.8 660.8 L1426.8 661.4 L1425.8 662.0 L1424.8 662.7 L1423.8 663.4 L1422.8 664.1 L1421.8 664.8 L1420.8 665.6 L1419.8 666.4 L1418.8 667.1 L1417.8 667.9 L1416.8 668.7 L1415.8 669.4 L1414.8 670.2 L1413.8 670.9 L1412.8 671.7 L1411.8 672.5 L1410.8 673.3 L1409.8 674.0 L1408.8 674.8 L1407.8 675.5 L1406.8 676.3 L1405.8 677.0 L1404.8 677.7 L1403.8 678.3 L1402.8 679.0 L1401.8 679.7 L1400.8 680.3 L1399.8 680.9 L1398.8 681.6 L1397.8 682.2 L1396.8 682.8 L1395.8 683.3 L1394.8 683.9 L1393.8 684.4 L1392.8 684.9 L1391.8 685.4 L1390.8 685.8 L1389.8 686.3 L1388.8 686.8 L1387.8 687.3 L1386.8 687.8 L1385.8 688.3 L1384.8 688.9 L1383.8 689.5 L1382.8 690.3 L1381.8 691.0 L1380.8 691.8 L1379.8 692.6 L1378.8 693.4 L1377.8 694.2 L1376.8 695.0 L1375.8 695.7 L1374.8 696.4 L1373.8 697.1 L1372.8 697.8 L1371.8 698.5 L1370.8 699.2 L1369.8 699.9 L1368.8 700.5 L1367.8 701.1 L1366.8 701.7 L1365.8 702.2 L1364.8 702.8 L1363.8 703.3 L1362.8 703.8 L1361.8 704.3 L1360.8 704.8 L1359.8 705.2 L1358.8 705.7 L1357.8 706.1 L1356.8 706.6 L1355.8 707.0 L1354.8 707.4 L1353.8 707.8 L1352.8 708.2 L1351.8 708.6 L1350.8 708.9 L1349.8 709.3 L1348.8 709.6 L1347.8 709.9 L1346.8 710.2 L1345.8 710.6 L1344.8 710.9 L1343.8 711.2 L1342.8 711.5 L1341.8 711.8 L1340.8 712.1 L1339.8 712.3 L1338.8 712.4 L1337.8 712.5 L1336.8 712.5 L1335.8 712.4Z" fill="rgba(100,100,210,0.36)" stroke="none"/>
<path d="M55.9 601.8 L56.9 601.2 L57.9 600.7 L58.9 600.0 L59.9 599.2 L60.9 598.4 L61.9 597.6 L62.9 596.9 L63.9 596.3 L64.8 595.9 L65.8 595.5 L66.8 595.2 L67.8 594.8 L68.8 594.5 L69.8 594.1 L70.8 593.8 L71.8 593.5 L72.8 593.1 L73.8 592.8 L74.8 593.3 L75.8 594.3 L76.8 595.4 L77.8 596.7 L78.8 598.0 L79.8 599.3 L80.8 600.6 L81.8 602.1 L82.8 603.7 L83.8 605.5 L84.8 607.3 L85.8 609.1 L86.8 610.8 L87.8 612.7 L88.8 615.1 L89.8 618.2 L90.8 622.5 L91.8 627.5 L92.8 632.7 L93.8 637.7 L94.8 641.8 L95.8 645.5 L96.8 649.0 L97.8 652.3 L98.8 655.5 L99.8 658.7 L100.8 661.8 L101.8 664.7 L102.8 667.6 L103.8 670.5 L104.8 673.4 L105.8 676.2 L106.8 679.4 L107.8 681.4 L108.8 681.6 L109.8 681.7 L110.8 681.2 L111.8 680.5 L112.8 680.1 L113.8 679.8 L114.8 679.6 L115.8 679.4 L116.8 679.2 L117.8 679.1 L118.8 679.0 L119.8 679.0 L120.8 679.2 L121.8 679.5 L122.8 680.0 L123.8 680.8 L124.8 681.9 L125.8 683.2 L126.8 684.5 L127.8 685.8 L128.8 687.1 L129.8 688.4 L130.8 689.9 L131.8 691.4 L132.8 692.9 L133.8 694.5 L134.8 696.0 L135.8 697.6 L136.8 699.2 L137.8 700.7 L138.8 702.1 L139.8 703.1 L140.8 703.5 L141.8 703.8 L142.8 704.0 L143.8 704.0 L144.8 704.0 L145.8 704.0 L146.8 703.6 L147.8 703.1 L148.8 702.4 L149.8 701.9 L150.8 701.8 L151.8 701.7 L152.8 701.7 L153.8 701.7 L154.8 701.5 L155.8 701.2 L156.8 700.9 L157.8 700.6 L158.8 700.3 L159.8 699.9 L160.8 699.6 L161.8 699.2 L162.8 698.7 L163.8 698.4 L164.8 698.0 L165.8 697.8 L166.8 697.8 L167.8 697.9 L168.8 698.1 L169.8 698.3 L170.8 698.5 L171.8 698.8 L172.8 699.3 L173.8 699.9 L174.8 700.5 L175.8 701.2 L176.8 701.9 L177.8 702.5 L178.8 702.7 L179.8 702.9 L180.8 702.9 L181.8 703.0 L182.8 703.0 L183.8 703.0 L184.8 702.1 L185.8 700.6 L186.8 698.9 L187.8 697.1 L188.8 695.5 L189.8 693.4 L190.8 689.7 L191.8 684.9 L192.8 679.3 L193.8 673.3 L194.8 667.3 L195.8 661.3 L196.8 655.5 L197.8 649.8 L198.8 644.2 L199.8 638.6 L200.8 633.0 L201.8 627.8 L202.8 623.4 L203.8 619.2 L204.8 615.2 L205.8 611.3 L206.8 607.3 L207.8 603.6 L208.8 600.2 L209.8 598.3 L210.8 598.0 L211.8 597.9 L212.8 598.3 L213.8 598.8 L214.8 599.3 L215.8 599.8 L216.8 600.1 L217.8 600.4 L218.8 600.7 L219.8 600.9 L220.8 601.3 L221.8 601.7 L222.8 602.2 L223.8 602.7 L224.8 603.2 L225.8 603.7 L226.8 604.2 L227.8 604.6 L228.8 605.0 L229.8 605.3 L230.8 605.6 L231.8 605.9 L232.8 606.1 L233.8 606.4 L234.8 606.7 L235.8 607.0 L236.8 607.4 L237.8 607.9 L238.8 608.3 L239.8 608.8 L240.8 609.5 L241.8 610.4 L242.8 612.3 L243.8 614.8 L244.8 617.4 L245.8 620.1 L246.8 622.9 L247.8 625.6 L248.8 627.9 L249.8 630.2 L250.8 632.3 L251.8 634.5 L252.8 636.6 L253.8 638.7 L254.8 640.8 L255.8 642.9 L256.9 645.0 L257.9 647.1 L258.9 649.3 L259.9 651.3 L260.9 652.7 L261.9 653.7 L262.9 654.3 L263.9 654.9 L264.9 655.3 L265.9 655.8 L266.9 656.2 L267.9 656.7 L268.9 657.4 L269.9 658.5 L270.9 660.4 L271.9 662.6 L272.9 664.9 L273.9 667.2 L274.9 669.6 L275.9 672.0 L276.9 674.3 L277.9 676.7 L278.9 679.5 L279.9 681.5 L280.9 682.0 L281.9 682.3 L282.9 681.6 L283.9 680.5 L284.9 679.4 L285.9 678.2 L286.9 677.0 L287.9 675.8 L288.9 674.3 L289.9 672.8 L290.9 671.2 L291.9 669.7 L292.9 668.3 L293.9 666.5 L294.9 662.7 L295.9 657.6 L296.9 652.0 L297.9 646.3 L298.9 641.0 L299.9 636.7 L300.9 633.9 L301.9 631.7 L302.9 629.6 L303.9 627.8 L304.9 625.9 L305.9 624.2 L306.9 622.7 L307.9 621.2 L308.9 619.8 L309.9 618.4 L310.9 617.1 L311.9 616.3 L312.9 616.8 L313.9 617.7 L314.9 618.8 L315.9 620.1 L316.9 621.5 L317.9 622.7 L318.9 623.7 L319.9 624.5 L320.9 625.2 L321.9 625.9 L322.9 626.6 L323.9 627.3 L324.9 627.9 L325.9 628.4 L326.9 628.7 L327.9 628.9 L328.9 629.1 L329.9 629.2 L330.9 629.3 L331.9 629.5 L332.9 629.6 L333.9 629.7 L334.9 629.9 L335.9 630.0 L336.9 630.1 L337.9 630.3 L338.9 630.5 L339.9 630.6 L340.9 630.8 L341.9 631.0 L342.9 631.2 L343.9 631.5 L344.9 631.9 L345.9 632.3 L346.9 632.7 L347.9 633.1 L348.9 633.5 L349.9 634.0 L350.9 635.2 L351.9 636.9 L352.9 638.9 L353.9 641.1 L354.9 643.4 L355.9 645.6 L356.9 647.9 L357.9 650.2 L358.9 652.5 L359.9 654.8 L360.9 657.1 L361.9 659.5 L362.9 661.9 L363.9 664.3 L364.9 666.6 L365.9 669.0 L366.9 671.4 L367.9 673.8 L368.9 676.2 L369.9 678.5 L370.9 680.9 L371.9 683.3 L372.9 685.8 L373.9 688.1 L374.9 690.3 L375.9 691.9 L376.9 692.6 L377.9 692.9 L378.9 693.1 L379.9 693.2 L380.9 693.2 L381.9 693.2 L382.9 693.2 L383.9 693.2 L384.9 693.2 L385.9 693.1 L386.9 693.0 L387.9 692.8 L388.9 691.9 L389.9 690.4 L390.9 688.8 L391.9 687.2 L392.9 685.4 L393.9 683.7 L394.9 682.1 L395.9 680.6 L396.9 679.4 L397.9 678.3 L398.9 677.2 L399.9 676.2 L400.9 675.3 L401.9 674.2 L402.9 672.1 L403.9 669.0 L404.9 664.5 L405.9 659.3 L406.9 653.9 L407.9 649.0 L408.9 645.7 L409.9 643.0 L410.9 640.6 L411.9 638.5 L412.9 636.4 L413.9 634.4 L414.9 632.5 L415.9 630.7 L416.9 628.9 L417.9 627.2 L418.9 625.1 L419.9 623.7 L420.9 623.3 L421.9 623.2 L422.9 624.5 L423.9 626.9 L424.9 629.2 L425.9 631.6 L426.9 633.5 L427.9 635.1 L428.9 636.4 L429.9 637.5 L430.9 638.5 L431.9 639.6 L432.9 641.0 L433.9 642.6 L434.9 644.8 L435.9 647.2 L436.9 649.6 L437.9 652.1 L438.9 654.8 L439.9 657.1 L440.9 658.7 L441.9 660.0 L442.9 660.9 L443.9 661.6 L444.9 662.4 L445.9 662.9 L446.9 662.8 L447.9 662.6 L448.9 662.0 L449.9 661.0 L450.9 660.2 L451.9 659.1 L452.9 657.5 L453.9 655.3 L454.9 652.3 L455.9 648.9 L456.9 645.4 L457.9 641.9 L458.9 638.3 L459.9 634.7 L460.9 631.1 L461.9 627.5 L462.9 623.9 L463.9 620.3 L464.9 616.8 L465.9 613.5 L466.9 610.6 L467.9 607.9 L468.9 605.2 L469.9 602.6 L470.9 600.0 L471.9 597.9 L472.9 596.8 L473.9 596.0 L474.9 595.4 L475.9 594.9 L476.9 594.4 L477.9 594.1 L478.9 594.2 L479.9 594.4 L480.9 594.7 L481.9 595.1 L482.9 595.4 L483.9 595.9 L484.9 597.3 L485.9 599.5 L486.9 601.8 L487.9 604.4 L488.9 607.0 L489.9 609.5 L490.9 611.7 L491.9 613.6 L492.9 615.4 L493.9 617.2 L494.9 618.9 L495.9 620.5 L496.9 622.2 L497.9 624.0 L498.9 626.3 L499.9 628.7 L500.9 631.3 L501.9 633.9 L502.9 636.6 L503.9 639.2 L504.9 641.9 L505.9 644.6 L506.9 647.4 L507.9 650.1 L508.9 653.0 L509.9 655.7 L510.9 658.5 L511.9 660.9 L512.9 662.7 L513.9 664.2 L514.9 665.7 L515.9 666.9 L516.9 667.8 L517.9 668.5 L518.9 668.9 L519.9 669.2 L520.9 669.5 L521.9 669.6 L522.9 668.9 L523.9 667.4 L524.9 664.9 L525.9 661.5 L526.9 658.2 L527.9 654.8 L528.9 651.4 L529.9 648.1 L530.9 644.7 L531.9 641.4 L532.9 638.1 L533.9 634.7 L534.9 631.4 L535.9 628.1 L536.9 624.9 L537.9 621.7 L538.9 618.4 L539.9 615.2 L540.9 612.1 L541.9 609.5 L542.9 608.0 L543.9 606.8 L544.9 606.0 L545.9 605.2 L546.9 604.4 L547.9 603.8 L548.9 603.7 L549.9 603.6 L550.9 604.5 L551.9 606.1 L552.9 607.5 L553.9 609.1 L554.9 610.8 L555.9 612.7 L556.9 615.0 L557.9 617.5 L558.9 620.1 L559.9 622.7 L560.9 625.4 L561.9 628.1 L562.9 630.9 L563.9 634.0 L564.9 637.3 L565.9 640.7 L566.9 644.2 L567.9 647.5 L568.9 649.9 L569.9 652.1 L570.9 654.1 L571.9 655.9 L572.9 658.0 L573.9 659.6 L574.9 660.5 L575.9 661.0 L576.9 661.3 L577.9 661.5 L578.9 661.7 L579.9 661.8 L580.9 661.3 L581.9 660.3 L582.9 659.1 L583.9 657.6 L584.9 656.3 L585.9 654.6 L586.9 651.9 L587.9 648.3 L588.9 643.8 L589.9 638.8 L590.9 633.5 L591.9 628.6 L592.9 624.5 L593.9 621.4 L594.9 619.7 L595.9 618.5 L596.9 617.4 L597.9 616.6 L598.9 616.2 L599.9 616.0 L600.9 616.6 L601.9 617.7 L602.9 618.8 L603.9 619.9 L604.9 621.2 L605.9 622.6 L606.9 624.4 L607.9 626.3 L608.9 628.2 L609.9 630.2 L610.9 632.2 L611.9 634.2 L612.9 636.1 L613.9 638.0 L614.9 639.9 L615.9 641.8 L616.9 643.6 L617.9 645.4 L618.9 647.6 L619.9 649.1 L620.9 649.7 L621.9 649.9 L622.9 649.6 L623.9 649.0 L624.9 648.4 L625.9 647.9 L626.9 647.8 L627.9 647.8 L628.9 647.8 L629.9 647.9 L630.9 647.4 L631.9 646.4 L632.9 645.3 L633.9 643.9 L634.9 642.6 L635.9 641.2 L636.9 639.8 L637.9 638.3 L638.9 636.1 L639.9 633.5 L640.9 630.9 L641.9 628.1 L642.9 625.3 L643.9 622.6 L644.9 620.3 L645.9 618.3 L646.9 616.3 L647.9 614.5 L648.9 612.5 L649.9 610.9 L650.9 609.8 L651.9 609.1 L652.9 608.8 L653.9 608.5 L654.9 608.3 L655.9 608.2 L656.9 608.5 L657.9 609.1 L658.9 609.9 L659.9 611.0 L660.9 612.0 L661.9 613.2 L662.9 615.0 L663.9 617.4 L664.9 620.7 L665.9 624.6 L666.9 628.4 L667.9 632.6 L668.9 637.5 L669.9 642.8 L670.9 648.2 L671.9 653.7 L672.9 659.5 L673.9 664.9 L674.9 669.2 L675.9 673.1 L676.9 676.6 L677.9 680.0 L678.9 683.4 L679.9 686.7 L680.9 690.1 L681.9 693.3 L682.9 695.8 L683.9 697.6 L684.9 698.4 L685.9 698.9 L686.9 699.2 L687.9 699.4 L688.9 699.7 L689.9 699.8 L690.9 699.7 L691.9 699.4 L692.9 699.0 L693.9 698.5 L694.9 698.0 L695.9 697.4 L696.9 696.7 L697.9 695.9 L698.9 694.9 L699.9 694.2 L700.9 694.2 L701.9 694.2 L702.9 694.6 L703.9 695.3 L704.9 695.9 L705.9 696.6 L706.9 697.2 L707.9 697.9 L708.9 698.6 L709.9 699.3 L710.9 700.1 L711.9 700.8 L712.9 701.5 L713.9 702.2 L714.9 702.8 L715.9 703.1 L716.9 702.8 L717.9 702.2 L718.9 701.6 L719.9 700.8 L720.9 699.2 L721.9 696.9 L722.9 694.3 L723.9 691.4 L724.9 688.4 L725.9 685.5 L726.9 682.5 L727.9 679.5 L728.9 676.7 L729.9 674.0 L730.9 671.3 L731.9 668.6 L732.9 665.9 L733.9 663.3 L734.9 660.7 L735.9 658.5 L736.9 656.9 L737.9 655.5 L738.9 654.2 L739.9 652.9 L740.9 651.6 L741.9 650.1 L742.9 647.9 L743.9 645.3 L744.9 642.7 L745.9 639.9 L746.9 637.2 L747.9 634.3 L748.9 631.4 L749.9 628.5 L750.9 625.5 L751.9 622.5 L752.9 619.5 L753.9 616.5 L754.9 613.7 L755.9 611.2 L756.9 609.5 L757.9 608.1 L758.9 606.6 L759.9 605.7 L760.9 605.4 L761.9 605.3 L762.9 605.6 L763.9 606.2 L764.9 607.0 L765.9 608.1 L766.9 609.8 L767.9 612.0 L768.9 614.2 L769.9 616.5 L770.9 618.8 L771.9 621.1 L772.9 623.5 L773.9 625.8 L774.9 628.2 L775.9 630.6 L776.9 633.1 L777.9 635.4 L778.9 637.5 L779.9 638.8 L780.9 639.2 L781.9 639.3 L782.9 639.3 L783.9 639.1 L784.9 638.8 L785.9 638.3 L786.9 637.2 L787.9 635.8 L788.9 634.5 L789.9 633.0 L790.9 631.1 L791.9 628.9 L792.9 626.6 L793.9 624.1 L794.9 621.6 L795.9 619.2 L796.9 616.5 L797.9 614.5 L798.9 613.3 L799.9 612.6 L800.9 612.2 L801.9 611.8 L802.9 611.1 L803.9 610.2 L804.9 608.9 L805.9 607.4 L806.9 605.8 L807.9 604.3 L808.9 602.8 L809.9 601.6 L810.9 600.6 L811.9 599.8 L812.9 599.0 L813.9 598.3 L814.9 597.5 L815.9 596.8 L816.9 596.3 L817.9 595.9 L818.9 595.7 L819.9 595.5 L820.9 595.4 L821.9 595.3 L822.9 595.1 L823.9 595.0 L824.9 594.9 L825.9 594.8 L826.9 594.7 L827.9 594.6 L828.9 594.5 L829.9 594.4 L830.9 594.4 L831.9 594.4 L832.9 594.5 L833.9 594.6 L834.9 594.7 L835.9 594.8 L836.9 595.2 L837.9 595.9 L838.9 596.7 L839.9 597.6 L840.9 598.6 L841.9 599.6 L842.9 600.6 L843.9 601.6 L844.9 602.8 L845.9 604.1 L846.9 605.4 L847.9 606.8 L848.9 608.3 L849.9 609.6 L850.9 610.7 L851.9 611.8 L852.9 612.6 L853.9 613.5 L854.9 614.4 L855.9 615.1 L856.9 615.6 L857.9 616.0 L858.9 616.1 L859.9 616.2 L860.9 616.2 L861.9 616.2 L862.9 616.3 L863.9 616.4 L864.9 616.6 L865.9 616.9 L866.9 617.1 L867.9 617.6 L868.9 618.8 L869.9 620.5 L870.9 622.3 L871.9 624.2 L872.9 626.2 L873.9 628.2 L874.9 630.2 L875.9 632.3 L876.9 634.5 L877.9 636.8 L878.9 639.1 L879.9 641.4 L880.9 643.8 L881.9 646.1 L882.9 648.3 L883.9 650.2 L884.9 652.0 L885.9 653.7 L886.9 655.3 L887.9 656.9 L888.9 658.7 L889.9 660.8 L890.9 663.3 L891.9 666.1 L892.9 668.9 L893.9 671.7 L894.9 674.5 L895.9 677.4 L896.9 680.2 L897.9 683.0 L898.9 685.6 L899.9 688.2 L900.9 690.6 L901.9 693.1 L902.9 695.5 L903.9 697.9 L904.9 700.6 L905.9 702.8 L906.9 704.0 L907.9 704.6 L908.9 704.3 L909.9 703.6 L910.9 702.8 L911.9 702.0 L912.9 701.3 L913.9 701.0 L914.9 701.0 L915.9 701.1 L916.9 701.2 L917.9 701.4 L918.9 701.4 L919.9 701.4 L920.9 701.2 L921.9 700.7 L922.9 700.2 L923.9 699.8 L924.9 699.3 L925.9 698.9 L926.9 698.7 L927.9 698.4 L928.9 698.2 L929.9 698.0 L930.9 697.7 L931.9 697.3 L932.9 696.5 L933.9 695.4 L934.9 694.4 L935.9 693.2 L936.9 691.9 L937.9 690.1 L938.9 686.1 L939.9 680.5 L940.9 674.7 L941.9 668.5 L942.9 662.1 L943.9 655.8 L944.9 650.3 L945.9 645.1 L946.9 640.2 L947.9 635.3 L948.9 630.3 L949.9 625.6 L950.9 621.8 L951.9 618.4 L952.9 615.3 L953.9 612.6 L954.9 609.7 L955.9 607.1 L956.9 604.7 L957.9 603.3 L958.9 603.7 L959.9 604.5 L960.9 605.6 L961.9 607.0 L962.9 608.4 L963.9 609.9 L964.9 612.2 L965.9 614.8 L966.9 617.6 L967.9 620.6 L968.9 623.5 L969.9 626.5 L970.9 629.8 L971.9 633.2 L972.9 636.7 L973.9 640.2 L974.9 643.9 L975.9 647.4 L976.9 650.4 L977.9 653.1 L978.9 655.4 L979.9 657.5 L980.9 659.6 L981.9 661.6 L982.9 664.0 L983.9 666.7 L984.9 669.7 L985.9 673.0 L986.9 676.5 L987.9 679.7 L988.9 682.8 L989.9 685.3 L990.9 686.9 L991.9 688.3 L992.9 689.5 L993.9 690.6 L994.9 691.6 L995.9 692.1 L996.9 691.9 L997.9 691.4 L998.9 690.8 L999.9 690.1 L1000.9 689.5 L1001.9 688.7 L1002.9 687.2 L1003.9 685.1 L1004.9 682.1 L1005.9 678.5 L1006.9 674.7 L1007.9 671.7 L1008.9 670.2 L1009.9 669.4 L1010.9 669.1 L1011.9 668.9 L1012.9 668.8 L1013.9 668.8 L1014.9 668.7 L1015.9 668.7 L1016.9 668.6 L1017.9 668.5 L1018.9 668.3 L1019.9 668.2 L1020.9 668.5 L1021.9 669.3 L1022.9 670.2 L1023.9 671.2 L1024.8 672.2 L1025.8 673.4 L1026.8 675.3 L1027.8 677.4 L1028.8 679.7 L1029.8 681.1 L1030.8 681.1 L1031.8 681.1 L1032.8 680.8 L1033.8 680.4 L1034.8 680.4 L1035.8 680.3 L1036.8 680.5 L1037.8 680.6 L1038.8 680.9 L1039.8 681.0 L1040.8 680.9 L1041.8 680.6 L1042.8 680.2 L1043.8 679.7 L1044.8 679.2 L1045.8 678.7 L1046.8 678.3 L1047.8 677.9 L1048.8 677.6 L1049.8 677.3 L1050.8 677.0 L1051.8 676.7 L1052.8 676.2 L1053.8 675.5 L1054.8 674.4 L1055.8 673.3 L1056.8 672.0 L1057.8 670.9 L1058.8 669.9 L1059.8 669.1 L1060.8 668.2 L1061.8 667.5 L1062.8 666.9 L1063.8 666.6 L1064.8 666.6 L1065.8 666.6 L1066.8 666.3 L1067.8 665.7 L1068.8 664.9 L1069.8 663.9 L1070.8 662.9 L1071.8 661.8 L1072.8 660.3 L1073.8 658.4 L1074.8 656.0 L1075.8 653.3 L1076.8 650.7 L1077.8 647.8 L1078.8 644.8 L1079.8 641.5 L1080.8 637.7 L1081.8 633.6 L1082.8 629.4 L1083.8 625.3 L1084.8 621.4 L1085.8 618.2 L1086.8 616.4 L1087.8 615.0 L1088.8 613.9 L1089.8 612.9 L1090.8 611.9 L1091.8 611.0 L1092.8 610.5 L1093.8 610.2 L1094.8 610.4 L1095.8 610.7 L1096.8 611.1 L1097.8 611.6 L1098.8 612.5 L1099.8 613.7 L1100.8 615.8 L1101.8 618.5 L1102.8 621.3 L1103.8 623.8 L1104.8 625.2 L1105.8 626.2 L1106.8 626.9 L1107.8 627.5 L1108.8 628.0 L1109.8 628.4 L1110.8 628.9 L1111.8 629.3 L1112.8 629.6 L1113.8 629.9 L1114.8 630.1 L1115.8 630.2 L1116.8 630.3 L1117.8 630.4 L1118.8 630.5 L1119.8 630.6 L1120.8 630.7 L1121.8 630.8 L1122.8 630.9 L1123.8 631.0 L1124.8 631.6 L1125.8 632.7 L1126.8 635.1 L1127.8 638.6 L1128.8 642.0 L1129.8 645.7 L1130.8 650.0 L1131.8 654.7 L1132.8 659.7 L1133.8 664.8 L1134.8 670.1 L1135.8 675.1 L1136.8 679.7 L1137.8 683.9 L1138.8 687.6 L1139.8 691.1 L1140.8 694.8 L1141.8 698.0 L1142.8 700.7 L1143.8 702.0 L1144.8 702.0 L1145.8 702.0 L1146.8 701.6 L1147.8 701.1 L1148.8 700.7 L1149.8 700.5 L1150.8 700.6 L1151.8 700.9 L1152.8 701.3 L1153.8 701.7 L1154.8 702.1 L1155.8 702.5 L1156.8 703.1 L1157.8 703.8 L1158.8 704.4 L1159.8 705.1 L1160.8 705.7 L1161.8 706.4 L1162.8 706.9 L1163.8 707.4 L1164.8 707.6 L1165.8 707.8 L1166.8 708.0 L1167.8 708.2 L1168.8 708.4 L1169.8 708.6 L1170.8 708.6 L1171.8 708.7 L1172.8 708.7 L1173.8 708.7 L1174.8 708.5 L1175.8 708.0 L1176.8 706.7 L1177.8 704.8 L1178.8 703.0 L1179.8 701.0 L1180.8 699.0 L1181.8 697.1 L1182.8 695.3 L1183.8 693.8 L1184.8 692.6 L1185.8 691.5 L1186.8 690.5 L1187.8 689.4 L1188.8 688.3 L1189.8 686.9 L1190.8 685.2 L1191.8 683.2 L1192.8 681.3 L1193.8 679.3 L1194.8 677.4 L1195.8 675.9 L1196.8 674.8 L1197.8 674.0 L1198.8 673.2 L1199.8 672.6 L1200.8 672.2 L1201.8 672.1 L1202.8 672.1 L1203.8 672.1 L1204.8 672.2 L1205.8 672.3 L1206.8 672.8 L1207.8 673.7 L1208.8 674.7 L1209.8 676.0 L1210.8 677.9 L1211.8 680.1 L1212.8 682.5 L1213.8 685.1 L1214.8 687.8 L1215.8 690.4 L1216.8 693.1 L1217.8 695.7 L1218.8 698.1 L1219.8 700.5 L1220.8 702.8 L1221.8 705.1 L1222.8 707.4 L1223.8 709.7 L1224.8 712.5 L1225.8 714.3 L1226.8 714.2 L1227.8 714.2 L1228.8 712.6 L1229.8 709.9 L1230.8 707.4 L1231.8 704.6 L1232.8 701.3 L1233.8 697.6 L1234.8 693.3 L1235.8 688.6 L1236.8 684.0 L1237.8 679.2 L1238.8 674.1 L1239.8 668.8 L1240.8 662.8 L1241.8 656.5 L1242.8 650.1 L1243.8 643.9 L1244.8 637.8 L1245.8 633.3 L1246.8 631.1 L1247.8 629.6 L1248.8 628.6 L1249.8 627.9 L1250.8 627.2 L1251.8 626.6 L1252.8 626.2 L1253.8 625.9 L1254.8 625.5 L1255.8 625.3 L1256.8 625.0 L1257.8 624.9 L1258.8 625.3 L1259.8 626.2 L1260.8 627.1 L1261.8 628.2 L1262.8 629.2 L1263.8 630.3 L1264.8 631.5 L1265.8 632.7 L1266.8 633.9 L1267.8 635.2 L1268.8 636.5 L1269.8 637.8 L1270.8 639.1 L1271.8 640.4 L1272.8 641.7 L1273.8 643.1 L1274.8 644.5 L1275.8 646.0 L1276.8 647.5 L1277.8 649.0 L1278.8 650.5 L1279.8 652.0 L1280.8 653.5 L1281.8 655.0 L1282.8 656.7 L1283.8 658.6 L1284.8 660.7 L1285.8 663.0 L1286.8 665.3 L1287.8 667.6 L1288.8 669.9 L1289.8 672.3 L1290.8 675.0 L1291.8 677.9 L1292.8 681.0 L1293.8 684.1 L1294.8 687.3 L1295.8 690.5 L1296.8 693.6 L1297.8 696.7 L1298.8 699.7 L1299.8 702.7 L1300.8 705.9 L1301.8 708.7 L1302.8 711.2 L1303.8 712.9 L1304.8 713.9 L1305.8 714.6 L1306.8 715.3 L1307.8 715.8 L1308.8 715.9 L1309.8 716.0 L1310.8 715.4 L1311.8 714.3 L1312.8 713.3 L1313.8 712.3 L1314.8 711.3 L1315.8 710.4 L1316.8 709.7 L1317.8 709.2 L1318.8 708.6 L1319.8 708.1 L1320.8 707.6 L1321.8 707.1 L1322.8 706.3 L1323.8 705.2 L1324.8 703.7 L1325.8 701.9 L1326.8 700.2 L1327.8 698.4 L1328.8 696.8 L1329.8 695.5 L1330.8 694.6 L1331.8 693.9 L1332.8 693.3 L1333.8 692.6 L1334.8 691.5 L1335.8 689.9 L1336.8 686.9 L1337.8 683.0 L1338.8 679.0 L1339.8 674.9 L1340.8 671.1 L1341.8 667.6 L1342.8 664.3 L1343.8 661.0 L1344.8 657.7 L1345.8 654.6 L1346.8 651.9 L1347.8 649.5 L1348.8 647.6 L1349.8 645.8 L1350.8 644.1 L1351.8 642.4 L1352.8 640.3 L1353.8 639.0 L1354.8 639.1 L1355.8 639.1 L1356.8 639.7 L1357.8 640.7 L1358.8 641.6 L1359.8 642.6 L1360.8 643.5 L1361.8 644.4 L1362.8 645.2 L1363.8 646.0 L1364.8 647.0 L1365.8 647.6 L1366.8 647.3 L1367.8 646.7 L1368.8 645.3 L1369.8 643.4 L1370.8 641.4 L1371.8 639.5 L1372.8 637.9 L1373.8 636.6 L1374.8 635.7 L1375.8 635.0 L1376.8 634.3 L1377.8 633.7 L1378.8 633.2 L1379.8 633.0 L1380.8 633.2 L1381.8 633.7 L1382.8 634.1 L1383.8 634.6 L1384.8 635.0 L1385.8 635.5 L1386.8 636.9 L1387.8 638.8 L1388.8 641.3 L1389.8 644.2 L1390.8 647.2 L1391.8 650.0 L1392.8 652.4 L1393.8 653.9 L1394.8 654.6 L1395.8 655.0 L1396.8 655.3 L1397.8 655.5 L1398.8 655.2 L1399.8 654.6 L1400.8 653.1 L1401.8 651.1 L1402.8 649.1 L1403.8 647.0 L1404.8 644.9 L1405.8 642.6 L1406.8 640.0 L1407.8 637.3 L1408.8 634.5 L1409.8 631.8 L1410.8 629.0 L1411.8 626.7 L1412.8 625.3 L1413.8 624.1 L1414.8 623.1 L1415.8 622.4 L1416.8 622.2 L1417.8 622.1 L1418.8 622.5 L1419.8 623.1 L1420.8 623.7 L1421.8 624.3 L1422.8 625.0 L1423.8 625.6 L1424.8 626.1 L1425.8 626.4 L1426.8 626.8 L1427.8 627.0 L1428.8 626.9 L1429.8 626.5 L1430.8 625.4 L1431.8 623.8 L1432.8 622.3 L1433.8 620.7 L1434.8 619.0 L1435.8 617.4 L1436.8 615.8 L1437.8 614.2 L1438.8 612.7 L1439.8 611.1 L1440.8 609.6 L1441.8 608.1 L1442.8 606.5 L1443.8 605.1 L1444.8 604.1 L1445.8 603.3 L1446.8 602.6 L1447.8 601.9 L1448.8 601.3 L1449.8 600.7 L1450.8 600.4 L1451.8 600.2 L1452.8 600.2 L1453.8 600.2 L1454.8 600.3 L1455.8 600.3 L1456.8 600.4 L1457.8 600.5 L1458.8 600.7 L1459.8 601.1 L1460.8 601.4 L1461.8 601.8 L1462.8 602.7 L1463.8 604.1 L1464.8 606.0 L1465.8 608.3 L1466.8 610.6 L1467.8 612.9 L1468.8 615.1 L1469.8 616.7 L1470.8 617.5 L1471.8 618.1 L1472.8 618.6 L1473.8 619.1 L1474.8 619.6 L1475.8 620.3 L1476.8 621.4 L1477.8 622.7 L1478.8 624.0 L1479.8 625.4 L1480.8 626.8 L1481.8 628.5 L1482.8 630.6 L1483.8 633.0 L1484.8 635.5 L1485.8 638.1" stroke="#222" stroke-width="1.1" fill="none" stroke-dasharray="3 2.4"/>
<path d="M53.2 601.8 L60.0 596.2 L71.2 592.5" stroke="#000" stroke-width="1.6" fill="none" stroke-linejoin="round"/>
<path d="M71.2 592.5 L78.8 602.5 L86.2 616.2 L91.2 642.5 L97.5 662.5 L105.0 683.8" stroke="#ea1010" stroke-width="1.6" fill="none" stroke-linejoin="round"/>
<path d="M105.0 683.8 L108.8 680.0 L116.2 678.8" stroke="#000" stroke-width="1.6" fill="none" stroke-linejoin="round"/>
<path d="M116.2 678.8 L120.0 680.0 L127.5 690.0 L136.2 703.8 L142.5 704.2" stroke="#ea1010" stroke-width="1.6" fill="none" stroke-linejoin="round"/>
<path d="M142.5 704.2 L147.5 701.2" stroke="#000" stroke-width="1.6" fill="none" stroke-linejoin="round"/>
<path d="M147.5 701.2 L150.0 702.0" stroke="#ea1010" stroke-width="1.6" fill="none" stroke-linejoin="round"/>
<path d="M150.0 702.0 L156.2 700.0 L162.5 697.5" stroke="#000" stroke-width="1.6" fill="none" stroke-linejoin="round"/>
<path d="M162.5 697.5 L168.8 698.8 L175.0 703.0 L181.2 703.0" stroke="#ea1010" stroke-width="1.6" fill="none" stroke-linejoin="round"/>
<path d="M181.2 703.0 L187.5 691.2 L192.5 660.0 L198.8 625.0 L206.2 596.2" stroke="#000" stroke-width="1.6" fill="none" stroke-linejoin="round"/>
<path d="M206.2 596.2 L212.5 600.0" stroke="#ea1010" stroke-width="1.6" fill="none" stroke-linejoin="round"/>
<path d="M212.5 600.0 L217.5 601.2" stroke="#000" stroke-width="1.6" fill="none" stroke-linejoin="round"/>
<path d="M217.5 601.2 L225.0 605.0 L232.5 607.0 L238.8 610.0 L245.0 627.5 L257.5 653.8 L266.2 657.5 L277.5 684.2" stroke="#ea1010" stroke-width="1.6" fill="none" stroke-linejoin="round"/>
<path d="M277.5 684.2 L285.0 675.0 L291.2 665.0 L296.2 635.0 L302.5 623.8 L308.8 615.0" stroke="#000" stroke-width="1.6" fill="none" stroke-linejoin="round"/>
<path d="M308.8 615.0 L315.0 623.8 L322.5 628.8 L332.5 630.0 L340.0 631.2 L347.5 634.5 L357.5 657.5 L372.5 693.2" stroke="#ea1010" stroke-width="1.6" fill="none" stroke-linejoin="round"/>
<path d="M372.5 693.2 L380.0 693.2 L385.0 693.0 L392.5 680.0 L400.0 672.5 L405.0 645.0 L411.2 632.5 L418.0 620.8" stroke="#000" stroke-width="1.6" fill="none" stroke-linejoin="round"/>
<path d="M418.0 620.8 L423.8 635.0 L430.0 641.2 L437.5 660.0 L443.8 663.8" stroke="#ea1010" stroke-width="1.6" fill="none" stroke-linejoin="round"/>
<path d="M443.8 663.8 L450.0 657.5 L456.2 635.0 L462.5 612.5 L468.8 596.2 L475.0 593.8" stroke="#000" stroke-width="1.6" fill="none" stroke-linejoin="round"/>
<path d="M475.0 593.8 L481.2 596.2 L487.5 612.5 L495.0 625.0 L502.5 645.0 L508.8 662.5 L513.8 668.8 L520.0 670.0" stroke="#ea1010" stroke-width="1.6" fill="none" stroke-linejoin="round"/>
<path d="M520.0 670.0 L525.0 652.5 L532.5 627.5 L538.8 607.5 L546.2 602.5" stroke="#000" stroke-width="1.6" fill="none" stroke-linejoin="round"/>
<path d="M546.2 602.5 L552.5 612.5 L560.0 632.5 L565.0 650.0 L571.2 661.2 L577.5 662.0" stroke="#ea1010" stroke-width="1.6" fill="none" stroke-linejoin="round"/>
<path d="M577.5 662.0 L583.8 652.5 L590.0 620.0 L596.2 615.0" stroke="#000" stroke-width="1.6" fill="none" stroke-linejoin="round"/>
<path d="M596.2 615.0 L602.5 622.5 L610.0 637.5 L617.5 651.2" stroke="#ea1010" stroke-width="1.6" fill="none" stroke-linejoin="round"/>
<path d="M617.5 651.2 L622.5 647.5" stroke="#000" stroke-width="1.6" fill="none" stroke-linejoin="round"/>
<path d="M622.5 647.5 L627.5 648.0" stroke="#ea1010" stroke-width="1.6" fill="none" stroke-linejoin="round"/>
<path d="M627.5 648.0 L635.0 637.5 L641.2 620.0 L647.5 608.8 L653.8 608.0" stroke="#000" stroke-width="1.6" fill="none" stroke-linejoin="round"/>
<path d="M653.8 608.0 L660.0 615.0 L665.0 635.0 L671.2 670.0 L680.0 698.8 L687.5 700.0" stroke="#ea1010" stroke-width="1.6" fill="none" stroke-linejoin="round"/>
<path d="M687.5 700.0 L692.5 697.5 L697.5 693.2" stroke="#000" stroke-width="1.6" fill="none" stroke-linejoin="round"/>
<path d="M697.5 693.2 L703.8 697.5 L712.5 703.8" stroke="#ea1010" stroke-width="1.6" fill="none" stroke-linejoin="round"/>
<path d="M712.5 703.8 L717.5 700.0 L725.0 677.5 L732.5 657.5 L738.8 650.0 L745.0 632.5 L752.5 610.0 L757.5 604.2" stroke="#000" stroke-width="1.6" fill="none" stroke-linejoin="round"/>
<path d="M757.5 604.2 L762.5 607.5 L770.0 625.0 L776.2 640.0" stroke="#ea1010" stroke-width="1.6" fill="none" stroke-linejoin="round"/>
<path d="M776.2 640.0 L782.5 638.8 L787.5 631.2 L795.0 612.5 L800.0 611.2 L806.2 601.2 L813.8 595.8 L827.5 594.2" stroke="#000" stroke-width="1.6" fill="none" stroke-linejoin="round"/>
<path d="M827.5 594.2 L833.8 595.0 L841.2 602.5 L847.5 611.2 L853.8 616.2" stroke="#ea1010" stroke-width="1.6" fill="none" stroke-linejoin="round"/>
<path d="M853.8 616.2 L860.0 616.2" stroke="#000" stroke-width="1.6" fill="none" stroke-linejoin="round"/>
<path d="M860.0 616.2 L865.0 617.5 L872.5 632.5 L880.0 650.0 L886.2 660.0 L895.0 685.0 L903.8 706.2" stroke="#ea1010" stroke-width="1.6" fill="none" stroke-linejoin="round"/>
<path d="M903.8 706.2 L910.0 700.5" stroke="#000" stroke-width="1.6" fill="none" stroke-linejoin="round"/>
<path d="M910.0 700.5 L916.2 701.8" stroke="#ea1010" stroke-width="1.6" fill="none" stroke-linejoin="round"/>
<path d="M916.2 701.8 L922.5 698.8" stroke="#000" stroke-width="1.6" fill="none" stroke-linejoin="round"/>
<path d="M922.5 698.8 L928.8 697.5" stroke="#ea1010" stroke-width="1.6" fill="none" stroke-linejoin="round"/>
<path d="M928.8 697.5 L935.0 690.0 L941.2 650.0 L947.5 620.0 L954.5 601.2" stroke="#000" stroke-width="1.6" fill="none" stroke-linejoin="round"/>
<path d="M954.5 601.2 L961.2 611.2 L967.5 630.0 L973.8 652.5 L980.0 665.0 L986.2 686.2 L992.5 693.0" stroke="#ea1010" stroke-width="1.6" fill="none" stroke-linejoin="round"/>
<path d="M992.5 693.0 L1000.0 687.5 L1005.0 668.8" stroke="#000" stroke-width="1.6" fill="none" stroke-linejoin="round"/>
<path d="M1005.0 668.8 L1012.5 668.8" stroke="#ea1010" stroke-width="1.6" fill="none" stroke-linejoin="round"/>
<path d="M1012.5 668.8 L1017.5 668.0" stroke="#000" stroke-width="1.6" fill="none" stroke-linejoin="round"/>
<path d="M1017.5 668.0 L1023.8 675.0 L1026.2 682.5" stroke="#ea1010" stroke-width="1.6" fill="none" stroke-linejoin="round"/>
<path d="M1026.2 682.5 L1031.2 680.0" stroke="#000" stroke-width="1.6" fill="none" stroke-linejoin="round"/>
<path d="M1031.2 680.0 L1037.5 681.2" stroke="#ea1010" stroke-width="1.6" fill="none" stroke-linejoin="round"/>
<path d="M1037.5 681.2 L1043.8 678.0 L1050.0 676.2 L1055.0 670.0 L1060.0 666.2" stroke="#000" stroke-width="1.6" fill="none" stroke-linejoin="round"/>
<path d="M1060.0 666.2 L1063.8 666.8" stroke="#ea1010" stroke-width="1.6" fill="none" stroke-linejoin="round"/>
<path d="M1063.8 666.8 L1070.0 660.0 L1076.2 642.5 L1082.5 616.2 L1090.0 609.5" stroke="#000" stroke-width="1.6" fill="none" stroke-linejoin="round"/>
<path d="M1090.0 609.5 L1096.2 612.5 L1101.2 626.2 L1110.0 630.0 L1122.5 631.2 L1127.5 650.0 L1133.8 682.5 L1140.0 703.8" stroke="#ea1010" stroke-width="1.6" fill="none" stroke-linejoin="round"/>
<path d="M1140.0 703.8 L1146.2 700.0" stroke="#000" stroke-width="1.6" fill="none" stroke-linejoin="round"/>
<path d="M1146.2 700.0 L1152.5 702.5 L1160.0 707.5 L1167.5 708.8" stroke="#ea1010" stroke-width="1.6" fill="none" stroke-linejoin="round"/>
<path d="M1167.5 708.8 L1172.5 708.8 L1180.0 693.8 L1186.2 687.5 L1192.5 675.0 L1197.5 671.8" stroke="#000" stroke-width="1.6" fill="none" stroke-linejoin="round"/>
<path d="M1197.5 671.8 L1203.8 672.5 L1207.5 677.5 L1215.0 697.5 L1223.8 717.5" stroke="#ea1010" stroke-width="1.6" fill="none" stroke-linejoin="round"/>
<path d="M1223.8 717.5 L1230.0 700.0 L1236.2 670.0 L1242.5 630.0 L1248.8 626.2 L1255.0 624.5" stroke="#000" stroke-width="1.6" fill="none" stroke-linejoin="round"/>
<path d="M1255.0 624.5 L1261.2 631.2 L1270.0 642.5 L1280.0 657.5 L1287.5 675.0 L1293.8 695.0 L1300.0 713.8 L1306.2 716.8" stroke="#ea1010" stroke-width="1.6" fill="none" stroke-linejoin="round"/>
<path d="M1306.2 716.8 L1312.5 710.0 L1320.0 706.2 L1326.2 695.0 L1332.5 691.2 L1337.5 670.0 L1343.8 650.0 L1351.2 637.5" stroke="#000" stroke-width="1.6" fill="none" stroke-linejoin="round"/>
<path d="M1351.2 637.5 L1357.5 643.8 L1363.8 648.8" stroke="#ea1010" stroke-width="1.6" fill="none" stroke-linejoin="round"/>
<path d="M1363.8 648.8 L1370.0 636.2 L1376.2 632.5" stroke="#000" stroke-width="1.6" fill="none" stroke-linejoin="round"/>
<path d="M1376.2 632.5 L1383.8 636.2 L1390.0 655.0 L1396.2 655.8" stroke="#ea1010" stroke-width="1.6" fill="none" stroke-linejoin="round"/>
<path d="M1396.2 655.8 L1402.5 642.5 L1408.8 625.0 L1413.8 621.2" stroke="#000" stroke-width="1.6" fill="none" stroke-linejoin="round"/>
<path d="M1413.8 621.2 L1421.2 626.2 L1426.2 627.5" stroke="#ea1010" stroke-width="1.6" fill="none" stroke-linejoin="round"/>
<path d="M1426.2 627.5 L1433.8 615.0 L1441.2 603.8 L1447.5 600.0 L1455.0 600.5" stroke="#000" stroke-width="1.6" fill="none" stroke-linejoin="round"/>
<path d="M1455.0 600.5 L1460.0 602.5 L1466.2 617.5 L1472.5 620.0 L1478.8 628.8 L1485.0 645.0" stroke="#ea1010" stroke-width="1.6" fill="none" stroke-linejoin="round"/>
<path d="M513.8 651.2 L514.8 651.6 L515.8 652.0 L516.8 652.4 L517.8 652.9 L518.8 653.3 L519.8 653.7 L520.8 654.1 L521.8 654.5 L522.8 654.7 L523.8 654.9 L524.8 655.0 L525.8 655.0 L526.8 654.9 L527.8 654.7 L528.8 654.5 L529.8 654.2 L530.8 653.9 L531.8 653.6 L532.8 653.2 L533.8 652.9 L534.8 652.6 L535.8 652.2 L536.8 651.8 L537.8 651.4 L538.8 650.9 L539.8 650.4 L540.8 649.9 L541.8 649.5 L542.8 649.1 L543.8 648.9 L544.8 648.8 L545.8 648.8 L546.8 648.8 L547.8 648.8 L548.8 648.8 L549.8 648.8 L550.8 648.8 L551.8 648.8 L552.8 648.8 L553.8 648.8 L554.8 648.8 L555.8 648.7 L556.8 648.7 L557.8 648.6 L558.8 648.5 L559.8 648.4 L560.8 648.2 L561.8 648.1 L562.8 647.9 L563.8 647.7 L564.8 647.5 L565.8 647.3 L566.8 647.1 L567.8 646.7 L568.8 646.4 L569.8 646.0 L570.8 645.5 L571.8 645.1 L572.8 644.7 L573.8 644.2 L574.8 643.8 L575.8 643.5 L576.8 643.2 L577.8 642.8 L578.8 642.5 L579.8 642.2 L580.8 641.9 L581.8 641.6 L582.8 641.1 L583.8 640.7 L584.8 640.1 L585.8 639.4 L586.8 638.4 L587.8 637.0 L588.8 635.4 L589.8 633.7 L590.8 631.9 L591.8 630.1 L592.8 628.3 L593.8 626.7 L594.8 625.3 L595.8 624.1 L596.8 622.9 L597.8 621.7 L598.8 620.6 L599.8 619.4 L600.8 618.4 L601.8 617.4 L602.8 616.6 L603.8 615.8 L604.8 615.1 L605.8 614.6 L606.8 614.1 L607.8 613.7 L608.8 613.3 L609.8 613.0 L610.8 612.7 L611.8 612.3 L612.8 612.0 L613.8 611.7 L614.8 611.3 L615.8 611.0 L616.8 610.6 L617.8 610.2 L618.8 609.9 L619.8 609.5 L620.8 609.2 L621.8 608.8 L622.8 608.4 L623.8 608.0 L624.8 607.6 L625.8 607.2 L626.8 606.7 L627.8 606.2 L628.8 605.6 L629.8 605.1 L630.8 604.6 L631.8 604.0 L632.8 603.5 L633.8 603.0 L634.8 602.6 L635.8 602.2 L636.8 601.8 L637.8 601.4 L638.8 601.0 L639.8 600.6 L640.8 600.2 L641.8 599.8 L642.8 599.5 L643.8 599.2 L644.8 598.9 L645.8 598.6 L646.8 598.4 L647.8 598.2 L648.8 598.0 L649.8 597.8 L650.8 597.7 L651.8 597.5 L652.8 597.4 L653.8 597.2 L654.8 597.1 L655.8 597.1 L656.8 597.0 L657.8 597.0 L658.8 597.0 L659.8 597.1 L660.8 597.2 L661.8 597.4 L662.8 597.5 L663.8 597.7 L664.8 598.0 L665.8 598.2 L666.8 598.5 L667.8 598.8 L668.8 599.5 L669.8 600.5 L670.8 601.9 L671.8 603.5 L672.8 605.4 L673.8 607.4 L674.8 609.4 L675.8 611.5 L676.8 613.5 L677.8 615.5 L678.8 617.5 L679.8 619.7 L680.8 622.1 L681.8 624.5 L682.8 627.0 L683.8 629.4 L684.8 631.8 L685.8 634.0 L686.8 636.1 L687.8 637.9 L688.8 639.7 L689.8 641.3 L690.8 642.9 L691.8 644.4 L692.8 645.9 L693.8 647.3 L694.8 648.7 L695.8 650.1 L696.8 651.5 L697.8 652.8 L698.8 654.2 L699.8 655.6 L700.8 657.0 L701.8 658.4 L702.8 659.7 L703.8 661.0 L704.8 662.2 L705.8 663.3 L706.8 664.3 L707.8 665.2 L708.8 666.0 L709.8 666.7 L710.8 667.3 L711.8 667.9 L712.8 668.5 L713.8 669.1 L714.8 669.6 L715.8 670.2 L716.8 670.8 L717.8 671.4 L718.8 672.1 L719.8 672.8 L720.8 673.6 L721.8 674.3 L722.8 675.1 L723.8 675.8 L724.8 676.4 L725.8 676.9 L726.8 677.3 L727.8 677.6 L728.8 677.8 L729.8 677.9 L730.8 678.1 L731.8 678.3 L732.8 678.4 L733.8 678.5 L734.8 678.6 L735.8 678.7 L736.8 678.7 L737.8 678.7 L738.8 678.6 L739.8 678.4 L740.8 678.0 L741.8 677.5 L742.8 677.0 L743.8 676.3 L744.8 675.7 L745.8 675.0 L746.8 674.3 L747.8 673.6 L748.8 672.7 L749.8 671.7 L750.8 670.6 L751.8 669.3 L752.8 668.1 L753.8 666.8 L754.8 665.5 L755.8 664.3 L756.8 663.2 L757.8 662.3 L758.8 661.4 L759.8 660.5 L760.8 659.6 L761.8 658.7 L762.8 657.9 L763.8 657.1 L764.8 656.4 L765.8 655.8 L766.8 655.3 L767.8 654.9 L768.8 654.6 L769.8 654.2 L770.8 653.9 L771.8 653.7 L772.8 653.4 L773.8 653.2 L774.8 653.0 L775.8 652.8 L776.8 652.6 L777.8 652.5 L778.8 652.3 L779.8 652.2 L780.8 652.1 L781.8 652.0 L782.8 651.9 L783.8 651.8 L784.8 651.6 L785.8 651.5 L786.8 651.4 L787.8 651.2 L788.8 651.0 L789.8 650.8 L790.8 650.6 L791.8 650.3 L792.8 650.0 L793.8 649.7 L794.8 649.4 L795.8 649.1 L796.8 648.7 L797.8 648.4 L798.8 648.0 L799.8 647.6 L800.8 647.2 L801.8 646.7 L802.8 646.2 L803.8 645.6 L804.8 645.0 L805.8 644.3 L806.8 643.7 L807.8 642.9 L808.8 642.2 L809.8 641.4 L810.8 640.7 L811.8 639.8 L812.8 638.9 L813.8 637.9 L814.8 636.9 L815.8 635.9 L816.8 634.8 L817.8 633.7 L818.8 632.6 L819.8 631.5 L820.8 630.4 L821.8 629.3 L822.8 628.1 L823.8 626.9 L824.8 625.6 L825.8 624.4 L826.8 623.1 L827.8 621.8 L828.8 620.4 L829.8 619.1 L830.8 617.7 L831.8 616.2 L832.8 614.6 L833.8 613.0 L834.8 611.4 L835.8 609.9 L836.8 608.5 L837.8 607.2 L838.8 605.9 L839.8 604.6 L840.8 603.2 L841.8 602.0 L842.8 601.1 L843.8 600.3 L844.8 600.0 L845.8 600.0 L846.8 600.0 L847.8 600.0 L848.8 600.0 L849.8 600.0 L850.8 600.0 L851.8 600.0 L852.8 600.0 L853.8 600.0 L854.8 600.0 L855.8 600.0 L856.8 600.1 L857.8 600.1 L858.8 600.2 L859.8 600.4 L860.8 600.5 L861.8 600.7 L862.8 600.8 L863.8 601.0 L864.8 601.2 L865.8 601.4 L866.8 601.7 L867.8 602.0 L868.8 602.3 L869.8 602.7 L870.8 603.1 L871.8 603.6 L872.8 604.0 L873.8 604.5 L874.8 604.9 L875.8 605.3 L876.8 605.8 L877.8 606.2 L878.8 606.7 L879.8 607.2 L880.8 607.7 L881.8 608.2 L882.8 608.8 L883.8 609.3 L884.8 609.9 L885.8 610.4 L886.8 611.0 L887.8 611.6 L888.8 612.2 L889.8 612.8 L890.8 613.4 L891.8 614.1 L892.8 614.7 L893.8 615.4 L894.8 616.1 L895.8 616.8 L896.8 617.5 L897.8 618.2 L898.8 618.9 L899.8 619.7 L900.8 620.4 L901.8 621.2 L902.8 622.0 L903.8 622.7 L904.8 623.5 L905.8 624.4 L906.8 625.2 L907.8 626.1 L908.8 626.9 L909.8 627.8 L910.8 628.7 L911.8 629.6 L912.8 630.5 L913.8 631.4 L914.8 632.3 L915.8 633.2 L916.8 634.0 L917.8 634.9 L918.8 635.8 L919.8 636.7 L920.8 637.6 L921.8 638.4 L922.8 639.3 L923.8 640.2 L924.8 641.0 L925.8 641.9 L926.8 643.0 L927.8 644.1 L928.8 645.2 L929.8 646.1 L930.8 646.9 L931.8 647.4 L932.8 647.5 L933.8 647.5 L934.8 647.5 L935.8 647.5 L936.8 647.5 L937.8 647.5 L938.8 647.5 L939.8 647.5 L940.8 647.4 L941.8 647.2 L942.8 646.8 L943.8 646.4 L944.8 645.8 L945.8 645.1 L946.8 644.5 L947.8 643.8 L948.8 643.2 L949.8 642.6 L950.8 642.1 L951.8 641.6 L952.8 641.1 L953.8 640.6 L954.8 640.0 L955.8 639.5 L956.8 639.0 L957.8 638.5 L958.8 638.1 L959.8 637.6 L960.8 637.2 L961.8 636.7 L962.8 636.2 L963.8 635.7 L964.8 635.2 L965.8 634.8 L966.8 634.4 L967.8 634.1 L968.8 633.9 L969.8 633.8 L970.8 633.8 L971.8 633.9 L972.8 634.0 L973.8 634.2 L974.8 634.5 L975.8 634.8 L976.8 635.1 L977.8 635.4 L978.8 635.8 L979.8 636.2 L980.8 636.5 L981.8 637.0 L982.8 637.6 L983.8 638.2 L984.8 638.9 L985.8 639.6 L986.8 640.3 L987.8 641.0 L988.8 641.7 L989.8 642.3 L990.8 643.0 L991.8 643.8 L992.8 644.6 L993.8 645.4 L994.8 646.2 L995.8 647.0 L996.8 647.6 L997.8 648.2 L998.8 648.6 L999.8 648.7 L1000.8 648.7 L1001.8 648.6 L1002.8 648.5 L1003.8 648.4 L1004.8 648.2 L1005.8 648.0 L1006.8 647.8 L1007.8 647.7 L1008.8 647.6 L1009.8 647.5 L1010.8 647.5 L1011.8 647.5 L1012.8 647.6 L1013.8 647.7 L1014.8 647.8 L1015.8 648.0 L1016.8 648.1 L1017.8 648.3 L1018.8 648.5 L1019.8 648.7 L1020.8 648.9 L1021.8 649.3 L1022.8 649.8 L1023.8 650.4 L1024.8 651.0 L1025.8 651.8 L1026.8 652.5 L1027.8 653.3 L1028.8 654.1 L1029.8 654.8 L1030.8 655.6 L1031.8 656.4 L1032.8 657.2 L1033.8 658.1 L1034.8 659.0 L1035.8 660.0 L1036.8 660.9 L1037.8 661.8 L1038.8 662.7 L1039.8 663.5 L1040.8 664.4 L1041.8 665.3 L1042.8 666.2 L1043.8 667.1 L1044.8 668.0 L1045.8 668.9 L1046.8 669.6 L1047.8 670.3 L1048.8 670.8 L1049.8 671.2 L1050.8 671.4 L1051.8 671.6 L1052.8 671.8 L1053.8 672.0 L1054.8 672.1 L1055.8 672.2 L1056.8 672.3 L1057.8 672.4 L1058.8 672.5 L1059.8 672.5 L1060.8 672.5 L1061.8 672.4 L1062.8 672.4 L1063.8 672.3 L1064.8 672.1 L1065.8 672.0 L1066.8 671.8 L1067.8 671.6 L1068.8 671.5 L1069.8 671.3 L1070.8 671.1 L1071.8 670.9 L1072.8 670.8 L1073.8 670.6 L1074.8 670.3 L1075.8 670.1 L1076.8 669.8 L1077.8 669.5 L1078.8 669.2 L1079.8 668.8 L1080.8 668.4 L1081.8 667.8 L1082.8 667.1 L1083.8 666.3 L1084.8 665.4 L1085.8 664.4 L1086.8 663.4 L1087.8 662.4 L1088.8 661.3 L1089.8 660.3 L1090.8 659.2 L1091.8 658.1 L1092.8 656.8 L1093.8 655.6 L1094.8 654.3 L1095.8 652.9 L1096.8 651.6 L1097.8 650.3 L1098.8 649.0 L1099.8 647.8 L1100.8 646.6 L1101.8 645.4 L1102.8 644.1 L1103.8 642.8 L1104.8 641.6 L1105.8 640.4 L1106.8 639.2 L1107.8 638.2 L1108.8 637.2 L1109.8 636.4 L1110.8 635.7 L1111.8 635.0 L1112.8 634.3 L1113.8 633.7 L1114.8 633.0 L1115.8 632.5 L1116.8 632.0 L1117.8 631.6 L1118.8 631.4 L1119.8 631.3 L1120.8 631.3 L1121.8 631.3 L1122.8 631.4 L1123.8 631.5 L1124.8 631.6 L1125.8 631.7 L1126.8 631.9 L1127.8 632.1 L1128.8 632.2 L1129.8 632.4 L1130.8 632.7 L1131.8 633.1 L1132.8 633.5 L1133.8 634.1 L1134.8 634.7 L1135.8 635.4 L1136.8 636.2 L1137.8 636.9 L1138.8 637.7 L1139.8 638.5 L1140.8 639.4 L1141.8 640.3 L1142.8 641.3 L1143.8 642.4 L1144.8 643.6 L1145.8 644.8 L1146.8 646.0 L1147.8 647.3 L1148.8 648.5 L1149.8 649.7 L1150.8 650.9 L1151.8 652.2 L1152.8 653.5 L1153.8 654.9 L1154.8 656.2 L1155.8 657.6 L1156.8 658.9 L1157.8 660.1 L1158.8 661.2 L1159.8 662.3 L1160.8 663.2 L1161.8 664.0 L1162.8 664.8 L1163.8 665.6 L1164.8 666.3 L1165.8 667.0 L1166.8 667.7 L1167.8 668.4 L1168.8 669.1 L1169.8 669.8 L1170.8 670.6 L1171.8 671.3 L1172.8 672.1 L1173.8 672.9 L1174.8 673.6 L1175.8 674.4 L1176.8 675.2 L1177.8 675.9 L1178.8 676.6 L1179.8 677.3 L1180.8 678.0 L1181.8 678.6 L1182.8 679.2 L1183.8 679.8 L1184.8 680.4 L1185.8 681.0 L1186.8 681.6 L1187.8 682.2 L1188.8 682.9 L1189.8 683.6 L1190.8 684.3 L1191.8 685.2 L1192.8 686.1 L1193.8 687.0 L1194.8 688.0 L1195.8 689.0 L1196.8 689.9 L1197.8 690.8 L1198.8 691.6 L1199.8 692.3 L1200.8 693.0 L1201.8 693.5 L1202.8 694.0 L1203.8 694.5 L1204.8 694.9 L1205.8 695.3 L1206.8 695.8 L1207.8 696.2 L1208.8 696.8 L1209.8 697.3 L1210.8 698.0 L1211.8 698.8 L1212.8 699.6 L1213.8 700.5 L1214.8 701.4 L1215.8 702.3 L1216.8 703.3 L1217.8 704.2 L1218.8 705.1 L1219.8 706.0 L1220.8 706.9 L1221.8 708.0 L1222.8 709.1 L1223.8 710.2 L1224.8 711.1 L1225.8 711.9 L1226.8 712.4 L1227.8 712.5 L1228.8 712.5 L1229.8 712.5 L1230.8 712.5 L1231.8 712.5 L1232.8 712.5 L1233.8 712.5 L1234.8 712.5 L1235.8 712.4 L1236.8 711.9 L1237.8 711.2 L1238.8 710.2 L1239.8 709.2 L1240.8 708.0 L1241.8 707.0 L1242.8 706.0 L1243.8 705.1 L1244.8 704.1 L1245.8 703.1 L1246.8 702.1 L1247.8 701.0 L1248.8 700.0 L1249.8 699.0 L1250.8 698.0 L1251.8 696.9 L1252.8 695.8 L1253.8 694.7 L1254.8 693.6 L1255.8 692.7 L1256.8 691.8 L1257.8 691.1 L1258.8 690.4 L1259.8 689.7 L1260.8 689.0 L1261.8 688.4 L1262.8 687.8 L1263.8 687.2 L1264.8 686.8 L1265.8 686.5 L1266.8 686.3 L1267.8 686.3 L1268.8 686.3 L1269.8 686.5 L1270.8 686.7 L1271.8 686.9 L1272.8 687.2 L1273.8 687.5 L1274.8 687.9 L1275.8 688.2 L1276.8 688.5 L1277.8 688.8 L1278.8 689.1 L1279.8 689.5 L1280.8 689.9 L1281.8 690.2 L1282.8 690.6 L1283.8 691.0 L1284.8 691.4 L1285.8 691.8 L1286.8 692.2 L1287.8 692.6 L1288.8 693.0 L1289.8 693.3 L1290.8 693.7 L1291.8 694.1 L1292.8 694.5 L1293.8 694.8 L1294.8 695.2 L1295.8 695.6 L1296.8 696.0 L1297.8 696.3 L1298.8 696.7 L1299.8 697.1 L1300.8 697.4 L1301.8 697.8 L1302.8 698.1 L1303.8 698.5 L1304.8 698.9 L1305.8 699.3 L1306.8 699.7 L1307.8 700.1 L1308.8 700.6 L1309.8 701.0 L1310.8 701.5 L1311.8 702.0 L1312.8 702.5 L1313.8 703.1 L1314.8 703.6 L1315.8 704.1 L1316.8 704.6 L1317.8 705.1 L1318.8 705.6 L1319.8 706.2 L1320.8 706.7 L1321.8 707.3 L1322.8 707.8 L1323.8 708.4 L1324.8 708.9 L1325.8 709.3 L1326.8 709.7 L1327.8 710.1 L1328.8 710.4 L1329.8 710.8 L1330.8 711.1 L1331.8 711.4 L1332.8 711.7 L1333.8 712.0 L1334.8 712.2 L1335.8 712.4 L1336.8 712.5 L1337.8 712.5 L1338.8 712.4 L1339.8 712.3 L1340.8 712.1 L1341.8 711.8 L1342.8 711.5 L1343.8 711.2 L1344.8 710.9 L1345.8 710.6 L1346.8 710.2 L1347.8 709.9 L1348.8 709.6 L1349.8 709.3 L1350.8 708.9 L1351.8 708.6 L1352.8 708.2 L1353.8 707.8 L1354.8 707.4 L1355.8 707.0 L1356.8 706.6 L1357.8 706.1 L1358.8 705.7 L1359.8 705.2 L1360.8 704.8 L1361.8 704.3 L1362.8 703.8 L1363.8 703.3 L1364.8 702.8 L1365.8 702.2 L1366.8 701.7 L1367.8 701.1 L1368.8 700.5 L1369.8 699.9 L1370.8 699.2 L1371.8 698.5 L1372.8 697.8 L1373.8 697.1 L1374.8 696.4 L1375.8 695.7 L1376.8 695.0 L1377.8 694.2 L1378.8 693.4 L1379.8 692.6 L1380.8 691.8 L1381.8 691.0 L1382.8 690.3 L1383.8 689.5 L1384.8 688.9 L1385.8 688.3 L1386.8 687.8 L1387.8 687.3 L1388.8 686.8 L1389.8 686.3 L1390.8 685.8 L1391.8 685.4 L1392.8 684.9 L1393.8 684.4 L1394.8 683.9 L1395.8 683.3 L1396.8 682.8 L1397.8 682.2 L1398.8 681.6 L1399.8 680.9 L1400.8 680.3 L1401.8 679.7 L1402.8 679.0 L1403.8 678.3 L1404.8 677.7 L1405.8 677.0 L1406.8 676.3 L1407.8 675.5 L1408.8 674.8 L1409.8 674.0 L1410.8 673.3 L1411.8 672.5 L1412.8 671.7 L1413.8 670.9 L1414.8 670.2 L1415.8 669.4 L1416.8 668.7 L1417.8 667.9 L1418.8 667.1 L1419.8 666.4 L1420.8 665.6 L1421.8 664.8 L1422.8 664.1 L1423.8 663.4 L1424.8 662.7 L1425.8 662.0 L1426.8 661.4 L1427.8 660.8 L1428.8 660.2 L1429.8 659.6 L1430.8 659.0 L1431.8 658.4 L1432.8 657.8 L1433.8 657.1 L1434.8 656.4 L1435.8 655.7 L1436.8 654.9 L1437.8 654.1 L1438.8 653.2 L1439.8 652.3 L1440.8 651.4 L1441.8 650.4 L1442.8 649.5 L1443.8 648.6 L1444.8 647.7 L1445.8 646.8 L1446.8 645.9 L1447.8 645.0 L1448.8 644.1 L1449.8 643.2 L1450.8 642.3 L1451.8 641.4 L1452.8 640.5 L1453.8 639.7 L1454.8 638.9 L1455.8 638.2 L1456.8 637.5 L1457.8 636.7 L1458.8 636.0 L1459.8 635.3 L1460.8 634.7 L1461.8 634.1 L1462.8 633.5 L1463.8 633.0 L1464.8 632.6 L1465.8 632.2 L1466.8 631.9 L1467.8 631.5 L1468.8 631.2 L1469.8 630.9 L1470.8 630.6 L1471.8 630.4 L1472.8 630.2 L1473.8 630.1 L1474.8 630.0 L1475.8 630.0 L1476.8 630.0 L1477.8 630.0 L1478.8 630.0 L1479.8 630.0 L1480.8 630.0 L1481.8 630.0 L1482.8 630.0 L1483.8 630.0 L1484.8 630.0 L1485.0 630.0" stroke="#111" stroke-width="2.1" fill="none" stroke-dasharray="4.5 3.4"/>
<path d="M488.8 648.0 L489.8 648.3 L490.8 648.6 L491.8 648.8 L492.8 649.1 L493.8 649.3 L494.8 649.6 L495.8 649.9 L496.8 650.2 L497.8 650.5 L498.8 650.8 L499.8 651.2 L500.8 651.6 L501.8 652.0 L502.8 652.6 L503.8 653.2 L504.8 653.8 L505.8 654.4 L506.8 655.0 L507.8 655.5 L508.8 655.9 L509.8 656.2 L510.8 656.4 L511.8 656.6 L512.8 656.8 L513.8 656.9 L514.8 657.1 L515.8 657.2 L516.8 657.3 L517.8 657.4 L518.8 657.5 L519.8 657.5 L520.8 657.3" stroke="#f00a0a" stroke-width="3.0" fill="none" stroke-linejoin="round" stroke-linecap="round"/>
<path d="M520.8 657.3 L521.8 656.4 L522.8 655.1 L523.8 653.8 L524.8 652.7 L525.8 651.9 L526.8 651.2 L527.8 650.4 L528.8 649.7 L529.8 649.0 L530.8 648.3 L531.8 647.7 L532.8 647.2 L533.8 646.7 L534.8 646.3 L535.8 646.0 L536.8 645.7 L537.8 645.3 L538.8 645.1 L539.8 644.8 L540.8 644.6 L541.8 644.4 L542.8 644.3 L543.8 644.2" stroke="#0a0aa0" stroke-width="3.0" fill="none" stroke-linejoin="round" stroke-linecap="round"/>
<path d="M543.8 644.2 L544.8 644.3 L545.8 644.4 L546.8 644.6 L547.8 644.8 L548.8 645.0 L549.8 645.3 L550.8 645.8 L551.8 646.4 L552.8 647.0 L553.8 647.6 L554.8 647.9 L555.8 648.2 L556.8 648.4 L557.8 648.6 L558.8 648.8 L559.8 649.0 L560.8 649.2 L561.8 649.3 L562.8 649.4 L563.8 649.5 L564.8 649.5 L565.8 649.2" stroke="#f00a0a" stroke-width="3.0" fill="none" stroke-linejoin="round" stroke-linecap="round"/>
<path d="M565.8 649.2 L566.8 648.1 L567.8 646.4 L568.8 644.5 L569.8 642.8 L570.8 641.5 L571.8 640.2 L572.8 639.0 L573.8 637.8 L574.8 636.5 L575.8 635.3 L576.8 634.1 L577.8 632.9 L578.8 631.6 L579.8 630.3 L580.8 629.0 L581.8 627.5 L582.8 626.0 L583.8 624.4 L584.8 622.8 L585.8 621.3 L586.8 619.8 L587.8 618.5 L588.8 617.4 L589.8 616.4 L590.8 615.7 L591.8 615.1 L592.8 614.5 L593.8 613.9 L594.8 613.4 L595.8 613.0 L596.8 612.5 L597.8 612.1 L598.8 611.7 L599.8 611.3 L600.8 611.0 L601.8 610.6 L602.8 610.3 L603.8 610.0 L604.8 609.7 L605.8 609.4 L606.8 609.1 L607.8 608.8 L608.8 608.6 L609.8 608.3 L610.8 608.0 L611.8 607.7 L612.8 607.4 L613.8 607.1 L614.8 606.8 L615.8 606.6 L616.8 606.3 L617.8 606.0 L618.8 605.7 L619.8 605.5 L620.8 605.2 L621.8 604.9 L622.8 604.5 L623.8 604.2 L624.8 603.8 L625.8 603.5 L626.8 603.0 L627.8 602.6 L628.8 602.1 L629.8 601.5 L630.8 601.0 L631.8 600.5 L632.8 599.9 L633.8 599.4 L634.8 598.9 L635.8 598.4 L636.8 597.8 L637.8 597.2 L638.8 596.6 L639.8 596.0 L640.8 595.6 L641.8 595.2 L642.8 595.0 L643.8 594.8 L644.8 594.6 L645.8 594.5 L646.8 594.3 L647.8 594.3 L648.8 594.2" stroke="#0a0aa0" stroke-width="3.0" fill="none" stroke-linejoin="round" stroke-linecap="round"/>
<path d="M648.8 594.2 L649.8 594.3 L650.8 594.3 L651.8 594.4 L652.8 594.6 L653.8 594.8 L654.8 594.9 L655.8 595.2 L656.8 595.7 L657.8 596.4 L658.8 597.2 L659.8 598.2 L660.8 599.3 L661.8 600.4 L662.8 601.5 L663.8 602.8 L664.8 604.3 L665.8 605.9 L666.8 607.8 L667.8 609.8 L668.8 612.0 L669.8 614.4 L670.8 617.2 L671.8 621.0 L672.8 625.4 L673.8 629.9 L674.8 634.1 L675.8 637.8 L676.8 641.8 L677.8 645.7 L678.8 649.4 L679.8 652.7 L680.8 655.3 L681.8 657.1 L682.8 658.8 L683.8 660.4 L684.8 661.6 L685.8 662.6 L686.8 663.0 L687.8 662.9" stroke="#f00a0a" stroke-width="3.0" fill="none" stroke-linejoin="round" stroke-linecap="round"/>
<path d="M687.8 662.9 L688.8 662.5 L689.8 662.1 L690.8 661.7 L691.8 661.3 L692.8 660.8 L693.8 660.3 L694.8 659.8 L695.8 659.4 L696.8 659.1 L697.8 658.8 L698.8 658.8" stroke="#0a0aa0" stroke-width="3.0" fill="none" stroke-linejoin="round" stroke-linecap="round"/>
<path d="M698.8 658.8 L699.8 659.3 L700.8 660.7 L701.8 662.5 L702.8 664.1 L703.8 665.9 L704.8 667.9 L705.8 670.0 L706.8 672.2 L707.8 674.1 L708.8 675.9 L709.8 677.2 L710.8 678.3 L711.8 679.3 L712.8 680.3 L713.8 681.2 L714.8 682.0 L715.8 682.7 L716.8 683.3 L717.8 683.6 L718.8 683.8" stroke="#f00a0a" stroke-width="3.0" fill="none" stroke-linejoin="round" stroke-linecap="round"/>
<path d="M718.8 683.8 L719.8 683.1 L720.8 681.6 L721.8 679.8 L722.8 678.5 L723.8 677.2 L724.8 676.0 L725.8 674.9 L726.8 674.1 L727.8 673.7 L728.8 673.5 L729.8 673.4 L730.8 673.3 L731.8 673.2 L732.8 673.1 L733.8 673.0 L734.8 672.9 L735.8 672.8 L736.8 672.6 L737.8 672.4 L738.8 672.0 L739.8 671.4 L740.8 670.6 L741.8 669.6 L742.8 668.6 L743.8 667.5 L744.8 666.5 L745.8 665.4 L746.8 664.2 L747.8 662.8 L748.8 661.4 L749.8 659.9 L750.8 658.5 L751.8 657.1 L752.8 655.8 L753.8 654.8 L754.8 653.9 L755.8 653.3 L756.8 652.6 L757.8 652.0 L758.8 651.5 L759.8 651.0 L760.8 650.6 L761.8 650.3 L762.8 650.1 L763.8 650.0" stroke="#0a0aa0" stroke-width="3.0" fill="none" stroke-linejoin="round" stroke-linecap="round"/>
<path d="M763.8 650.0 L764.8 650.0 L765.8 650.0 L766.8 650.0 L767.8 650.0 L768.8 650.5 L769.8 651.5 L770.8 652.6 L771.8 653.8 L772.8 654.7 L773.8 655.0" stroke="#f00a0a" stroke-width="3.0" fill="none" stroke-linejoin="round" stroke-linecap="round"/>
<path d="M773.8 655.0 L774.8 655.0 L775.8 655.0 L776.8 655.0 L777.8 655.0 L778.8 655.0 L779.8 654.9 L780.8 654.7 L781.8 654.6 L782.8 654.3 L783.8 654.1 L784.8 653.8 L785.8 653.4 L786.8 652.5 L787.8 651.4 L788.8 650.0 L789.8 648.6 L790.8 647.1 L791.8 645.8 L792.8 644.8 L793.8 643.9 L794.8 643.0 L795.8 642.3 L796.8 641.5 L797.8 640.7 L798.8 639.9 L799.8 639.0 L800.8 638.0 L801.8 636.9 L802.8 635.7 L803.8 634.5 L804.8 633.2 L805.8 632.0 L806.8 630.8 L807.8 629.7 L808.8 628.7 L809.8 627.8 L810.8 626.8 L811.8 625.9 L812.8 624.9 L813.8 623.9 L814.8 622.8 L815.8 621.6 L816.8 620.2 L817.8 618.6 L818.8 617.1 L819.8 615.5 L820.8 613.9 L821.8 612.3 L822.8 610.9 L823.8 609.4 L824.8 608.0 L825.8 606.5 L826.8 605.1 L827.8 603.7 L828.8 602.5 L829.8 601.5 L830.8 600.6 L831.8 599.6 L832.8 598.7 L833.8 598.0 L834.8 597.4 L835.8 597.0 L836.8 597.0" stroke="#0a0aa0" stroke-width="3.0" fill="none" stroke-linejoin="round" stroke-linecap="round"/>
<path d="M836.8 597.0 L837.8 597.0 L838.8 597.0 L839.8 597.0 L840.8 597.1 L841.8 597.5 L842.8 598.1 L843.8 598.9 L844.8 599.7 L845.8 600.4 L846.8 601.0 L847.8 601.3" stroke="#f00a0a" stroke-width="3.0" fill="none" stroke-linejoin="round" stroke-linecap="round"/>
<path d="M847.8 601.3 L848.8 601.5 L849.8 601.7 L850.8 601.9 L851.8 602.0 L852.8 602.0 L853.8 602.0 L854.8 602.0 L855.8 602.0 L856.8 602.0 L857.8 602.0 L858.8 602.0" stroke="#0a0aa0" stroke-width="3.0" fill="none" stroke-linejoin="round" stroke-linecap="round"/>
<path d="M858.8 602.0 L859.8 602.0 L860.8 602.2 L861.8 602.3 L862.8 602.6 L863.8 602.9 L864.8 603.5 L865.8 604.1 L866.8 604.9 L867.8 605.8 L868.8 606.7 L869.8 607.6 L870.8 608.5 L871.8 609.4 L872.8 610.2 L873.8 611.1 L874.8 612.0 L875.8 612.9 L876.8 613.9 L877.8 614.7 L878.8 615.5 L879.8 616.1 L880.8 616.6 L881.8 616.9 L882.8 617.2 L883.8 617.5 L884.8 617.8 L885.8 618.1 L886.8 618.4 L887.8 618.9 L888.8 619.5 L889.8 620.2 L890.8 621.0 L891.8 621.9 L892.8 622.8 L893.8 623.8 L894.8 624.8 L895.8 625.8 L896.8 627.0 L897.8 628.4 L898.8 629.7 L899.8 631.0 L900.8 632.2 L901.8 633.2 L902.8 633.9 L903.8 634.4 L904.8 634.7 L905.8 635.0 L906.8 635.3 L907.8 635.7 L908.8 636.2 L909.8 637.1 L910.8 638.5 L911.8 640.1 L912.8 641.8 L913.8 643.4 L914.8 644.7 L915.8 645.8 L916.8 646.7 L917.8 647.5 L918.8 648.3 L919.8 649.1 L920.8 649.9 L921.8 650.6 L922.8 651.5 L923.8 652.4 L924.8 653.5 L925.8 654.5 L926.8 655.4 L927.8 656.0 L928.8 656.2" stroke="#f00a0a" stroke-width="3.0" fill="none" stroke-linejoin="round" stroke-linecap="round"/>
<path d="M928.8 656.2 L929.8 655.4 L930.8 653.4 L931.8 651.2 L932.8 649.7 L933.8 648.8 L934.8 647.9 L935.8 647.2 L936.8 646.4 L937.8 645.7 L938.8 644.9 L939.8 644.0 L940.8 642.9 L941.8 641.6 L942.8 640.2 L943.8 638.8 L944.8 637.3 L945.8 635.9 L946.8 634.6 L947.8 633.5 L948.8 632.4 L949.8 631.2 L950.8 630.1 L951.8 629.2 L952.8 628.5 L953.8 628.1 L954.8 628.0" stroke="#0a0aa0" stroke-width="3.0" fill="none" stroke-linejoin="round" stroke-linecap="round"/>
<path d="M954.8 628.0 L955.8 628.4 L956.8 629.0 L957.8 629.7 L958.8 630.4 L959.8 631.1 L960.8 631.6 L961.8 632.1 L962.8 632.6 L963.8 633.0 L964.8 633.5 L965.8 634.0 L966.8 634.6 L967.8 635.2 L968.8 635.9 L969.8 636.7 L970.8 637.5 L971.8 638.4 L972.8 639.3 L973.8 640.2 L974.8 641.1 L975.8 641.8 L976.8 642.6 L977.8 643.4 L978.8 644.2 L979.8 644.9 L980.8 645.7 L981.8 646.4 L982.8 647.1 L983.8 647.9 L984.8 648.6 L985.8 649.3 L986.8 650.2 L987.8 651.1 L988.8 651.9 L989.8 652.7 L990.8 653.3 L991.8 653.7 L992.8 653.8" stroke="#f00a0a" stroke-width="3.0" fill="none" stroke-linejoin="round" stroke-linecap="round"/>
<path d="M992.8 653.8 L993.8 653.8 L994.8 653.8 L995.8 653.8 L996.8 653.8 L997.8 653.7 L998.8 653.5 L999.8 653.1 L1000.8 652.5 L1001.8 651.8 L1002.8 651.0 L1003.8 649.4 L1004.8 647.4 L1005.8 646.0 L1006.8 645.7" stroke="#0a0aa0" stroke-width="3.0" fill="none" stroke-linejoin="round" stroke-linecap="round"/>
<path d="M1006.8 645.7 L1007.8 645.8 L1008.8 645.8 L1009.8 645.8 L1010.8 645.9 L1011.8 646.5 L1012.8 647.1 L1013.8 647.5" stroke="#f00a0a" stroke-width="3.0" fill="none" stroke-linejoin="round" stroke-linecap="round"/>
<path d="M1013.8 647.5 L1014.8 647.6 L1015.8 647.7 L1016.8 647.8 L1017.8 647.9 L1018.8 648.0" stroke="#0a0aa0" stroke-width="3.0" fill="none" stroke-linejoin="round" stroke-linecap="round"/>
<path d="M1018.8 648.0 L1019.8 649.5 L1020.8 651.6 L1021.8 654.0 L1022.8 656.6 L1023.8 659.0 L1024.8 660.9 L1025.8 662.2 L1026.8 663.3 L1027.8 664.2 L1028.8 665.0 L1029.8 665.9 L1030.8 666.9 L1031.8 668.2 L1032.8 670.1 L1033.8 672.3 L1034.8 674.5 L1035.8 676.4 L1036.8 677.7 L1037.8 678.0" stroke="#f00a0a" stroke-width="3.0" fill="none" stroke-linejoin="round" stroke-linecap="round"/>
<path d="M1037.8 678.0 L1038.8 677.3 L1039.8 676.2 L1040.8 675.3 L1041.8 674.8 L1042.8 674.6 L1043.8 674.3 L1044.8 674.1 L1045.8 674.0 L1046.8 673.8 L1047.8 673.6 L1048.8 673.4 L1049.8 673.1 L1050.8 672.7 L1051.8 672.0 L1052.8 671.1 L1053.8 670.2 L1054.8 669.3 L1055.8 668.6 L1056.8 668.1 L1057.8 668.0" stroke="#0a0aa0" stroke-width="3.0" fill="none" stroke-linejoin="round" stroke-linecap="round"/>
<path d="M1057.8 668.0 L1058.8 668.3 L1059.8 668.7 L1060.8 668.9 L1061.8 669.2 L1062.8 669.5 L1063.8 669.7 L1064.8 670.0 L1065.8 670.2 L1066.8 670.4 L1067.8 670.5 L1068.8 670.5" stroke="#f00a0a" stroke-width="3.0" fill="none" stroke-linejoin="round" stroke-linecap="round"/>
<path d="M1068.8 670.5 L1069.8 670.3 L1070.8 669.9 L1071.8 669.2 L1072.8 668.6 L1073.8 667.9 L1074.8 667.1 L1075.8 666.1 L1076.8 665.1 L1077.8 664.0 L1078.8 662.9 L1079.8 661.6 L1080.8 660.1 L1081.8 658.3 L1082.8 656.2 L1083.8 654.0 L1084.8 651.7 L1085.8 649.5 L1086.8 647.6 L1087.8 645.9 L1088.8 644.3 L1089.8 642.7 L1090.8 641.2 L1091.8 639.8 L1092.8 638.6 L1093.8 637.4 L1094.8 636.5 L1095.8 635.6 L1096.8 634.9 L1097.8 634.2 L1098.8 633.5 L1099.8 632.9 L1100.8 632.4 L1101.8 632.0 L1102.8 631.7 L1103.8 631.4 L1104.8 631.1 L1105.8 630.9 L1106.8 630.7 L1107.8 630.5 L1108.8 630.5" stroke="#0a0aa0" stroke-width="3.0" fill="none" stroke-linejoin="round" stroke-linecap="round"/>
<path d="M1108.8 630.5 L1109.8 630.6 L1110.8 630.9 L1111.8 631.2 L1112.8 631.2 L1113.8 631.2 L1114.8 631.2 L1115.8 631.2 L1116.8 631.2 L1117.8 631.2 L1118.8 631.2 L1119.8 631.2 L1120.8 631.2 L1121.8 631.2 L1122.8 631.3 L1123.8 631.7 L1124.8 632.7 L1125.8 633.9 L1126.8 635.2 L1127.8 636.6 L1128.8 638.1 L1129.8 639.8 L1130.8 641.7 L1131.8 643.7 L1132.8 645.8 L1133.8 647.7 L1134.8 649.6 L1135.8 651.4 L1136.8 653.3 L1137.8 655.3 L1138.8 657.1 L1139.8 658.6 L1140.8 659.7 L1141.8 660.2 L1142.8 660.5 L1143.8 660.6 L1144.8 660.8 L1145.8 661.1 L1146.8 661.5 L1147.8 662.3 L1148.8 663.3 L1149.8 664.5 L1150.8 665.7 L1151.8 666.8 L1152.8 667.7 L1153.8 668.5 L1154.8 669.2 L1155.8 669.9 L1156.8 670.5 L1157.8 671.2 L1158.8 671.8 L1159.8 672.4 L1160.8 672.9 L1161.8 673.4 L1162.8 674.0 L1163.8 674.4 L1164.8 674.9 L1165.8 675.4 L1166.8 675.9 L1167.8 676.4 L1168.8 676.8 L1169.8 677.3 L1170.8 677.7 L1171.8 678.2 L1172.8 678.7 L1173.8 679.2 L1174.8 679.8 L1175.8 680.6 L1176.8 681.6 L1177.8 682.8 L1178.8 684.0 L1179.8 685.3 L1180.8 686.7 L1181.8 687.9 L1182.8 689.0 L1183.8 690.1 L1184.8 691.2 L1185.8 692.2 L1186.8 693.2 L1187.8 694.2 L1188.8 695.2 L1189.8 696.0 L1190.8 696.9" stroke="#f00a0a" stroke-width="3.0" fill="none" stroke-linejoin="round" stroke-linecap="round"/>
<path d="M1190.8 696.9 L1191.8 697.8 L1192.8 698.0 L1193.8 698.0 L1194.8 698.0 L1195.8 698.0" stroke="#0a0aa0" stroke-width="3.0" fill="none" stroke-linejoin="round" stroke-linecap="round"/>
<path d="M1195.8 698.0 L1196.8 698.0 L1197.8 698.0 L1198.8 698.0 L1199.8 698.0 L1200.8 698.1 L1201.8 698.5 L1202.8 699.1 L1203.8 699.9 L1204.8 700.9 L1205.8 701.9 L1206.8 703.0 L1207.8 704.0 L1208.8 705.3 L1209.8 706.9 L1210.8 708.6 L1211.8 710.3 L1212.8 712.0 L1213.8 713.5 L1214.8 714.8 L1215.8 715.7 L1216.8 716.6 L1217.8 717.5 L1218.8 718.4 L1219.8 719.2 L1220.8 719.8 L1221.8 720.3 L1222.8 720.6 L1223.8 720.8" stroke="#f00a0a" stroke-width="3.0" fill="none" stroke-linejoin="round" stroke-linecap="round"/>
<path d="M1223.8 720.8 L1224.8 720.4 L1225.8 719.5 L1226.8 718.4 L1227.8 717.2 L1228.8 715.9 L1229.8 714.5 L1230.8 712.9 L1231.8 711.2 L1232.8 709.4 L1233.8 707.5 L1234.8 705.5 L1235.8 703.3 L1236.8 700.4 L1237.8 697.1 L1238.8 693.8 L1239.8 690.7 L1240.8 688.1 L1241.8 686.2 L1242.8 685.4 L1243.8 684.9 L1244.8 684.5 L1245.8 684.1 L1246.8 683.7 L1247.8 683.4 L1248.8 683.2 L1249.8 682.9 L1250.8 682.7 L1251.8 682.6 L1252.8 682.5 L1253.8 682.5" stroke="#0a0aa0" stroke-width="3.0" fill="none" stroke-linejoin="round" stroke-linecap="round"/>
<path d="M1253.8 682.5 L1254.8 682.6 L1255.8 683.0 L1256.8 683.4 L1257.8 683.9 L1258.8 684.4 L1259.8 685.1 L1260.8 685.9 L1261.8 686.8 L1262.8 687.6 L1263.8 688.5 L1264.8 689.4 L1265.8 690.1 L1266.8 690.8 L1267.8 691.4 L1268.8 691.9 L1269.8 692.5 L1270.8 693.0 L1271.8 693.5 L1272.8 693.8 L1273.8 694.1 L1274.8 694.2 L1275.8 694.2" stroke="#f00a0a" stroke-width="3.0" fill="none" stroke-linejoin="round" stroke-linecap="round"/>
<path d="M1275.8 694.2 L1276.8 694.2 L1277.8 694.2 L1278.8 694.2 L1279.8 694.0 L1280.8 693.7 L1281.8 693.4 L1282.8 693.1 L1283.8 692.8 L1284.8 692.6 L1285.8 692.5 L1286.8 692.5" stroke="#0a0aa0" stroke-width="3.0" fill="none" stroke-linejoin="round" stroke-linecap="round"/>
<path d="M1286.8 692.5 L1287.8 692.8 L1288.8 693.2 L1289.8 693.6 L1290.8 694.1 L1291.8 694.8 L1292.8 695.5 L1293.8 696.3 L1294.8 697.2 L1295.8 698.2 L1296.8 699.4 L1297.8 701.3 L1298.8 703.3 L1299.8 704.8 L1300.8 705.6 L1301.8 706.2 L1302.8 706.8 L1303.8 707.3 L1304.8 707.8 L1305.8 708.3 L1306.8 708.7 L1307.8 709.1 L1308.8 709.5 L1309.8 709.9 L1310.8 710.3 L1311.8 710.8 L1312.8 711.3 L1313.8 711.7 L1314.8 712.2 L1315.8 712.6 L1316.8 713.0 L1317.8 713.3 L1318.8 713.5 L1319.8 713.7 L1320.8 713.8 L1321.8 713.9 L1322.8 714.0 L1323.8 714.1 L1324.8 714.2 L1325.8 714.3 L1326.8 714.4 L1327.8 714.4 L1328.8 714.5 L1329.8 714.5 L1330.8 714.5 L1331.8 714.4" stroke="#f00a0a" stroke-width="3.0" fill="none" stroke-linejoin="round" stroke-linecap="round"/>
<path d="M1331.8 714.4 L1332.8 714.0 L1333.8 713.4 L1334.8 712.7 L1335.8 712.0 L1336.8 711.3 L1337.8 710.6 L1338.8 709.8 L1339.8 709.0 L1340.8 708.3 L1341.8 707.6 L1342.8 706.9 L1343.8 706.2 L1344.8 705.6 L1345.8 705.0 L1346.8 704.3 L1347.8 703.7 L1348.8 703.1 L1349.8 702.7 L1350.8 702.3 L1351.8 702.1 L1352.8 702.0 L1353.8 702.0 L1354.8 702.0 L1355.8 702.0 L1356.8 702.0 L1357.8 702.0 L1358.8 702.0" stroke="#0a0aa0" stroke-width="3.0" fill="none" stroke-linejoin="round" stroke-linecap="round"/>
<path d="M1358.8 702.0 L1359.8 702.0 L1360.8 702.0 L1361.8 702.0 L1362.8 702.0 L1363.8 702.0" stroke="#f00a0a" stroke-width="3.0" fill="none" stroke-linejoin="round" stroke-linecap="round"/>
<path d="M1363.8 702.0 L1364.8 701.6 L1365.8 700.5 L1366.8 699.4 L1367.8 698.0 L1368.8 696.4 L1369.8 694.6 L1370.8 692.7 L1371.8 690.9 L1372.8 689.2 L1373.8 687.7 L1374.8 686.5 L1375.8 685.5 L1376.8 684.6 L1377.8 683.7 L1378.8 682.9 L1379.8 682.1 L1380.8 681.4 L1381.8 680.9 L1382.8 680.6 L1383.8 680.5" stroke="#0a0aa0" stroke-width="3.0" fill="none" stroke-linejoin="round" stroke-linecap="round"/>
<path d="M1383.8 680.5 L1384.8 680.6 L1385.8 680.8 L1386.8 681.1 L1387.8 681.4 L1388.8 681.6 L1389.8 681.7 L1390.8 681.8" stroke="#f00a0a" stroke-width="3.0" fill="none" stroke-linejoin="round" stroke-linecap="round"/>
<path d="M1390.8 681.8 L1391.8 681.8 L1392.8 681.7 L1393.8 681.6 L1394.8 681.3 L1395.8 680.9 L1396.8 680.4 L1397.8 679.8 L1398.8 679.0 L1399.8 677.8 L1400.8 676.4 L1401.8 674.9 L1402.8 673.3 L1403.8 671.7 L1404.8 670.3 L1405.8 669.1 L1406.8 667.8 L1407.8 666.5 L1408.8 665.3 L1409.8 664.1 L1410.8 662.9 L1411.8 661.9 L1412.8 661.0 L1413.8 660.1 L1414.8 659.3 L1415.8 658.8 L1416.8 658.8" stroke="#0a0aa0" stroke-width="3.0" fill="none" stroke-linejoin="round" stroke-linecap="round"/>
<path d="M1416.8 658.8 L1417.8 658.8 L1418.8 658.8 L1419.8 658.8 L1420.8 658.8 L1421.8 658.8" stroke="#f00a0a" stroke-width="3.0" fill="none" stroke-linejoin="round" stroke-linecap="round"/>
<path d="M1421.8 658.8 L1422.8 658.7 L1423.8 658.5 L1424.8 658.1 L1425.8 657.4 L1426.8 656.6 L1427.8 655.8 L1428.8 654.8 L1429.8 654.0 L1430.8 653.1 L1431.8 652.1 L1432.8 651.1 L1433.8 650.0 L1434.8 648.8 L1435.8 647.6 L1436.8 646.4 L1437.8 645.2 L1438.8 644.0 L1439.8 642.8 L1440.8 641.6 L1441.8 640.3 L1442.8 639.0 L1443.8 637.7 L1444.8 636.5 L1445.8 635.3 L1446.8 634.3 L1447.8 633.6 L1448.8 632.9 L1449.8 632.3 L1450.8 631.7 L1451.8 631.2 L1452.8 630.8 L1453.8 630.4 L1454.8 630.1 L1455.8 629.8 L1456.8 629.5 L1457.8 629.3 L1458.8 629.2" stroke="#0a0aa0" stroke-width="3.0" fill="none" stroke-linejoin="round" stroke-linecap="round"/>
<path d="M1458.8 629.2 L1459.8 629.4 L1460.8 629.6 L1461.8 630.0 L1462.8 630.4 L1463.8 630.8" stroke="#f00a0a" stroke-width="3.0" fill="none" stroke-linejoin="round" stroke-linecap="round"/>
<path d="M1463.8 630.8 L1464.8 631.2 L1465.8 631.2 L1466.8 631.0 L1467.8 630.6 L1468.8 630.2 L1469.8 629.7 L1470.8 629.3 L1471.8 628.9 L1472.8 628.7 L1473.8 628.5 L1474.8 628.4 L1475.8 628.2 L1476.8 628.1 L1477.8 628.0 L1478.8 628.0" stroke="#0a0aa0" stroke-width="3.0" fill="none" stroke-linejoin="round" stroke-linecap="round"/>
<path d="M1478.8 628.0 L1479.8 628.0 L1480.8 628.2 L1481.8 628.4 L1482.8 628.6 L1483.8 628.8 L1484.8 629.0 L1485.0 629.0" stroke="#f00a0a" stroke-width="3.0" fill="none" stroke-linejoin="round" stroke-linecap="round"/>
<path d="M74.0 593.7H83.5L78.8 600.3Z" fill="#c80a0a"/>
<path d="M119.0 678.0H128.6L123.8 684.5Z" fill="#c80a0a"/>
<path d="M144.7 699.2H154.3L149.5 705.8Z" fill="#c80a0a"/>
<path d="M163.4 695.5H173.1L168.2 702.0Z" fill="#c80a0a"/>
<path d="M208.2 596.7H217.8L213.0 603.3Z" fill="#c80a0a"/>
<path d="M221.4 601.2H231.1L226.2 607.8Z" fill="#c80a0a"/>
<path d="M310.2 616.7H319.8L315.0 623.3Z" fill="#c80a0a"/>
<path d="M418.9 624.2H428.6L423.8 630.8Z" fill="#c80a0a"/>
<path d="M476.4 592.5H486.1L481.2 599.0Z" fill="#c80a0a"/>
<path d="M547.7 607.2H557.3L552.5 613.8Z" fill="#c80a0a"/>
<path d="M597.2 618.0H606.8L602.0 624.5Z" fill="#c80a0a"/>
<path d="M623.2 643.5H632.8L628.0 650.0Z" fill="#c80a0a"/>
<path d="M649.7 605.5H659.3L654.5 612.0Z" fill="#c80a0a"/>
<path d="M700.2 693.0H709.8L705.0 699.5Z" fill="#c80a0a"/>
<path d="M757.7 604.2H767.3L762.5 610.8Z" fill="#c80a0a"/>
<path d="M829.0 591.0H838.5L833.8 597.5Z" fill="#c80a0a"/>
<path d="M860.7 614.2H870.3L865.5 620.8Z" fill="#c80a0a"/>
<path d="M911.5 698.5H921.0L916.2 705.0Z" fill="#c80a0a"/>
<path d="M924.5 694.2H934.0L929.2 700.8Z" fill="#c80a0a"/>
<path d="M956.5 608.0H966.0L961.2 614.5Z" fill="#c80a0a"/>
<path d="M1007.2 666.2H1016.8L1012.0 672.8Z" fill="#c80a0a"/>
<path d="M1019.5 672.2H1029.0L1024.2 678.8Z" fill="#c80a0a"/>
<path d="M1033.2 676.7H1042.8L1038.0 683.3Z" fill="#c80a0a"/>
<path d="M1058.2 663.0H1067.8L1063.0 669.5Z" fill="#c80a0a"/>
<path d="M1091.5 608.7H1101.0L1096.2 615.3Z" fill="#c80a0a"/>
<path d="M1147.7 699.2H1157.3L1152.5 705.8Z" fill="#c80a0a"/>
<path d="M1199.0 668.7H1208.5L1203.8 675.3Z" fill="#c80a0a"/>
<path d="M1256.5 626.0H1266.0L1261.2 632.5Z" fill="#c80a0a"/>
<path d="M1352.2 637.5H1361.8L1357.0 644.0Z" fill="#c80a0a"/>
<path d="M1378.5 632.2H1388.0L1383.2 638.8Z" fill="#c80a0a"/>
<path d="M1416.5 621.2H1426.0L1421.2 627.8Z" fill="#c80a0a"/>
<path d="M1455.2 598.5H1464.8L1460.0 605.0Z" fill="#c80a0a"/>
<path d="M106.5 686.3H116.0L111.2 679.7Z" fill="#0a0ac8"/>
<path d="M138.9 708.3H148.6L143.8 701.7Z" fill="#0a0ac8"/>
<path d="M151.4 706.3H161.1L156.2 699.7Z" fill="#0a0ac8"/>
<path d="M183.2 701.3H192.8L188.0 694.7Z" fill="#0a0ac8"/>
<path d="M214.7 606.5H224.3L219.5 600.0Z" fill="#0a0ac8"/>
<path d="M278.9 684.5H288.6L283.8 678.0Z" fill="#0a0ac8"/>
<path d="M375.2 697.5H384.8L380.0 691.0Z" fill="#0a0ac8"/>
<path d="M445.2 663.3H454.8L450.0 656.7Z" fill="#0a0ac8"/>
<path d="M515.7 673.8H525.3L520.5 667.2Z" fill="#0a0ac8"/>
<path d="M579.5 659.5H589.0L584.2 653.0Z" fill="#0a0ac8"/>
<path d="M617.0 653.3H626.5L621.8 646.7Z" fill="#0a0ac8"/>
<path d="M630.7 645.3H640.3L635.5 638.7Z" fill="#0a0ac8"/>
<path d="M688.2 703.3H697.8L693.0 696.7Z" fill="#0a0ac8"/>
<path d="M713.2 703.8H722.8L718.0 697.2Z" fill="#0a0ac8"/>
<path d="M777.7 643.8H787.3L782.5 637.2Z" fill="#0a0ac8"/>
<path d="M854.5 619.5H864.0L859.2 613.0Z" fill="#0a0ac8"/>
<path d="M905.2 706.3H914.8L910.0 699.7Z" fill="#0a0ac8"/>
<path d="M918.2 703.8H927.8L923.0 697.2Z" fill="#0a0ac8"/>
<path d="M930.7 692.8H940.3L935.5 686.2Z" fill="#0a0ac8"/>
<path d="M994.7 693.3H1004.3L999.5 686.7Z" fill="#0a0ac8"/>
<path d="M1014.0 673.3H1023.5L1018.8 666.7Z" fill="#0a0ac8"/>
<path d="M1026.5 683.8H1036.0L1031.2 677.2Z" fill="#0a0ac8"/>
<path d="M1039.5 685.0H1049.0L1044.2 678.5Z" fill="#0a0ac8"/>
<path d="M1065.2 667.8H1074.8L1070.0 661.2Z" fill="#0a0ac8"/>
<path d="M1141.5 705.8H1151.0L1146.2 699.2Z" fill="#0a0ac8"/>
<path d="M1167.7 712.8H1177.3L1172.5 706.2Z" fill="#0a0ac8"/>
<path d="M1225.2 712.0H1234.8L1230.0 705.5Z" fill="#0a0ac8"/>
<path d="M1309.0 718.3H1318.5L1313.8 711.7Z" fill="#0a0ac8"/>
<path d="M1365.7 646.3H1375.3L1370.5 639.7Z" fill="#0a0ac8"/>
<path d="M1397.7 650.8H1407.3L1402.5 644.2Z" fill="#0a0ac8"/>
<path d="M1422.7 630.3H1432.3L1427.5 623.7Z" fill="#0a0ac8"/>
</g>
<g clip-path="url(#cpI2)">
<rect x="299.9" y="735" width="6.4" height="97" fill="#c4c4f8"/>
<rect x="312.7" y="735" width="12.8" height="97" fill="#c4c4f8"/>
<rect x="331.8" y="735" width="19.2" height="97" fill="#c4c4f8"/>
<rect x="357.4" y="735" width="6.4" height="97" fill="#c4c4f8"/>
<rect x="395.7" y="735" width="12.8" height="97" fill="#c4c4f8"/>
<rect x="414.9" y="735" width="6.4" height="97" fill="#c4c4f8"/>
<rect x="427.7" y="735" width="6.4" height="97" fill="#c4c4f8"/>
<rect x="453.2" y="735" width="25.6" height="97" fill="#c4c4f8"/>
<rect x="491.6" y="735" width="6.4" height="97" fill="#c4c4f8"/>
<rect x="510.7" y="735" width="6.4" height="97" fill="#c4c4f8"/>
<rect x="523.5" y="735" width="19.2" height="97" fill="#c4c4f8"/>
<rect x="555.5" y="735" width="6.4" height="97" fill="#c4c4f8"/>
<rect x="574.6" y="735" width="6.4" height="97" fill="#c4c4f8"/>
<rect x="587.4" y="735" width="6.4" height="97" fill="#c4c4f8"/>
<rect x="606.6" y="735" width="6.4" height="97" fill="#c4c4f8"/>
<rect x="625.8" y="735" width="25.6" height="97" fill="#c4c4f8"/>
<rect x="791.9" y="735" width="38.4" height="97" fill="#c4c4f8"/>
<rect x="836.6" y="735" width="6.4" height="97" fill="#c4c4f8"/>
<rect x="849.4" y="735" width="12.8" height="97" fill="#c4c4f8"/>
<rect x="875.0" y="735" width="6.4" height="97" fill="#c4c4f8"/>
<rect x="932.5" y="735" width="25.6" height="97" fill="#c4c4f8"/>
<rect x="964.4" y="735" width="6.4" height="97" fill="#c4c4f8"/>
<rect x="1085.8" y="735" width="12.8" height="97" fill="#c4c4f8"/>
<rect x="1105.0" y="735" width="19.2" height="97" fill="#c4c4f8"/>
<rect x="1398.9" y="735" width="12.8" height="97" fill="#c4c4f8"/>
<rect x="1418.1" y="735" width="12.8" height="97" fill="#c4c4f8"/>
<rect x="1437.3" y="735" width="12.8" height="97" fill="#c4c4f8"/>
<rect x="1469.2" y="735" width="6.4" height="97" fill="#c4c4f8"/>
<rect x="261.5" y="735" width="12.8" height="97" fill="#fca3a3"/>
<rect x="287.1" y="735" width="6.4" height="97" fill="#fca3a3"/>
<rect x="676.9" y="735" width="6.4" height="97" fill="#fca3a3"/>
<rect x="689.7" y="735" width="25.6" height="97" fill="#fca3a3"/>
<rect x="728.0" y="735" width="6.4" height="97" fill="#fca3a3"/>
<rect x="766.3" y="735" width="12.8" height="97" fill="#fca3a3"/>
<rect x="996.4" y="735" width="6.4" height="97" fill="#fca3a3"/>
<rect x="1021.9" y="735" width="6.4" height="97" fill="#fca3a3"/>
<rect x="1034.7" y="735" width="6.4" height="97" fill="#fca3a3"/>
<rect x="1060.3" y="735" width="6.4" height="97" fill="#fca3a3"/>
<rect x="1130.6" y="735" width="12.8" height="97" fill="#fca3a3"/>
<rect x="1149.7" y="735" width="12.8" height="97" fill="#fca3a3"/>
<rect x="1168.9" y="735" width="6.4" height="97" fill="#fca3a3"/>
<rect x="1181.7" y="735" width="6.4" height="97" fill="#fca3a3"/>
<rect x="1200.9" y="735" width="19.2" height="97" fill="#fca3a3"/>
<rect x="1245.6" y="735" width="6.4" height="97" fill="#fca3a3"/>
<rect x="1258.4" y="735" width="12.8" height="97" fill="#fca3a3"/>
<rect x="1283.9" y="735" width="25.6" height="97" fill="#fca3a3"/>
<rect x="1315.9" y="735" width="6.4" height="97" fill="#fca3a3"/>
<rect x="1347.8" y="735" width="12.8" height="97" fill="#fca3a3"/>
<rect x="1373.4" y="735" width="6.4" height="97" fill="#fca3a3"/>
<rect x="370.2" y="735" width="6.4" height="97" fill="#c46464"/>
<rect x="440.4" y="735" width="6.4" height="97" fill="#c46464"/>
<rect x="670.5" y="735" width="6.4" height="97" fill="#c46464"/>
<rect x="759.9" y="735" width="6.4" height="97" fill="#c46464"/>
<rect x="913.3" y="735" width="6.4" height="97" fill="#c46464"/>
<rect x="977.2" y="735" width="6.4" height="97" fill="#c46464"/>
<rect x="1009.2" y="735" width="6.4" height="97" fill="#c46464"/>
<rect x="1124.2" y="735" width="6.4" height="97" fill="#c46464"/>
<rect x="293.5" y="735" width="6.4" height="97" fill="#66bb66"/>
<rect x="376.6" y="735" width="6.4" height="97" fill="#66bb66"/>
<rect x="446.8" y="735" width="6.4" height="97" fill="#66bb66"/>
<rect x="753.6" y="735" width="6.4" height="97" fill="#66bb66"/>
<rect x="785.5" y="735" width="6.4" height="97" fill="#66bb66"/>
<rect x="919.7" y="735" width="6.4" height="97" fill="#66bb66"/>
<rect x="1002.8" y="735" width="6.4" height="97" fill="#66bb66"/>
<rect x="1079.4" y="735" width="6.4" height="97" fill="#66bb66"/>
<rect x="1392.6" y="735" width="6.4" height="97" fill="#66bb66"/>
<path d="M100 742.2H1485M23 828.3H1485" stroke="#111" stroke-width="1.3" stroke-dasharray="4 3.5"/>
<path d="M23 763.8H1485" stroke="#14149a" stroke-width="1.7"/>
<path d="M23 806.8H1485" stroke="#d81414" stroke-width="1.6"/>
<path d="M23 785.8H1485" stroke="#1414b4" stroke-width="2.1" stroke-dasharray="4 4.5"/>
<path d="M340.8 763.8 L340.8 763.3 L341.2 762.5 L341.8 762.2 L342.2 761.9 L342.8 761.6 L343.2 761.3 L343.8 761.0 L344.2 760.7 L344.8 760.4 L345.2 760.1 L345.8 759.8 L346.2 759.5 L346.8 759.9 L347.2 760.3 L347.8 760.7 L348.2 761.1 L348.8 761.5 L349.2 761.9 L349.8 762.3 L350.2 762.7 L350.8 763.1 L351.2 763.6 L351.8 763.8 L351.8 763.8Z" fill="rgba(60,170,60,0.5)"/>
<path d="M468.8 763.8 L468.8 763.3 L469.2 762.7 L469.8 762.0 L470.2 761.3 L470.8 760.7 L471.2 760.0 L471.8 759.3 L472.2 758.7 L472.8 758.0 L473.2 757.3 L473.8 756.7 L474.2 756.0 L474.8 755.3 L475.2 755.3 L475.8 755.9 L476.2 756.5 L476.8 757.1 L477.2 757.7 L477.8 758.3 L478.2 758.9 L478.8 759.5 L479.2 760.1 L479.8 760.7 L480.2 761.3 L480.8 761.9 L481.2 762.5 L481.8 762.9 L482.2 763.3 L482.8 763.7 L483.2 763.8 L483.2 763.8Z" fill="rgba(60,170,60,0.5)"/>
<path d="M525.8 763.8 L525.8 763.5 L526.2 762.5 L526.8 762.3 L527.2 762.1 L527.8 761.9 L528.2 761.7 L528.8 761.5 L529.2 761.3 L529.8 761.1 L530.2 760.9 L530.8 760.7 L531.2 760.5 L531.8 760.3 L532.2 760.1 L532.8 759.8 L533.2 759.2 L533.8 758.8 L534.2 758.2 L534.8 757.8 L535.2 757.2 L535.8 756.8 L536.2 756.2 L536.8 755.8 L537.2 755.2 L537.8 754.8 L538.2 754.2 L538.8 753.8 L539.2 754.0 L539.8 754.4 L540.2 754.6 L540.8 755.0 L541.2 755.2 L541.8 755.5 L542.2 755.9 L542.8 756.1 L543.2 756.5 L543.8 756.8 L544.2 757.0 L544.8 757.4 L545.2 758.0 L545.8 759.0 L546.2 760.0 L546.8 761.0 L547.2 762.0 L547.8 763.0 L548.2 763.8 L548.2 763.8Z" fill="rgba(60,170,60,0.5)"/>
<path d="M558.8 763.8 L558.8 763.8 L559.2 763.8 L559.2 763.8Z" fill="rgba(60,170,60,0.5)"/>
<path d="M573.2 763.8 L573.2 763.6 L573.8 762.7 L574.2 761.8 L574.8 761.0 L575.2 760.1 L575.8 759.3 L576.2 758.4 L576.8 757.5 L577.2 756.7 L577.8 756.2 L578.2 756.2 L578.8 756.2 L579.2 756.2 L579.8 756.2 L580.2 756.2 L580.8 756.2 L581.2 756.2 L581.8 756.2 L582.2 756.2 L582.8 756.2 L583.2 756.2 L583.8 756.2 L584.2 755.5 L584.8 754.7 L585.2 753.9 L585.8 753.1 L586.2 752.4 L586.8 751.6 L587.2 750.8 L587.8 750.0 L588.2 749.2 L588.8 748.5 L589.2 747.7 L589.8 746.9 L590.2 746.1 L590.8 745.8 L591.2 746.0 L591.8 746.1 L592.2 746.3 L592.8 746.4 L593.2 746.6 L593.8 746.7 L594.2 746.9 L594.8 747.0 L595.2 747.2 L595.8 747.3 L596.2 747.5 L596.8 748.8 L597.2 750.2 L597.8 751.5 L598.2 752.8 L598.8 754.2 L599.2 755.5 L599.8 756.8 L600.2 758.1 L600.8 759.4 L601.2 760.7 L601.8 761.9 L602.2 763.2 L602.8 763.8 L602.8 763.8Z" fill="rgba(60,170,60,0.5)"/>
<path d="M605.8 763.8 L605.8 763.3 L606.2 762.4 L606.8 761.5 L607.2 760.6 L607.8 759.6 L608.2 758.7 L608.8 757.8 L609.2 756.9 L609.8 756.0 L610.2 755.6 L610.8 755.7 L611.2 755.8 L611.8 755.9 L612.2 756.0 L612.8 756.2 L613.2 756.3 L613.8 756.4 L614.2 756.5 L614.8 756.6 L615.2 756.8 L615.8 756.9 L616.2 757.0 L616.8 757.2 L617.2 757.5 L617.8 757.8 L618.2 758.0 L618.8 758.2 L619.2 758.5 L619.8 758.8 L620.2 759.0 L620.8 759.2 L621.2 759.5 L621.8 758.9 L622.2 758.4 L622.8 757.8 L623.2 757.3 L623.8 756.7 L624.2 756.1 L624.8 755.6 L625.2 755.0 L625.8 754.5 L626.2 753.9 L626.8 753.3 L627.2 752.8 L627.8 752.4 L628.2 752.1 L628.8 751.9 L629.2 751.6 L629.8 751.4 L630.2 751.1 L630.8 750.9 L631.2 750.6 L631.8 750.4 L632.2 750.1 L632.8 749.9 L633.2 749.6 L633.8 749.4 L634.2 749.1 L634.8 748.9 L635.2 748.7 L635.8 748.6 L636.2 748.6 L636.8 748.5 L637.2 748.4 L637.8 748.4 L638.2 748.3 L638.8 748.2 L639.2 748.2 L639.8 748.1 L640.2 748.0 L640.8 747.9 L641.2 747.9 L641.8 747.8 L642.2 747.7 L642.8 747.7 L643.2 747.6 L643.8 747.5 L644.2 747.5 L644.8 747.4 L645.2 747.3 L645.8 747.2 L646.2 747.2 L646.8 747.1 L647.2 747.0 L647.8 747.2 L648.2 747.5 L648.8 747.9 L649.2 748.2 L649.8 748.5 L650.2 748.9 L650.8 749.2 L651.2 749.5 L651.8 749.9 L652.2 750.2 L652.8 750.6 L653.2 750.9 L653.8 751.2 L654.2 752.0 L654.8 752.9 L655.2 753.6 L655.8 754.5 L656.2 755.2 L656.8 756.0 L657.2 756.9 L657.8 757.6 L658.2 758.5 L658.8 759.2 L659.2 760.0 L659.8 760.9 L660.2 761.8 L660.8 763.0 L661.2 763.8 L661.2 763.8Z" fill="rgba(60,170,60,0.5)"/>
<path d="M815.2 763.8 L815.2 763.0 L815.8 762.1 L816.2 761.3 L816.8 760.5 L817.2 759.6 L817.8 758.8 L818.2 757.9 L818.8 757.1 L819.2 756.3 L819.8 755.4 L820.2 754.7 L820.8 754.1 L821.2 753.5 L821.8 752.9 L822.2 752.3 L822.8 751.7 L823.2 751.1 L823.8 750.5 L824.2 749.9 L824.8 749.3 L825.2 748.7 L825.8 748.1 L826.2 747.5 L826.8 747.7 L827.2 747.9 L827.8 748.1 L828.2 748.3 L828.8 748.5 L829.2 748.7 L829.8 748.9 L830.2 749.1 L830.8 749.3 L831.2 749.5 L831.8 749.7 L832.2 749.9 L832.8 749.9 L833.2 749.7 L833.8 749.5 L834.2 749.3 L834.8 749.1 L835.2 748.9 L835.8 748.7 L836.2 748.5 L836.8 748.3 L837.2 748.1 L837.8 747.9 L838.2 747.7 L838.8 747.5 L839.2 747.3 L839.8 747.1 L840.2 747.3 L840.8 748.0 L841.2 748.6 L841.8 749.2 L842.2 749.9 L842.8 750.5 L843.2 751.2 L843.8 751.8 L844.2 752.4 L844.8 753.1 L845.2 753.7 L845.8 754.4 L846.2 755.0 L846.8 754.8 L847.2 754.6 L847.8 754.4 L848.2 754.2 L848.8 754.0 L849.2 753.8 L849.8 753.6 L850.2 753.4 L850.8 753.2 L851.2 753.0 L851.8 752.8 L852.2 752.6 L852.8 752.3 L853.2 751.8 L853.8 751.4 L854.2 751.0 L854.8 750.5 L855.2 750.1 L855.8 749.6 L856.2 749.2 L856.8 748.8 L857.2 748.3 L857.8 747.9 L858.2 747.4 L858.8 747.0 L859.2 747.9 L859.8 748.9 L860.2 749.8 L860.8 750.8 L861.2 751.7 L861.8 752.6 L862.2 753.6 L862.8 754.5 L863.2 755.5 L863.8 756.4 L864.2 757.3 L864.8 758.3 L865.2 758.8 L865.8 759.0 L866.2 759.1 L866.8 759.3 L867.2 759.5 L867.8 759.6 L868.2 759.8 L868.8 760.0 L869.2 760.1 L869.8 760.3 L870.2 760.4 L870.8 760.6 L871.2 760.8 L871.8 760.6 L872.2 760.4 L872.8 760.3 L873.2 760.1 L873.8 760.0 L874.2 759.8 L874.8 759.6 L875.2 759.5 L875.8 759.3 L876.2 759.1 L876.8 759.0 L877.2 758.8 L877.8 758.8 L878.2 758.8 L878.8 758.8 L879.2 758.8 L879.8 758.8 L880.2 758.8 L880.8 758.8 L881.2 758.8 L881.8 758.8 L882.2 758.8 L882.8 759.1 L883.2 759.8 L883.8 760.4 L884.2 761.1 L884.8 761.8 L885.2 762.4 L885.8 763.1 L886.2 763.8 L886.8 763.8 L886.8 763.8Z" fill="rgba(60,170,60,0.5)"/>
<path d="M952.2 763.8 L952.2 763.6 L952.8 763.4 L953.2 763.2 L953.8 763.0 L954.2 763.8 L954.2 763.8Z" fill="rgba(60,170,60,0.5)"/>
<path d="M1401.8 763.8 L1401.8 763.6 L1402.2 762.5 L1402.8 761.9 L1403.2 761.6 L1403.8 761.4 L1404.2 761.1 L1404.8 760.9 L1405.2 760.6 L1405.8 760.4 L1406.2 760.1 L1406.8 759.9 L1407.2 759.6 L1407.8 759.7 L1408.2 760.1 L1408.8 760.5 L1409.2 760.9 L1409.8 761.3 L1410.2 761.7 L1410.8 762.1 L1411.2 762.5 L1411.8 763.1 L1412.2 763.7 L1412.8 763.8 L1412.8 763.8Z" fill="rgba(60,170,60,0.5)"/>
<path d="M1418.2 763.8 L1418.2 763.3 L1418.8 762.7 L1419.2 762.1 L1419.8 761.5 L1420.2 760.8 L1420.8 760.0 L1421.2 759.2 L1421.8 758.3 L1422.2 757.5 L1422.8 756.7 L1423.2 755.8 L1423.8 755.0 L1424.2 754.2 L1424.8 753.3 L1425.2 752.5 L1425.8 751.7 L1426.2 750.8 L1426.8 750.0 L1427.2 749.2 L1427.8 748.8 L1428.2 749.0 L1428.8 749.1 L1429.2 749.2 L1429.8 749.4 L1430.2 749.5 L1430.8 749.7 L1431.2 749.8 L1431.8 749.9 L1432.2 750.1 L1432.8 750.2 L1433.2 750.4 L1433.8 750.5 L1434.2 750.2 L1434.8 749.8 L1435.2 749.5 L1435.8 749.1 L1436.2 748.8 L1436.8 748.5 L1437.2 748.1 L1437.8 747.8 L1438.2 747.4 L1438.8 747.1 L1439.2 746.8 L1439.8 746.4 L1440.2 746.1 L1440.8 746.0 L1441.2 745.8 L1441.8 745.5 L1442.2 745.4 L1442.8 745.1 L1443.2 745.0 L1443.8 744.8 L1444.2 744.5 L1444.8 744.4 L1445.2 744.1 L1445.8 744.0 L1446.2 743.8 L1446.8 744.2 L1447.2 744.8 L1447.8 745.2 L1448.2 745.8 L1448.8 746.2 L1449.2 746.8 L1449.8 747.2 L1450.2 747.8 L1450.8 748.2 L1451.2 748.8 L1451.8 749.2 L1452.2 749.8 L1452.8 750.2 L1453.2 750.8 L1453.8 751.2 L1454.2 751.3 L1454.8 751.4 L1455.2 751.4 L1455.8 751.5 L1456.2 751.5 L1456.8 751.6 L1457.2 751.7 L1457.8 751.7 L1458.2 751.8 L1458.8 751.9 L1459.2 751.9 L1459.8 752.0 L1460.2 752.1 L1460.8 752.4 L1461.2 752.6 L1461.8 752.8 L1462.2 753.1 L1462.8 753.3 L1463.2 753.6 L1463.8 753.8 L1464.2 754.0 L1464.8 754.3 L1465.2 754.5 L1465.8 754.8 L1466.2 755.0 L1466.8 754.4 L1467.2 753.9 L1467.8 753.3 L1468.2 752.8 L1468.8 752.2 L1469.2 751.6 L1469.8 751.1 L1470.2 750.5 L1470.8 750.0 L1471.2 749.4 L1471.8 748.8 L1472.2 748.3 L1472.8 748.2 L1473.2 748.5 L1473.8 748.9 L1474.2 749.3 L1474.8 749.6 L1475.2 750.0 L1475.8 750.3 L1476.2 750.7 L1476.8 751.1 L1477.2 751.4 L1477.8 751.8 L1478.2 752.1 L1478.8 752.5 L1479.2 753.1 L1479.8 753.7 L1480.2 754.3 L1480.8 754.9 L1481.2 755.5 L1481.8 756.1 L1482.2 756.7 L1482.8 757.3 L1483.2 757.9 L1483.8 758.5 L1484.2 759.1 L1484.8 759.7 L1484.8 763.8Z" fill="rgba(60,170,60,0.5)"/>
<path d="M700.2 806.8 L700.2 806.9 L700.8 807.6 L701.2 808.4 L701.8 809.2 L702.2 810.0 L702.8 810.8 L703.2 811.5 L703.8 812.3 L704.2 813.1 L704.8 813.9 L705.2 814.7 L705.8 815.5 L706.2 816.2 L706.8 816.4 L707.2 816.5 L707.8 816.6 L708.2 816.8 L708.8 816.9 L709.2 817.0 L709.8 817.1 L710.2 817.2 L710.8 817.4 L711.2 817.5 L711.8 816.5 L712.2 815.5 L712.8 814.5 L713.2 813.5 L713.8 812.5 L714.2 811.5 L714.8 810.5 L715.2 809.5 L715.8 808.5 L716.2 807.5 L716.8 806.8 L716.8 806.8Z" fill="rgba(150,20,20,0.45)"/>
<path d="M1023.8 806.8 L1023.8 807.1 L1024.2 808.8 L1024.8 810.4 L1025.2 810.9 L1025.8 810.3 L1026.2 809.7 L1026.8 809.1 L1027.2 808.4 L1027.8 807.8 L1028.2 807.2 L1028.8 806.8 L1028.8 806.8Z" fill="rgba(150,20,20,0.45)"/>
<path d="M1031.8 806.8 L1031.8 807.0 L1032.2 807.6 L1032.8 808.2 L1033.2 808.8 L1033.8 809.4 L1034.2 810.0 L1034.8 810.5 L1035.2 811.1 L1035.8 811.7 L1036.2 812.3 L1036.8 812.9 L1037.2 813.5 L1037.8 813.4 L1038.2 812.7 L1038.8 812.0 L1039.2 811.3 L1039.8 810.6 L1040.2 809.9 L1040.8 809.2 L1041.2 808.5 L1041.8 807.8 L1042.2 807.1 L1042.8 806.8 L1042.8 806.8Z" fill="rgba(150,20,20,0.45)"/>
<path d="M1062.2 806.8 L1062.2 807.2 L1062.8 807.8 L1063.2 808.2 L1063.8 808.8 L1064.2 808.4 L1064.8 808.1 L1065.2 807.7 L1065.8 807.4 L1066.2 807.0 L1066.8 806.8 L1066.8 806.8Z" fill="rgba(150,20,20,0.45)"/>
<path d="M1158.8 806.8 L1158.8 806.9 L1159.2 806.9 L1159.8 807.0 L1160.2 806.8 L1160.8 806.8 L1160.8 806.8Z" fill="rgba(150,20,20,0.45)"/>
<path d="M1168.8 806.8 L1168.8 806.8 L1169.2 807.4 L1169.8 808.0 L1170.2 808.6 L1170.8 809.2 L1171.2 809.8 L1171.8 810.4 L1172.2 811.0 L1172.8 810.9 L1173.2 810.3 L1173.8 809.7 L1174.2 809.1 L1174.8 808.4 L1175.2 807.8 L1175.8 807.2 L1176.2 806.8 L1176.2 806.8Z" fill="rgba(150,20,20,0.45)"/>
<path d="M1180.2 806.8 L1180.2 806.8 L1180.8 807.2 L1181.2 807.5 L1181.8 807.8 L1182.2 808.2 L1182.8 808.5 L1183.2 808.8 L1183.8 809.2 L1184.2 809.5 L1184.8 809.8 L1185.2 809.9 L1185.8 809.6 L1186.2 809.4 L1186.8 809.1 L1187.2 808.9 L1187.8 808.6 L1188.2 808.4 L1188.8 808.1 L1189.2 807.9 L1189.8 807.6 L1190.2 807.4 L1190.8 807.1 L1191.2 806.9 L1191.8 806.8 L1191.8 806.8Z" fill="rgba(150,20,20,0.45)"/>
<path d="M1199.8 806.8 L1199.8 807.1 L1200.2 808.1 L1200.8 809.2 L1201.2 810.4 L1201.8 811.6 L1202.2 812.8 L1202.8 813.9 L1203.2 815.1 L1203.8 816.2 L1204.2 816.4 L1204.8 816.5 L1205.2 816.7 L1205.8 816.8 L1206.2 817.0 L1206.8 817.1 L1207.2 817.2 L1207.8 817.4 L1208.2 817.5 L1208.8 817.6 L1209.2 817.8 L1209.8 817.9 L1210.2 818.4 L1210.8 819.1 L1211.2 819.8 L1211.8 820.5 L1212.2 821.2 L1212.8 822.0 L1213.2 822.7 L1213.8 823.4 L1214.2 824.1 L1214.8 824.8 L1215.2 825.6 L1215.8 826.3 L1216.2 827.0 L1216.8 827.0 L1217.2 827.1 L1217.8 827.1 L1218.2 827.2 L1218.8 827.2 L1219.2 827.2 L1219.8 827.3 L1220.2 827.3 L1220.8 827.4 L1221.2 827.4 L1221.8 827.4 L1222.2 827.5 L1222.8 826.6 L1223.2 824.7 L1223.8 822.9 L1224.2 821.1 L1224.8 819.2 L1225.2 817.4 L1225.8 815.5 L1226.2 813.7 L1226.8 811.9 L1227.2 810.0 L1227.8 808.2 L1228.2 806.8 L1228.2 806.8Z" fill="rgba(150,20,20,0.45)"/>
<path d="M1266.8 806.8 L1266.8 807.2 L1267.2 807.9 L1267.8 808.1 L1268.2 807.9 L1268.8 807.6 L1269.2 807.3 L1269.8 807.1 L1270.2 806.8 L1270.8 806.8 L1270.8 806.8Z" fill="rgba(150,20,20,0.45)"/>
<path d="M1286.2 806.8 L1286.2 807.5 L1286.8 807.8 L1287.2 808.1 L1287.8 808.4 L1288.2 808.6 L1288.8 808.9 L1289.2 809.2 L1289.8 809.5 L1290.2 809.8 L1290.8 810.1 L1291.2 810.4 L1291.8 810.6 L1292.2 810.9 L1292.8 811.2 L1293.2 811.5 L1293.8 811.8 L1294.2 812.1 L1294.8 812.4 L1295.2 812.6 L1295.8 812.8 L1296.2 812.9 L1296.8 813.1 L1297.2 813.2 L1297.8 813.4 L1298.2 813.6 L1298.8 813.8 L1299.2 813.9 L1299.8 814.1 L1300.2 814.2 L1300.8 814.4 L1301.2 814.6 L1301.8 814.8 L1302.2 814.9 L1302.8 815.0 L1303.2 815.0 L1303.8 815.1 L1304.2 815.1 L1304.8 815.1 L1305.2 815.1 L1305.8 815.2 L1306.2 815.2 L1306.8 815.2 L1307.2 815.2 L1307.8 815.3 L1308.2 815.3 L1308.8 815.3 L1309.2 815.3 L1309.8 815.4 L1310.2 815.4 L1310.8 815.4 L1311.2 815.4 L1311.8 815.5 L1312.2 815.5 L1312.8 815.8 L1313.2 816.4 L1313.8 817.0 L1314.2 817.6 L1314.8 818.2 L1315.2 818.8 L1315.8 819.4 L1316.2 820.0 L1316.8 820.6 L1317.2 821.2 L1317.8 821.8 L1318.2 822.4 L1318.8 823.0 L1319.2 822.6 L1319.8 822.2 L1320.2 821.8 L1320.8 821.4 L1321.2 821.0 L1321.8 820.6 L1322.2 820.2 L1322.8 819.8 L1323.2 819.4 L1323.8 819.0 L1324.2 818.6 L1324.8 818.2 L1325.2 817.9 L1325.8 817.8 L1326.2 817.7 L1326.8 817.6 L1327.2 817.5 L1327.8 817.4 L1328.2 817.2 L1328.8 817.1 L1329.2 817.0 L1329.8 816.9 L1330.2 816.8 L1330.8 816.7 L1331.2 816.5 L1331.8 816.4 L1332.2 816.3 L1332.8 816.1 L1333.2 815.8 L1333.8 815.5 L1334.2 815.2 L1334.8 814.9 L1335.2 814.6 L1335.8 814.3 L1336.2 814.0 L1336.8 813.7 L1337.2 813.4 L1337.8 813.1 L1338.2 812.8 L1338.8 812.5 L1339.2 812.2 L1339.8 811.9 L1340.2 811.6 L1340.8 811.3 L1341.2 811.0 L1341.8 810.7 L1342.2 810.4 L1342.8 810.1 L1343.2 809.8 L1343.8 809.5 L1344.2 809.6 L1344.8 809.7 L1345.2 809.7 L1345.8 809.8 L1346.2 809.9 L1346.8 810.0 L1347.2 810.1 L1347.8 810.1 L1348.2 810.2 L1348.8 810.3 L1349.2 810.4 L1349.8 810.5 L1350.2 810.6 L1350.8 810.7 L1351.2 810.9 L1351.8 811.1 L1352.2 811.2 L1352.8 811.4 L1353.2 811.5 L1353.8 811.7 L1354.2 811.9 L1354.8 812.0 L1355.2 812.2 L1355.8 812.3 L1356.2 812.5 L1356.8 812.3 L1357.2 812.2 L1357.8 812.0 L1358.2 811.8 L1358.8 811.7 L1359.2 811.5 L1359.8 811.3 L1360.2 811.2 L1360.8 811.0 L1361.2 810.8 L1361.8 810.7 L1362.2 810.5 L1362.8 810.3 L1363.2 810.2 L1363.8 810.0 L1364.2 808.7 L1364.8 807.4 L1365.2 806.8 L1365.2 806.8Z" fill="rgba(150,20,20,0.45)"/>
<path d="M246.2 790.0 L257.5 785.5" stroke="#0a0ac8" stroke-width="3.0" fill="none" stroke-linejoin="round"/>
<path d="M257.5 785.5 L263.8 787.5 L271.2 791.2" stroke="#ff9a10" stroke-width="3.0" fill="none" stroke-linejoin="round"/>
<path d="M271.2 791.2 L277.5 791.2 L283.8 787.5" stroke="#0a0ac8" stroke-width="3.0" fill="none" stroke-linejoin="round"/>
<path d="M283.8 787.5 L286.2 787.0" stroke="#ff9a10" stroke-width="3.0" fill="none" stroke-linejoin="round"/>
<path d="M286.2 787.0 L292.5 783.8 L302.5 778.0" stroke="#0a0ac8" stroke-width="3.0" fill="none" stroke-linejoin="round"/>
<path d="M302.5 778.0 L307.5 778.0" stroke="#ff9a10" stroke-width="3.0" fill="none" stroke-linejoin="round"/>
<path d="M307.5 778.0 L312.5 778.0 L322.5 776.2" stroke="#0a0ac8" stroke-width="3.0" fill="none" stroke-linejoin="round"/>
<path d="M322.5 776.2 L326.2 777.5" stroke="#ff9a10" stroke-width="3.0" fill="none" stroke-linejoin="round"/>
<path d="M326.2 777.5 L330.0 776.2 L337.5 768.8" stroke="#0a0ac8" stroke-width="3.0" fill="none" stroke-linejoin="round"/>
<path d="M337.5 768.8 L341.2 762.5 L346.2 759.5" stroke="#14c814" stroke-width="3.0" fill="none" stroke-linejoin="round"/>
<path d="M346.2 759.5 L350.0 762.5 L353.8 765.8" stroke="#ff9a10" stroke-width="3.0" fill="none" stroke-linejoin="round"/>
<path d="M353.8 765.8 L358.8 765.8" stroke="#0a0ac8" stroke-width="3.0" fill="none" stroke-linejoin="round"/>
<path d="M358.8 765.8 L362.5 771.2 L367.5 783.8" stroke="#ff9a10" stroke-width="3.0" fill="none" stroke-linejoin="round"/>
<path d="M367.5 783.8 L372.5 786.2 L378.8 777.5" stroke="#0a0ac8" stroke-width="3.0" fill="none" stroke-linejoin="round"/>
<path d="M378.8 777.5 L385.0 778.8 L392.5 782.5" stroke="#ff9a10" stroke-width="3.0" fill="none" stroke-linejoin="round"/>
<path d="M392.5 782.5 L397.5 773.8 L403.8 765.0" stroke="#0a0ac8" stroke-width="3.0" fill="none" stroke-linejoin="round"/>
<path d="M403.8 765.0 L407.5 768.8 L411.2 771.2" stroke="#ff9a10" stroke-width="3.0" fill="none" stroke-linejoin="round"/>
<path d="M411.2 771.2 L417.5 767.5" stroke="#0a0ac8" stroke-width="3.0" fill="none" stroke-linejoin="round"/>
<path d="M417.5 767.5 L421.2 775.0 L424.2 781.2" stroke="#ff9a10" stroke-width="3.0" fill="none" stroke-linejoin="round"/>
<path d="M424.2 781.2 L430.0 776.2" stroke="#0a0ac8" stroke-width="3.0" fill="none" stroke-linejoin="round"/>
<path d="M430.0 776.2 L435.0 781.2 L440.0 786.2" stroke="#ff9a10" stroke-width="3.0" fill="none" stroke-linejoin="round"/>
<path d="M440.0 786.2 L446.2 787.5 L453.8 776.2 L462.5 771.2" stroke="#0a0ac8" stroke-width="3.0" fill="none" stroke-linejoin="round"/>
<path d="M462.5 771.2 L467.5 765.0 L475.0 755.0 L481.2 762.5" stroke="#14c814" stroke-width="3.0" fill="none" stroke-linejoin="round"/>
<path d="M481.2 762.5 L487.5 767.5" stroke="#ff9a10" stroke-width="3.0" fill="none" stroke-linejoin="round"/>
<path d="M487.5 767.5 L492.5 765.0" stroke="#14c814" stroke-width="3.0" fill="none" stroke-linejoin="round"/>
<path d="M492.5 765.0 L498.8 768.8 L507.5 783.8" stroke="#ff9a10" stroke-width="3.0" fill="none" stroke-linejoin="round"/>
<path d="M507.5 783.8 L513.8 772.5" stroke="#0a0ac8" stroke-width="3.0" fill="none" stroke-linejoin="round"/>
<path d="M513.8 772.5 L520.0 774.5" stroke="#ff9a10" stroke-width="3.0" fill="none" stroke-linejoin="round"/>
<path d="M520.0 774.5 L526.2 762.5 L532.5 760.0 L538.8 753.8 L545.0 757.5" stroke="#14c814" stroke-width="3.0" fill="none" stroke-linejoin="round"/>
<path d="M545.0 757.5 L548.8 765.0 L552.5 772.5" stroke="#ff9a10" stroke-width="3.0" fill="none" stroke-linejoin="round"/>
<path d="M552.5 772.5 L558.8 763.8" stroke="#14c814" stroke-width="3.0" fill="none" stroke-linejoin="round"/>
<path d="M558.8 763.8 L565.0 766.2 L571.2 767.0" stroke="#ff9a10" stroke-width="3.0" fill="none" stroke-linejoin="round"/>
<path d="M571.2 767.0 L577.5 756.2 L583.8 756.2 L590.5 745.8 L596.2 747.5" stroke="#14c814" stroke-width="3.0" fill="none" stroke-linejoin="round"/>
<path d="M596.2 747.5 L600.0 757.5 L603.8 767.0" stroke="#ff9a10" stroke-width="3.0" fill="none" stroke-linejoin="round"/>
<path d="M603.8 767.0 L610.0 755.5 L616.2 757.0 L621.2 759.5 L627.5 752.5 L635.0 748.8 L647.5 747.0 L653.8 751.2 L660.0 761.2" stroke="#14c814" stroke-width="3.0" fill="none" stroke-linejoin="round"/>
<path d="M660.0 761.2 L663.8 770.0 L668.8 780.0 L672.5 797.5 L678.8 803.8" stroke="#ff9a10" stroke-width="3.0" fill="none" stroke-linejoin="round"/>
<path d="M678.8 803.8 L686.2 794.5" stroke="#0a0ac8" stroke-width="3.0" fill="none" stroke-linejoin="round"/>
<path d="M686.2 794.5 L691.2 798.8 L698.8 804.5" stroke="#ff9a10" stroke-width="3.0" fill="none" stroke-linejoin="round"/>
<path d="M698.8 804.5 L706.2 816.2 L711.2 817.5" stroke="#a00a0a" stroke-width="3.0" fill="none" stroke-linejoin="round"/>
<path d="M711.2 817.5 L717.5 805.0 L723.8 803.8" stroke="#0a0ac8" stroke-width="3.0" fill="none" stroke-linejoin="round"/>
<path d="M723.8 803.8 L730.0 805.0" stroke="#ff9a10" stroke-width="3.0" fill="none" stroke-linejoin="round"/>
<path d="M730.0 805.0 L736.2 803.8 L743.8 795.0 L752.5 783.8" stroke="#0a0ac8" stroke-width="3.0" fill="none" stroke-linejoin="round"/>
<path d="M752.5 783.8 L760.0 788.8 L768.8 790.0 L775.8 796.2" stroke="#ff9a10" stroke-width="3.0" fill="none" stroke-linejoin="round"/>
<path d="M775.8 796.2 L782.5 783.8 L790.0 780.0 L800.0 776.2 L807.5 766.2 L813.8 765.5" stroke="#0a0ac8" stroke-width="3.0" fill="none" stroke-linejoin="round"/>
<path d="M813.8 765.5 L820.0 755.0 L826.2 747.5 L832.5 750.0 L840.0 747.0 L846.2 755.0 L852.5 752.5 L858.8 747.0 L865.0 758.8 L871.2 760.8 L877.5 758.8 L882.5 758.8" stroke="#14c814" stroke-width="3.0" fill="none" stroke-linejoin="round"/>
<path d="M882.5 758.8 L890.0 768.8 L896.2 769.5 L902.5 774.5 L910.0 774.5 L915.0 786.2" stroke="#ff9a10" stroke-width="3.0" fill="none" stroke-linejoin="round"/>
<path d="M915.0 786.2 L922.5 781.2" stroke="#0a0ac8" stroke-width="3.0" fill="none" stroke-linejoin="round"/>
<path d="M922.5 781.2 L928.8 784.5" stroke="#ff9a10" stroke-width="3.0" fill="none" stroke-linejoin="round"/>
<path d="M928.8 784.5 L935.0 771.2 L947.5 765.5" stroke="#0a0ac8" stroke-width="3.0" fill="none" stroke-linejoin="round"/>
<path d="M947.5 765.5 L953.8 763.0" stroke="#14c814" stroke-width="3.0" fill="none" stroke-linejoin="round"/>
<path d="M953.8 763.0 L957.5 770.0 L962.0 777.5" stroke="#ff9a10" stroke-width="3.0" fill="none" stroke-linejoin="round"/>
<path d="M962.0 777.5 L967.5 770.0" stroke="#0a0ac8" stroke-width="3.0" fill="none" stroke-linejoin="round"/>
<path d="M967.5 770.0 L973.8 781.2 L980.0 791.2" stroke="#ff9a10" stroke-width="3.0" fill="none" stroke-linejoin="round"/>
<path d="M980.0 791.2 L986.2 789.5 L992.5 787.0" stroke="#0a0ac8" stroke-width="3.0" fill="none" stroke-linejoin="round"/>
<path d="M992.5 787.0 L998.8 792.5" stroke="#ff9a10" stroke-width="3.0" fill="none" stroke-linejoin="round"/>
<path d="M998.8 792.5 L1005.0 781.2" stroke="#0a0ac8" stroke-width="3.0" fill="none" stroke-linejoin="round"/>
<path d="M1005.0 781.2 L1010.0 791.2 L1013.8 795.5" stroke="#ff9a10" stroke-width="3.0" fill="none" stroke-linejoin="round"/>
<path d="M1013.8 795.5 L1018.8 793.0" stroke="#0a0ac8" stroke-width="3.0" fill="none" stroke-linejoin="round"/>
<path d="M1018.8 793.0 L1021.2 798.8 L1025.0 811.2" stroke="#a00a0a" stroke-width="3.0" fill="none" stroke-linejoin="round"/>
<path d="M1025.0 811.2 L1030.0 805.0" stroke="#0a0ac8" stroke-width="3.0" fill="none" stroke-linejoin="round"/>
<path d="M1030.0 805.0 L1037.5 813.8" stroke="#a00a0a" stroke-width="3.0" fill="none" stroke-linejoin="round"/>
<path d="M1037.5 813.8 L1043.8 805.0 L1056.2 801.2" stroke="#0a0ac8" stroke-width="3.0" fill="none" stroke-linejoin="round"/>
<path d="M1056.2 801.2 L1058.8 803.8 L1063.8 808.8" stroke="#a00a0a" stroke-width="3.0" fill="none" stroke-linejoin="round"/>
<path d="M1063.8 808.8 L1070.0 804.5 L1076.2 790.0 L1082.5 785.0 L1088.8 780.0 L1095.0 772.0" stroke="#0a0ac8" stroke-width="3.0" fill="none" stroke-linejoin="round"/>
<path d="M1095.0 772.0 L1102.5 776.2" stroke="#ff9a10" stroke-width="3.0" fill="none" stroke-linejoin="round"/>
<path d="M1102.5 776.2 L1107.5 775.8 L1120.0 767.5" stroke="#0a0ac8" stroke-width="3.0" fill="none" stroke-linejoin="round"/>
<path d="M1120.0 767.5 L1122.5 775.0 L1127.5 787.5 L1133.8 790.0 L1140.0 799.5" stroke="#ff9a10" stroke-width="3.0" fill="none" stroke-linejoin="round"/>
<path d="M1140.0 799.5 L1146.2 791.2" stroke="#0a0ac8" stroke-width="3.0" fill="none" stroke-linejoin="round"/>
<path d="M1146.2 791.2 L1150.0 798.8 L1153.8 806.2" stroke="#ff9a10" stroke-width="3.0" fill="none" stroke-linejoin="round"/>
<path d="M1153.8 806.2 L1160.0 807.0" stroke="#a00a0a" stroke-width="3.0" fill="none" stroke-linejoin="round"/>
<path d="M1160.0 807.0 L1165.5 803.0" stroke="#0a0ac8" stroke-width="3.0" fill="none" stroke-linejoin="round"/>
<path d="M1165.5 803.0 L1172.5 811.2" stroke="#a00a0a" stroke-width="3.0" fill="none" stroke-linejoin="round"/>
<path d="M1172.5 811.2 L1177.5 805.0" stroke="#0a0ac8" stroke-width="3.0" fill="none" stroke-linejoin="round"/>
<path d="M1177.5 805.0 L1185.0 810.0" stroke="#a00a0a" stroke-width="3.0" fill="none" stroke-linejoin="round"/>
<path d="M1185.0 810.0 L1197.5 803.8" stroke="#0a0ac8" stroke-width="3.0" fill="none" stroke-linejoin="round"/>
<path d="M1197.5 803.8 L1200.0 807.5 L1203.8 816.2 L1210.0 818.0 L1216.2 827.0 L1222.5 827.5" stroke="#a00a0a" stroke-width="3.0" fill="none" stroke-linejoin="round"/>
<path d="M1222.5 827.5 L1228.8 804.5 L1236.2 802.0 L1242.5 790.5" stroke="#0a0ac8" stroke-width="3.0" fill="none" stroke-linejoin="round"/>
<path d="M1242.5 790.5 L1248.8 801.2" stroke="#ff9a10" stroke-width="3.0" fill="none" stroke-linejoin="round"/>
<path d="M1248.8 801.2 L1255.0 798.0" stroke="#0a0ac8" stroke-width="3.0" fill="none" stroke-linejoin="round"/>
<path d="M1255.0 798.0 L1261.2 799.2" stroke="#ff9a10" stroke-width="3.0" fill="none" stroke-linejoin="round"/>
<path d="M1261.2 799.2 L1267.5 808.2" stroke="#a00a0a" stroke-width="3.0" fill="none" stroke-linejoin="round"/>
<path d="M1267.5 808.2 L1273.8 805.0 L1281.2 799.5" stroke="#0a0ac8" stroke-width="3.0" fill="none" stroke-linejoin="round"/>
<path d="M1281.2 799.5 L1286.2 807.5 L1295.0 812.5 L1302.5 815.0 L1312.5 815.5 L1318.8 823.0 L1325.0 818.0 L1332.5 816.2 L1343.8 809.5 L1350.0 810.5 L1356.2 812.5 L1363.8 810.0" stroke="#a00a0a" stroke-width="3.0" fill="none" stroke-linejoin="round"/>
<path d="M1363.8 810.0 L1370.0 793.8" stroke="#0a0ac8" stroke-width="3.0" fill="none" stroke-linejoin="round"/>
<path d="M1370.0 793.8 L1376.2 793.8" stroke="#ff9a10" stroke-width="3.0" fill="none" stroke-linejoin="round"/>
<path d="M1376.2 793.8 L1383.8 793.8 L1390.0 788.8 L1395.0 786.2" stroke="#0a0ac8" stroke-width="3.0" fill="none" stroke-linejoin="round"/>
<path d="M1395.0 786.2 L1400.0 767.5 L1402.5 762.0 L1407.5 759.5" stroke="#14c814" stroke-width="3.0" fill="none" stroke-linejoin="round"/>
<path d="M1407.5 759.5 L1411.2 762.5 L1415.0 767.0" stroke="#ff9a10" stroke-width="3.0" fill="none" stroke-linejoin="round"/>
<path d="M1415.0 767.0 L1420.0 761.2 L1427.5 748.8 L1433.8 750.5 L1440.0 746.2 L1446.2 743.8 L1453.8 751.2 L1460.0 752.0 L1466.2 755.0 L1472.5 748.0 L1478.8 752.5 L1485.0 760.0" stroke="#14c814" stroke-width="3.0" fill="none" stroke-linejoin="round"/>
<path d="M361.8 781.0H370.8L366.2 789.0Z" fill="#c80a0a"/>
<path d="M433.5 780.5H442.5L438.0 788.5Z" fill="#c80a0a"/>
<path d="M663.0 781.0H672.0L667.5 789.0Z" fill="#c80a0a"/>
<path d="M752.5 781.5H761.5L757.0 789.5Z" fill="#c80a0a"/>
<path d="M905.5 781.0H914.5L910.0 789.0Z" fill="#c80a0a"/>
<path d="M969.2 780.5H978.2L973.8 788.5Z" fill="#c80a0a"/>
<path d="M1001.8 779.8H1010.8L1006.2 787.8Z" fill="#c80a0a"/>
<path d="M1116.8 781.0H1125.8L1121.2 789.0Z" fill="#c80a0a"/>
<path d="M285.2 791.2H294.8L290.0 782.8Z" fill="#0a0ac8"/>
<path d="M368.4 791.2H378.1L373.2 782.8Z" fill="#0a0ac8"/>
<path d="M438.9 791.2H448.6L443.8 782.8Z" fill="#0a0ac8"/>
<path d="M746.5 790.5H756.0L751.2 782.0Z" fill="#0a0ac8"/>
<path d="M777.7 791.2H787.3L782.5 782.8Z" fill="#0a0ac8"/>
<path d="M911.5 790.5H921.0L916.2 782.0Z" fill="#0a0ac8"/>
<path d="M995.2 790.5H1004.8L1000.0 782.0Z" fill="#0a0ac8"/>
<path d="M1072.2 790.5H1081.8L1077.0 782.0Z" fill="#0a0ac8"/>
<path d="M1387.2 791.2H1396.8L1392.0 782.8Z" fill="#0a0ac8"/>
</g>
<path d="M23 575.5H1600M23 734.5H1600M23 832H1567" stroke="#8fa6b6" stroke-width="1.2" fill="none"/>
<path d="M1566.3 19V832" stroke="#869fad" stroke-width="1.2" fill="none"/>
<path d="M1566 565.8h4" stroke="#667" stroke-width="1"/>
<text x="1572.5" y="569.1" font-size="9.3" font-weight="bold" fill="#111" textLength="22.7" lengthAdjust="spacingAndGlyphs">10.000</text>
<path d="M1566 523.2h4" stroke="#667" stroke-width="1"/>
<text x="1572.5" y="526.5" font-size="9.3" font-weight="bold" fill="#111" textLength="22.7" lengthAdjust="spacingAndGlyphs">12.000</text>
<path d="M1566 480.6h4" stroke="#667" stroke-width="1"/>
<text x="1572.5" y="483.9" font-size="9.3" font-weight="bold" fill="#111" textLength="22.7" lengthAdjust="spacingAndGlyphs">14.000</text>
<path d="M1566 438.0h4" stroke="#667" stroke-width="1"/>
<text x="1572.5" y="441.3" font-size="9.3" font-weight="bold" fill="#111" textLength="22.7" lengthAdjust="spacingAndGlyphs">16.000</text>
<path d="M1566 395.4h4" stroke="#667" stroke-width="1"/>
<text x="1572.5" y="398.7" font-size="9.3" font-weight="bold" fill="#111" textLength="22.7" lengthAdjust="spacingAndGlyphs">18.000</text>
<path d="M1566 352.8h4" stroke="#667" stroke-width="1"/>
<text x="1572.5" y="356.1" font-size="9.3" font-weight="bold" fill="#111" textLength="22.7" lengthAdjust="spacingAndGlyphs">20.000</text>
<path d="M1566 310.3h4" stroke="#667" stroke-width="1"/>
<text x="1572.5" y="313.6" font-size="9.3" font-weight="bold" fill="#111" textLength="22.7" lengthAdjust="spacingAndGlyphs">22.000</text>
<path d="M1566 267.7h4" stroke="#667" stroke-width="1"/>
<text x="1572.5" y="271.0" font-size="9.3" font-weight="bold" fill="#111" textLength="22.7" lengthAdjust="spacingAndGlyphs">24.000</text>
<path d="M1566 225.1h4" stroke="#667" stroke-width="1"/>
<text x="1572.5" y="228.4" font-size="9.3" font-weight="bold" fill="#111" textLength="22.7" lengthAdjust="spacingAndGlyphs">26.000</text>
<path d="M1566 182.5h4" stroke="#667" stroke-width="1"/>
<text x="1572.5" y="185.8" font-size="9.3" font-weight="bold" fill="#111" textLength="22.7" lengthAdjust="spacingAndGlyphs">28.000</text>
<path d="M1566 139.9h4" stroke="#667" stroke-width="1"/>
<text x="1572.5" y="143.2" font-size="9.3" font-weight="bold" fill="#111" textLength="22.7" lengthAdjust="spacingAndGlyphs">30.000</text>
<path d="M1566 97.3h4" stroke="#667" stroke-width="1"/>
<text x="1572.5" y="100.6" font-size="9.3" font-weight="bold" fill="#111" textLength="22.7" lengthAdjust="spacingAndGlyphs">32.000</text>
<path d="M1566 54.7h4" stroke="#667" stroke-width="1"/>
<text x="1572.5" y="58.0" font-size="9.3" font-weight="bold" fill="#111" textLength="22.7" lengthAdjust="spacingAndGlyphs">34.000</text>
<path d="M1566 233h5" stroke="#0a8a0a" stroke-width="1.5"/><path d="M1566 255.5h5" stroke="#b01010" stroke-width="1.5"/><path d="M1566 329.5h5" stroke="#1010b0" stroke-width="1.5"/>
<rect x="1570.5" y="227.7" width="40" height="11" fill="#fff" stroke="#4a9a4a" stroke-width="1"/><text x="1572.5" y="236.5" font-size="9.3" font-weight="bold" fill="#0a780a" textLength="29.0" lengthAdjust="spacingAndGlyphs">25.651,0</text>
<rect x="1570.5" y="250.1" width="40" height="11" fill="#fff" stroke="#c05050" stroke-width="1"/><text x="1572.5" y="258.9" font-size="9.3" font-weight="bold" fill="#a01010" textLength="29.0" lengthAdjust="spacingAndGlyphs">24.535,5</text>
<rect x="1570.5" y="324.1" width="40" height="11" fill="#fff" stroke="#5a6ad0" stroke-width="1"/><text x="1572.5" y="332.9" font-size="9.3" font-weight="bold" fill="#1414a0" textLength="29.0" lengthAdjust="spacingAndGlyphs">21.120,9</text>
<rect x="1570" y="584.0" width="15.9" height="11" fill="#fff" stroke="#8298a6" stroke-width="1"/><path d="M1566 589.5h4.5" stroke="#111" stroke-width="1"/><text x="1571.9" y="592.8" font-size="9.3" font-weight="bold" fill="#111" textLength="12.3" lengthAdjust="spacingAndGlyphs">100</text>
<rect x="1570" y="611.7" width="11.8" height="11" fill="#fff" stroke="#8298a6" stroke-width="1"/><path d="M1566 617.2h4.5" stroke="#111" stroke-width="1"/><text x="1571.9" y="620.5" font-size="9.3" font-weight="bold" fill="#111" textLength="8.2" lengthAdjust="spacingAndGlyphs">80</text>
<rect x="1570" y="624.5" width="26.3" height="11" fill="#fff" stroke="#8298a6" stroke-width="1"/><path d="M1566 630.0h4.5" stroke="#222" stroke-width="1"/><text x="1571.9" y="633.3" font-size="9.3" font-weight="bold" fill="#222" textLength="22.7" lengthAdjust="spacingAndGlyphs">70,716</text>
<path d="M1566 629h5" stroke="#b00000" stroke-width="2"/>
<rect x="1570" y="632.0" width="26.3" height="11" fill="#fff" stroke="#8298a6" stroke-width="1"/><path d="M1566 637.5h4.5" stroke="#222" stroke-width="1"/><text x="1571.9" y="640.8" font-size="9.3" font-weight="bold" fill="#222" textLength="22.7" lengthAdjust="spacingAndGlyphs">64,947</text>
<rect x="1570" y="641.0" width="26.3" height="11" fill="#fff" stroke="#8298a6" stroke-width="1"/><path d="M1566 646.5h4.5" stroke="#e01818" stroke-width="1"/><text x="1571.9" y="649.8" font-size="9.3" font-weight="bold" fill="#e01818" textLength="22.7" lengthAdjust="spacingAndGlyphs">58,540</text>
<rect x="1570" y="652.7" width="11.8" height="11" fill="#fff" stroke="#8298a6" stroke-width="1"/><path d="M1566 658.2h4.5" stroke="#1a1ab4" stroke-width="1"/><text x="1571.9" y="661.5" font-size="9.3" font-weight="bold" fill="#1a1ab4" textLength="8.2" lengthAdjust="spacingAndGlyphs">50</text>
<path d="M1566 672.0h4.5" stroke="#111" stroke-width="1"/><text x="1571.9" y="675.3" font-size="9.3" font-weight="bold" fill="#111" textLength="8.2" lengthAdjust="spacingAndGlyphs">40</text>
<rect x="1570" y="694.0" width="11.8" height="11" fill="#fff" stroke="#8298a6" stroke-width="1"/><path d="M1566 699.5h4.5" stroke="#111" stroke-width="1"/><text x="1571.9" y="702.8" font-size="9.3" font-weight="bold" fill="#111" textLength="8.2" lengthAdjust="spacingAndGlyphs">20</text>
<rect x="1570" y="722.0" width="7.7" height="11" fill="#fff" stroke="#8298a6" stroke-width="1"/><path d="M1566 727.5h4.5" stroke="#111" stroke-width="1"/><text x="1571.9" y="730.8" font-size="9.3" font-weight="bold" fill="#111" textLength="4.1" lengthAdjust="spacingAndGlyphs">0</text>
<rect x="1570" y="736.7" width="7.7" height="11" fill="#fff" stroke="#8298a6" stroke-width="1"/><path d="M1566 742.2h4.5" stroke="#111" stroke-width="1"/><text x="1571.9" y="745.5" font-size="9.3" font-weight="bold" fill="#111" textLength="4.1" lengthAdjust="spacingAndGlyphs">0</text>
<path d="M1566 776.0h4.5" stroke="#111" stroke-width="1"/><text x="1571.9" y="779.3" font-size="9.3" font-weight="bold" fill="#111" textLength="11.2" lengthAdjust="spacingAndGlyphs">-40</text>
<path d="M1566 793.6h4.5" stroke="#111" stroke-width="1"/><text x="1571.9" y="796.9" font-size="9.3" font-weight="bold" fill="#111" textLength="11.2" lengthAdjust="spacingAndGlyphs">-60</text>
<path d="M1566 811.0h4.5" stroke="#111" stroke-width="1"/><text x="1571.9" y="814.3" font-size="9.3" font-weight="bold" fill="#111" textLength="11.2" lengthAdjust="spacingAndGlyphs">-80</text>
<rect x="1570" y="761.3" width="14.8" height="11" fill="#fff" stroke="#8298a6" stroke-width="1"/><path d="M1566 766.8h4.5" stroke="#1a1ab4" stroke-width="1"/><text x="1571.9" y="770.1" font-size="9.3" font-weight="bold" fill="#1a1ab4" textLength="11.2" lengthAdjust="spacingAndGlyphs">-25</text>
<rect x="1570" y="751.5" width="29.3" height="11" fill="#fff" stroke="#8298a6" stroke-width="1"/><path d="M1566 757.0h4.5" stroke="#1ec81e" stroke-width="1"/><text x="1571.9" y="760.3" font-size="9.3" font-weight="bold" fill="#1ec81e" textLength="25.7" lengthAdjust="spacingAndGlyphs">-20,850</text>
<rect x="1570" y="780.5" width="14.8" height="11" fill="#fff" stroke="#8298a6" stroke-width="1"/><path d="M1566 786.0h4.5" stroke="#1a1ab4" stroke-width="1"/><text x="1571.9" y="789.3" font-size="9.3" font-weight="bold" fill="#1a1ab4" textLength="11.2" lengthAdjust="spacingAndGlyphs">-50</text>
<rect x="1570" y="801.0" width="14.8" height="11" fill="#fff" stroke="#8298a6" stroke-width="1"/><path d="M1566 806.5h4.5" stroke="#d01818" stroke-width="1"/><text x="1571.9" y="809.8" font-size="9.3" font-weight="bold" fill="#d01818" textLength="11.2" lengthAdjust="spacingAndGlyphs">-75</text>
<rect x="1570" y="822.0" width="18.9" height="11" fill="#fff" stroke="#8298a6" stroke-width="1"/><path d="M1566 827.5h4.5" stroke="#111" stroke-width="1"/><text x="1571.9" y="830.8" font-size="9.3" font-weight="bold" fill="#111" textLength="15.3" lengthAdjust="spacingAndGlyphs">-100</text>
<path d="M1566 757.3h5" stroke="#14b414" stroke-width="1.600"/><path d="M1566 763.8h5" stroke="#1a1ab4" stroke-width="1.400"/>
<text x="83.3" y="842.0" font-size="9.3" font-weight="bold" fill="#111" textLength="16.4" lengthAdjust="spacingAndGlyphs">2008</text>
<path d="M92.5 832.5v2.500" stroke="#778" stroke-width="1"/>
<text x="160.0" y="842.0" font-size="9.3" font-weight="bold" fill="#111" textLength="16.4" lengthAdjust="spacingAndGlyphs">2009</text>
<path d="M168.5 832.5v2.500" stroke="#778" stroke-width="1"/>
<text x="236.7" y="842.0" font-size="9.3" font-weight="bold" fill="#111" textLength="16.4" lengthAdjust="spacingAndGlyphs">2010</text>
<path d="M245.5 832.5v2.500" stroke="#778" stroke-width="1"/>
<text x="313.3" y="842.0" font-size="9.3" font-weight="bold" fill="#111" textLength="16.4" lengthAdjust="spacingAndGlyphs">2011</text>
<path d="M322.5 832.5v2.500" stroke="#778" stroke-width="1"/>
<text x="390.0" y="842.0" font-size="9.3" font-weight="bold" fill="#111" textLength="16.4" lengthAdjust="spacingAndGlyphs">2012</text>
<path d="M398.5 832.5v2.500" stroke="#778" stroke-width="1"/>
<text x="466.7" y="842.0" font-size="9.3" font-weight="bold" fill="#111" textLength="16.4" lengthAdjust="spacingAndGlyphs">2013</text>
<path d="M475.5 832.5v2.500" stroke="#778" stroke-width="1"/>
<text x="543.4" y="842.0" font-size="9.3" font-weight="bold" fill="#111" textLength="16.4" lengthAdjust="spacingAndGlyphs">2014</text>
<path d="M552.5 832.5v2.500" stroke="#778" stroke-width="1"/>
<text x="620.1" y="842.0" font-size="9.3" font-weight="bold" fill="#111" textLength="16.4" lengthAdjust="spacingAndGlyphs">2015</text>
<path d="M628.5 832.5v2.500" stroke="#778" stroke-width="1"/>
<text x="696.7" y="842.0" font-size="9.3" font-weight="bold" fill="#111" textLength="16.4" lengthAdjust="spacingAndGlyphs">2016</text>
<path d="M705.5 832.5v2.500" stroke="#778" stroke-width="1"/>
<text x="773.4" y="842.0" font-size="9.3" font-weight="bold" fill="#111" textLength="16.4" lengthAdjust="spacingAndGlyphs">2017</text>
<path d="M782.5 832.5v2.500" stroke="#778" stroke-width="1"/>
<text x="850.1" y="842.0" font-size="9.3" font-weight="bold" fill="#111" textLength="16.4" lengthAdjust="spacingAndGlyphs">2018</text>
<path d="M858.5 832.5v2.500" stroke="#778" stroke-width="1"/>
<text x="926.8" y="842.0" font-size="9.3" font-weight="bold" fill="#111" textLength="16.4" lengthAdjust="spacingAndGlyphs">2019</text>
<path d="M935.5 832.5v2.500" stroke="#778" stroke-width="1"/>
<text x="1003.5" y="842.0" font-size="9.3" font-weight="bold" fill="#111" textLength="16.4" lengthAdjust="spacingAndGlyphs">2020</text>
<path d="M1012.5 832.5v2.500" stroke="#778" stroke-width="1"/>
<text x="1080.1" y="842.0" font-size="9.3" font-weight="bold" fill="#111" textLength="16.4" lengthAdjust="spacingAndGlyphs">2021</text>
<path d="M1088.5 832.5v2.500" stroke="#778" stroke-width="1"/>
<text x="1156.8" y="842.0" font-size="9.3" font-weight="bold" fill="#111" textLength="16.4" lengthAdjust="spacingAndGlyphs">2022</text>
<path d="M1165.5 832.5v2.500" stroke="#778" stroke-width="1"/>
<text x="1233.5" y="842.0" font-size="9.3" font-weight="bold" fill="#111" textLength="16.4" lengthAdjust="spacingAndGlyphs">2023</text>
<path d="M1242.5 832.5v2.500" stroke="#778" stroke-width="1"/>
<text x="1310.2" y="842.0" font-size="9.3" font-weight="bold" fill="#111" textLength="16.4" lengthAdjust="spacingAndGlyphs">2024</text>
<path d="M1318.5 832.5v2.500" stroke="#778" stroke-width="1"/>
<text x="1386.9" y="842.0" font-size="9.3" font-weight="bold" fill="#111" textLength="16.4" lengthAdjust="spacingAndGlyphs">2025</text>
<path d="M1395.5 832.5v2.500" stroke="#778" stroke-width="1"/>
<text x="1463.5" y="842.0" font-size="9.3" font-weight="bold" fill="#111" textLength="16.4" lengthAdjust="spacingAndGlyphs">2026</text>
<path d="M1472.5 832.5v2.500" stroke="#778" stroke-width="1"/>
<text x="1540.2" y="842.0" font-size="9.3" font-weight="bold" fill="#111" textLength="16.4" lengthAdjust="spacingAndGlyphs">2027</text>
<path d="M1548.5 832.5v2.500" stroke="#778" stroke-width="1"/>
</svg>
<div class="tb">
<span class="sep" style="left:17px"></span>
<span class="sep" style="left:93px"></span>
<span class="sep" style="left:333px"></span>
<span class="sep" style="left:410px"></span>
<span class="sep" style="left:480px"></span>
<span class="sep" style="left:550.5px"></span>
<span class="sep" style="left:562.5px"></span>
<span class="sep" style="left:1545px"></span>
<span class="sep" style="left:1563px"></span>
<span class="btn" style="left:97.5px;width:16.2px"></span>
<span class="btn" style="left:117.5px;width:20.0px"></span>
<span class="btn" style="left:141.2px;width:15.0px"></span>
<span class="btn" style="left:160px;width:18.7px"></span>
<span class="btn" style="left:182.5px;width:18.7px"></span>
<span class="btn" style="left:205.5px;width:12.0px"></span>
<span class="btn" style="left:221.7px;width:12.0px"></span>
<span class="btn" style="left:238px;width:10.7px"></span>
<span class="btn" style="left:252px;width:11.7px"></span>
<span class="btn on" style="left:267px;width:10.0px"></span>
<span class="btn" style="left:280px;width:10.0px"></span>
<span class="btn" style="left:336.2px;width:16.3px"></span>
<span class="btn on" style="left:357.5px;width:23.7px"></span>
<span class="btn" style="left:385px;width:21.0px"></span>
<span style="left:595px;top:4px;width:33px;height:12px;background:#4ed24e;border-radius:2px"></span>
</div>
<div class="tb2">
<span class="tab" style="left:0px;width:35.5px"></span>
<span class="tab" style="left:35.5px;width:39.2px"></span>
<span class="tab" style="left:74.7px;width:15.0px"></span>
<span class="tab" style="left:89.7px;width:52.5px"></span>
<span class="tab" style="left:142.2px;width:115.0px"></span>
<span class="tab" style="left:257.2px;width:96.3px"></span>
</div>
<div class="left"></div>
<div class="bot"></div>
<div class="pt" style="top:576px;width:139px"></div>
<div class="pt" style="top:735px;width:75px"></div>
<svg class="ov" width="1600" height="859" viewBox="0 0 1600 859" font-family="Liberation Sans, Arial, sans-serif">
<text x="36.3" y="11.7" font-size="9.7" font-weight="bold" fill="#16222a" textLength="42.2" lengthAdjust="spacingAndGlyphs">HANGSENG</text>
<text x="99.7" y="11.7" font-size="9.7" font-weight="bold" fill="#16222a" textLength="11.8" lengthAdjust="spacingAndGlyphs">12s</text>
<text x="119.7" y="11.7" font-size="9.7" font-weight="bold" fill="#16222a" textLength="16.0" lengthAdjust="spacingAndGlyphs">144s</text>
<text x="143.7" y="11.7" font-size="9.7" font-weight="bold" fill="#16222a" textLength="10.5" lengthAdjust="spacingAndGlyphs">1m</text>
<text x="162.5" y="11.7" font-size="9.7" font-weight="bold" fill="#16222a" textLength="14.2" lengthAdjust="spacingAndGlyphs">12m</text>
<text x="184.5" y="11.7" font-size="9.7" font-weight="bold" fill="#16222a" textLength="14.7" lengthAdjust="spacingAndGlyphs">56m</text>
<text x="207.7" y="11.7" font-size="9.7" font-weight="bold" fill="#16222a" textLength="7.8" lengthAdjust="spacingAndGlyphs">1h</text>
<text x="223.7" y="11.7" font-size="9.7" font-weight="bold" fill="#16222a" textLength="8.3" lengthAdjust="spacingAndGlyphs">4h</text>
<text x="240.2" y="11.7" font-size="9.7" font-weight="bold" fill="#16222a" textLength="6.4" lengthAdjust="spacingAndGlyphs">D</text>
<text x="253.6" y="11.7" font-size="9.7" font-weight="bold" fill="#16222a" textLength="8.6" lengthAdjust="spacingAndGlyphs">W</text>
<text x="268.3" y="11.7" font-size="9.7" font-weight="bold" fill="#16222a" textLength="7.5" lengthAdjust="spacingAndGlyphs">M</text>
<text x="281.7" y="11.7" font-size="9.7" font-weight="bold" fill="#16222a" textLength="6.9" lengthAdjust="spacingAndGlyphs">Q</text>
<text x="338.0" y="11.7" font-size="9.7" font-weight="bold" fill="#16222a" textLength="12.8" lengthAdjust="spacingAndGlyphs">5kU</text>
<text x="359.7" y="11.7" font-size="9.7" font-weight="bold" fill="#16222a" textLength="19.5" lengthAdjust="spacingAndGlyphs">10kU</text>
<text x="387.0" y="11.7" font-size="9.7" font-weight="bold" fill="#16222a" textLength="19.0" lengthAdjust="spacingAndGlyphs">35kU</text>
<text x="298.7" y="11.7" font-size="9.7" font-weight="bold" fill="#16222a" textLength="21.3" lengthAdjust="spacingAndGlyphs">1 mes</text>
<text x="415.0" y="11.7" font-size="9.7" font-weight="bold" fill="#16222a" textLength="53.7" lengthAdjust="spacingAndGlyphs">10 k unidades</text>
<text x="502.5" y="11.7" font-size="9.7" font-weight="bold" fill="#16222a" textLength="43.7" lengthAdjust="spacingAndGlyphs">Indicadores</text>
<text x="597.5" y="11.7" font-size="9.3" fill="#ffffff" textLength="28.5" lengthAdjust="spacingAndGlyphs">+0,48 %</text>
<text x="631.7" y="11.7" font-size="9.7" font-weight="bold" fill="#16222a" textLength="39.5" lengthAdjust="spacingAndGlyphs">6 mar 2026</text>
<text x="675.5" y="11.7" font-size="9.4" fill="#101a20" textLength="96.5" lengthAdjust="spacingAndGlyphs">Hong Kong HS50 Cash ($1)</text>
<text x="72.5" y="27.9" font-size="9.4" font-weight="bold" fill="#16222a" textLength="23.7" lengthAdjust="spacingAndGlyphs">Precio</text>
<text x="126.2" y="27.9" font-size="9.4" font-weight="bold" fill="#16222a" textLength="38.3" lengthAdjust="spacingAndGlyphs">Cierre (W)</text>
<text x="179.5" y="27.9" font-size="9.4" font-weight="bold" fill="#16222a" textLength="99.2" lengthAdjust="spacingAndGlyphs">Tunel Domenec v4 (t t t t t)</text>
<text x="294.2" y="27.9" font-size="9.4" font-weight="bold" fill="#16222a" textLength="80.8" lengthAdjust="spacingAndGlyphs">Control Total Doc v.6</text>
<text x="50.0" y="585.3" font-size="9.4" font-weight="bold" fill="#16222a" textLength="109.5" lengthAdjust="spacingAndGlyphs">Sistema de trenes Doc v4 (f f)</text>
<text x="49.5" y="744.3" font-size="9.4" font-weight="bold" fill="#16222a" textLength="46.5" lengthAdjust="spacingAndGlyphs">Willy Doc (t)</text>
<rect x="63.5" y="22.5" width="5" height="5.5" fill="#fff" stroke="#7a8e9a" stroke-width="0.9"/>
<rect x="117.5" y="22.5" width="5" height="5.5" fill="#fff" stroke="#7a8e9a" stroke-width="0.9"/>
<rect x="170" y="22.3" width="6.2" height="6.2" fill="#7f8f93"/>
<rect x="284.2" y="21.8" width="1.8" height="7" fill="#a030c0"/><rect x="286.4" y="21.8" width="1.8" height="7" fill="#30a030"/><rect x="288.6" y="21.8" width="1.8" height="7" fill="#c03030"/>
<g stroke="#2a9a2a" stroke-width="1.6"><path d="M6 9v5M9 6v7M12 4v8"/></g>
<g fill="none" stroke="#5a6a74" stroke-width="1"><rect x="22.5" y="5.5" width="5" height="3.5" rx="1"/><rect x="22.5" y="10.5" width="5" height="3.5" rx="1"/></g>
<path d="M83.0 8.8l2.5 2.5l2.5-2.5" fill="none" stroke="#16222a" stroke-width="1.2"/>
<path d="M324.0 8.8l2.5 2.5l2.5-2.5" fill="none" stroke="#16222a" stroke-width="1.2"/>
<path d="M471.0 8.8l2.5 2.5l2.5-2.5" fill="none" stroke="#16222a" stroke-width="1.2"/>
<path d="M554.0 8.8l2.5 2.5l2.5-2.5" fill="none" stroke="#16222a" stroke-width="1.2"/>
<path d="M485 7q3 -5 6 0t6 -1" fill="none" stroke="#e03030" stroke-width="1.1"/><path d="M485 11q3 -4 6 0t6 -2" fill="none" stroke="#2a9a2a" stroke-width="1.1"/><path d="M485 14.5h12" stroke="#2a9a2a" stroke-width="2" stroke-dasharray="2 1"/>
<rect x="569.5" y="5.5" width="7" height="8" fill="#e8eef2" stroke="#9fb0ba" stroke-width="0.8"/><path d="M573 7.5v4.5" stroke="#fff" stroke-width="1.6"/>
<circle cx="587" cy="9.5" r="3" fill="#8a8a8a" stroke="#b8c4cc" stroke-width="0.8"/>
<path d="M1550 7a4 4 0 0 1 7 -1" fill="none" stroke="#e03030" stroke-width="1.8"/><path d="M1558 11a4 4 0 0 1 -7 1" fill="none" stroke="#2aa02a" stroke-width="1.8"/><path d="M1556 3.5l2 3l-3.5 0.5zM1552 15.5l-2 -3l3.5 -0.5z" fill="#2aa02a"/>
<g stroke="#6a8796" stroke-width="1.2" fill="none"><path d="M1569 13h6"/><rect x="1580.5" y="7.5" width="4.5" height="4"/><path d="M1582.5 7.5v-1.5h4.5v4h-2"/><path d="M1592 6l6 7M1598 6l-6 7"/></g>
<path d="M8.500 25l3-3l3 3" fill="none" stroke="#5f7d8d" stroke-width="1"/><path d="M1 27.500h21" stroke="#86a8b6" stroke-width="1"/>
<rect x="26.5" y="21.5" width="8" height="8" rx="1" fill="#fff" stroke="#b0bcc4" stroke-width="0.8"/><path d="M30.5 23v5M28 25.5h5" stroke="#e02020" stroke-width="1.6"/>
<rect x="37.5" y="21.5" width="8" height="8" rx="1" fill="#fff" stroke="#b0bcc4" stroke-width="0.8"/><path d="M41.5 28.5v-5M39 25.5l2.5 -2.5l2.5 2.5" stroke="#20a020" stroke-width="1.6" fill="none"/>
<circle cx="52.5" cy="25.5" r="4" fill="#4a78b4"/><path d="M50.7 23.7l3.6 3.6M54.3 23.7l-3.6 3.6" stroke="#fff" stroke-width="1.2"/>
<g stroke="#3a4a54" stroke-width="1.2"><path d="M102 23h1.5M105 23h5M102 25.5h1.5M105 25.5h5M102 28h1.5M105 28h5"/></g>
<circle cx="29.5" cy="582" r="4" fill="#4a78b4"/><path d="M27.7 580.2l3.6 3.6M31.3 580.2l-3.6 3.6" stroke="#fff" stroke-width="1.2"/>
<path d="M38.5 576v12" stroke="#7f9daf" stroke-width="1"/>
<circle cx="29.5" cy="741" r="4" fill="#4a78b4"/><path d="M27.7 739.2l3.6 3.6M31.3 739.2l-3.6 3.6" stroke="#fff" stroke-width="1.2"/>
<path d="M38.5 735v12" stroke="#7f9daf" stroke-width="1"/>
<rect x="41" y="579" width="2" height="6" fill="#555"/><rect x="43.5" y="579" width="3" height="6" fill="#111"/>
<rect x="41" y="738" width="6" height="6" fill="#7f8f93"/>
<rect x="3" y="29.8" width="17" height="17" rx="2" fill="#8ca9b5" stroke="#7a98a6" stroke-width="1"/>
<path d="M9 33.5v10l2.6-2.4l1.8 3.6l1.4-0.7l-1.8-3.5l3.4-0.2z" fill="#e8e8e8" stroke="#666" stroke-width="0.8"/>
<circle cx="10" cy="55.5" r="3.4" fill="#e8f0f4" stroke="#333" stroke-width="1.3"/><path d="M12.5 58l3.5 3.8" stroke="#333" stroke-width="2"/>
<rect x="4" y="71" width="9" height="8" fill="none" stroke="#2a5ad0" stroke-width="1" stroke-dasharray="1.5 1"/><circle cx="12" cy="73.5" r="3.4" fill="#e8f0f4" stroke="#333" stroke-width="1.3"/><path d="M14.5 76l3.5 3.8" stroke="#333" stroke-width="2"/>
<path d="M5 97q2-2 2-6a3 3.4 0 0 1 6 0q0 4 2 6z" fill="#f5d020" stroke="#a88a10" stroke-width="0.8"/><circle cx="10" cy="98.2" r="1.2" fill="#a88a10"/><path d="M12 87l5 5M17 87l-5 5" stroke="#3060d0" stroke-width="1.3"/>
<path d="M6 115q2-2 2-6a3 3.4 0 0 1 6 0q0 4 2 6z" fill="#f5d020" stroke="#a88a10" stroke-width="0.8"/><circle cx="11" cy="116.2" r="1.2" fill="#a88a10"/>
<path d="M4 134l3-7l3 5h8" fill="none" stroke="#1a3ad0" stroke-width="1.2"/><path d="M10 132h8" stroke="#f04040" stroke-width="1" stroke-dasharray="2 1.5"/><text x="14" y="137.5" font-size="7" font-weight="bold" fill="#1a3ad0">F</text>
<path d="M5 150h11" stroke="#f06060" stroke-width="1" stroke-dasharray="2 1.5"/><text x="14" y="156" font-size="7" font-weight="bold" fill="#1a3ad0">F</text>
<rect x="6" y="163" width="9" height="6" fill="none" stroke="#1a3ad0" stroke-width="1.1"/><circle cx="6" cy="169" r="1.3" fill="#1a3ad0"/><circle cx="15" cy="163" r="1.3" fill="#1a3ad0"/>
<rect x="6" y="181" width="9" height="7" fill="#f08080" stroke="#d02020" stroke-width="1.1"/><circle cx="6" cy="188" r="1.3" fill="#1a3ad0"/><circle cx="15" cy="181" r="1.3" fill="#1a3ad0"/>
<path d="M6 208l9-9" stroke="#111" stroke-width="2"/><path d="M16.5 197.5l-5.5 1.2l4.3 4.3z" fill="#111"/>
<rect x="6" y="216.5" width="10" height="10" rx="1.5" fill="#f4f4f4" stroke="#2a5ad0" stroke-width="1"/><text x="11" y="225" font-size="9" font-weight="bold" fill="#111" text-anchor="middle" font-family="Liberation Serif, serif">T</text>
<ellipse cx="11.5" cy="240" rx="5.5" ry="5.2" fill="#f4f4f4" stroke="#2a5ad0" stroke-width="1"/><text x="11.5" y="243.5" font-size="9" font-weight="bold" fill="#1a8a1a" text-anchor="middle" font-family="Liberation Serif, serif">T</text>
<path d="M7 263l8-8" stroke="#333" stroke-width="1.1"/><circle cx="6.5" cy="263.5" r="1.6" fill="#ddd" stroke="#333" stroke-width="0.8"/><circle cx="15.5" cy="254.5" r="1.6" fill="#ddd" stroke="#333" stroke-width="0.8"/>
<circle cx="10" cy="277.5" r="1.5" fill="none" stroke="#50d050" stroke-width="1"/><path d="M11.5 277.5h7" stroke="#50d050" stroke-width="1.2"/>
<circle cx="10" cy="296" r="1.5" fill="none" stroke="#40c040" stroke-width="1"/><path d="M11.5 296h7" stroke="#40c040" stroke-width="1.2"/>
<circle cx="10" cy="314" r="1.5" fill="none" stroke="#108010" stroke-width="1"/><path d="M11.5 314h7" stroke="#108010" stroke-width="1.2"/>
<circle cx="10" cy="332" r="1.5" fill="none" stroke="#e02020" stroke-width="1"/><path d="M11.5 332h7" stroke="#e02020" stroke-width="1.2"/>
<path d="M5 355l9-9l3.5 3.5l-9 9z" fill="#c8ccd0" stroke="#666" stroke-width="0.8"/>
<path d="M5 365h14M5 376h14" stroke="#50c050" stroke-width="0.9" stroke-dasharray="1.5 1"/><path d="M5 373l3-5l3 4l3-5l4 4" fill="none" stroke="#e08080" stroke-width="1"/>
<ellipse cx="11.5" cy="387.5" rx="5.5" ry="4" fill="#f0a0a0" stroke="#e02020" stroke-width="1.1" transform="rotate(-20 11.5 387.5)"/><circle cx="5.5" cy="390.5" r="1.2" fill="#1a3ad0"/><circle cx="17.5" cy="384.5" r="1.2" fill="#1a3ad0"/>
<ellipse cx="11.5" cy="405.5" rx="5.5" ry="4" fill="#c8b090" stroke="#a06020" stroke-width="1.1" transform="rotate(-20 11.5 405.5)"/><circle cx="5.5" cy="408.5" r="1.2" fill="#1a3ad0"/><circle cx="17.5" cy="402.5" r="1.2" fill="#1a3ad0"/>
<ellipse cx="11.5" cy="424" rx="5.5" ry="4" fill="#90c890" stroke="#108010" stroke-width="1.1" transform="rotate(-20 11.5 424)"/><circle cx="5.5" cy="427" r="1.2" fill="#1a3ad0"/><circle cx="17.5" cy="421" r="1.2" fill="#1a3ad0"/>
<ellipse cx="11.5" cy="442.5" rx="5.5" ry="4" fill="#a0f0a0" stroke="#20d020" stroke-width="1.1" transform="rotate(-20 11.5 442.5)"/><circle cx="5.5" cy="445.5" r="1.2" fill="#1a3ad0"/><circle cx="17.5" cy="439.5" r="1.2" fill="#1a3ad0"/>
<path d="M4 468l15-14" stroke="#222" stroke-width="1.2"/>
<path d="M4 486l15-14" stroke="#20b020" stroke-width="1.2"/>
<path d="M4 504.5l15-14" stroke="#e02020" stroke-width="1.2"/>
<path d="M4 516.5h15" stroke="#333" stroke-width="1"/>
<path d="M4 534.5h15" stroke="#f09080" stroke-width="1.4"/>
<path d="M4 552.5h15" stroke="#20e020" stroke-width="1.4"/>
<path d="M4 571h15" stroke="#108010" stroke-width="1.4"/>
<path d="M4 589.5h15" stroke="#e02020" stroke-width="1.4"/>
<path d="M4 608h15" stroke="#70a8f0" stroke-width="1.4"/>
<path d="M4 626h15" stroke="#1010a0" stroke-width="1.4"/>
<path d="M11.5 637v15" stroke="#333" stroke-width="1"/>
<path d="M5 668h12M5 668l10-10" fill="none" stroke="#e04040" stroke-width="1"/><path d="M11 668a6 6 0 0 0 -1.8 -4.3" fill="none" stroke="#1a3ad0" stroke-width="1"/><text x="14" y="664" font-size="6" fill="#1a3ad0">α</text>
<circle cx="11" cy="681.5" r="5.2" fill="none" stroke="#f08020" stroke-width="1.1"/><path d="M9 683l4-3M11 679.5v4" stroke="#1a3ad0" stroke-width="1"/>
<text x="3.5" y="699" font-size="7" font-weight="bold" fill="#1a3ad0">1</text><text x="8" y="703" font-size="7" font-weight="bold" fill="#1a3ad0">3</text><text x="13" y="698" font-size="7" font-weight="bold" fill="#1a3ad0">5</text><text x="6" y="708" font-size="7" font-weight="bold" fill="#1a3ad0">2</text><text x="13" y="706" font-size="7" font-weight="bold" fill="#1a3ad0">4</text>
<text x="4" y="722" font-size="7" font-weight="bold" fill="#1a3ad0">a</text><text x="13" y="717" font-size="7" font-weight="bold" fill="#1a3ad0">b</text><text x="10" y="726" font-size="7" font-weight="bold" fill="#1a3ad0">c</text><path d="M5 712l9 12" stroke="#1a3ad0" stroke-width="0.7" stroke-dasharray="1 1"/>
<path d="M5 738l4 5l8-11" fill="none" stroke="#30b030" stroke-width="2.6"/>
<path d="M5 755h3v7h-3zM8.5 755.5l3-5.5q2 0 1.6 2.2l-0.6 2.3h3.6q1.4 0.3 1 1.8l-1.2 4.3q-0.4 1.2-1.8 1.2h-5.6z" fill="#40b840" stroke="#208020" stroke-width="0.6"/>
<path d="M6 768l10 10M16 768l-10 10" stroke="#e81010" stroke-width="3.2"/>
<path d="M8.5 789l2.5-3.5l2.5 3.5z" fill="#f0a020"/>
<rect x="1" y="790" width="19" height="8.5" fill="#a9c5d2" stroke="#8aa8b8" stroke-width="0.8"/><path d="M8.5 793.3l2.5 2.5l2.5-2.5" fill="none" stroke="#16222a" stroke-width="1.2"/>
<rect x="7" y="804" width="8" height="10" fill="#f4f4f4" stroke="#555" stroke-width="0.8"/><rect x="9.5" y="807" width="8" height="9" fill="#f4f4f4" stroke="#555" stroke-width="0.8"/><circle cx="7" cy="804.5" r="2.8" fill="#30a030"/><text x="7" y="806.7" font-size="5.5" font-weight="bold" fill="#fff" text-anchor="middle">1</text><path d="M14 815l4 2" stroke="#111" stroke-width="1.2"/>
<circle cx="7" cy="831.5" r="1.1" fill="#222"/><circle cx="11" cy="831.5" r="1.1" fill="#222"/><circle cx="15" cy="831.5" r="1.1" fill="#222"/><path d="M13.5 836h4l-2 2.2z" fill="#222"/>
<rect x="0.5" y="845.5" width="19" height="13" fill="#8fa9b7" stroke="#7a96a6" stroke-width="0.8"/><path d="M6 857l2-7l7-4l-3 8z" fill="#f0b030" stroke="#a06010" stroke-width="0.6"/><path d="M4 848l5 8" stroke="#30a030" stroke-width="1.6"/><path d="M15 847l-3 10" stroke="#e03030" stroke-width="1.4"/>
<g fill="#f4f4f4" stroke="#555" stroke-width="0.9"><circle cx="35" cy="849" r="1.8"/><circle cx="28" cy="853" r="1.8"/><circle cx="35" cy="857" r="1.6"/></g><path d="M29.5 852l4-2.3M29.5 854l4 2.3" stroke="#555" stroke-width="0.9"/>
<rect x="45.500" y="847.5" width="7" height="8" fill="#f4f4f4" stroke="#778" stroke-width="0.8"/><rect x="47.5" y="851.500" width="9" height="6" rx="1.5" fill="#3a7ae0" stroke="#2050a0" stroke-width="0.6"/><path d="M49.5 854.5h5" stroke="#fff" stroke-width="1" stroke-dasharray="1 1"/>
<rect x="63.5" y="847.5" width="8" height="10" fill="#f8f8f8" stroke="#555" stroke-width="0.8"/><path d="M65 850h5M65 852h5M65 854h3" stroke="#e03030" stroke-width="0.8"/><path d="M66 856l2 1.5l3-4" stroke="#30a030" stroke-width="1.2" fill="none"/>
<path d="M79 847h5v3.500h1.5v3h-1.500v4h-5z" fill="#30a830" stroke="#187018" stroke-width="0.6"/><path d="M85.500 847.500h4v10h-4v-3.500h1.5v-3h-1.500z" fill="#e83030" stroke="#901010" stroke-width="0.6"/>
<rect x="96.500" y="847.500" width="8" height="6" fill="#f4f4f4" stroke="#3a6ad0" stroke-width="0.9"/><rect x="99.500" y="851.500" width="8.500" height="6.500" fill="#f4f4f4" stroke="#3a6ad0" stroke-width="0.9"/><path d="M100.5 856.5l2-2.5l2 2l2.500-3" fill="none" stroke="#e03030" stroke-width="0.9"/>
<text x="112.5" y="856.5" font-size="10.5" fill="#4a6a7c">«</text>
<rect x="123.5" y="846.5" width="1351" height="11.5" rx="1.5" fill="#9fc0cc" stroke="#7fa3b1" stroke-width="0.8"/>
<rect x="123.5" y="846.5" width="10.500" height="11.500" rx="1.5" fill="#d4e2ea" stroke="#7f9daf" stroke-width="0.8"/><path d="M130 850l-2.5 2.500l2.500 2.500" fill="none" stroke="#222" stroke-width="1.1"/>
<rect x="134.5" y="846.5" width="27" height="11.500" rx="1" fill="#b3cfd9" stroke="#86a8b6" stroke-width="0.8"/>
<rect x="1464" y="846.5" width="10.500" height="11.500" rx="1.5" fill="#d4e2ea" stroke="#7f9daf" stroke-width="0.8"/><path d="M1468 850l2.500 2.500l-2.500 2.500" fill="none" stroke="#222" stroke-width="1.1"/>
<path d="M1490 856a4 4 0 0 0 -2 -7h-5m2.500-2.500l-2.500 2.500l2.500 2.500" fill="none" stroke="#6a9ae0" stroke-width="1.6"/>
<path d="M1500 856a4 4 0 0 1 2 -7h5m-2.500-2.500l2.500 2.500l-2.500 2.500" fill="none" stroke="#6a9ae0" stroke-width="1.600"/>
<path d="M1518 857l6-6" stroke="#e03030" stroke-width="2.400"/><circle cx="1525" cy="850" r="2.500" fill="#ddd" stroke="#666" stroke-width="0.8"/><rect x="1522" y="847" width="3" height="5" fill="#30a030"/>
<circle cx="1539" cy="851.5" r="3.4" fill="#e8f0f4" stroke="#222" stroke-width="1.3"/><path d="M1541.5 854l3.5 3.8" stroke="#222" stroke-width="2"/><path d="M1546 848v8M1544.500 849.500l1.500-2l1.500 2M1544.500 854.500l1.500 2l1.500-2" fill="none" stroke="#1a3ad0" stroke-width="0.9"/>
<circle cx="1557" cy="851.5" r="3.4" fill="#e8f0f4" stroke="#222" stroke-width="1.3"/><path d="M1559.5 854l3.5 3.8" stroke="#222" stroke-width="2"/><path d="M1555 851.500h4" stroke="#1a3ad0" stroke-width="1.2"/>
<circle cx="1575" cy="851.5" r="3.4" fill="#e8f0f4" stroke="#222" stroke-width="1.3"/><path d="M1577.5 854l3.5 3.8" stroke="#222" stroke-width="2"/><path d="M1573 851.500h4M1575 849.500v4" stroke="#1a3ad0" stroke-width="1.2"/>
<path d="M1590 849h9" stroke="#222" stroke-width="1.2" stroke-dasharray="1.5 1"/><path d="M1594.500 851v5M1592.500 854l2 2.500l2-2.500" fill="none" stroke="#1a3ad0" stroke-width="1.100"/>
</svg>
</body></html>
